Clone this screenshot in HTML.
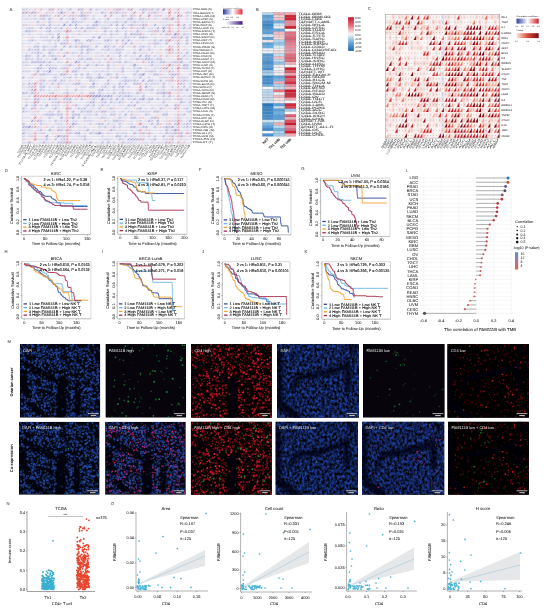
<!DOCTYPE html>
<html><head><meta charset="utf-8"><style>
html,body{margin:0;padding:0;background:#fff;}
svg{display:block;font-family:"Liberation Sans", sans-serif;text-rendering:geometricPrecision;will-change:transform;}
</style></head><body>
<svg width="550" height="609" viewBox="0 0 550 609">
<defs><pattern id="pA" patternUnits="userSpaceOnUse" x="22" y="8" width="2.92" height="3.09"><path d="M0.35 1.7h.45M1.32 1.7h.45M2.19 1.7h.45" stroke="#9494ac" stroke-width="0.55"/></pattern>
<filter id="fD1" x="0" y="0" width="1" height="1" color-interpolation-filters="sRGB"><feTurbulence type="fractalNoise" baseFrequency="0.44" numOctaves="2" seed="11"/><feColorMatrix type="matrix" values="0.2 0 0 0 -0.04  0.42 0 0 0 -0.1  1.05 0 0 0 -0.26  0 0 0 0 1"/></filter>
<filter id="fRh" x="0" y="0" width="1" height="1" color-interpolation-filters="sRGB"><feTurbulence type="fractalNoise" baseFrequency="0.32" numOctaves="2" seed="23"/><feColorMatrix type="matrix" values="1.9 0 0 0 -1.02  0.1 0 0 0 -0.06  0.3 0 0 0 -0.17  0 0 0 0 1"/></filter>
<filter id="fRl" x="0" y="0" width="1" height="1" color-interpolation-filters="sRGB"><feTurbulence type="fractalNoise" baseFrequency="0.3" numOctaves="2" seed="29"/><feColorMatrix type="matrix" values="1.6 0 0 0 -0.97  0.08 0 0 0 -0.05  0.2 0 0 0 -0.12  0 0 0 0 1"/></filter>
<filter id="fD2" x="0" y="0" width="1" height="1" color-interpolation-filters="sRGB"><feTurbulence type="fractalNoise" baseFrequency="0.4 0.33" numOctaves="2" seed="5"/><feColorMatrix type="matrix" values="0.22 0 0 0 -0.05  0.5 0 0 0 -0.13  1.25 0 0 0 -0.32  0 0 0 0 1"/></filter>
<filter id="bl1" x="-50%" y="-50%" width="200%" height="200%"><feGaussianBlur stdDeviation="0.45"/></filter>
<filter id="bl2" x="-50%" y="-50%" width="200%" height="200%"><feGaussianBlur stdDeviation="1.8"/></filter>
<clipPath id="mc1"><rect x="19.8" y="344" width="80.5" height="73.7"/></clipPath>
<clipPath id="mc2"><rect x="105.4" y="344" width="80.8" height="73.7"/></clipPath>
<clipPath id="mc3"><rect x="191.1" y="344" width="80.7" height="73.7"/></clipPath>
<clipPath id="mc4"><rect x="277" y="344" width="81.9" height="73.7"/></clipPath>
<clipPath id="mc5"><rect x="363" y="344" width="81.8" height="73.7"/></clipPath>
<clipPath id="mc6"><rect x="447.4" y="344" width="81.5" height="73.7"/></clipPath>
<clipPath id="mc7"><rect x="18.9" y="421.7" width="80.7" height="73.1"/></clipPath>
<clipPath id="mc8"><rect x="105.1" y="421.7" width="80.7" height="73.1"/></clipPath>
<clipPath id="mc9"><rect x="190.9" y="421.7" width="80.9" height="73.1"/></clipPath>
<clipPath id="mc10"><rect x="275.6" y="421.7" width="82.4" height="73.1"/></clipPath>
<clipPath id="mc11"><rect x="362" y="421.7" width="82.3" height="73.1"/></clipPath>
<clipPath id="mc12"><rect x="448.1" y="421.7" width="80.8" height="73.1"/></clipPath></defs>
<rect width="550" height="609" fill="#fff"/>
<rect x="22" y="8" width="169.5" height="136" fill="#f5f4fa"/>
<path fill="#ececf8" d="M22 8h8.8v3.1h-8.8zM39.5 8h2.9v3.1h-2.9zM57.1 8h5.8v3.1h-5.8zM65.8 8h2.9v3.1h-2.9zM95.1 8h5.8v3.1h-5.8zM103.8 8h2.9v3.1h-2.9zM112.6 8h2.9v3.1h-2.9zM121.4 8h2.9v3.1h-2.9zM138.9 8h2.9v3.1h-2.9zM147.7 8h2.9v3.1h-2.9zM153.5 8h2.9v3.1h-2.9zM174 8h2.9v3.1h-2.9zM27.8 11.1h2.9v3.1h-2.9zM45.4 11.1h8.8v3.1h-8.8zM57.1 11.1h2.9v3.1h-2.9zM62.9 11.1h5.8v3.1h-5.8zM86.3 11.1h5.8v3.1h-5.8zM95.1 11.1h2.9v3.1h-2.9zM103.8 11.1h2.9v3.1h-2.9zM112.6 11.1h2.9v3.1h-2.9zM118.4 11.1h8.8v3.1h-8.8zM130.1 11.1h2.9v3.1h-2.9zM147.7 11.1h5.8v3.1h-5.8zM159.4 11.1h2.9v3.1h-2.9zM174 11.1h2.9v3.1h-2.9zM188.6 11.1h2.9v3.1h-2.9zM22 14.2h2.9v3.1h-2.9zM27.8 14.2h8.8v3.1h-8.8zM48.3 14.2h2.9v3.1h-2.9zM62.9 14.2h17.5v3.1h-17.5zM86.3 14.2h2.9v3.1h-2.9zM92.1 14.2h2.9v3.1h-2.9zM124.3 14.2h2.9v3.1h-2.9zM133.1 14.2h2.9v3.1h-2.9zM153.5 14.2h5.8v3.1h-5.8zM165.2 14.2h2.9v3.1h-2.9zM185.7 14.2h2.9v3.1h-2.9zM22 17.3h20.5v3.1h-20.5zM51.2 17.3h2.9v3.1h-2.9zM65.8 17.3h5.8v3.1h-5.8zM74.6 17.3h2.9v3.1h-2.9zM80.4 17.3h2.9v3.1h-2.9zM86.3 17.3h2.9v3.1h-2.9zM92.1 17.3h2.9v3.1h-2.9zM98 17.3h2.9v3.1h-2.9zM103.8 17.3h2.9v3.1h-2.9zM115.5 17.3h8.8v3.1h-8.8zM133.1 17.3h2.9v3.1h-2.9zM141.8 17.3h8.8v3.1h-8.8zM153.5 17.3h5.8v3.1h-5.8zM162.3 17.3h2.9v3.1h-2.9zM174 17.3h2.9v3.1h-2.9zM185.7 17.3h2.9v3.1h-2.9zM51.2 20.4h2.9v3.1h-2.9zM60 20.4h2.9v3.1h-2.9zM65.8 20.4h2.9v3.1h-2.9zM77.5 20.4h5.8v3.1h-5.8zM92.1 20.4h2.9v3.1h-2.9zM98 20.4h2.9v3.1h-2.9zM103.8 20.4h11.7v3.1h-11.7zM118.4 20.4h5.8v3.1h-5.8zM130.1 20.4h2.9v3.1h-2.9zM136 20.4h11.7v3.1h-11.7zM159.4 20.4h8.8v3.1h-8.8zM22 23.5h2.9v3.1h-2.9zM27.8 23.5h2.9v3.1h-2.9zM36.6 23.5h5.8v3.1h-5.8zM51.2 23.5h8.8v3.1h-8.8zM65.8 23.5h2.9v3.1h-2.9zM71.7 23.5h2.9v3.1h-2.9zM77.5 23.5h2.9v3.1h-2.9zM86.3 23.5h2.9v3.1h-2.9zM98 23.5h11.7v3.1h-11.7zM127.2 23.5h2.9v3.1h-2.9zM133.1 23.5h5.8v3.1h-5.8zM162.3 23.5h5.8v3.1h-5.8zM171 23.5h2.9v3.1h-2.9zM179.8 23.5h2.9v3.1h-2.9zM188.6 23.5h2.9v3.1h-2.9zM24.9 26.5h8.8v3.1h-8.8zM54.1 26.5h5.8v3.1h-5.8zM68.8 26.5h2.9v3.1h-2.9zM83.4 26.5h2.9v3.1h-2.9zM100.9 26.5h2.9v3.1h-2.9zM106.8 26.5h2.9v3.1h-2.9zM115.5 26.5h2.9v3.1h-2.9zM124.3 26.5h2.9v3.1h-2.9zM133.1 26.5h2.9v3.1h-2.9zM138.9 26.5h2.9v3.1h-2.9zM147.7 26.5h5.8v3.1h-5.8zM165.2 26.5h2.9v3.1h-2.9zM179.8 26.5h2.9v3.1h-2.9zM185.7 26.5h2.9v3.1h-2.9zM30.8 29.6h2.9v3.1h-2.9zM45.4 29.6h2.9v3.1h-2.9zM54.1 29.6h11.7v3.1h-11.7zM77.5 29.6h2.9v3.1h-2.9zM89.2 29.6h2.9v3.1h-2.9zM109.7 29.6h2.9v3.1h-2.9zM118.4 29.6h2.9v3.1h-2.9zM124.3 29.6h2.9v3.1h-2.9zM130.1 29.6h2.9v3.1h-2.9zM138.9 29.6h2.9v3.1h-2.9zM147.7 29.6h5.8v3.1h-5.8zM171 29.6h2.9v3.1h-2.9zM182.7 29.6h2.9v3.1h-2.9zM22 32.7h2.9v3.1h-2.9zM27.8 32.7h2.9v3.1h-2.9zM36.6 32.7h5.8v3.1h-5.8zM45.4 32.7h8.8v3.1h-8.8zM65.8 32.7h2.9v3.1h-2.9zM71.7 32.7h2.9v3.1h-2.9zM77.5 32.7h5.8v3.1h-5.8zM86.3 32.7h2.9v3.1h-2.9zM95.1 32.7h2.9v3.1h-2.9zM100.9 32.7h5.8v3.1h-5.8zM112.6 32.7h5.8v3.1h-5.8zM141.8 32.7h2.9v3.1h-2.9zM150.6 32.7h2.9v3.1h-2.9zM159.4 32.7h2.9v3.1h-2.9zM171 32.7h2.9v3.1h-2.9zM179.8 32.7h2.9v3.1h-2.9zM185.7 32.7h5.8v3.1h-5.8zM30.8 35.8h2.9v3.1h-2.9zM39.5 35.8h8.8v3.1h-8.8zM62.9 35.8h2.9v3.1h-2.9zM71.7 35.8h2.9v3.1h-2.9zM103.8 35.8h2.9v3.1h-2.9zM109.7 35.8h5.8v3.1h-5.8zM118.4 35.8h5.8v3.1h-5.8zM127.2 35.8h8.8v3.1h-8.8zM144.7 35.8h2.9v3.1h-2.9zM153.5 35.8h2.9v3.1h-2.9zM162.3 35.8h5.8v3.1h-5.8zM182.7 35.8h2.9v3.1h-2.9zM27.8 38.9h2.9v3.1h-2.9zM33.7 38.9h2.9v3.1h-2.9zM42.5 38.9h5.8v3.1h-5.8zM54.1 38.9h2.9v3.1h-2.9zM62.9 38.9h2.9v3.1h-2.9zM71.7 38.9h2.9v3.1h-2.9zM92.1 38.9h5.8v3.1h-5.8zM109.7 38.9h2.9v3.1h-2.9zM124.3 38.9h2.9v3.1h-2.9zM130.1 38.9h2.9v3.1h-2.9zM136 38.9h2.9v3.1h-2.9zM141.8 38.9h2.9v3.1h-2.9zM147.7 38.9h5.8v3.1h-5.8zM156.4 38.9h2.9v3.1h-2.9zM162.3 38.9h2.9v3.1h-2.9zM171 38.9h5.8v3.1h-5.8zM22 42h2.9v3.1h-2.9zM27.8 42h2.9v3.1h-2.9zM36.6 42h2.9v3.1h-2.9zM48.3 42h2.9v3.1h-2.9zM54.1 42h2.9v3.1h-2.9zM68.8 42h2.9v3.1h-2.9zM74.6 42h8.8v3.1h-8.8zM89.2 42h2.9v3.1h-2.9zM95.1 42h5.8v3.1h-5.8zM103.8 42h8.8v3.1h-8.8zM138.9 42h2.9v3.1h-2.9zM147.7 42h2.9v3.1h-2.9zM159.4 42h2.9v3.1h-2.9zM174 42h2.9v3.1h-2.9zM179.8 42h2.9v3.1h-2.9zM45.4 45.1h8.8v3.1h-8.8zM71.7 45.1h2.9v3.1h-2.9zM89.2 45.1h2.9v3.1h-2.9zM109.7 45.1h2.9v3.1h-2.9zM118.4 45.1h2.9v3.1h-2.9zM127.2 45.1h2.9v3.1h-2.9zM138.9 45.1h2.9v3.1h-2.9zM144.7 45.1h5.8v3.1h-5.8zM153.5 45.1h2.9v3.1h-2.9zM159.4 45.1h2.9v3.1h-2.9zM171 45.1h2.9v3.1h-2.9zM182.7 45.1h2.9v3.1h-2.9zM30.8 48.2h5.8v3.1h-5.8zM45.4 48.2h5.8v3.1h-5.8zM54.1 48.2h2.9v3.1h-2.9zM77.5 48.2h2.9v3.1h-2.9zM92.1 48.2h2.9v3.1h-2.9zM100.9 48.2h5.8v3.1h-5.8zM109.7 48.2h5.8v3.1h-5.8zM121.4 48.2h2.9v3.1h-2.9zM133.1 48.2h2.9v3.1h-2.9zM141.8 48.2h2.9v3.1h-2.9zM150.6 48.2h2.9v3.1h-2.9zM185.7 48.2h2.9v3.1h-2.9zM24.9 51.3h2.9v3.1h-2.9zM30.8 51.3h5.8v3.1h-5.8zM39.5 51.3h2.9v3.1h-2.9zM51.2 51.3h2.9v3.1h-2.9zM62.9 51.3h2.9v3.1h-2.9zM68.8 51.3h8.8v3.1h-8.8zM95.1 51.3h5.8v3.1h-5.8zM103.8 51.3h2.9v3.1h-2.9zM109.7 51.3h8.8v3.1h-8.8zM127.2 51.3h2.9v3.1h-2.9zM138.9 51.3h8.8v3.1h-8.8zM156.4 51.3h2.9v3.1h-2.9zM165.2 51.3h2.9v3.1h-2.9zM171 51.3h5.8v3.1h-5.8zM179.8 51.3h2.9v3.1h-2.9zM22 54.4h2.9v3.1h-2.9zM48.3 54.4h2.9v3.1h-2.9zM54.1 54.4h5.8v3.1h-5.8zM71.7 54.4h2.9v3.1h-2.9zM80.4 54.4h8.8v3.1h-8.8zM95.1 54.4h2.9v3.1h-2.9zM100.9 54.4h2.9v3.1h-2.9zM112.6 54.4h2.9v3.1h-2.9zM124.3 54.4h2.9v3.1h-2.9zM130.1 54.4h5.8v3.1h-5.8zM153.5 54.4h2.9v3.1h-2.9zM165.2 54.4h2.9v3.1h-2.9zM185.7 54.4h5.8v3.1h-5.8zM27.8 57.5h5.8v3.1h-5.8zM39.5 57.5h2.9v3.1h-2.9zM45.4 57.5h2.9v3.1h-2.9zM51.2 57.5h2.9v3.1h-2.9zM65.8 57.5h5.8v3.1h-5.8zM77.5 57.5h2.9v3.1h-2.9zM83.4 57.5h2.9v3.1h-2.9zM95.1 57.5h5.8v3.1h-5.8zM103.8 57.5h2.9v3.1h-2.9zM112.6 57.5h2.9v3.1h-2.9zM118.4 57.5h2.9v3.1h-2.9zM130.1 57.5h5.8v3.1h-5.8zM138.9 57.5h5.8v3.1h-5.8zM150.6 57.5h5.8v3.1h-5.8zM185.7 57.5h2.9v3.1h-2.9zM22 60.5h5.8v3.1h-5.8zM45.4 60.5h2.9v3.1h-2.9zM51.2 60.5h2.9v3.1h-2.9zM57.1 60.5h5.8v3.1h-5.8zM83.4 60.5h2.9v3.1h-2.9zM92.1 60.5h2.9v3.1h-2.9zM98 60.5h2.9v3.1h-2.9zM109.7 60.5h8.8v3.1h-8.8zM127.2 60.5h5.8v3.1h-5.8zM144.7 60.5h5.8v3.1h-5.8zM153.5 60.5h5.8v3.1h-5.8zM165.2 60.5h8.8v3.1h-8.8zM182.7 60.5h2.9v3.1h-2.9zM188.6 60.5h2.9v3.1h-2.9zM22 63.6h8.8v3.1h-8.8zM45.4 63.6h11.7v3.1h-11.7zM62.9 63.6h5.8v3.1h-5.8zM71.7 63.6h2.9v3.1h-2.9zM89.2 63.6h5.8v3.1h-5.8zM98 63.6h5.8v3.1h-5.8zM112.6 63.6h2.9v3.1h-2.9zM121.4 63.6h2.9v3.1h-2.9zM130.1 63.6h2.9v3.1h-2.9zM136 63.6h2.9v3.1h-2.9zM147.7 63.6h2.9v3.1h-2.9zM153.5 63.6h8.8v3.1h-8.8zM165.2 63.6h2.9v3.1h-2.9zM171 63.6h5.8v3.1h-5.8zM33.7 66.7h2.9v3.1h-2.9zM42.5 66.7h2.9v3.1h-2.9zM60 66.7h2.9v3.1h-2.9zM74.6 66.7h2.9v3.1h-2.9zM80.4 66.7h2.9v3.1h-2.9zM112.6 66.7h2.9v3.1h-2.9zM127.2 66.7h2.9v3.1h-2.9zM133.1 66.7h5.8v3.1h-5.8zM144.7 66.7h2.9v3.1h-2.9zM153.5 66.7h8.8v3.1h-8.8zM171 66.7h2.9v3.1h-2.9zM179.8 66.7h2.9v3.1h-2.9zM188.6 66.7h2.9v3.1h-2.9zM22 69.8h8.8v3.1h-8.8zM33.7 69.8h2.9v3.1h-2.9zM42.5 69.8h5.8v3.1h-5.8zM51.2 69.8h2.9v3.1h-2.9zM57.1 69.8h2.9v3.1h-2.9zM62.9 69.8h2.9v3.1h-2.9zM77.5 69.8h2.9v3.1h-2.9zM86.3 69.8h2.9v3.1h-2.9zM92.1 69.8h17.5v3.1h-17.5zM112.6 69.8h8.8v3.1h-8.8zM130.1 69.8h5.8v3.1h-5.8zM144.7 69.8h5.8v3.1h-5.8zM153.5 69.8h2.9v3.1h-2.9zM159.4 69.8h2.9v3.1h-2.9zM165.2 69.8h2.9v3.1h-2.9zM171 69.8h2.9v3.1h-2.9zM30.8 72.9h2.9v3.1h-2.9zM36.6 72.9h2.9v3.1h-2.9zM45.4 72.9h11.7v3.1h-11.7zM68.8 72.9h2.9v3.1h-2.9zM89.2 72.9h2.9v3.1h-2.9zM103.8 72.9h2.9v3.1h-2.9zM109.7 72.9h2.9v3.1h-2.9zM121.4 72.9h2.9v3.1h-2.9zM136 72.9h2.9v3.1h-2.9zM147.7 72.9h2.9v3.1h-2.9zM162.3 72.9h2.9v3.1h-2.9zM168.1 72.9h2.9v3.1h-2.9zM188.6 72.9h2.9v3.1h-2.9zM27.8 76h5.8v3.1h-5.8zM39.5 76h2.9v3.1h-2.9zM51.2 76h2.9v3.1h-2.9zM57.1 76h2.9v3.1h-2.9zM62.9 76h5.8v3.1h-5.8zM74.6 76h2.9v3.1h-2.9zM80.4 76h2.9v3.1h-2.9zM92.1 76h5.8v3.1h-5.8zM103.8 76h2.9v3.1h-2.9zM109.7 76h2.9v3.1h-2.9zM121.4 76h2.9v3.1h-2.9zM133.1 76h5.8v3.1h-5.8zM147.7 76h2.9v3.1h-2.9zM159.4 76h8.8v3.1h-8.8zM179.8 76h8.8v3.1h-8.8zM27.8 79.1h2.9v3.1h-2.9zM36.6 79.1h2.9v3.1h-2.9zM48.3 79.1h5.8v3.1h-5.8zM62.9 79.1h2.9v3.1h-2.9zM68.8 79.1h2.9v3.1h-2.9zM74.6 79.1h2.9v3.1h-2.9zM92.1 79.1h5.8v3.1h-5.8zM118.4 79.1h5.8v3.1h-5.8zM130.1 79.1h2.9v3.1h-2.9zM136 79.1h2.9v3.1h-2.9zM153.5 79.1h5.8v3.1h-5.8zM165.2 79.1h2.9v3.1h-2.9zM179.8 79.1h2.9v3.1h-2.9zM185.7 79.1h5.8v3.1h-5.8zM22 82.2h2.9v3.1h-2.9zM30.8 82.2h2.9v3.1h-2.9zM36.6 82.2h2.9v3.1h-2.9zM42.5 82.2h5.8v3.1h-5.8zM60 82.2h14.6v3.1h-14.6zM80.4 82.2h2.9v3.1h-2.9zM95.1 82.2h2.9v3.1h-2.9zM103.8 82.2h2.9v3.1h-2.9zM109.7 82.2h5.8v3.1h-5.8zM121.4 82.2h2.9v3.1h-2.9zM147.7 82.2h11.7v3.1h-11.7zM168.1 82.2h2.9v3.1h-2.9zM182.7 82.2h2.9v3.1h-2.9zM188.6 82.2h2.9v3.1h-2.9zM22 85.3h8.8v3.1h-8.8zM48.3 85.3h2.9v3.1h-2.9zM54.1 85.3h2.9v3.1h-2.9zM65.8 85.3h2.9v3.1h-2.9zM80.4 85.3h5.8v3.1h-5.8zM100.9 85.3h2.9v3.1h-2.9zM106.8 85.3h2.9v3.1h-2.9zM124.3 85.3h5.8v3.1h-5.8zM147.7 85.3h5.8v3.1h-5.8zM159.4 85.3h2.9v3.1h-2.9zM171 85.3h2.9v3.1h-2.9zM188.6 85.3h2.9v3.1h-2.9zM27.8 88.4h2.9v3.1h-2.9zM42.5 88.4h2.9v3.1h-2.9zM48.3 88.4h2.9v3.1h-2.9zM54.1 88.4h2.9v3.1h-2.9zM65.8 88.4h2.9v3.1h-2.9zM80.4 88.4h2.9v3.1h-2.9zM106.8 88.4h2.9v3.1h-2.9zM112.6 88.4h8.8v3.1h-8.8zM136 88.4h2.9v3.1h-2.9zM144.7 88.4h5.8v3.1h-5.8zM156.4 88.4h8.8v3.1h-8.8zM168.1 88.4h8.8v3.1h-8.8zM182.7 88.4h2.9v3.1h-2.9zM188.6 88.4h2.9v3.1h-2.9zM27.8 91.5h2.9v3.1h-2.9zM36.6 91.5h2.9v3.1h-2.9zM48.3 91.5h2.9v3.1h-2.9zM62.9 91.5h2.9v3.1h-2.9zM68.8 91.5h5.8v3.1h-5.8zM80.4 91.5h2.9v3.1h-2.9zM100.9 91.5h2.9v3.1h-2.9zM106.8 91.5h2.9v3.1h-2.9zM118.4 91.5h2.9v3.1h-2.9zM124.3 91.5h8.8v3.1h-8.8zM138.9 91.5h5.8v3.1h-5.8zM150.6 91.5h2.9v3.1h-2.9zM179.8 91.5h2.9v3.1h-2.9zM22 94.5h2.9v3.1h-2.9zM27.8 94.5h2.9v3.1h-2.9zM115.5 94.5h2.9v3.1h-2.9zM121.4 94.5h2.9v3.1h-2.9zM130.1 94.5h8.8v3.1h-8.8zM171 94.5h2.9v3.1h-2.9zM182.7 94.5h5.8v3.1h-5.8zM24.9 97.6h2.9v3.1h-2.9zM42.5 97.6h2.9v3.1h-2.9zM51.2 97.6h2.9v3.1h-2.9zM57.1 97.6h2.9v3.1h-2.9zM74.6 97.6h2.9v3.1h-2.9zM89.2 97.6h2.9v3.1h-2.9zM95.1 97.6h2.9v3.1h-2.9zM103.8 97.6h5.8v3.1h-5.8zM118.4 97.6h2.9v3.1h-2.9zM127.2 97.6h5.8v3.1h-5.8zM136 97.6h2.9v3.1h-2.9zM144.7 97.6h2.9v3.1h-2.9zM159.4 97.6h11.7v3.1h-11.7zM174 97.6h2.9v3.1h-2.9zM185.7 97.6h5.8v3.1h-5.8zM24.9 100.7h2.9v3.1h-2.9zM30.8 100.7h2.9v3.1h-2.9zM42.5 100.7h2.9v3.1h-2.9zM51.2 100.7h5.8v3.1h-5.8zM62.9 100.7h2.9v3.1h-2.9zM86.3 100.7h2.9v3.1h-2.9zM98 100.7h5.8v3.1h-5.8zM112.6 100.7h5.8v3.1h-5.8zM121.4 100.7h2.9v3.1h-2.9zM130.1 100.7h2.9v3.1h-2.9zM138.9 100.7h2.9v3.1h-2.9zM144.7 100.7h5.8v3.1h-5.8zM182.7 100.7h2.9v3.1h-2.9zM30.8 103.8h2.9v3.1h-2.9zM39.5 103.8h2.9v3.1h-2.9zM51.2 103.8h8.8v3.1h-8.8zM62.9 103.8h2.9v3.1h-2.9zM77.5 103.8h2.9v3.1h-2.9zM83.4 103.8h2.9v3.1h-2.9zM89.2 103.8h2.9v3.1h-2.9zM98 103.8h2.9v3.1h-2.9zM103.8 103.8h5.8v3.1h-5.8zM112.6 103.8h2.9v3.1h-2.9zM118.4 103.8h5.8v3.1h-5.8zM130.1 103.8h2.9v3.1h-2.9zM141.8 103.8h2.9v3.1h-2.9zM150.6 103.8h2.9v3.1h-2.9zM156.4 103.8h8.8v3.1h-8.8zM179.8 103.8h11.7v3.1h-11.7zM24.9 106.9h2.9v3.1h-2.9zM39.5 106.9h5.8v3.1h-5.8zM51.2 106.9h2.9v3.1h-2.9zM57.1 106.9h2.9v3.1h-2.9zM74.6 106.9h2.9v3.1h-2.9zM80.4 106.9h2.9v3.1h-2.9zM89.2 106.9h5.8v3.1h-5.8zM106.8 106.9h2.9v3.1h-2.9zM124.3 106.9h5.8v3.1h-5.8zM136 106.9h2.9v3.1h-2.9zM144.7 106.9h2.9v3.1h-2.9zM150.6 106.9h5.8v3.1h-5.8zM168.1 106.9h2.9v3.1h-2.9zM182.7 106.9h2.9v3.1h-2.9zM24.9 110h8.8v3.1h-8.8zM36.6 110h2.9v3.1h-2.9zM48.3 110h2.9v3.1h-2.9zM83.4 110h2.9v3.1h-2.9zM95.1 110h2.9v3.1h-2.9zM106.8 110h8.8v3.1h-8.8zM118.4 110h5.8v3.1h-5.8zM127.2 110h5.8v3.1h-5.8zM136 110h14.6v3.1h-14.6zM159.4 110h2.9v3.1h-2.9zM165.2 110h2.9v3.1h-2.9zM185.7 110h2.9v3.1h-2.9zM30.8 113.1h5.8v3.1h-5.8zM42.5 113.1h2.9v3.1h-2.9zM54.1 113.1h2.9v3.1h-2.9zM83.4 113.1h11.7v3.1h-11.7zM100.9 113.1h5.8v3.1h-5.8zM118.4 113.1h2.9v3.1h-2.9zM133.1 113.1h5.8v3.1h-5.8zM147.7 113.1h2.9v3.1h-2.9zM174 113.1h2.9v3.1h-2.9zM179.8 113.1h2.9v3.1h-2.9zM22 116.2h8.8v3.1h-8.8zM62.9 116.2h2.9v3.1h-2.9zM68.8 116.2h2.9v3.1h-2.9zM86.3 116.2h5.8v3.1h-5.8zM98 116.2h2.9v3.1h-2.9zM103.8 116.2h5.8v3.1h-5.8zM121.4 116.2h5.8v3.1h-5.8zM136 116.2h2.9v3.1h-2.9zM165.2 116.2h2.9v3.1h-2.9zM174 116.2h2.9v3.1h-2.9zM179.8 116.2h2.9v3.1h-2.9zM185.7 116.2h2.9v3.1h-2.9zM42.5 119.3h2.9v3.1h-2.9zM48.3 119.3h2.9v3.1h-2.9zM57.1 119.3h8.8v3.1h-8.8zM71.7 119.3h5.8v3.1h-5.8zM83.4 119.3h11.7v3.1h-11.7zM106.8 119.3h2.9v3.1h-2.9zM118.4 119.3h5.8v3.1h-5.8zM130.1 119.3h2.9v3.1h-2.9zM136 119.3h5.8v3.1h-5.8zM144.7 119.3h2.9v3.1h-2.9zM150.6 119.3h2.9v3.1h-2.9zM165.2 119.3h2.9v3.1h-2.9zM171 119.3h5.8v3.1h-5.8zM179.8 119.3h2.9v3.1h-2.9zM185.7 119.3h2.9v3.1h-2.9zM30.8 122.4h2.9v3.1h-2.9zM42.5 122.4h5.8v3.1h-5.8zM54.1 122.4h8.8v3.1h-8.8zM68.8 122.4h2.9v3.1h-2.9zM77.5 122.4h2.9v3.1h-2.9zM89.2 122.4h2.9v3.1h-2.9zM95.1 122.4h2.9v3.1h-2.9zM106.8 122.4h8.8v3.1h-8.8zM127.2 122.4h5.8v3.1h-5.8zM141.8 122.4h2.9v3.1h-2.9zM165.2 122.4h2.9v3.1h-2.9zM179.8 122.4h5.8v3.1h-5.8zM188.6 122.4h2.9v3.1h-2.9zM36.6 125.5h5.8v3.1h-5.8zM48.3 125.5h5.8v3.1h-5.8zM57.1 125.5h8.8v3.1h-8.8zM77.5 125.5h8.8v3.1h-8.8zM98 125.5h5.8v3.1h-5.8zM109.7 125.5h2.9v3.1h-2.9zM115.5 125.5h5.8v3.1h-5.8zM136 125.5h2.9v3.1h-2.9zM162.3 125.5h2.9v3.1h-2.9zM174 125.5h2.9v3.1h-2.9zM179.8 125.5h5.8v3.1h-5.8zM188.6 125.5h2.9v3.1h-2.9zM22 128.5h8.8v3.1h-8.8zM36.6 128.5h2.9v3.1h-2.9zM51.2 128.5h2.9v3.1h-2.9zM62.9 128.5h2.9v3.1h-2.9zM68.8 128.5h2.9v3.1h-2.9zM77.5 128.5h2.9v3.1h-2.9zM83.4 128.5h2.9v3.1h-2.9zM92.1 128.5h2.9v3.1h-2.9zM98 128.5h2.9v3.1h-2.9zM112.6 128.5h2.9v3.1h-2.9zM118.4 128.5h2.9v3.1h-2.9zM130.1 128.5h2.9v3.1h-2.9zM136 128.5h2.9v3.1h-2.9zM147.7 128.5h2.9v3.1h-2.9zM159.4 128.5h2.9v3.1h-2.9zM171 128.5h2.9v3.1h-2.9zM185.7 128.5h2.9v3.1h-2.9zM24.9 131.6h8.8v3.1h-8.8zM36.6 131.6h8.8v3.1h-8.8zM51.2 131.6h2.9v3.1h-2.9zM60 131.6h2.9v3.1h-2.9zM71.7 131.6h2.9v3.1h-2.9zM83.4 131.6h2.9v3.1h-2.9zM92.1 131.6h2.9v3.1h-2.9zM100.9 131.6h2.9v3.1h-2.9zM106.8 131.6h5.8v3.1h-5.8zM115.5 131.6h11.7v3.1h-11.7zM136 131.6h2.9v3.1h-2.9zM144.7 131.6h2.9v3.1h-2.9zM150.6 131.6h2.9v3.1h-2.9zM159.4 131.6h2.9v3.1h-2.9zM168.1 131.6h5.8v3.1h-5.8zM188.6 131.6h2.9v3.1h-2.9zM22 134.7h2.9v3.1h-2.9zM27.8 134.7h5.8v3.1h-5.8zM77.5 134.7h5.8v3.1h-5.8zM100.9 134.7h2.9v3.1h-2.9zM130.1 134.7h5.8v3.1h-5.8zM138.9 134.7h5.8v3.1h-5.8zM147.7 134.7h2.9v3.1h-2.9zM153.5 134.7h2.9v3.1h-2.9zM168.1 134.7h2.9v3.1h-2.9zM182.7 134.7h2.9v3.1h-2.9zM188.6 134.7h2.9v3.1h-2.9zM22 137.8h2.9v3.1h-2.9zM36.6 137.8h8.8v3.1h-8.8zM60 137.8h2.9v3.1h-2.9zM71.7 137.8h5.8v3.1h-5.8zM80.4 137.8h2.9v3.1h-2.9zM86.3 137.8h2.9v3.1h-2.9zM98 137.8h14.6v3.1h-14.6zM121.4 137.8h2.9v3.1h-2.9zM147.7 137.8h5.8v3.1h-5.8zM162.3 137.8h5.8v3.1h-5.8zM176.9 137.8h2.9v3.1h-2.9zM182.7 137.8h5.8v3.1h-5.8zM22 140.9h2.9v3.1h-2.9zM30.8 140.9h2.9v3.1h-2.9zM39.5 140.9h2.9v3.1h-2.9zM45.4 140.9h5.8v3.1h-5.8zM86.3 140.9h2.9v3.1h-2.9zM95.1 140.9h2.9v3.1h-2.9zM112.6 140.9h2.9v3.1h-2.9zM124.3 140.9h11.7v3.1h-11.7zM141.8 140.9h5.8v3.1h-5.8zM150.6 140.9h2.9v3.1h-2.9zM156.4 140.9h8.8v3.1h-8.8zM171 140.9h2.9v3.1h-2.9zM179.8 140.9h2.9v3.1h-2.9z"/>
<path fill="#faecf0" d="M33.7 8h2.9v3.1h-2.9zM83.4 8h2.9v3.1h-2.9zM106.8 8h5.8v3.1h-5.8zM171 8h2.9v3.1h-2.9zM36.6 11.1h5.8v3.1h-5.8zM68.8 11.1h2.9v3.1h-2.9zM74.6 11.1h2.9v3.1h-2.9zM83.4 11.1h2.9v3.1h-2.9zM98 11.1h2.9v3.1h-2.9zM106.8 11.1h2.9v3.1h-2.9zM138.9 11.1h2.9v3.1h-2.9zM156.4 11.1h2.9v3.1h-2.9zM182.7 11.1h2.9v3.1h-2.9zM54.1 14.2h2.9v3.1h-2.9zM60 14.2h2.9v3.1h-2.9zM150.6 14.2h2.9v3.1h-2.9zM159.4 14.2h2.9v3.1h-2.9zM57.1 17.3h2.9v3.1h-2.9zM89.2 17.3h2.9v3.1h-2.9zM150.6 17.3h2.9v3.1h-2.9zM159.4 17.3h2.9v3.1h-2.9zM30.8 20.4h2.9v3.1h-2.9zM39.5 20.4h5.8v3.1h-5.8zM54.1 20.4h5.8v3.1h-5.8zM62.9 20.4h2.9v3.1h-2.9zM83.4 20.4h2.9v3.1h-2.9zM150.6 20.4h2.9v3.1h-2.9zM156.4 20.4h2.9v3.1h-2.9zM174 20.4h2.9v3.1h-2.9zM24.9 23.5h2.9v3.1h-2.9zM30.8 23.5h5.8v3.1h-5.8zM138.9 23.5h2.9v3.1h-2.9zM65.8 26.5h2.9v3.1h-2.9zM77.5 26.5h2.9v3.1h-2.9zM95.1 26.5h2.9v3.1h-2.9zM136 26.5h2.9v3.1h-2.9zM176.9 26.5h2.9v3.1h-2.9zM33.7 29.6h2.9v3.1h-2.9zM39.5 29.6h2.9v3.1h-2.9zM74.6 29.6h2.9v3.1h-2.9zM80.4 29.6h2.9v3.1h-2.9zM86.3 29.6h2.9v3.1h-2.9zM95.1 29.6h2.9v3.1h-2.9zM127.2 29.6h2.9v3.1h-2.9zM159.4 29.6h2.9v3.1h-2.9zM165.2 29.6h2.9v3.1h-2.9zM185.7 29.6h2.9v3.1h-2.9zM74.6 32.7h2.9v3.1h-2.9zM153.5 32.7h2.9v3.1h-2.9zM27.8 35.8h2.9v3.1h-2.9zM106.8 35.8h2.9v3.1h-2.9zM159.4 35.8h2.9v3.1h-2.9zM39.5 38.9h2.9v3.1h-2.9zM51.2 38.9h2.9v3.1h-2.9zM138.9 38.9h2.9v3.1h-2.9zM179.8 38.9h2.9v3.1h-2.9zM83.4 42h2.9v3.1h-2.9zM92.1 42h2.9v3.1h-2.9zM100.9 42h2.9v3.1h-2.9zM115.5 42h2.9v3.1h-2.9zM121.4 42h2.9v3.1h-2.9zM133.1 42h5.8v3.1h-5.8zM150.6 42h2.9v3.1h-2.9zM27.8 45.1h2.9v3.1h-2.9zM77.5 45.1h2.9v3.1h-2.9zM130.1 45.1h2.9v3.1h-2.9zM22 48.2h2.9v3.1h-2.9zM57.1 48.2h2.9v3.1h-2.9zM144.7 48.2h2.9v3.1h-2.9zM159.4 48.2h2.9v3.1h-2.9zM182.7 48.2h2.9v3.1h-2.9zM57.1 51.3h2.9v3.1h-2.9zM89.2 51.3h2.9v3.1h-2.9zM136 51.3h2.9v3.1h-2.9zM150.6 51.3h2.9v3.1h-2.9zM159.4 51.3h2.9v3.1h-2.9zM60 54.4h2.9v3.1h-2.9zM98 54.4h2.9v3.1h-2.9zM103.8 54.4h2.9v3.1h-2.9zM109.7 54.4h2.9v3.1h-2.9zM168.1 54.4h5.8v3.1h-5.8zM57.1 57.5h5.8v3.1h-5.8zM71.7 57.5h2.9v3.1h-2.9zM92.1 57.5h2.9v3.1h-2.9zM68.8 60.5h2.9v3.1h-2.9zM136 60.5h2.9v3.1h-2.9zM83.4 63.6h2.9v3.1h-2.9zM115.5 63.6h5.8v3.1h-5.8zM144.7 63.6h2.9v3.1h-2.9zM162.3 63.6h2.9v3.1h-2.9zM22 66.7h2.9v3.1h-2.9zM98 66.7h2.9v3.1h-2.9zM109.7 66.7h2.9v3.1h-2.9zM118.4 66.7h2.9v3.1h-2.9zM83.4 69.8h2.9v3.1h-2.9zM141.8 69.8h2.9v3.1h-2.9zM162.3 69.8h2.9v3.1h-2.9zM188.6 69.8h2.9v3.1h-2.9zM57.1 72.9h2.9v3.1h-2.9zM65.8 72.9h2.9v3.1h-2.9zM95.1 72.9h2.9v3.1h-2.9zM118.4 72.9h2.9v3.1h-2.9zM150.6 72.9h2.9v3.1h-2.9zM159.4 72.9h2.9v3.1h-2.9zM179.8 72.9h2.9v3.1h-2.9zM33.7 76h2.9v3.1h-2.9zM112.6 76h2.9v3.1h-2.9zM168.1 76h2.9v3.1h-2.9zM65.8 79.1h2.9v3.1h-2.9zM71.7 79.1h2.9v3.1h-2.9zM77.5 79.1h2.9v3.1h-2.9zM109.7 79.1h2.9v3.1h-2.9zM174 79.1h2.9v3.1h-2.9zM24.9 82.2h2.9v3.1h-2.9zM48.3 82.2h2.9v3.1h-2.9zM54.1 82.2h2.9v3.1h-2.9zM83.4 82.2h5.8v3.1h-5.8zM159.4 82.2h2.9v3.1h-2.9zM74.6 85.3h2.9v3.1h-2.9zM95.1 85.3h2.9v3.1h-2.9zM57.1 88.4h2.9v3.1h-2.9zM62.9 88.4h2.9v3.1h-2.9zM127.2 88.4h2.9v3.1h-2.9zM141.8 88.4h2.9v3.1h-2.9zM165.2 88.4h2.9v3.1h-2.9zM57.1 91.5h2.9v3.1h-2.9zM153.5 91.5h2.9v3.1h-2.9zM171 91.5h8.8v3.1h-8.8zM112.6 94.5h2.9v3.1h-2.9zM156.4 94.5h2.9v3.1h-2.9zM22 97.6h2.9v3.1h-2.9zM27.8 97.6h2.9v3.1h-2.9zM39.5 97.6h2.9v3.1h-2.9zM60 97.6h2.9v3.1h-2.9zM86.3 97.6h2.9v3.1h-2.9zM45.4 100.7h2.9v3.1h-2.9zM60 100.7h2.9v3.1h-2.9zM95.1 100.7h2.9v3.1h-2.9zM124.3 100.7h2.9v3.1h-2.9zM141.8 100.7h2.9v3.1h-2.9zM168.1 100.7h2.9v3.1h-2.9zM176.9 100.7h2.9v3.1h-2.9zM36.6 103.8h2.9v3.1h-2.9zM68.8 103.8h5.8v3.1h-5.8zM153.5 103.8h2.9v3.1h-2.9zM100.9 106.9h5.8v3.1h-5.8zM112.6 106.9h8.8v3.1h-8.8zM133.1 106.9h2.9v3.1h-2.9zM162.3 106.9h5.8v3.1h-5.8zM171 106.9h2.9v3.1h-2.9zM33.7 110h2.9v3.1h-2.9zM51.2 110h2.9v3.1h-2.9zM60 110h2.9v3.1h-2.9zM92.1 110h2.9v3.1h-2.9zM98 110h2.9v3.1h-2.9zM133.1 110h2.9v3.1h-2.9zM150.6 110h2.9v3.1h-2.9zM176.9 110h5.8v3.1h-5.8zM36.6 113.1h5.8v3.1h-5.8zM115.5 113.1h2.9v3.1h-2.9zM138.9 113.1h2.9v3.1h-2.9zM156.4 113.1h5.8v3.1h-5.8zM188.6 113.1h2.9v3.1h-2.9zM36.6 116.2h5.8v3.1h-5.8zM51.2 116.2h2.9v3.1h-2.9zM95.1 116.2h2.9v3.1h-2.9zM112.6 116.2h5.8v3.1h-5.8zM138.9 116.2h5.8v3.1h-5.8zM168.1 116.2h2.9v3.1h-2.9zM188.6 116.2h2.9v3.1h-2.9zM22 119.3h2.9v3.1h-2.9zM33.7 119.3h2.9v3.1h-2.9zM80.4 119.3h2.9v3.1h-2.9zM98 119.3h2.9v3.1h-2.9zM103.8 119.3h2.9v3.1h-2.9zM124.3 119.3h2.9v3.1h-2.9zM162.3 119.3h2.9v3.1h-2.9zM168.1 119.3h2.9v3.1h-2.9zM33.7 122.4h2.9v3.1h-2.9zM48.3 122.4h2.9v3.1h-2.9zM83.4 122.4h2.9v3.1h-2.9zM121.4 122.4h2.9v3.1h-2.9zM136 122.4h2.9v3.1h-2.9zM147.7 122.4h2.9v3.1h-2.9zM159.4 122.4h2.9v3.1h-2.9zM42.5 125.5h5.8v3.1h-5.8zM65.8 125.5h2.9v3.1h-2.9zM71.7 125.5h2.9v3.1h-2.9zM92.1 125.5h2.9v3.1h-2.9zM106.8 125.5h2.9v3.1h-2.9zM127.2 125.5h2.9v3.1h-2.9zM138.9 125.5h2.9v3.1h-2.9zM156.4 125.5h5.8v3.1h-5.8zM42.5 128.5h2.9v3.1h-2.9zM54.1 128.5h2.9v3.1h-2.9zM80.4 128.5h2.9v3.1h-2.9zM95.1 128.5h2.9v3.1h-2.9zM100.9 128.5h8.8v3.1h-8.8zM115.5 128.5h2.9v3.1h-2.9zM124.3 128.5h2.9v3.1h-2.9zM144.7 128.5h2.9v3.1h-2.9zM168.1 128.5h2.9v3.1h-2.9zM54.1 131.6h5.8v3.1h-5.8zM182.7 131.6h2.9v3.1h-2.9zM39.5 134.7h5.8v3.1h-5.8zM54.1 134.7h2.9v3.1h-2.9zM106.8 134.7h2.9v3.1h-2.9zM127.2 134.7h2.9v3.1h-2.9zM144.7 134.7h2.9v3.1h-2.9zM174 134.7h2.9v3.1h-2.9zM185.7 134.7h2.9v3.1h-2.9zM24.9 137.8h5.8v3.1h-5.8zM48.3 137.8h2.9v3.1h-2.9zM77.5 137.8h2.9v3.1h-2.9zM89.2 137.8h2.9v3.1h-2.9zM168.1 137.8h2.9v3.1h-2.9zM179.8 137.8h2.9v3.1h-2.9zM24.9 140.9h2.9v3.1h-2.9zM51.2 140.9h2.9v3.1h-2.9zM77.5 140.9h2.9v3.1h-2.9zM118.4 140.9h2.9v3.1h-2.9zM138.9 140.9h2.9v3.1h-2.9zM153.5 140.9h2.9v3.1h-2.9zM182.7 140.9h2.9v3.1h-2.9z"/>
<path fill="#e2e2f4" d="M48.3 8h5.8v3.1h-5.8zM68.8 8h2.9v3.1h-2.9zM77.5 8h5.8v3.1h-5.8zM89.2 8h2.9v3.1h-2.9zM115.5 8h5.8v3.1h-5.8zM127.2 8h5.8v3.1h-5.8zM141.8 8h5.8v3.1h-5.8zM150.6 8h2.9v3.1h-2.9zM156.4 8h2.9v3.1h-2.9zM22 11.1h5.8v3.1h-5.8zM30.8 11.1h5.8v3.1h-5.8zM71.7 11.1h2.9v3.1h-2.9zM80.4 11.1h2.9v3.1h-2.9zM100.9 11.1h2.9v3.1h-2.9zM109.7 11.1h2.9v3.1h-2.9zM115.5 11.1h2.9v3.1h-2.9zM133.1 11.1h2.9v3.1h-2.9zM141.8 11.1h2.9v3.1h-2.9zM153.5 11.1h2.9v3.1h-2.9zM185.7 11.1h2.9v3.1h-2.9zM39.5 14.2h8.8v3.1h-8.8zM57.1 14.2h2.9v3.1h-2.9zM83.4 14.2h2.9v3.1h-2.9zM103.8 14.2h2.9v3.1h-2.9zM109.7 14.2h2.9v3.1h-2.9zM121.4 14.2h2.9v3.1h-2.9zM130.1 14.2h2.9v3.1h-2.9zM179.8 14.2h2.9v3.1h-2.9zM42.5 17.3h2.9v3.1h-2.9zM48.3 17.3h2.9v3.1h-2.9zM60 17.3h2.9v3.1h-2.9zM71.7 17.3h2.9v3.1h-2.9zM83.4 17.3h2.9v3.1h-2.9zM106.8 17.3h2.9v3.1h-2.9zM127.2 17.3h5.8v3.1h-5.8zM138.9 17.3h2.9v3.1h-2.9zM165.2 17.3h2.9v3.1h-2.9zM36.6 20.4h2.9v3.1h-2.9zM48.3 20.4h2.9v3.1h-2.9zM71.7 20.4h5.8v3.1h-5.8zM115.5 20.4h2.9v3.1h-2.9zM124.3 20.4h2.9v3.1h-2.9zM133.1 20.4h2.9v3.1h-2.9zM42.5 23.5h2.9v3.1h-2.9zM48.3 23.5h2.9v3.1h-2.9zM68.8 23.5h2.9v3.1h-2.9zM74.6 23.5h2.9v3.1h-2.9zM92.1 23.5h5.8v3.1h-5.8zM109.7 23.5h2.9v3.1h-2.9zM115.5 23.5h2.9v3.1h-2.9zM121.4 23.5h2.9v3.1h-2.9zM130.1 23.5h2.9v3.1h-2.9zM141.8 23.5h2.9v3.1h-2.9zM153.5 23.5h2.9v3.1h-2.9zM182.7 23.5h2.9v3.1h-2.9zM39.5 26.5h2.9v3.1h-2.9zM45.4 26.5h5.8v3.1h-5.8zM60 26.5h2.9v3.1h-2.9zM74.6 26.5h2.9v3.1h-2.9zM80.4 26.5h2.9v3.1h-2.9zM86.3 26.5h8.8v3.1h-8.8zM103.8 26.5h2.9v3.1h-2.9zM121.4 26.5h2.9v3.1h-2.9zM141.8 26.5h2.9v3.1h-2.9zM156.4 26.5h2.9v3.1h-2.9zM182.7 26.5h2.9v3.1h-2.9zM188.6 26.5h2.9v3.1h-2.9zM24.9 29.6h5.8v3.1h-5.8zM48.3 29.6h2.9v3.1h-2.9zM68.8 29.6h2.9v3.1h-2.9zM83.4 29.6h2.9v3.1h-2.9zM103.8 29.6h2.9v3.1h-2.9zM115.5 29.6h2.9v3.1h-2.9zM136 29.6h2.9v3.1h-2.9zM156.4 29.6h2.9v3.1h-2.9zM162.3 29.6h2.9v3.1h-2.9zM57.1 32.7h2.9v3.1h-2.9zM109.7 32.7h2.9v3.1h-2.9zM124.3 32.7h2.9v3.1h-2.9zM130.1 32.7h8.8v3.1h-8.8zM165.2 32.7h2.9v3.1h-2.9zM182.7 32.7h2.9v3.1h-2.9zM51.2 35.8h2.9v3.1h-2.9zM92.1 35.8h2.9v3.1h-2.9zM124.3 35.8h2.9v3.1h-2.9zM138.9 35.8h5.8v3.1h-5.8zM171 35.8h5.8v3.1h-5.8zM179.8 35.8h2.9v3.1h-2.9zM185.7 35.8h2.9v3.1h-2.9zM30.8 38.9h2.9v3.1h-2.9zM48.3 38.9h2.9v3.1h-2.9zM57.1 38.9h2.9v3.1h-2.9zM65.8 38.9h2.9v3.1h-2.9zM77.5 38.9h2.9v3.1h-2.9zM86.3 38.9h5.8v3.1h-5.8zM103.8 38.9h5.8v3.1h-5.8zM115.5 38.9h2.9v3.1h-2.9zM121.4 38.9h2.9v3.1h-2.9zM127.2 38.9h2.9v3.1h-2.9zM153.5 38.9h2.9v3.1h-2.9zM159.4 38.9h2.9v3.1h-2.9zM165.2 38.9h2.9v3.1h-2.9zM185.7 38.9h2.9v3.1h-2.9zM60 42h5.8v3.1h-5.8zM124.3 42h2.9v3.1h-2.9zM130.1 42h2.9v3.1h-2.9zM153.5 42h5.8v3.1h-5.8zM165.2 42h2.9v3.1h-2.9zM176.9 42h2.9v3.1h-2.9zM185.7 42h2.9v3.1h-2.9zM33.7 45.1h5.8v3.1h-5.8zM42.5 45.1h2.9v3.1h-2.9zM54.1 45.1h2.9v3.1h-2.9zM62.9 45.1h2.9v3.1h-2.9zM68.8 45.1h2.9v3.1h-2.9zM74.6 45.1h2.9v3.1h-2.9zM80.4 45.1h8.8v3.1h-8.8zM95.1 45.1h2.9v3.1h-2.9zM103.8 45.1h5.8v3.1h-5.8zM112.6 45.1h2.9v3.1h-2.9zM121.4 45.1h2.9v3.1h-2.9zM133.1 45.1h2.9v3.1h-2.9zM141.8 45.1h2.9v3.1h-2.9zM27.8 48.2h2.9v3.1h-2.9zM36.6 48.2h2.9v3.1h-2.9zM42.5 48.2h2.9v3.1h-2.9zM51.2 48.2h2.9v3.1h-2.9zM60 48.2h2.9v3.1h-2.9zM80.4 48.2h2.9v3.1h-2.9zM86.3 48.2h5.8v3.1h-5.8zM106.8 48.2h2.9v3.1h-2.9zM115.5 48.2h5.8v3.1h-5.8zM138.9 48.2h2.9v3.1h-2.9zM147.7 48.2h2.9v3.1h-2.9zM165.2 48.2h2.9v3.1h-2.9zM171 48.2h2.9v3.1h-2.9zM36.6 51.3h2.9v3.1h-2.9zM48.3 51.3h2.9v3.1h-2.9zM80.4 51.3h2.9v3.1h-2.9zM86.3 51.3h2.9v3.1h-2.9zM118.4 51.3h2.9v3.1h-2.9zM133.1 51.3h2.9v3.1h-2.9zM185.7 51.3h2.9v3.1h-2.9zM24.9 54.4h5.8v3.1h-5.8zM36.6 54.4h2.9v3.1h-2.9zM42.5 54.4h2.9v3.1h-2.9zM51.2 54.4h2.9v3.1h-2.9zM62.9 54.4h2.9v3.1h-2.9zM106.8 54.4h2.9v3.1h-2.9zM118.4 54.4h2.9v3.1h-2.9zM138.9 54.4h2.9v3.1h-2.9zM144.7 54.4h5.8v3.1h-5.8zM182.7 54.4h2.9v3.1h-2.9zM24.9 57.5h2.9v3.1h-2.9zM36.6 57.5h2.9v3.1h-2.9zM80.4 57.5h2.9v3.1h-2.9zM86.3 57.5h5.8v3.1h-5.8zM136 57.5h2.9v3.1h-2.9zM144.7 57.5h5.8v3.1h-5.8zM156.4 57.5h5.8v3.1h-5.8zM179.8 57.5h2.9v3.1h-2.9zM30.8 60.5h14.6v3.1h-14.6zM48.3 60.5h2.9v3.1h-2.9zM77.5 60.5h2.9v3.1h-2.9zM118.4 60.5h2.9v3.1h-2.9zM124.3 60.5h2.9v3.1h-2.9zM150.6 60.5h2.9v3.1h-2.9zM159.4 60.5h5.8v3.1h-5.8zM174 60.5h2.9v3.1h-2.9zM179.8 60.5h2.9v3.1h-2.9zM39.5 63.6h2.9v3.1h-2.9zM68.8 63.6h2.9v3.1h-2.9zM86.3 63.6h2.9v3.1h-2.9zM95.1 63.6h2.9v3.1h-2.9zM106.8 63.6h2.9v3.1h-2.9zM150.6 63.6h2.9v3.1h-2.9zM182.7 63.6h5.8v3.1h-5.8zM36.6 66.7h5.8v3.1h-5.8zM48.3 66.7h8.8v3.1h-8.8zM62.9 66.7h2.9v3.1h-2.9zM77.5 66.7h2.9v3.1h-2.9zM83.4 66.7h2.9v3.1h-2.9zM106.8 66.7h2.9v3.1h-2.9zM121.4 66.7h2.9v3.1h-2.9zM138.9 66.7h2.9v3.1h-2.9zM165.2 66.7h2.9v3.1h-2.9zM182.7 66.7h5.8v3.1h-5.8zM36.6 69.8h2.9v3.1h-2.9zM71.7 69.8h5.8v3.1h-5.8zM121.4 69.8h2.9v3.1h-2.9zM136 69.8h2.9v3.1h-2.9zM150.6 69.8h2.9v3.1h-2.9zM39.5 72.9h5.8v3.1h-5.8zM60 72.9h5.8v3.1h-5.8zM74.6 72.9h2.9v3.1h-2.9zM80.4 72.9h2.9v3.1h-2.9zM86.3 72.9h2.9v3.1h-2.9zM98 72.9h2.9v3.1h-2.9zM106.8 72.9h2.9v3.1h-2.9zM115.5 72.9h2.9v3.1h-2.9zM133.1 72.9h2.9v3.1h-2.9zM138.9 72.9h2.9v3.1h-2.9zM153.5 72.9h5.8v3.1h-5.8zM171 72.9h5.8v3.1h-5.8zM22 76h2.9v3.1h-2.9zM54.1 76h2.9v3.1h-2.9zM68.8 76h2.9v3.1h-2.9zM86.3 76h5.8v3.1h-5.8zM100.9 76h2.9v3.1h-2.9zM115.5 76h2.9v3.1h-2.9zM124.3 76h2.9v3.1h-2.9zM138.9 76h2.9v3.1h-2.9zM171 76h2.9v3.1h-2.9zM42.5 79.1h2.9v3.1h-2.9zM54.1 79.1h2.9v3.1h-2.9zM60 79.1h2.9v3.1h-2.9zM89.2 79.1h2.9v3.1h-2.9zM106.8 79.1h2.9v3.1h-2.9zM124.3 79.1h5.8v3.1h-5.8zM133.1 79.1h2.9v3.1h-2.9zM141.8 79.1h2.9v3.1h-2.9zM147.7 79.1h5.8v3.1h-5.8zM159.4 79.1h2.9v3.1h-2.9zM171 79.1h2.9v3.1h-2.9zM182.7 79.1h2.9v3.1h-2.9zM27.8 82.2h2.9v3.1h-2.9zM39.5 82.2h2.9v3.1h-2.9zM51.2 82.2h2.9v3.1h-2.9zM57.1 82.2h2.9v3.1h-2.9zM74.6 82.2h5.8v3.1h-5.8zM106.8 82.2h2.9v3.1h-2.9zM118.4 82.2h2.9v3.1h-2.9zM124.3 82.2h2.9v3.1h-2.9zM133.1 82.2h5.8v3.1h-5.8zM144.7 82.2h2.9v3.1h-2.9zM162.3 82.2h2.9v3.1h-2.9zM179.8 82.2h2.9v3.1h-2.9zM30.8 85.3h2.9v3.1h-2.9zM39.5 85.3h5.8v3.1h-5.8zM89.2 85.3h5.8v3.1h-5.8zM103.8 85.3h2.9v3.1h-2.9zM112.6 85.3h2.9v3.1h-2.9zM118.4 85.3h5.8v3.1h-5.8zM144.7 85.3h2.9v3.1h-2.9zM162.3 85.3h2.9v3.1h-2.9zM182.7 85.3h2.9v3.1h-2.9zM30.8 88.4h2.9v3.1h-2.9zM39.5 88.4h2.9v3.1h-2.9zM74.6 88.4h2.9v3.1h-2.9zM98 88.4h5.8v3.1h-5.8zM121.4 88.4h2.9v3.1h-2.9zM150.6 88.4h2.9v3.1h-2.9zM179.8 88.4h2.9v3.1h-2.9zM185.7 88.4h2.9v3.1h-2.9zM22 91.5h5.8v3.1h-5.8zM30.8 91.5h2.9v3.1h-2.9zM51.2 91.5h2.9v3.1h-2.9zM65.8 91.5h2.9v3.1h-2.9zM89.2 91.5h5.8v3.1h-5.8zM98 91.5h2.9v3.1h-2.9zM112.6 91.5h2.9v3.1h-2.9zM121.4 91.5h2.9v3.1h-2.9zM136 91.5h2.9v3.1h-2.9zM156.4 91.5h5.8v3.1h-5.8zM165.2 91.5h2.9v3.1h-2.9zM100.9 94.5h5.8v3.1h-5.8zM109.7 94.5h2.9v3.1h-2.9zM118.4 94.5h2.9v3.1h-2.9zM124.3 94.5h5.8v3.1h-5.8zM141.8 94.5h2.9v3.1h-2.9zM162.3 94.5h2.9v3.1h-2.9zM168.1 94.5h2.9v3.1h-2.9zM188.6 94.5h2.9v3.1h-2.9zM33.7 97.6h5.8v3.1h-5.8zM48.3 97.6h2.9v3.1h-2.9zM54.1 97.6h2.9v3.1h-2.9zM62.9 97.6h8.8v3.1h-8.8zM80.4 97.6h2.9v3.1h-2.9zM92.1 97.6h2.9v3.1h-2.9zM109.7 97.6h2.9v3.1h-2.9zM115.5 97.6h2.9v3.1h-2.9zM121.4 97.6h2.9v3.1h-2.9zM133.1 97.6h2.9v3.1h-2.9zM138.9 97.6h2.9v3.1h-2.9zM147.7 97.6h5.8v3.1h-5.8zM156.4 97.6h2.9v3.1h-2.9zM179.8 97.6h2.9v3.1h-2.9zM36.6 100.7h2.9v3.1h-2.9zM57.1 100.7h2.9v3.1h-2.9zM68.8 100.7h2.9v3.1h-2.9zM89.2 100.7h5.8v3.1h-5.8zM103.8 100.7h2.9v3.1h-2.9zM109.7 100.7h2.9v3.1h-2.9zM118.4 100.7h2.9v3.1h-2.9zM136 100.7h2.9v3.1h-2.9zM162.3 100.7h2.9v3.1h-2.9zM179.8 100.7h2.9v3.1h-2.9zM188.6 100.7h2.9v3.1h-2.9zM24.9 103.8h2.9v3.1h-2.9zM33.7 103.8h2.9v3.1h-2.9zM74.6 103.8h2.9v3.1h-2.9zM86.3 103.8h2.9v3.1h-2.9zM92.1 103.8h2.9v3.1h-2.9zM100.9 103.8h2.9v3.1h-2.9zM127.2 103.8h2.9v3.1h-2.9zM133.1 103.8h2.9v3.1h-2.9zM165.2 103.8h2.9v3.1h-2.9zM174 103.8h2.9v3.1h-2.9zM22 106.9h2.9v3.1h-2.9zM30.8 106.9h2.9v3.1h-2.9zM54.1 106.9h2.9v3.1h-2.9zM68.8 106.9h2.9v3.1h-2.9zM77.5 106.9h2.9v3.1h-2.9zM83.4 106.9h2.9v3.1h-2.9zM98 106.9h2.9v3.1h-2.9zM109.7 106.9h2.9v3.1h-2.9zM138.9 106.9h2.9v3.1h-2.9zM159.4 106.9h2.9v3.1h-2.9zM174 106.9h2.9v3.1h-2.9zM185.7 106.9h2.9v3.1h-2.9zM22 110h2.9v3.1h-2.9zM57.1 110h2.9v3.1h-2.9zM71.7 110h2.9v3.1h-2.9zM80.4 110h2.9v3.1h-2.9zM86.3 110h5.8v3.1h-5.8zM100.9 110h5.8v3.1h-5.8zM153.5 110h5.8v3.1h-5.8zM188.6 110h2.9v3.1h-2.9zM45.4 113.1h8.8v3.1h-8.8zM57.1 113.1h5.8v3.1h-5.8zM71.7 113.1h8.8v3.1h-8.8zM95.1 113.1h2.9v3.1h-2.9zM109.7 113.1h5.8v3.1h-5.8zM124.3 113.1h2.9v3.1h-2.9zM144.7 113.1h2.9v3.1h-2.9zM162.3 113.1h5.8v3.1h-5.8zM182.7 113.1h2.9v3.1h-2.9zM48.3 116.2h2.9v3.1h-2.9zM60 116.2h2.9v3.1h-2.9zM77.5 116.2h2.9v3.1h-2.9zM83.4 116.2h2.9v3.1h-2.9zM100.9 116.2h2.9v3.1h-2.9zM118.4 116.2h2.9v3.1h-2.9zM130.1 116.2h5.8v3.1h-5.8zM150.6 116.2h5.8v3.1h-5.8zM30.8 119.3h2.9v3.1h-2.9zM36.6 119.3h5.8v3.1h-5.8zM54.1 119.3h2.9v3.1h-2.9zM112.6 119.3h5.8v3.1h-5.8zM147.7 119.3h2.9v3.1h-2.9zM156.4 119.3h2.9v3.1h-2.9zM188.6 119.3h2.9v3.1h-2.9zM22 122.4h2.9v3.1h-2.9zM39.5 122.4h2.9v3.1h-2.9zM74.6 122.4h2.9v3.1h-2.9zM98 122.4h5.8v3.1h-5.8zM118.4 122.4h2.9v3.1h-2.9zM150.6 122.4h2.9v3.1h-2.9zM156.4 122.4h2.9v3.1h-2.9zM174 122.4h2.9v3.1h-2.9zM185.7 122.4h2.9v3.1h-2.9zM22 125.5h5.8v3.1h-5.8zM30.8 125.5h2.9v3.1h-2.9zM68.8 125.5h2.9v3.1h-2.9zM103.8 125.5h2.9v3.1h-2.9zM112.6 125.5h2.9v3.1h-2.9zM130.1 125.5h5.8v3.1h-5.8zM141.8 125.5h5.8v3.1h-5.8zM153.5 125.5h2.9v3.1h-2.9zM165.2 125.5h8.8v3.1h-8.8zM185.7 125.5h2.9v3.1h-2.9zM39.5 128.5h2.9v3.1h-2.9zM48.3 128.5h2.9v3.1h-2.9zM57.1 128.5h5.8v3.1h-5.8zM86.3 128.5h2.9v3.1h-2.9zM109.7 128.5h2.9v3.1h-2.9zM165.2 128.5h2.9v3.1h-2.9zM22 131.6h2.9v3.1h-2.9zM68.8 131.6h2.9v3.1h-2.9zM74.6 131.6h5.8v3.1h-5.8zM89.2 131.6h2.9v3.1h-2.9zM95.1 131.6h2.9v3.1h-2.9zM133.1 131.6h2.9v3.1h-2.9zM141.8 131.6h2.9v3.1h-2.9zM165.2 131.6h2.9v3.1h-2.9zM174 131.6h2.9v3.1h-2.9zM179.8 131.6h2.9v3.1h-2.9zM60 134.7h5.8v3.1h-5.8zM83.4 134.7h2.9v3.1h-2.9zM115.5 134.7h5.8v3.1h-5.8zM124.3 134.7h2.9v3.1h-2.9zM162.3 134.7h2.9v3.1h-2.9zM171 134.7h2.9v3.1h-2.9zM179.8 134.7h2.9v3.1h-2.9zM45.4 137.8h2.9v3.1h-2.9zM54.1 137.8h2.9v3.1h-2.9zM62.9 137.8h2.9v3.1h-2.9zM83.4 137.8h2.9v3.1h-2.9zM118.4 137.8h2.9v3.1h-2.9zM127.2 137.8h11.7v3.1h-11.7zM141.8 137.8h2.9v3.1h-2.9zM153.5 137.8h2.9v3.1h-2.9zM171 137.8h2.9v3.1h-2.9zM27.8 140.9h2.9v3.1h-2.9zM42.5 140.9h2.9v3.1h-2.9zM57.1 140.9h8.8v3.1h-8.8zM68.8 140.9h2.9v3.1h-2.9zM89.2 140.9h2.9v3.1h-2.9zM100.9 140.9h2.9v3.1h-2.9zM106.8 140.9h2.9v3.1h-2.9zM121.4 140.9h2.9v3.1h-2.9zM165.2 140.9h2.9v3.1h-2.9z"/>
<path fill="#d8d8f0" d="M162.3 8h2.9v3.1h-2.9zM60 11.1h2.9v3.1h-2.9zM80.4 14.2h2.9v3.1h-2.9zM147.7 14.2h2.9v3.1h-2.9zM171 17.3h2.9v3.1h-2.9zM95.1 20.4h2.9v3.1h-2.9zM62.9 23.5h2.9v3.1h-2.9zM162.3 26.5h2.9v3.1h-2.9zM174 32.7h2.9v3.1h-2.9zM57.1 35.8h2.9v3.1h-2.9zM98 35.8h2.9v3.1h-2.9zM74.6 38.9h2.9v3.1h-2.9zM54.1 57.5h2.9v3.1h-2.9zM74.6 60.5h2.9v3.1h-2.9zM133.1 63.6h2.9v3.1h-2.9zM48.3 69.8h2.9v3.1h-2.9zM141.8 72.9h2.9v3.1h-2.9zM98 76h2.9v3.1h-2.9zM92.1 82.2h2.9v3.1h-2.9zM162.3 91.5h2.9v3.1h-2.9zM92.1 94.5h8.8v3.1h-8.8zM106.8 94.5h2.9v3.1h-2.9zM100.9 97.6h2.9v3.1h-2.9zM141.8 97.6h2.9v3.1h-2.9zM45.4 103.8h2.9v3.1h-2.9zM71.7 116.2h2.9v3.1h-2.9zM71.7 122.4h2.9v3.1h-2.9zM27.8 125.5h2.9v3.1h-2.9zM174 128.5h2.9v3.1h-2.9zM98 131.6h2.9v3.1h-2.9zM45.4 134.7h2.9v3.1h-2.9zM57.1 134.7h2.9v3.1h-2.9z"/>
<path fill="#f8dee4" d="M168.1 8h2.9v3.1h-2.9zM176.9 8h2.9v3.1h-2.9zM176.9 11.1h2.9v3.1h-2.9zM138.9 14.2h2.9v3.1h-2.9zM168.1 14.2h2.9v3.1h-2.9zM168.1 17.3h2.9v3.1h-2.9zM176.9 17.3h2.9v3.1h-2.9zM176.9 20.4h2.9v3.1h-2.9zM144.7 23.5h2.9v3.1h-2.9zM168.1 23.5h2.9v3.1h-2.9zM130.1 26.5h2.9v3.1h-2.9zM168.1 26.5h2.9v3.1h-2.9zM153.5 29.6h2.9v3.1h-2.9zM168.1 29.6h2.9v3.1h-2.9zM176.9 29.6h2.9v3.1h-2.9zM138.9 32.7h2.9v3.1h-2.9zM168.1 32.7h2.9v3.1h-2.9zM176.9 32.7h2.9v3.1h-2.9zM176.9 35.8h2.9v3.1h-2.9zM176.9 38.9h2.9v3.1h-2.9zM65.8 42h2.9v3.1h-2.9zM168.1 45.1h2.9v3.1h-2.9zM176.9 45.1h2.9v3.1h-2.9zM176.9 48.2h2.9v3.1h-2.9zM65.8 51.3h2.9v3.1h-2.9zM168.1 51.3h2.9v3.1h-2.9zM176.9 51.3h2.9v3.1h-2.9zM77.5 54.4h2.9v3.1h-2.9zM159.4 54.4h2.9v3.1h-2.9zM176.9 54.4h2.9v3.1h-2.9zM109.7 57.5h2.9v3.1h-2.9zM65.8 60.5h2.9v3.1h-2.9zM106.8 60.5h2.9v3.1h-2.9zM141.8 60.5h2.9v3.1h-2.9zM176.9 60.5h2.9v3.1h-2.9zM77.5 63.6h2.9v3.1h-2.9zM176.9 63.6h2.9v3.1h-2.9zM65.8 66.7h2.9v3.1h-2.9zM162.3 66.7h2.9v3.1h-2.9zM168.1 69.8h2.9v3.1h-2.9zM176.9 69.8h2.9v3.1h-2.9zM33.7 72.9h2.9v3.1h-2.9zM176.9 72.9h2.9v3.1h-2.9zM176.9 76h2.9v3.1h-2.9zM39.5 79.1h2.9v3.1h-2.9zM168.1 79.1h2.9v3.1h-2.9zM176.9 79.1h2.9v3.1h-2.9zM138.9 82.2h2.9v3.1h-2.9zM176.9 82.2h2.9v3.1h-2.9zM33.7 85.3h2.9v3.1h-2.9zM57.1 85.3h2.9v3.1h-2.9zM138.9 85.3h2.9v3.1h-2.9zM176.9 85.3h2.9v3.1h-2.9zM176.9 88.4h2.9v3.1h-2.9zM33.7 91.5h2.9v3.1h-2.9zM36.6 94.5h17.5v3.1h-17.5zM57.1 94.5h8.8v3.1h-8.8zM68.8 94.5h8.8v3.1h-8.8zM80.4 94.5h5.8v3.1h-5.8zM176.9 94.5h2.9v3.1h-2.9zM176.9 97.6h2.9v3.1h-2.9zM65.8 100.7h2.9v3.1h-2.9zM65.8 103.8h2.9v3.1h-2.9zM176.9 103.8h2.9v3.1h-2.9zM33.7 106.9h2.9v3.1h-2.9zM176.9 106.9h2.9v3.1h-2.9zM65.8 110h2.9v3.1h-2.9zM65.8 113.1h2.9v3.1h-2.9zM130.1 113.1h2.9v3.1h-2.9zM176.9 113.1h2.9v3.1h-2.9zM65.8 116.2h2.9v3.1h-2.9zM156.4 116.2h2.9v3.1h-2.9zM176.9 116.2h2.9v3.1h-2.9zM65.8 119.3h2.9v3.1h-2.9zM65.8 122.4h2.9v3.1h-2.9zM168.1 122.4h2.9v3.1h-2.9zM33.7 125.5h2.9v3.1h-2.9zM176.9 125.5h2.9v3.1h-2.9zM138.9 128.5h2.9v3.1h-2.9zM176.9 128.5h2.9v3.1h-2.9zM33.7 131.6h2.9v3.1h-2.9zM65.8 131.6h2.9v3.1h-2.9zM138.9 131.6h2.9v3.1h-2.9zM147.7 131.6h2.9v3.1h-2.9zM176.9 131.6h2.9v3.1h-2.9zM185.7 131.6h2.9v3.1h-2.9zM33.7 134.7h2.9v3.1h-2.9zM65.8 134.7h2.9v3.1h-2.9zM176.9 134.7h2.9v3.1h-2.9zM65.8 137.8h2.9v3.1h-2.9zM138.9 137.8h2.9v3.1h-2.9zM168.1 140.9h2.9v3.1h-2.9zM176.9 140.9h2.9v3.1h-2.9z"/>
<path fill="#f6ced4" d="M168.1 11.1h2.9v3.1h-2.9zM176.9 14.2h2.9v3.1h-2.9zM176.9 23.5h2.9v3.1h-2.9zM65.8 29.6h2.9v3.1h-2.9zM65.8 35.8h2.9v3.1h-2.9zM168.1 38.9h2.9v3.1h-2.9zM168.1 48.2h2.9v3.1h-2.9zM176.9 57.5h2.9v3.1h-2.9zM168.1 63.6h2.9v3.1h-2.9zM176.9 66.7h2.9v3.1h-2.9zM65.8 69.8h2.9v3.1h-2.9zM33.7 82.2h2.9v3.1h-2.9zM33.7 88.4h2.9v3.1h-2.9zM138.9 88.4h2.9v3.1h-2.9zM168.1 91.5h2.9v3.1h-2.9zM33.7 94.5h2.9v3.1h-2.9zM54.1 94.5h2.9v3.1h-2.9zM65.8 94.5h2.9v3.1h-2.9zM77.5 94.5h2.9v3.1h-2.9zM86.3 94.5h5.8v3.1h-5.8zM33.7 100.7h2.9v3.1h-2.9zM65.8 106.9h2.9v3.1h-2.9zM33.7 116.2h2.9v3.1h-2.9zM176.9 119.3h2.9v3.1h-2.9zM138.9 122.4h2.9v3.1h-2.9zM176.9 122.4h2.9v3.1h-2.9zM65.8 128.5h2.9v3.1h-2.9zM33.7 137.8h2.9v3.1h-2.9zM65.8 140.9h2.9v3.1h-2.9z"/>
<rect x="22" y="8" width="169.5" height="136" fill="url(#pA)"/>
<path stroke="#b4b4d8" stroke-width="0.75" stroke-linecap="round" fill="none" d="M23.1 10l0.8 -0.9M96.1 10l0.8 -1M140 10l0.8 -1M49.4 16.2l0.8 -0.9M40.6 19.3l0.8 -1M93.2 19.3l0.8 -0.9M142.9 19.3l0.8 -1M148.7 19.3l0.8 -1M163.3 19.3l0.8 -1M66.9 22.4l0.8 -1M23.1 25.5l0.8 -0.9M40.6 25.5l0.8 -1M43.5 25.5l0.8 -1M87.4 25.5l0.8 -0.9M172.1 25.5l0.8 -1M189.6 25.5l0.8 -1M28.9 28.6l0.8 -1M31.8 28.6l0.8 -1M104.9 28.6l0.8 -1M31.8 31.7l0.8 -1M110.7 31.7l0.8 -1M151.6 31.7l0.8 -1M49.4 34.8l0.8 -1M151.6 34.8l0.8 -1M186.7 34.7l0.8 -0.9M46.4 37.9l0.8 -1M110.7 37.9l0.8 -1M128.3 37.9l0.8 -1M134.1 37.9l0.8 -1M145.8 37.9l0.8 -1M49.3 41l0.8 -1M78.6 44l0.8 -1M81.5 44l0.8 -1M139.9 47.1l0.8 -1M172.1 47.1l0.8 -1M34.7 50.2l0.8 -1M49.4 50.2l0.8 -0.9M55.2 50.2l0.8 -0.9M93.2 50.2l0.8 -1M102 50.2l0.8 -1M119.5 50.2l0.8 -1M122.4 50.2l0.8 -1M31.8 53.3l0.8 -0.9M34.8 53.3l0.8 -0.9M72.7 53.3l0.8 -1M116.6 53.3l0.8 -1M172.1 53.3l0.8 -1M49.4 56.4l0.8 -1M125.3 56.4l0.8 -1M26 59.5l0.8 -1M104.9 59.5l0.8 -1M119.5 59.5l0.8 -1M139.9 59.5l0.8 -1M142.9 59.5l0.8 -1M151.6 59.5l0.8 -1M23.1 62.6l0.8 -1M26 62.6l0.8 -1M148.7 62.6l0.8 -1M189.6 62.6l0.8 -1M26 65.7l0.8 -1M49.3 65.7l0.8 -1M66.9 65.7l0.8 -1M102 65.7l0.8 -1M52.3 68.8l0.8 -1M75.7 68.8l0.8 -1M154.6 68.8l0.8 -1M46.4 71.9l0.8 -1M148.7 71.8l0.8 -1M110.7 74.9l0.8 -1M157.5 75l0.8 -1M169.2 74.9l0.8 -0.9M31.8 78l0.8 -0.9M75.7 78l0.8 -1M160.4 78l0.8 -0.9M180.9 78l0.8 -1M183.8 78l0.8 -1M49.4 81.1l0.8 -0.9M52.3 81.1l0.8 -0.9M131.2 81.1l0.8 -1M137 81.1l0.8 -1M166.3 81.1l0.8 -1M180.9 81.1l0.8 -1M186.7 81.1l0.8 -1M23.1 84.2l0.8 -1M31.8 84.2l0.8 -1M151.6 84.2l0.8 -1M154.6 84.2l0.8 -1M28.9 87.3l0.8 -1M40.6 87.3l0.8 -1M81.5 87.3l0.8 -1M84.4 87.3l0.8 -1M102 87.3l0.8 -1M172.1 87.3l0.8 -1M163.3 90.4l0.8 -1M37.7 93.5l0.8 -1M119.5 93.5l0.8 -1M125.3 93.5l0.8 -1M128.3 93.5l0.8 -1M140 93.5l0.8 -1M28.9 96.6l0.8 -0.9M122.4 96.6l0.8 -1M131.2 96.6l0.8 -1M104.9 99.7l0.8 -1M128.3 99.7l0.8 -1M166.2 99.7l0.8 -1M64 102.8l0.8 -1M102 102.8l0.8 -1M131.2 102.8l0.8 -1M148.7 102.7l0.8 -1M55.2 105.8l0.8 -0.9M58.1 105.9l0.8 -1M131.2 105.9l0.8 -1M189.6 105.8l0.8 -1M81.5 108.9l0.8 -1M99 109l0.8 -1M125.3 108.9l0.8 -1M137 108.9l0.8 -1M49.3 112l0.8 -1M84.4 112l0.8 -1M128.3 112l0.8 -1M119.5 115.1l0.8 -1M49.3 118.2l0.8 -1M69.8 118.2l0.8 -1M78.6 118.2l0.8 -1M104.9 118.2l0.8 -1M84.4 121.3l0.8 -1M90.3 121.3l0.8 -1M140 121.3l0.8 -1M151.6 121.3l0.8 -1M175 121.3l0.8 -0.9M180.9 121.3l0.8 -1M58.1 124.4l0.8 -1M90.3 124.4l0.8 -1M107.8 124.4l0.8 -1M166.3 124.4l0.8 -1M189.6 124.4l0.8 -1M52.3 127.5l0.8 -1M58.1 127.5l0.8 -0.9M99 127.5l0.8 -1M104.9 127.5l0.8 -1M119.5 127.5l0.8 -1M163.3 127.5l0.8 -1M183.8 127.5l0.8 -1M69.8 130.6l0.8 -1M172.1 130.6l0.8 -1M102 133.7l0.8 -1M122.4 133.7l0.8 -1M172.1 133.7l0.8 -0.9M23.1 136.7l0.8 -0.9M31.8 136.8l0.8 -1M119.5 136.8l0.8 -1M154.6 136.8l0.8 -1M61.1 139.8l0.8 -0.9M107.8 139.9l0.8 -1M122.4 139.8l0.8 -1M166.3 139.8l0.8 -1M113.7 142.9l0.8 -0.9"/>
<path stroke="#c0c0e4" stroke-width="0.75" stroke-linecap="round" fill="none" d="M26 10l0.7 -0.9M104.9 10l0.7 -0.9M104.9 13.1l0.7 -0.9M119.5 13.1l0.7 -0.9M93.2 16.2l0.7 -0.9M154.6 16.2l0.7 -0.9M26 19.3l0.7 -0.9M69.9 19.3l0.7 -0.9M81.5 19.3l0.7 -0.9M78.6 22.3l0.7 -0.9M104.9 22.3l0.7 -0.9M142.9 22.3l0.7 -0.9M37.7 25.4l0.7 -0.9M58.2 25.4l0.7 -0.9M134.1 25.4l0.7 -0.9M137.1 25.4l0.7 -0.9M107.8 28.5l0.7 -0.9M125.4 28.5l0.7 -0.9M140 28.5l0.7 -0.9M58.2 31.6l0.7 -0.9M64 31.6l0.7 -0.9M148.8 31.6l0.7 -0.9M52.3 34.7l0.7 -0.9M66.9 34.7l0.7 -0.9M102 34.7l0.7 -0.9M104.9 34.7l0.7 -0.9M142.9 34.7l0.7 -0.9M31.9 37.8l0.7 -0.9M40.6 37.8l0.7 -0.9M43.5 40.9l0.7 -0.9M46.5 40.9l0.7 -0.9M142.9 40.9l0.7 -0.9M172.1 40.9l0.7 -0.9M37.7 44l0.7 -0.9M55.2 44l0.7 -0.9M99.1 44l0.7 -0.9M148.8 44l0.7 -0.9M46.5 47.1l0.7 -0.9M52.3 47.1l0.7 -0.9M119.5 47.1l0.7 -0.9M154.6 47.1l0.7 -0.9M31.9 50.2l0.7 -0.9M104.9 50.2l0.7 -0.9M75.7 53.3l0.7 -0.9M180.9 53.3l0.7 -0.9M55.2 56.3l0.7 -0.9M81.5 56.4l0.7 -0.9M102 56.3l0.7 -0.9M40.6 59.4l0.7 -0.9M93.2 62.5l0.7 -0.9M99.1 62.5l0.7 -0.9M134.1 68.7l0.7 -0.9M137.1 68.7l0.7 -0.9M172.1 68.7l0.7 -0.9M180.9 68.7l0.7 -0.9M64 71.8l0.7 -0.9M96.1 71.8l0.7 -0.9M145.8 71.8l0.7 -0.9M31.9 74.9l0.7 -0.9M49.4 74.9l0.7 -0.9M55.2 74.9l0.7 -0.9M189.7 74.9l0.7 -0.9M64 78l0.7 -0.9M81.5 78l0.7 -0.9M166.3 78l0.7 -0.9M64 81.1l0.7 -0.9M69.9 81.1l0.7 -0.9M61.1 84.2l0.7 -0.9M72.8 84.2l0.7 -0.9M189.7 84.2l0.7 -0.9M49.4 87.3l0.7 -0.9M148.8 87.3l0.7 -0.9M189.7 87.3l0.7 -0.9M66.9 90.4l0.7 -0.9M145.8 90.3l0.7 -0.9M172.1 90.4l0.7 -0.9M49.4 93.4l0.7 -0.9M64 93.4l0.7 -0.9M116.6 96.5l0.7 -0.9M183.8 96.5l0.7 -0.9M26 99.6l0.7 -0.9M52.3 99.6l0.7 -0.9M75.7 99.6l0.7 -0.9M131.2 99.6l0.7 -0.9M163.4 99.6l0.7 -0.9M169.2 99.6l0.7 -0.9M175.1 99.6l0.7 -0.9M31.9 105.8l0.7 -0.9M52.3 105.8l0.7 -0.9M183.8 108.9l0.7 -0.9M131.2 112l0.7 -0.9M145.8 112l0.7 -0.9M87.4 115.1l0.7 -0.9M90.3 115.1l0.7 -0.9M104.9 115.1l0.7 -0.9M180.9 115.1l0.7 -0.9M61.1 121.2l0.7 -0.9M64 121.3l0.7 -0.9M72.8 121.3l0.7 -0.9M75.7 121.3l0.7 -0.9M122.5 121.3l0.7 -0.9M172.1 121.3l0.7 -0.9M61.1 124.3l0.7 -0.9M96.2 124.3l0.7 -0.9M37.7 127.4l0.7 -0.9M61.1 127.4l0.7 -0.9M64 127.4l0.7 -0.9M189.7 127.4l0.7 -0.9M113.7 130.5l0.7 -0.9M148.8 130.5l0.7 -0.9M40.6 133.6l0.7 -0.9M93.2 133.6l0.7 -0.9M116.6 133.6l0.7 -0.9M145.8 133.6l0.7 -0.9M169.2 133.6l0.7 -0.9M28.9 136.7l0.7 -0.9M78.6 136.7l0.7 -0.9M81.6 136.7l0.7 -0.9M131.2 136.7l0.7 -0.9M169.2 136.7l0.7 -0.9M183.8 136.7l0.7 -0.9M23.1 139.8l0.7 -0.9M151.7 139.8l0.7 -0.9M128.3 142.9l0.7 -0.9M131.2 142.9l0.7 -0.9"/>
<path stroke="#e49ca8" stroke-width="0.75" stroke-linecap="round" fill="none" d="M34.7 10l0.8 -1M113.6 10l0.8 -1M122.4 10l0.8 -1M148.7 10l0.8 -1M87.3 13.1l0.8 -1M148.7 13.1l0.8 -1M151.6 13.1l0.8 -1M78.6 16.2l0.8 -1M125.3 16.2l0.8 -1M157.5 16.2l0.9 -1M169.2 19.3l0.9 -1M177.9 19.3l0.8 -1M139.9 25.5l0.8 -1M66.9 28.6l0.8 -1M131.2 28.6l0.9 -1M137 28.6l0.8 -1M177.9 28.6l0.8 -1M177.9 37.9l0.9 -1M66.9 44l0.8 -1M122.4 44l0.8 -1M78.6 56.4l0.8 -1M160.4 56.4l0.9 -1M107.8 62.6l0.9 -1M66.9 68.8l0.8 -1M66.9 74.9l0.8 -1M177.9 78.1l0.9 -1M40.6 81.1l0.8 -1M78.6 81.1l0.8 -1M169.2 81.1l0.9 -1M177.9 87.3l0.8 -1M177.9 93.5l0.8 -1M66.9 105.9l0.9 -1M113.6 108.9l0.8 -1M34.7 112l0.8 -1M177.9 112l0.8 -1M131.2 115.1l0.9 -1M34.7 121.3l0.8 -1M104.9 121.3l0.8 -1M169.2 121.3l0.8 -1M160.4 124.4l0.8 -1M66.9 127.5l0.8 -1M169.2 139.9l0.8 -1"/>
<path stroke="#e4909c" stroke-width="0.75" stroke-linecap="round" fill="none" d="M40.5 10.1l0.9 -1.1M63.9 13.2l0.9 -1.1M55.1 16.3l0.9 -1.1M63.9 16.3l0.9 -1.1M72.7 16.3l0.9 -1.1M160.4 16.3l0.9 -1.1M169.1 28.6l0.9 -1.1M154.5 31.7l0.9 -1.1M142.8 62.7l0.9 -1.1M139.9 84.3l0.9 -1.1M58.1 87.4l0.9 -1.1M61 96.6l0.9 -1.1M69.7 96.7l0.9 -1.1M177.9 96.6l0.9 -1.1M66.9 102.8l0.9 -1.1M34.7 109l0.9 -1.1M66.8 118.3l0.9 -1.1M157.4 118.3l0.9 -1.1M177.9 127.6l0.9 -1.1"/>
<path stroke="#e47884" stroke-width="0.75" stroke-linecap="round" fill="none" d="M49.2 10.2l1.1 -1.3M116.4 10.2l1.1 -1.3M119.3 10.2l1.1 -1.3M142.7 10.2l1.1 -1.3M110.6 16.4l1.1 -1.3M177.8 31.8l1.1 -1.3M66.8 53.5l1.1 -1.3M177.8 56.6l1.1 -1.3M177.8 81.3l1.1 -1.3M139.8 87.5l1.1 -1.3M52.1 96.8l1.1 -1.3M177.8 130.7l1.1 -1.3M66.8 136.9l1.1 -1.3M139.8 140l1.1 -1.3"/>
<path stroke="#e48490" stroke-width="0.75" stroke-linecap="round" fill="none" d="M52.2 10.1l1 -1.2M69.7 10.1l1 -1.2M78.5 10.2l1 -1.2M128.2 10.1l1 -1.2M169.1 10.1l1 -1.2M22.9 13.3l1 -1.2M72.6 13.3l1 -1.2M177.9 13.2l1 -1.2M84.3 16.3l1 -1.2M104.8 16.3l1 -1.2M131.1 16.3l1 -1.2M139.9 16.3l1 -1.2M169.1 16.3l1 -1.2M177.9 22.5l1 -1.2M145.7 25.6l1 -1.2M169.1 34.9l1 -1.2M177.9 34.9l1 -1.2M177.9 41.1l1 -1.2M169.1 47.2l1 -1.2M177.8 47.2l1 -1.2M177.8 50.3l1 -1.2M169.1 53.4l1 -1.2M110.6 59.6l1 -1.2M169.1 72l1 -1.2M177.9 75l1 -1.2M177.8 84.3l1 -1.2M34.7 87.4l1 -1.2M37.6 96.7l1 -1.2M40.5 96.7l1 -1.2M72.6 96.7l1 -1.2M75.6 96.7l1 -1.2M81.4 96.7l1 -1.2M177.9 106l1 -1.2M139.8 130.7l1 -1.2M34.7 133.8l1 -1.2M177.9 133.8l1 -1.2M186.6 133.8l1 -1.2M34.7 136.9l1 -1.2M177.8 136.9l1 -1.2"/>
<path stroke="#e4a8a8" stroke-width="0.75" stroke-linecap="round" fill="none" d="M58.1 10l0.8 -1M113.7 13.1l0.8 -1M175 13.1l0.8 -0.9M28.9 16.2l0.8 -0.9M34.8 16.2l0.8 -0.9M75.7 16.2l0.8 -1M87.4 16.2l0.8 -1M134.1 16.2l0.8 -1M186.7 16.2l0.8 -0.9M175 22.4l0.8 -0.9M34.8 31.7l0.8 -0.9M183.8 50.2l0.8 -0.9M151.7 53.3l0.8 -0.9M169.2 78l0.8 -1M72.7 105.8l0.8 -1M52.3 112l0.8 -0.9M99 112l0.8 -1M34.8 124.4l0.8 -0.9M180.9 139.8l0.8 -1M52.3 142.9l0.8 -0.9M183.8 142.9l0.8 -0.9"/>
<path stroke="#e4a8b4" stroke-width="0.75" stroke-linecap="round" fill="none" d="M61.1 10l0.7 -0.9M37.7 13.1l0.7 -0.9M52.3 13.1l0.7 -0.9M58.2 13.1l0.8 -0.9M84.5 13.1l0.8 -0.9M157.5 13.1l0.8 -0.9M26 25.5l0.8 -0.9M154.6 34.7l0.8 -0.9M151.7 44l0.8 -0.9M160.4 50.2l0.8 -0.9M142.9 118.2l0.8 -0.9M72.8 127.4l0.7 -0.9"/>
<path stroke="#9c9ccc" stroke-width="0.75" stroke-linecap="round" fill="none" d="M81.4 10.1l1 -1.2M157.4 10.1l1 -1.2M116.5 13.2l1 -1.2M142.8 13.2l1 -1.2M72.7 19.4l1 -1.2M84.3 19.4l1 -1.2M107.7 19.4l1 -1.2M125.3 22.5l1 -1.2M93.1 25.6l1 -1.2M122.3 25.6l1 -1.2M131.1 25.6l1 -1.2M154.5 25.6l1 -1.2M183.7 25.6l1 -1.2M166.2 34.9l1 -1.2M52.2 38l1 -1.2M122.3 41.1l1 -1.2M186.6 41l1 -1.2M61 50.3l1 -1.2M37.6 53.4l1 -1.2M186.6 53.4l1 -1.2M25.9 56.5l1 -1.2M119.4 56.5l1 -1.2M180.8 59.6l1 -1.2M49.3 62.7l1 -1.2M163.2 62.7l1 -1.2M107.7 65.8l1 -1.2M186.6 65.8l1 -1.2M139.9 68.9l1 -1.2M75.6 71.9l1 -1.2M174.9 75.1l1 -1.2M55.1 81.2l1 -1.2M183.7 81.2l1 -1.2M28.8 84.3l1 -1.2M58 84.3l1 -1.2M119.4 84.3l1 -1.2M43.4 87.4l1 -1.2M75.6 90.5l1 -1.2M31.7 93.6l1 -1.2M66.8 93.6l1 -1.2M122.3 93.6l1 -1.2M119.4 96.7l1 -1.2M142.8 96.7l1 -1.2M169.1 96.7l1 -1.2M37.6 99.8l1 -1.2M139.9 99.8l1 -1.2M37.6 102.9l1 -1.2M87.3 106l1 -1.2M174.9 105.9l1 -1.2M31.7 109.1l1 -1.2M55.1 109l1 -1.2M81.4 112.1l1 -1.2M101.9 112.1l1 -1.2M72.7 115.2l1 -1.2M166.2 115.2l1 -1.2M84.3 118.3l1 -1.2M116.5 121.4l1 -1.2M189.6 121.4l1 -1.2M98.9 124.5l1 -1.2M157.4 124.5l1 -1.2M134 133.8l1 -1.2M166.2 133.8l1 -1.2M163.2 136.9l1 -1.2M84.3 140l1 -1.2M134 140l1 -1.2M142.8 140l1 -1.2M154.5 139.9l1 -1.2M43.4 143l1 -1.2M69.7 143.1l1 -1.2"/>
<path stroke="#9090cc" stroke-width="0.75" stroke-linecap="round" fill="none" d="M90.2 10.2l1 -1.2M101.8 13.3l1.1 -1.3M49.2 19.5l1.1 -1.3M60.9 19.5l1.1 -1.3M69.7 25.6l1.1 -1.3M75.5 25.6l1.1 -1.3M96 25.6l1 -1.2M116.4 25.6l1.1 -1.3M142.8 25.6l1.1 -1.3M142.7 28.7l1.1 -1.3M25.9 31.8l1 -1.3M49.2 31.8l1 -1.2M58 34.9l1.1 -1.3M131 34.9l1.1 -1.3M142.8 38l1 -1.2M180.8 38l1 -1.2M87.2 41.1l1.1 -1.3M90.1 41.1l1.1 -1.3M116.5 41.1l1 -1.2M128.1 41.1l1.1 -1.3M125.2 44.2l1.1 -1.3M177.8 44.2l1 -1.2M104.8 47.3l1.1 -1.3M87.2 50.4l1.1 -1.3M139.8 50.4l1.1 -1.3M49.2 53.5l1.1 -1.3M63.8 56.6l1.1 -1.3M90.2 59.6l1 -1.2M145.7 59.6l1.1 -1.3M148.6 59.6l1.1 -1.3M43.4 62.7l1.1 -1.3M40.5 65.8l1.1 -1.3M69.7 65.8l1 -1.2M87.2 65.8l1 -1.2M183.6 65.8l1.1 -1.3M166.1 68.9l1 -1.2M72.6 72l1.1 -1.3M63.9 75.1l1 -1.2M107.7 75.1l1 -1.2M154.4 75.1l1.1 -1.3M172 75.1l1 -1.2M172 78.2l1 -1.2M148.6 81.3l1.1 -1.3M75.5 84.4l1.1 -1.3M101.8 90.6l1.1 -1.3M186.6 90.6l1.1 -1.3M22.9 93.6l1 -1.2M104.8 96.7l1.1 -1.3M110.6 96.7l1 -1.2M128.1 96.7l1.1 -1.3M34.6 99.8l1 -1.3M69.7 99.8l1 -1.3M116.4 99.8l1.1 -1.3M134 99.8l1.1 -1.3M151.5 99.8l1.1 -1.3M180.7 102.9l1.1 -1.3M134 106l1.1 -1.3M139.8 109.1l1 -1.2M52.2 115.3l1 -1.2M78.5 115.3l1 -1.2M125.2 115.3l1.1 -1.3M163.2 115.2l1 -1.2M134 118.4l1.1 -1.3M154.5 118.3l1 -1.2M37.6 121.4l1 -1.3M148.6 121.5l1.1 -1.3M23 127.6l1 -1.2M25.9 127.6l1.1 -1.3M69.7 127.6l1.1 -1.3M131.1 127.6l1.1 -1.3M145.7 127.7l1.1 -1.3M49.2 130.7l1.1 -1.3M58 130.7l1.1 -1.3M87.2 130.7l1 -1.2M23 133.8l1 -1.2M180.7 133.8l1.1 -1.3M63.8 136.9l1.1 -1.3M116.4 136.9l1.1 -1.3M180.8 136.9l1 -1.2M131.1 140l1.1 -1.3M136.9 140l1 -1.3M28.8 143.1l1 -1.2M90.2 143.1l1 -1.2M107.7 143.1l1.1 -1.3"/>
<path stroke="#f0a8b4" stroke-width="0.75" stroke-linecap="round" fill="none" d="M107.8 10l0.7 -0.9M46.5 13.1l0.7 -0.9M116.6 44l0.7 -0.9M78.6 47.1l0.7 -0.9M58.2 53.3l0.7 -0.9M163.4 65.6l0.7 -0.9M160.4 74.9l0.7 -0.9M113.7 78l0.7 -0.9M175.1 81.1l0.7 -0.9M163.4 108.9l0.7 -0.9M40.6 118.2l0.7 -0.9M140 118.2l0.7 -0.9M46.5 127.4l0.7 -0.9M160.5 127.4l0.7 -0.9M145.8 130.5l0.7 -0.9M55.2 136.7l0.7 -0.9"/>
<path stroke="#d86c78" stroke-width="0.75" stroke-linecap="round" fill="none" d="M131 10.3l1.2 -1.5M66.7 109.2l1.2 -1.5"/>
<path stroke="#a8a8d8" stroke-width="0.75" stroke-linecap="round" fill="none" d="M145.8 10.1l0.8 -1M186.7 13.1l0.8 -1M46.4 16.2l0.8 -1M58.1 16.3l0.9 -1.1M180.8 16.3l0.9 -1.1M43.5 19.3l0.9 -1M128.2 19.3l0.9 -1M139.9 19.3l0.9 -1.1M166.2 19.4l0.9 -1.1M37.6 22.4l0.9 -1M49.3 22.4l0.9 -1M75.6 22.4l0.9 -1.1M116.5 22.4l0.9 -1.1M134.1 22.4l0.9 -1M110.7 25.5l0.9 -1M40.6 28.6l0.9 -1.1M46.4 28.6l0.9 -1M49.3 28.6l0.9 -1.1M61 28.6l0.8 -1M75.6 28.6l0.9 -1.1M87.3 28.6l0.9 -1M90.2 28.6l0.9 -1M93.2 28.6l0.9 -1M189.6 28.6l0.9 -1M69.8 31.7l0.9 -1.1M84.4 31.7l0.9 -1M104.8 31.7l0.9 -1.1M157.4 31.7l0.9 -1.1M110.7 34.8l0.9 -1M125.3 34.8l0.9 -1.1M134.1 34.8l0.9 -1.1M137 34.8l0.9 -1.1M183.8 34.8l0.8 -1M125.3 37.9l0.8 -1M139.9 37.9l0.9 -1.1M172.1 37.9l0.9 -1.1M175 37.9l0.9 -1M186.7 37.9l0.9 -1.1M31.8 41l0.9 -1M58.1 41l0.9 -1.1M66.8 41l0.9 -1.1M78.6 41l0.9 -1M104.9 41l0.9 -1M154.5 41l0.9 -1.1M160.4 41l0.9 -1M166.2 41l0.8 -1M61 44.1l0.9 -1M63.9 44.1l0.9 -1.1M131.1 44.1l0.9 -1.1M157.5 44.1l0.8 -1M166.2 44.1l0.9 -1.1M34.7 47.2l0.9 -1.1M37.6 47.2l0.9 -1.1M43.5 47.2l0.9 -1.1M55.2 47.2l0.9 -1.1M75.6 47.2l0.9 -1.1M84.4 47.2l0.9 -1.1M87.3 47.2l0.9 -1.1M96.1 47.1l0.9 -1M107.8 47.1l0.8 -1M113.6 47.2l0.9 -1.1M122.4 47.1l0.8 -1M134.1 47.2l0.9 -1M142.9 47.1l0.8 -1M37.6 50.3l0.9 -1.1M43.5 50.2l0.9 -1M52.3 50.2l0.8 -1M81.5 50.3l0.9 -1.1M90.3 50.2l0.9 -1M107.8 50.3l0.9 -1.1M116.5 50.3l0.9 -1.1M148.7 50.2l0.8 -1M166.2 50.2l0.8 -1M172.1 50.3l0.9 -1.1M87.3 53.4l0.9 -1.1M119.4 53.4l0.9 -1.1M28.9 56.4l0.9 -1M37.6 56.4l0.9 -1M43.5 56.4l0.9 -1.1M52.2 56.4l0.9 -1.1M107.8 56.5l0.9 -1.1M145.8 56.4l0.9 -1.1M148.7 56.4l0.9 -1M183.8 56.4l0.8 -1M37.6 59.5l0.9 -1M81.4 59.6l0.9 -1.1M157.5 59.5l0.8 -1M160.4 59.5l0.9 -1.1M31.8 62.6l0.9 -1.1M40.6 62.6l0.8 -1M119.5 62.6l0.9 -1.1M125.3 62.6l0.9 -1M151.6 62.6l0.9 -1.1M160.4 62.6l0.9 -1M175 62.6l0.9 -1M40.6 68.8l0.9 -1.1M55.2 68.8l0.8 -1M63.9 68.8l0.9 -1.1M84.4 68.8l0.9 -1.1M107.8 68.8l0.9 -1M122.4 68.8l0.9 -1.1M183.8 68.8l0.9 -1M186.7 68.8l0.8 -1M151.6 71.9l0.9 -1.1M40.6 75l0.9 -1M75.6 75l0.8 -1M81.5 75l0.8 -1M87.3 75l0.9 -1.1M99 75l0.9 -1.1M116.6 75l0.8 -1M134.1 75l0.9 -1.1M23 78.1l0.8 -1M55.2 78.1l0.9 -1M69.8 78.1l0.9 -1M87.3 78.1l0.9 -1.1M90.2 78.1l0.9 -1M101.9 78.1l0.9 -1M125.3 78.1l0.9 -1M139.9 78.1l0.9 -1.1M43.5 81.2l0.9 -1.1M61 81.1l0.9 -1M90.2 81.2l0.9 -1.1M128.2 81.2l0.9 -1.1M134.1 81.2l0.9 -1.1M151.6 81.1l0.8 -1M172.1 81.2l0.9 -1M52.3 84.2l0.8 -1M134.1 84.3l0.9 -1.1M137 84.3l0.9 -1.1M145.7 84.3l0.9 -1.1M180.8 84.3l0.9 -1.1M31.8 87.3l0.9 -1M90.2 87.3l0.9 -1M93.1 87.4l0.9 -1.1M104.9 87.3l0.9 -1M119.5 87.3l0.9 -1M163.3 87.4l0.9 -1.1M183.8 87.3l0.9 -1.1M31.8 90.4l0.9 -1.1M40.6 90.4l0.9 -1M99 90.4l0.9 -1M122.4 90.4l0.9 -1M151.6 90.4l0.9 -1.1M180.9 90.4l0.8 -1M25.9 93.6l0.9 -1.1M90.2 93.6l0.9 -1.1M99 93.5l0.9 -1.1M113.6 93.6l0.9 -1.1M157.4 93.5l0.9 -1.1M160.4 93.5l0.9 -1.1M166.2 93.5l0.9 -1.1M125.3 96.6l0.8 -1M163.3 96.6l0.8 -1M189.6 96.6l0.9 -1M55.2 99.7l0.9 -1.1M66.8 99.7l0.9 -1.1M81.5 99.7l0.9 -1.1M157.5 99.7l0.9 -1.1M180.9 99.7l0.8 -1M69.8 102.8l0.9 -1.1M90.3 102.8l0.8 -1M104.9 102.8l0.9 -1M110.7 102.8l0.9 -1.1M119.4 102.8l0.9 -1.1M163.3 102.8l0.9 -1.1M189.6 102.8l0.9 -1.1M93.2 105.9l0.9 -1.1M101.9 105.9l0.9 -1.1M128.2 105.9l0.9 -1M78.6 109l0.9 -1M84.4 109l0.9 -1.1M110.7 109l0.9 -1.1M160.4 109l0.9 -1M186.7 109l0.9 -1.1M23 112.1l0.9 -1.1M58.1 112.1l0.9 -1.1M72.7 112.1l0.9 -1.1M87.3 112.1l0.9 -1.1M90.2 112.1l0.9 -1M154.5 112.1l0.9 -1.1M157.5 112.1l0.9 -1M189.6 112.1l0.9 -1.1M46.4 115.2l0.9 -1.1M58.1 115.1l0.8 -1M61 115.2l0.9 -1.1M75.6 115.2l0.9 -1M96.1 115.2l0.9 -1.1M110.7 115.2l0.9 -1M113.6 115.2l0.9 -1.1M145.8 115.2l0.9 -1.1M183.7 115.2l0.9 -1.1M101.9 118.3l0.9 -1.1M119.5 118.3l0.9 -1.1M131.1 118.3l0.9 -1.1M151.6 118.2l0.8 -1M40.5 121.4l0.9 -1.1M55.2 121.3l0.9 -1M113.6 121.4l0.9 -1.1M23 124.5l0.9 -1.1M40.6 124.4l0.9 -1M75.6 124.4l0.9 -1M119.5 124.4l0.8 -1M151.6 124.4l0.9 -1.1M175 124.4l0.9 -1M186.7 124.4l0.9 -1.1M31.8 127.6l0.9 -1.1M113.6 127.5l0.9 -1.1M142.8 127.5l0.9 -1.1M154.5 127.5l0.9 -1M169.2 127.5l0.8 -1M186.7 127.5l0.9 -1.1M40.5 130.6l0.9 -1.1M61 130.6l0.8 -1M69.8 133.7l0.8 -1M90.2 133.7l0.9 -1.1M96.1 133.7l0.8 -1M142.9 133.7l0.9 -1M61 136.8l0.9 -1.1M84.4 136.8l0.8 -1M125.3 136.8l0.9 -1.1M172.1 136.8l0.9 -1M46.4 139.9l0.8 -1M55.2 139.9l0.9 -1.1M63.9 139.9l0.9 -1.1M119.4 139.9l0.9 -1.1M172.1 139.9l0.8 -1M58.1 143l0.9 -1.1M61 143l0.9 -1.1M63.9 143l0.9 -1.1M101.9 143l0.9 -1.1M122.4 143l0.9 -1.1"/>
<path stroke="#e49090" stroke-width="0.75" stroke-linecap="round" fill="none" d="M151.6 10.1l1 -1.2M177.9 10.1l1 -1.2M40.5 16.3l1 -1.2M122.3 16.3l1 -1.2M169.1 25.6l1 -1.2M177.9 65.8l1 -1.1M34.7 93.6l1 -1.2M58 96.7l1 -1.2M84.3 96.7l1 -1.2M177.9 99.8l1 -1.1M177.9 109l1 -1.2M66.8 112.1l1 -1.2M66.8 115.2l1 -1.2M148.7 133.8l0.9 -1.1M177.9 143l1 -1.2"/>
<path stroke="#d84854" stroke-width="0.75" stroke-linecap="round" fill="none" d="M163 10.4l1.4 -1.7M168.9 50.6l1.4 -1.7M177.6 69.2l1.5 -1.8M66.4 97.1l1.7 -2"/>
<path stroke="#e46c78" stroke-width="0.75" stroke-linecap="round" fill="none" d="M25.8 13.4l1.2 -1.4M133.9 13.3l1.2 -1.4M43.3 16.4l1.2 -1.4M66.7 38.1l1.2 -1.4M177.8 59.7l1.2 -1.4M66.7 72.1l1.2 -1.4M34.6 75.2l1.2 -1.4M34.6 84.4l1.2 -1.4M139.8 90.6l1.2 -1.4M169 93.7l1.2 -1.4M46.3 96.8l1.2 -1.4M49.2 96.8l1.2 -1.4M78.4 96.8l1.2 -1.4M66.7 121.5l1.2 -1.4M177.8 121.5l1.2 -1.4M66.7 130.8l1.2 -1.4"/>
<path stroke="#e49c9c" stroke-width="0.75" stroke-linecap="round" fill="none" d="M28.9 13.2l0.9 -1.1M90.2 13.2l0.9 -1M122.4 13.2l0.9 -1M125.3 13.2l0.9 -1M189.6 13.2l0.9 -1.1M69.8 16.3l0.9 -1.1M177.9 53.3l0.9 -1.1M177.9 62.6l0.9 -1M78.6 65.7l0.9 -1M177.9 71.9l0.9 -1M177.9 90.4l0.9 -1M177.9 115.2l0.9 -1M177.9 118.3l0.9 -1.1M66.9 124.4l0.9 -1M169.2 124.4l0.9 -1M66.9 133.7l0.9 -1M139.9 133.7l0.9 -1"/>
<path stroke="#8484c0" stroke-width="0.75" stroke-linecap="round" fill="none" d="M31.7 13.3l1.2 -1.4M60.9 13.4l1.2 -1.4M98.9 38.1l1.2 -1.4M107.6 41.1l1.1 -1.4M139.8 56.6l1.2 -1.4M55 59.7l1.2 -1.4M98.8 78.3l1.2 -1.4M46.2 106.1l1.2 -1.4M72.5 118.4l1.2 -1.4M171.9 127.7l1.1 -1.4M46.3 137l1.2 -1.4"/>
<path stroke="#e48484" stroke-width="0.75" stroke-linecap="round" fill="none" d="M34.6 13.3l1 -1.2M110.6 13.3l1 -1.2M163.2 68.9l1 -1.2M43.4 96.7l1 -1.2M63.9 96.7l1 -1.2M34.6 127.6l1.1 -1.3M66.8 140l1 -1.2M169.1 143.1l1 -1.3"/>
<path stroke="#f0b4b4" stroke-width="0.75" stroke-linecap="round" fill="none" d="M49.4 13.1l0.7 -0.9M61.1 102.7l0.7 -0.9"/>
<path stroke="#9c9cd8" stroke-width="0.75" stroke-linecap="round" fill="none" d="M81.4 13.2l0.9 -1.1M154.5 13.2l0.9 -1.1M72.7 22.5l0.9 -1.1M49.3 25.6l1 -1.2M81.4 28.7l1 -1.1M157.4 28.7l1 -1.2M183.7 28.6l0.9 -1.1M28.8 31.8l1 -1.1M116.5 31.7l0.9 -1.1M137 31.8l1 -1.2M93.1 37.9l0.9 -1.1M154.5 44.1l0.9 -1.1M186.6 44.1l0.9 -1.1M63.9 47.2l0.9 -1.1M69.7 47.2l1 -1.1M28.8 50.3l1 -1.2M81.4 53.4l0.9 -1.1M134 53.4l0.9 -1.1M87.3 59.6l1 -1.1M137 59.6l1 -1.2M34.7 62.7l0.9 -1.1M37.6 62.7l0.9 -1.1M78.5 62.6l0.9 -1.1M96 65.8l1 -1.2M151.6 65.7l0.9 -1.1M49.3 68.8l1 -1.1M78.5 68.8l0.9 -1.1M122.4 71.9l0.9 -1.1M137 71.9l0.9 -1.1M43.4 75l0.9 -1.1M139.9 75l0.9 -1.1M107.7 81.2l0.9 -1.1M125.3 81.2l0.9 -1.1M160.3 81.2l0.9 -1.1M40.5 84.3l1 -1.1M107.7 84.3l0.9 -1.1M125.3 84.3l1 -1.1M163.3 84.3l0.9 -1.1M113.6 87.4l0.9 -1.1M122.4 87.4l0.9 -1.1M52.2 93.6l0.9 -1.1M93.1 93.6l0.9 -1.1M137 93.6l0.9 -1.1M101.9 96.7l0.9 -1.1M49.3 99.8l1 -1.1M63.9 99.7l0.9 -1.1M93.1 99.8l1 -1.1M110.7 99.8l0.9 -1.1M122.4 99.7l0.9 -1.1M148.7 99.8l0.9 -1.1M58.1 102.8l1 -1.1M93.1 102.8l0.9 -1.1M137 102.8l0.9 -1.1M25.9 105.9l0.9 -1.1M75.6 105.9l1 -1.2M166.2 105.9l1 -1.1M23 109l1 -1.1M69.7 109l0.9 -1.1M104.8 112.1l0.9 -1.1M49.3 115.2l0.9 -1.1M101.9 124.5l0.9 -1.1M110.7 130.7l0.9 -1.1M166.2 130.6l0.9 -1.1M75.6 133.7l0.9 -1.1M174.9 133.8l1 -1.2M128.2 139.9l0.9 -1.1M166.2 143l0.9 -1.1"/>
<path stroke="#d85460" stroke-width="0.75" stroke-linecap="round" fill="none" d="M168.9 13.4l1.3 -1.6M177.7 16.5l1.4 -1.6M66.6 32l1.4 -1.7M34.5 96.9l1.4 -1.6M54.9 96.9l1.4 -1.6M90 96.9l1.3 -1.6"/>
<path stroke="#7878c0" stroke-width="0.75" stroke-linecap="round" fill="none" d="M81.3 16.4l1.2 -1.4M171.9 19.5l1.2 -1.4M95.9 22.7l1.2 -1.5M63.8 25.7l1.2 -1.5M163.1 28.8l1.2 -1.5M57.9 38.1l1.2 -1.5M75.5 41.2l1.2 -1.4M75.5 62.8l1.2 -1.5M93 84.5l1.2 -1.4M163.1 93.7l1.2 -1.4M93 96.8l1.2 -1.5M107.6 96.8l1.3 -1.5M142.6 99.9l1.3 -1.5M72.5 124.7l1.3 -1.5M174.8 130.8l1.3 -1.5M57.9 137l1.2 -1.5"/>
<path stroke="#d8606c" stroke-width="0.75" stroke-linecap="round" fill="none" d="M148.5 16.5l1.3 -1.6M169 41.2l1.2 -1.5M34.5 90.7l1.3 -1.5M87.1 96.8l1.2 -1.5M34.5 103l1.2 -1.5M34.5 118.5l1.3 -1.5M139.7 124.7l1.3 -1.5M177.7 124.7l1.3 -1.6M34.5 140.1l1.3 -1.5M66.7 143.2l1.2 -1.5"/>
<path stroke="#b4b4e4" stroke-width="0.75" stroke-linecap="round" fill="none" d="M34.8 19.3l0.8 -0.9M116.6 19.3l0.8 -0.9M154.6 19.3l0.8 -0.9M81.5 22.4l0.8 -0.9M99.1 22.4l0.8 -0.9M113.7 22.4l0.8 -0.9M128.3 25.5l0.8 -0.9M166.3 25.5l0.8 -0.9M55.2 28.5l0.8 -0.9M102 28.6l0.8 -0.9M116.6 28.6l0.8 -0.9M46.4 31.7l0.8 -0.9M78.6 31.6l0.8 -0.9M125.4 31.6l0.8 -0.9M28.9 34.7l0.8 -0.9M78.6 34.7l0.8 -0.9M116.6 34.7l0.8 -0.9M160.4 34.7l0.8 -0.9M43.5 37.8l0.8 -0.9M28.9 40.9l0.8 -0.9M55.2 40.9l0.8 -0.9M64 40.9l0.8 -0.9M110.8 40.9l0.8 -0.9M75.7 44l0.8 -0.9M148.7 47.1l0.8 -0.9M40.6 53.3l0.8 -0.9M64 53.3l0.8 -0.9M58.1 56.4l0.8 -0.9M154.6 56.4l0.8 -0.9M166.3 56.4l0.8 -0.9M28.9 59.5l0.8 -0.9M31.8 59.5l0.8 -0.9M52.3 59.5l0.8 -0.9M66.9 59.4l0.7 -0.9M78.6 59.5l0.8 -0.9M186.7 59.5l0.8 -0.9M58.1 62.6l0.8 -0.9M84.4 62.5l0.8 -0.9M113.7 62.6l0.8 -0.9M116.6 62.5l0.8 -0.9M172.1 62.6l0.8 -0.9M46.5 65.6l0.7 -0.9M166.3 65.6l0.8 -0.9M172.1 65.6l0.8 -0.9M61.1 68.7l0.8 -0.9M160.4 68.7l0.8 -0.9M23.1 71.8l0.8 -0.9M26 71.8l0.8 -0.9M28.9 71.8l0.8 -0.9M43.5 71.8l0.8 -0.9M102 71.8l0.8 -0.9M107.8 71.8l0.8 -0.9M154.6 71.8l0.8 -0.9M160.4 71.8l0.8 -0.9M172.1 71.8l0.8 -0.9M46.5 74.9l0.8 -0.9M66.9 78l0.8 -0.9M96.1 78l0.8 -0.9M110.7 78l0.8 -0.9M122.4 78l0.8 -0.9M148.7 78l0.8 -0.9M163.4 78l0.8 -0.9M186.7 78l0.8 -0.9M93.2 81.1l0.8 -0.9M122.4 81.1l0.8 -0.9M104.9 84.2l0.8 -0.9M157.5 84.2l0.8 -0.9M183.8 84.2l0.8 -0.9M128.3 87.3l0.8 -0.9M43.5 90.4l0.8 -0.9M113.7 90.4l0.8 -0.9M148.7 90.4l0.8 -0.9M157.5 90.4l0.8 -0.9M175.1 90.4l0.8 -0.9M81.5 93.5l0.8 -0.9M52.3 102.7l0.8 -0.9M55.2 102.7l0.8 -0.9M122.4 102.7l0.8 -0.9M183.8 102.7l0.8 -0.9M40.6 105.8l0.8 -0.9M107.8 105.8l0.8 -0.9M40.6 108.9l0.8 -0.9M151.7 108.9l0.8 -0.9M26 112l0.8 -0.9M37.7 112l0.8 -0.9M96.1 112l0.8 -0.9M113.7 112l0.8 -0.9M122.4 112l0.8 -0.9M140 112l0.7 -0.9M142.9 112l0.8 -0.9M148.7 112l0.8 -0.9M186.7 112l0.8 -0.9M34.8 115.1l0.8 -0.9M43.5 115.1l0.8 -0.9M55.2 115.1l0.8 -0.9M148.7 115.1l0.8 -0.9M87.4 121.3l0.8 -0.9M119.5 121.3l0.8 -0.9M131.2 124.4l0.8 -0.9M183.8 124.4l0.8 -0.9M84.4 127.5l0.8 -0.9M23.1 130.5l0.8 -0.9M43.5 133.6l0.8 -0.9M107.8 133.6l0.8 -0.9M125.4 133.6l0.8 -0.9M189.6 133.7l0.8 -0.9M102 136.7l0.7 -0.9M148.7 136.7l0.8 -0.9M189.7 136.7l0.8 -0.9M104.9 139.8l0.8 -0.9M151.7 142.9l0.8 -0.9M172.1 142.9l0.8 -0.9"/>
<path stroke="#8484cc" stroke-width="0.75" stroke-linecap="round" fill="none" d="M131 19.5l1.1 -1.4M122.3 28.8l1.1 -1.3M163.2 31.9l1.1 -1.4M81.4 47.3l1.1 -1.3M180.7 62.8l1.1 -1.3M37.5 68.9l1.1 -1.3M37.5 72l1.1 -1.3M60.9 75.1l1.1 -1.3M116.4 78.2l1.1 -1.3M142.7 81.3l1.1 -1.4M78.4 84.4l1.1 -1.4M145.6 87.5l1.1 -1.3M34.6 106l1.1 -1.4M174.9 109.1l1.1 -1.4M60.9 118.4l1.1 -1.3M31.7 121.5l1.1 -1.3M157.3 121.5l1.1 -1.4M133.9 127.7l1.1 -1.4M166.1 127.7l1.1 -1.3M78.4 133.9l1.1 -1.4"/>
<path stroke="#d86c6c" stroke-width="0.75" stroke-linecap="round" fill="none" d="M177.7 25.7l1.2 -1.5"/>
<path stroke="#e47878" stroke-width="0.75" stroke-linecap="round" fill="none" d="M169 31.9l1.1 -1.4M139.8 35l1.1 -1.4M66.7 62.8l1.1 -1.4"/>
<path stroke="#6060b4" stroke-width="0.75" stroke-linecap="round" fill="none" d="M174.7 35.1l1.4 -1.7M142.6 75.3l1.4 -1.6M98.7 97l1.5 -1.8M28.6 127.8l1.4 -1.6M98.7 134.1l1.5 -1.7"/>
<path stroke="#6c6cc0" stroke-width="0.75" stroke-linecap="round" fill="none" d="M133.9 66l1.3 -1.6M49.1 72.1l1.3 -1.6M101.7 100l1.3 -1.5"/>
<path stroke="#d86060" stroke-width="0.75" stroke-linecap="round" fill="none" d="M168.9 66l1.3 -1.6"/>
<path stroke="#6c6cb4" stroke-width="0.75" stroke-linecap="round" fill="none" d="M95.8 96.9l1.4 -1.6"/>
<rect x="22" y="8" width="169.5" height="136" fill="none" stroke="#c8c8d0" stroke-width="0.4"/>
<text x="192.5" y="10.47" font-size="2.5" fill="#3a3a3a" stroke="#3a3a3a" stroke-width="0.04" textLength="19.5" lengthAdjust="spacingAndGlyphs">TCGA-GBM (N)</text>
<text x="192.5" y="13.56" font-size="2.5" fill="#3a3a3a" stroke="#3a3a3a" stroke-width="0.04" textLength="21.1" lengthAdjust="spacingAndGlyphs">TCGA-GBMLGG (T)</text>
<text x="192.5" y="16.65" font-size="2.5" fill="#3a3a3a" stroke="#3a3a3a" stroke-width="0.04" textLength="22.7" lengthAdjust="spacingAndGlyphs">TCGA-LGG (M)</text>
<text x="192.5" y="19.75" font-size="2.5" fill="#3a3a3a" stroke="#3a3a3a" stroke-width="0.04" textLength="20.3" lengthAdjust="spacingAndGlyphs">TCGA-UCEC (N)</text>
<text x="192.5" y="22.84" font-size="2.5" fill="#3a3a3a" stroke="#3a3a3a" stroke-width="0.04" textLength="21.9" lengthAdjust="spacingAndGlyphs">TCGA-BRCA (T)</text>
<text x="192.5" y="25.93" font-size="2.5" fill="#3a3a3a" stroke="#3a3a3a" stroke-width="0.04" textLength="19.5" lengthAdjust="spacingAndGlyphs">TCGA-CESC (M)</text>
<text x="192.5" y="29.02" font-size="2.5" fill="#3a3a3a" stroke="#3a3a3a" stroke-width="0.04" textLength="21.1" lengthAdjust="spacingAndGlyphs">TCGA-LUAD (N)</text>
<text x="192.5" y="32.11" font-size="2.5" fill="#3a3a3a" stroke="#3a3a3a" stroke-width="0.04" textLength="22.7" lengthAdjust="spacingAndGlyphs">TCGA-ESCA (T)</text>
<text x="192.5" y="35.2" font-size="2.5" fill="#3a3a3a" stroke="#3a3a3a" stroke-width="0.04" textLength="20.3" lengthAdjust="spacingAndGlyphs">TCGA-STES (M)</text>
<text x="192.5" y="38.29" font-size="2.5" fill="#3a3a3a" stroke="#3a3a3a" stroke-width="0.04" textLength="21.9" lengthAdjust="spacingAndGlyphs">TCGA-SARC (N)</text>
<text x="192.5" y="41.38" font-size="2.5" fill="#3a3a3a" stroke="#3a3a3a" stroke-width="0.04" textLength="19.5" lengthAdjust="spacingAndGlyphs">TCGA-KIRP (T)</text>
<text x="192.5" y="44.47" font-size="2.5" fill="#3a3a3a" stroke="#3a3a3a" stroke-width="0.04" textLength="21.1" lengthAdjust="spacingAndGlyphs">TCGA-KIPAN (M)</text>
<text x="192.5" y="47.56" font-size="2.5" fill="#3a3a3a" stroke="#3a3a3a" stroke-width="0.04" textLength="22.7" lengthAdjust="spacingAndGlyphs">TCGA-COAD (N)</text>
<text x="192.5" y="50.65" font-size="2.5" fill="#3a3a3a" stroke="#3a3a3a" stroke-width="0.04" textLength="20.3" lengthAdjust="spacingAndGlyphs">TCGA-COADREAD (T)</text>
<text x="192.5" y="53.75" font-size="2.5" fill="#3a3a3a" stroke="#3a3a3a" stroke-width="0.04" textLength="21.9" lengthAdjust="spacingAndGlyphs">TCGA-PRAD (M)</text>
<text x="192.5" y="56.84" font-size="2.5" fill="#3a3a3a" stroke="#3a3a3a" stroke-width="0.04" textLength="19.5" lengthAdjust="spacingAndGlyphs">TCGA-STAD (N)</text>
<text x="192.5" y="59.93" font-size="2.5" fill="#3a3a3a" stroke="#3a3a3a" stroke-width="0.04" textLength="21.1" lengthAdjust="spacingAndGlyphs">TCGA-HNSC (T)</text>
<text x="192.5" y="63.02" font-size="2.5" fill="#3a3a3a" stroke="#3a3a3a" stroke-width="0.04" textLength="22.7" lengthAdjust="spacingAndGlyphs">TCGA-KIRC (M)</text>
<text x="192.5" y="66.11" font-size="2.5" fill="#3a3a3a" stroke="#3a3a3a" stroke-width="0.04" textLength="20.3" lengthAdjust="spacingAndGlyphs">TCGA-LUSC (N)</text>
<text x="192.5" y="69.2" font-size="2.5" fill="#3a3a3a" stroke="#3a3a3a" stroke-width="0.04" textLength="21.9" lengthAdjust="spacingAndGlyphs">TCGA-THYM (T)</text>
<text x="192.5" y="72.29" font-size="2.5" fill="#3a3a3a" stroke="#3a3a3a" stroke-width="0.04" textLength="19.5" lengthAdjust="spacingAndGlyphs">TCGA-LIHC (M)</text>
<text x="192.5" y="75.38" font-size="2.5" fill="#3a3a3a" stroke="#3a3a3a" stroke-width="0.04" textLength="21.1" lengthAdjust="spacingAndGlyphs">TCGA-WT (N)</text>
<text x="192.5" y="78.47" font-size="2.5" fill="#3a3a3a" stroke="#3a3a3a" stroke-width="0.04" textLength="22.7" lengthAdjust="spacingAndGlyphs">TCGA-SKCM-P (T)</text>
<text x="192.5" y="81.56" font-size="2.5" fill="#3a3a3a" stroke="#3a3a3a" stroke-width="0.04" textLength="20.3" lengthAdjust="spacingAndGlyphs">TCGA-SKCM (M)</text>
<text x="192.5" y="84.65" font-size="2.5" fill="#3a3a3a" stroke="#3a3a3a" stroke-width="0.04" textLength="21.9" lengthAdjust="spacingAndGlyphs">TCGA-BLCA (N)</text>
<text x="192.5" y="87.75" font-size="2.5" fill="#3a3a3a" stroke="#3a3a3a" stroke-width="0.04" textLength="19.5" lengthAdjust="spacingAndGlyphs">TCGA-SKCM-M (T)</text>
<text x="192.5" y="90.84" font-size="2.5" fill="#3a3a3a" stroke="#3a3a3a" stroke-width="0.04" textLength="21.1" lengthAdjust="spacingAndGlyphs">TCGA-THCA (M)</text>
<text x="192.5" y="93.93" font-size="2.5" fill="#3a3a3a" stroke="#3a3a3a" stroke-width="0.04" textLength="22.7" lengthAdjust="spacingAndGlyphs">TCGA-MESO (N)</text>
<text x="192.5" y="97.02" font-size="2.5" fill="#3a3a3a" stroke="#3a3a3a" stroke-width="0.04" textLength="20.3" lengthAdjust="spacingAndGlyphs">TCGA-READ (T)</text>
<text x="192.5" y="100.11" font-size="2.5" fill="#3a3a3a" stroke="#3a3a3a" stroke-width="0.04" textLength="21.9" lengthAdjust="spacingAndGlyphs">TCGA-PAAD (M)</text>
<text x="192.5" y="103.2" font-size="2.5" fill="#3a3a3a" stroke="#3a3a3a" stroke-width="0.04" textLength="19.5" lengthAdjust="spacingAndGlyphs">TCGA-OV (N)</text>
<text x="192.5" y="106.29" font-size="2.5" fill="#3a3a3a" stroke="#3a3a3a" stroke-width="0.04" textLength="21.1" lengthAdjust="spacingAndGlyphs">TCGA-TGCT (T)</text>
<text x="192.5" y="109.38" font-size="2.5" fill="#3a3a3a" stroke="#3a3a3a" stroke-width="0.04" textLength="22.7" lengthAdjust="spacingAndGlyphs">TCGA-UCS (M)</text>
<text x="192.5" y="112.47" font-size="2.5" fill="#3a3a3a" stroke="#3a3a3a" stroke-width="0.04" textLength="20.3" lengthAdjust="spacingAndGlyphs">TCGA-LAML (N)</text>
<text x="192.5" y="115.56" font-size="2.5" fill="#3a3a3a" stroke="#3a3a3a" stroke-width="0.04" textLength="21.9" lengthAdjust="spacingAndGlyphs">TCGA-PCPG (T)</text>
<text x="192.5" y="118.65" font-size="2.5" fill="#3a3a3a" stroke="#3a3a3a" stroke-width="0.04" textLength="19.5" lengthAdjust="spacingAndGlyphs">TCGA-ACC (M)</text>
<text x="192.5" y="121.75" font-size="2.5" fill="#3a3a3a" stroke="#3a3a3a" stroke-width="0.04" textLength="21.1" lengthAdjust="spacingAndGlyphs">TCGA-DLBC (N)</text>
<text x="192.5" y="124.84" font-size="2.5" fill="#3a3a3a" stroke="#3a3a3a" stroke-width="0.04" textLength="22.7" lengthAdjust="spacingAndGlyphs">TCGA-KICH (T)</text>
<text x="192.5" y="127.93" font-size="2.5" fill="#3a3a3a" stroke="#3a3a3a" stroke-width="0.04" textLength="20.3" lengthAdjust="spacingAndGlyphs">TCGA-CHOL (M)</text>
<text x="192.5" y="131.02" font-size="2.5" fill="#3a3a3a" stroke="#3a3a3a" stroke-width="0.04" textLength="21.9" lengthAdjust="spacingAndGlyphs">TCGA-NB (N)</text>
<text x="192.5" y="134.11" font-size="2.5" fill="#3a3a3a" stroke="#3a3a3a" stroke-width="0.04" textLength="19.5" lengthAdjust="spacingAndGlyphs">TCGA-ALL (T)</text>
<text x="192.5" y="137.2" font-size="2.5" fill="#3a3a3a" stroke="#3a3a3a" stroke-width="0.04" textLength="21.1" lengthAdjust="spacingAndGlyphs">TCGA-UVM (M)</text>
<text x="192.5" y="140.29" font-size="2.5" fill="#3a3a3a" stroke="#3a3a3a" stroke-width="0.04" textLength="22.7" lengthAdjust="spacingAndGlyphs">TCGA-OS (N)</text>
<text x="192.5" y="143.38" font-size="2.5" fill="#3a3a3a" stroke="#3a3a3a" stroke-width="0.04" textLength="20.3" lengthAdjust="spacingAndGlyphs">TCGA-RT (T)</text>
<text x="23.75" y="145.2" font-size="2.5" fill="#555" text-anchor="end" stroke="#555" stroke-width="0.04" textLength="10" lengthAdjust="spacingAndGlyphs" transform="rotate(-58 23.75 145.2)">TCGA-GBM</text>
<text x="26.68" y="145.2" font-size="2.5" fill="#555" text-anchor="end" stroke="#555" stroke-width="0.04" textLength="15" lengthAdjust="spacingAndGlyphs" transform="rotate(-58 26.68 145.2)">TCGA-ESCA</text>
<text x="29.6" y="145.2" font-size="2.5" fill="#555" text-anchor="end" stroke="#555" stroke-width="0.04" textLength="11" lengthAdjust="spacingAndGlyphs" transform="rotate(-58 29.6 145.2)">TCGA-PRAD</text>
<text x="32.52" y="145.2" font-size="2.5" fill="#555" text-anchor="end" stroke="#555" stroke-width="0.04" textLength="24" lengthAdjust="spacingAndGlyphs" transform="rotate(-58 32.52 145.2)">TCGA-WT</text>
<text x="35.44" y="145.2" font-size="2.5" fill="#555" text-anchor="end" stroke="#555" stroke-width="0.04" textLength="12" lengthAdjust="spacingAndGlyphs" transform="rotate(-58 35.44 145.2)">TCGA-READ</text>
<text x="38.37" y="145.2" font-size="2.5" fill="#555" text-anchor="end" stroke="#555" stroke-width="0.04" textLength="17" lengthAdjust="spacingAndGlyphs" transform="rotate(-58 38.37 145.2)">TCGA-ACC</text>
<text x="41.29" y="145.2" font-size="2.5" fill="#555" text-anchor="end" stroke="#555" stroke-width="0.04" textLength="13" lengthAdjust="spacingAndGlyphs" transform="rotate(-58 41.29 145.2)">TCGA-OS</text>
<text x="44.21" y="145.2" font-size="2.5" fill="#555" text-anchor="end" stroke="#555" stroke-width="0.04" textLength="18" lengthAdjust="spacingAndGlyphs" transform="rotate(-58 44.21 145.2)">TCGA-BRCA</text>
<text x="47.13" y="145.2" font-size="2.5" fill="#555" text-anchor="end" stroke="#555" stroke-width="0.04" textLength="14" lengthAdjust="spacingAndGlyphs" transform="rotate(-58 47.13 145.2)">TCGA-KIPAN</text>
<text x="50.06" y="145.2" font-size="2.5" fill="#555" text-anchor="end" stroke="#555" stroke-width="0.04" textLength="10" lengthAdjust="spacingAndGlyphs" transform="rotate(-58 50.06 145.2)">TCGA-LUSC</text>
<text x="52.98" y="145.2" font-size="2.5" fill="#555" text-anchor="end" stroke="#555" stroke-width="0.04" textLength="15" lengthAdjust="spacingAndGlyphs" transform="rotate(-58 52.98 145.2)">TCGA-SKCM-M</text>
<text x="55.9" y="145.2" font-size="2.5" fill="#555" text-anchor="end" stroke="#555" stroke-width="0.04" textLength="11" lengthAdjust="spacingAndGlyphs" transform="rotate(-58 55.9 145.2)">TCGA-UCS</text>
<text x="58.82" y="145.2" font-size="2.5" fill="#555" text-anchor="end" stroke="#555" stroke-width="0.04" textLength="16" lengthAdjust="spacingAndGlyphs" transform="rotate(-58 58.82 145.2)">TCGA-NB</text>
<text x="61.74" y="145.2" font-size="2.5" fill="#555" text-anchor="end" stroke="#555" stroke-width="0.04" textLength="12" lengthAdjust="spacingAndGlyphs" transform="rotate(-58 61.74 145.2)">TCGA-GBMLGG</text>
<text x="64.67" y="145.2" font-size="2.5" fill="#555" text-anchor="end" stroke="#555" stroke-width="0.04" textLength="25" lengthAdjust="spacingAndGlyphs" transform="rotate(-58 64.67 145.2)">TCGA-STES</text>
<text x="67.59" y="145.2" font-size="2.5" fill="#555" text-anchor="end" stroke="#555" stroke-width="0.04" textLength="13" lengthAdjust="spacingAndGlyphs" transform="rotate(-58 67.59 145.2)">TCGA-STAD</text>
<text x="70.51" y="145.2" font-size="2.5" fill="#555" text-anchor="end" stroke="#555" stroke-width="0.04" textLength="18" lengthAdjust="spacingAndGlyphs" transform="rotate(-58 70.51 145.2)">TCGA-SKCM-P</text>
<text x="73.43" y="145.2" font-size="2.5" fill="#555" text-anchor="end" stroke="#555" stroke-width="0.04" textLength="14" lengthAdjust="spacingAndGlyphs" transform="rotate(-58 73.43 145.2)">TCGA-PAAD</text>
<text x="76.36" y="145.2" font-size="2.5" fill="#555" text-anchor="end" stroke="#555" stroke-width="0.04" textLength="10" lengthAdjust="spacingAndGlyphs" transform="rotate(-58 76.36 145.2)">TCGA-DLBC</text>
<text x="79.28" y="145.2" font-size="2.5" fill="#555" text-anchor="end" stroke="#555" stroke-width="0.04" textLength="15" lengthAdjust="spacingAndGlyphs" transform="rotate(-58 79.28 145.2)">TCGA-RT</text>
<text x="82.2" y="145.2" font-size="2.5" fill="#555" text-anchor="end" stroke="#555" stroke-width="0.04" textLength="11" lengthAdjust="spacingAndGlyphs" transform="rotate(-58 82.2 145.2)">TCGA-CESC</text>
<text x="85.12" y="145.2" font-size="2.5" fill="#555" text-anchor="end" stroke="#555" stroke-width="0.04" textLength="16" lengthAdjust="spacingAndGlyphs" transform="rotate(-58 85.12 145.2)">TCGA-COAD</text>
<text x="88.05" y="145.2" font-size="2.5" fill="#555" text-anchor="end" stroke="#555" stroke-width="0.04" textLength="12" lengthAdjust="spacingAndGlyphs" transform="rotate(-58 88.05 145.2)">TCGA-THYM</text>
<text x="90.97" y="145.2" font-size="2.5" fill="#555" text-anchor="end" stroke="#555" stroke-width="0.04" textLength="17" lengthAdjust="spacingAndGlyphs" transform="rotate(-58 90.97 145.2)">TCGA-THCA</text>
<text x="93.89" y="145.2" font-size="2.5" fill="#555" text-anchor="end" stroke="#555" stroke-width="0.04" textLength="13" lengthAdjust="spacingAndGlyphs" transform="rotate(-58 93.89 145.2)">TCGA-LAML</text>
<text x="96.81" y="145.2" font-size="2.5" fill="#555" text-anchor="end" stroke="#555" stroke-width="0.04" textLength="26" lengthAdjust="spacingAndGlyphs" transform="rotate(-58 96.81 145.2)">TCGA-ALL</text>
<text x="99.74" y="145.2" font-size="2.5" fill="#555" text-anchor="end" stroke="#555" stroke-width="0.04" textLength="14" lengthAdjust="spacingAndGlyphs" transform="rotate(-58 99.74 145.2)">TCGA-LGG</text>
<text x="102.66" y="145.2" font-size="2.5" fill="#555" text-anchor="end" stroke="#555" stroke-width="0.04" textLength="10" lengthAdjust="spacingAndGlyphs" transform="rotate(-58 102.66 145.2)">TCGA-SARC</text>
<text x="105.58" y="145.2" font-size="2.5" fill="#555" text-anchor="end" stroke="#555" stroke-width="0.04" textLength="15" lengthAdjust="spacingAndGlyphs" transform="rotate(-58 105.58 145.2)">TCGA-HNSC</text>
<text x="108.5" y="145.2" font-size="2.5" fill="#555" text-anchor="end" stroke="#555" stroke-width="0.04" textLength="11" lengthAdjust="spacingAndGlyphs" transform="rotate(-58 108.5 145.2)">TCGA-SKCM</text>
<text x="111.43" y="145.2" font-size="2.5" fill="#555" text-anchor="end" stroke="#555" stroke-width="0.04" textLength="16" lengthAdjust="spacingAndGlyphs" transform="rotate(-58 111.43 145.2)">TCGA-OV</text>
<text x="114.35" y="145.2" font-size="2.5" fill="#555" text-anchor="end" stroke="#555" stroke-width="0.04" textLength="12" lengthAdjust="spacingAndGlyphs" transform="rotate(-58 114.35 145.2)">TCGA-KICH</text>
<text x="117.27" y="145.2" font-size="2.5" fill="#555" text-anchor="end" stroke="#555" stroke-width="0.04" textLength="17" lengthAdjust="spacingAndGlyphs" transform="rotate(-58 117.27 145.2)">TCGA-CNTL</text>
<text x="120.19" y="145.2" font-size="2.5" fill="#555" text-anchor="end" stroke="#555" stroke-width="0.04" textLength="13" lengthAdjust="spacingAndGlyphs" transform="rotate(-58 120.19 145.2)">TCGA-LUAD</text>
<text x="123.12" y="145.2" font-size="2.5" fill="#555" text-anchor="end" stroke="#555" stroke-width="0.04" textLength="18" lengthAdjust="spacingAndGlyphs" transform="rotate(-58 123.12 145.2)">TCGA-COADREAD</text>
<text x="126.04" y="145.2" font-size="2.5" fill="#555" text-anchor="end" stroke="#555" stroke-width="0.04" textLength="14" lengthAdjust="spacingAndGlyphs" transform="rotate(-58 126.04 145.2)">TCGA-LIHC</text>
<text x="128.96" y="145.2" font-size="2.5" fill="#555" text-anchor="end" stroke="#555" stroke-width="0.04" textLength="18" lengthAdjust="spacingAndGlyphs" transform="rotate(-58 128.96 145.2)">TCGA-MESO</text>
<text x="131.88" y="145.2" font-size="2.5" fill="#555" text-anchor="end" stroke="#555" stroke-width="0.04" textLength="15" lengthAdjust="spacingAndGlyphs" transform="rotate(-58 131.88 145.2)">TCGA-PCPG</text>
<text x="134.81" y="145.2" font-size="2.5" fill="#555" text-anchor="end" stroke="#555" stroke-width="0.04" textLength="11" lengthAdjust="spacingAndGlyphs" transform="rotate(-58 134.81 145.2)">TCGA-UVM</text>
<text x="137.73" y="145.2" font-size="2.5" fill="#555" text-anchor="end" stroke="#555" stroke-width="0.04" textLength="16" lengthAdjust="spacingAndGlyphs" transform="rotate(-58 137.73 145.2)">TCGA-UCEC</text>
<text x="140.65" y="145.2" font-size="2.5" fill="#555" text-anchor="end" stroke="#555" stroke-width="0.04" textLength="12" lengthAdjust="spacingAndGlyphs" transform="rotate(-58 140.65 145.2)">TCGA-KIRP</text>
<text x="143.57" y="145.2" font-size="2.5" fill="#555" text-anchor="end" stroke="#555" stroke-width="0.04" textLength="17" lengthAdjust="spacingAndGlyphs" transform="rotate(-58 143.57 145.2)">TCGA-KIRC</text>
<text x="146.49" y="145.2" font-size="2.5" fill="#555" text-anchor="end" stroke="#555" stroke-width="0.04" textLength="13" lengthAdjust="spacingAndGlyphs" transform="rotate(-58 146.49 145.2)">TCGA-BLCA</text>
<text x="149.42" y="145.2" font-size="2.5" fill="#555" text-anchor="end" stroke="#555" stroke-width="0.04" textLength="18" lengthAdjust="spacingAndGlyphs" transform="rotate(-58 149.42 145.2)">TCGA-TGCT</text>
<text x="152.34" y="145.2" font-size="2.5" fill="#555" text-anchor="end" stroke="#555" stroke-width="0.04" textLength="14" lengthAdjust="spacingAndGlyphs" transform="rotate(-58 152.34 145.2)">TCGA-CHOL</text>
<text x="155.26" y="145.2" font-size="2.5" fill="#555" text-anchor="end" stroke="#555" stroke-width="0.04" textLength="10" lengthAdjust="spacingAndGlyphs" transform="rotate(-58 155.26 145.2)">TCGA-GBM</text>
<text x="158.18" y="145.2" font-size="2.5" fill="#555" text-anchor="end" stroke="#555" stroke-width="0.04" textLength="15" lengthAdjust="spacingAndGlyphs" transform="rotate(-58 158.18 145.2)">TCGA-ESCA</text>
<text x="161.11" y="145.2" font-size="2.5" fill="#555" text-anchor="end" stroke="#555" stroke-width="0.04" textLength="19" lengthAdjust="spacingAndGlyphs" transform="rotate(-58 161.11 145.2)">TCGA-PRAD</text>
<text x="164.03" y="145.2" font-size="2.5" fill="#555" text-anchor="end" stroke="#555" stroke-width="0.04" textLength="16" lengthAdjust="spacingAndGlyphs" transform="rotate(-58 164.03 145.2)">TCGA-WT</text>
<text x="166.95" y="145.2" font-size="2.5" fill="#555" text-anchor="end" stroke="#555" stroke-width="0.04" textLength="12" lengthAdjust="spacingAndGlyphs" transform="rotate(-58 166.95 145.2)">TCGA-READ</text>
<text x="169.87" y="145.2" font-size="2.5" fill="#555" text-anchor="end" stroke="#555" stroke-width="0.04" textLength="17" lengthAdjust="spacingAndGlyphs" transform="rotate(-58 169.87 145.2)">TCGA-ACC</text>
<text x="172.8" y="145.2" font-size="2.5" fill="#555" text-anchor="end" stroke="#555" stroke-width="0.04" textLength="13" lengthAdjust="spacingAndGlyphs" transform="rotate(-58 172.8 145.2)">TCGA-OS</text>
<text x="175.72" y="145.2" font-size="2.5" fill="#555" text-anchor="end" stroke="#555" stroke-width="0.04" textLength="18" lengthAdjust="spacingAndGlyphs" transform="rotate(-58 175.72 145.2)">TCGA-BRCA</text>
<text x="178.64" y="145.2" font-size="2.5" fill="#555" text-anchor="end" stroke="#555" stroke-width="0.04" textLength="14" lengthAdjust="spacingAndGlyphs" transform="rotate(-58 178.64 145.2)">TCGA-KIPAN</text>
<text x="181.56" y="145.2" font-size="2.5" fill="#555" text-anchor="end" stroke="#555" stroke-width="0.04" textLength="10" lengthAdjust="spacingAndGlyphs" transform="rotate(-58 181.56 145.2)">TCGA-LUSC</text>
<text x="184.49" y="145.2" font-size="2.5" fill="#555" text-anchor="end" stroke="#555" stroke-width="0.04" textLength="15" lengthAdjust="spacingAndGlyphs" transform="rotate(-58 184.49 145.2)">TCGA-SKCM-M</text>
<text x="187.41" y="145.2" font-size="2.5" fill="#555" text-anchor="end" stroke="#555" stroke-width="0.04" textLength="11" lengthAdjust="spacingAndGlyphs" transform="rotate(-58 187.41 145.2)">TCGA-UCS</text>
<text x="190.33" y="145.2" font-size="2.5" fill="#555" text-anchor="end" stroke="#555" stroke-width="0.04" textLength="16" lengthAdjust="spacingAndGlyphs" transform="rotate(-58 190.33 145.2)">TCGA-NB</text>
<linearGradient id="gA1"><stop offset="0" stop-color="#2b3a9c"/><stop offset="0.5" stop-color="#ffffff"/><stop offset="1" stop-color="#e02a3a"/></linearGradient>
<linearGradient id="gA2"><stop offset="0" stop-color="#ffffff"/><stop offset="1" stop-color="#3a1580"/></linearGradient>
<rect x="223" y="9.2" width="19.5" height="5.3" fill="url(#gA1)"/>
<text x="223" y="8.6" font-size="1.6" fill="#777" stroke="#777" stroke-width="0.04" textLength="19" lengthAdjust="spacingAndGlyphs">Correlation coefficient</text>
<text x="225.5" y="17.6" font-size="1.9" fill="#555" stroke="#555" stroke-width="0.04" textLength="3.27" lengthAdjust="spacingAndGlyphs">-0.4</text>
<text x="230.5" y="17.6" font-size="1.9" fill="#555" stroke="#555" stroke-width="0.04" textLength="2.64" lengthAdjust="spacingAndGlyphs">0.0</text>
<text x="236.5" y="17.6" font-size="1.9" fill="#555" stroke="#555" stroke-width="0.04" textLength="2.64" lengthAdjust="spacingAndGlyphs">0.4</text>
<text x="223" y="20.2" font-size="1.9" fill="#555" stroke="#555" stroke-width="0.04" textLength="6.3" lengthAdjust="spacingAndGlyphs">P value</text>
<rect x="226" y="21.2" width="16.5" height="3.5" fill="url(#gA2)"/>
<text x="221.8" y="27.8" font-size="1.6" fill="#555" stroke="#555" stroke-width="0.04" textLength="4.09" lengthAdjust="spacingAndGlyphs">1e-04</text>
<text x="226.7" y="27.8" font-size="1.6" fill="#555" stroke="#555" stroke-width="0.04" textLength="3.11" lengthAdjust="spacingAndGlyphs">0.01</text>
<text x="231.6" y="27.8" font-size="1.6" fill="#555" stroke="#555" stroke-width="0.04" textLength="2.22" lengthAdjust="spacingAndGlyphs">0.2</text>
<text x="236.5" y="27.8" font-size="1.6" fill="#555" stroke="#555" stroke-width="0.04" textLength="2.22" lengthAdjust="spacingAndGlyphs">0.5</text>
<text x="241.4" y="27.8" font-size="1.6" fill="#555" stroke="#555" stroke-width="0.04" textLength="2.22" lengthAdjust="spacingAndGlyphs">1.0</text>
<text x="11" y="10.5" font-size="4.2" fill="#444" text-anchor="middle" stroke="#444" stroke-width="0.04" textLength="2.8" lengthAdjust="spacingAndGlyphs">A</text>
<rect x="262.3" y="12.3" width="11.23" height="2.76" fill="#bcd6ee" stroke="#50607a" stroke-opacity="0.45" stroke-width="0.3"/>
<rect x="273.53" y="12.3" width="11.23" height="2.76" fill="#eeaab4" stroke="#50607a" stroke-opacity="0.45" stroke-width="0.3"/>
<rect x="284.77" y="12.3" width="11.23" height="2.76" fill="#eeaab0" stroke="#50607a" stroke-opacity="0.45" stroke-width="0.3"/>
<rect x="262.3" y="15.06" width="11.23" height="2.76" fill="#5aa0d8" stroke="#50607a" stroke-opacity="0.45" stroke-width="0.3"/>
<rect x="273.53" y="15.06" width="11.23" height="2.76" fill="#f4d0d0" stroke="#50607a" stroke-opacity="0.45" stroke-width="0.3"/>
<rect x="284.77" y="15.06" width="11.23" height="2.76" fill="#d8202c" stroke="#50607a" stroke-opacity="0.45" stroke-width="0.3"/>
<rect x="262.3" y="17.82" width="11.23" height="2.76" fill="#6aaee0" stroke="#50607a" stroke-opacity="0.45" stroke-width="0.3"/>
<rect x="273.53" y="17.82" width="11.23" height="2.76" fill="#f4c0c0" stroke="#50607a" stroke-opacity="0.45" stroke-width="0.3"/>
<rect x="284.77" y="17.82" width="11.23" height="2.76" fill="#d82030" stroke="#50607a" stroke-opacity="0.45" stroke-width="0.3"/>
<rect x="262.3" y="20.57" width="11.23" height="2.76" fill="#4a90d0" stroke="#50607a" stroke-opacity="0.45" stroke-width="0.3"/>
<rect x="273.53" y="20.57" width="11.23" height="2.76" fill="#70aee0" stroke="#50607a" stroke-opacity="0.45" stroke-width="0.3"/>
<rect x="284.77" y="20.57" width="11.23" height="2.76" fill="#ea8a98" stroke="#50607a" stroke-opacity="0.45" stroke-width="0.3"/>
<rect x="262.3" y="23.33" width="11.23" height="2.76" fill="#3a88c8" stroke="#50607a" stroke-opacity="0.45" stroke-width="0.3"/>
<rect x="273.53" y="23.33" width="11.23" height="2.76" fill="#c8e0f0" stroke="#50607a" stroke-opacity="0.45" stroke-width="0.3"/>
<rect x="284.77" y="23.33" width="11.23" height="2.76" fill="#ea8a98" stroke="#50607a" stroke-opacity="0.45" stroke-width="0.3"/>
<rect x="262.3" y="26.09" width="11.23" height="2.76" fill="#4a90d0" stroke="#50607a" stroke-opacity="0.45" stroke-width="0.3"/>
<rect x="273.53" y="26.09" width="11.23" height="2.76" fill="#f8f0f0" stroke="#50607a" stroke-opacity="0.45" stroke-width="0.3"/>
<rect x="284.77" y="26.09" width="11.23" height="2.76" fill="#d41c2a" stroke="#50607a" stroke-opacity="0.45" stroke-width="0.3"/>
<rect x="262.3" y="28.85" width="11.23" height="2.76" fill="#5aa0d8" stroke="#50607a" stroke-opacity="0.45" stroke-width="0.3"/>
<rect x="273.53" y="28.85" width="11.23" height="2.76" fill="#60a8dc" stroke="#50607a" stroke-opacity="0.45" stroke-width="0.3"/>
<rect x="284.77" y="28.85" width="11.23" height="2.76" fill="#f8f4f4" stroke="#50607a" stroke-opacity="0.45" stroke-width="0.3"/>
<rect x="262.3" y="31.6" width="11.23" height="2.76" fill="#5aa0d8" stroke="#50607a" stroke-opacity="0.45" stroke-width="0.3"/>
<rect x="273.53" y="31.6" width="11.23" height="2.76" fill="#f0b8c0" stroke="#50607a" stroke-opacity="0.45" stroke-width="0.3"/>
<rect x="284.77" y="31.6" width="11.23" height="2.76" fill="#e07080" stroke="#50607a" stroke-opacity="0.45" stroke-width="0.3"/>
<rect x="262.3" y="34.36" width="11.23" height="2.76" fill="#d0e4f2" stroke="#50607a" stroke-opacity="0.45" stroke-width="0.3"/>
<rect x="273.53" y="34.36" width="11.23" height="2.76" fill="#f4c8cc" stroke="#50607a" stroke-opacity="0.45" stroke-width="0.3"/>
<rect x="284.77" y="34.36" width="11.23" height="2.76" fill="#e07080" stroke="#50607a" stroke-opacity="0.45" stroke-width="0.3"/>
<rect x="262.3" y="37.12" width="11.23" height="2.76" fill="#5aa0d8" stroke="#50607a" stroke-opacity="0.45" stroke-width="0.3"/>
<rect x="273.53" y="37.12" width="11.23" height="2.76" fill="#f4d8d8" stroke="#50607a" stroke-opacity="0.45" stroke-width="0.3"/>
<rect x="284.77" y="37.12" width="11.23" height="2.76" fill="#e06070" stroke="#50607a" stroke-opacity="0.45" stroke-width="0.3"/>
<rect x="262.3" y="39.88" width="11.23" height="2.76" fill="#f4e4e4" stroke="#50607a" stroke-opacity="0.45" stroke-width="0.3"/>
<rect x="273.53" y="39.88" width="11.23" height="2.76" fill="#b0d4ec" stroke="#50607a" stroke-opacity="0.45" stroke-width="0.3"/>
<rect x="284.77" y="39.88" width="11.23" height="2.76" fill="#e07080" stroke="#50607a" stroke-opacity="0.45" stroke-width="0.3"/>
<rect x="262.3" y="42.64" width="11.23" height="2.76" fill="#5aa0d8" stroke="#50607a" stroke-opacity="0.45" stroke-width="0.3"/>
<rect x="273.53" y="42.64" width="11.23" height="2.76" fill="#90c4e8" stroke="#50607a" stroke-opacity="0.45" stroke-width="0.3"/>
<rect x="284.77" y="42.64" width="11.23" height="2.76" fill="#e28090" stroke="#50607a" stroke-opacity="0.45" stroke-width="0.3"/>
<rect x="262.3" y="45.39" width="11.23" height="2.76" fill="#6aaee0" stroke="#50607a" stroke-opacity="0.45" stroke-width="0.3"/>
<rect x="273.53" y="45.39" width="11.23" height="2.76" fill="#d4e8f4" stroke="#50607a" stroke-opacity="0.45" stroke-width="0.3"/>
<rect x="284.77" y="45.39" width="11.23" height="2.76" fill="#e88a98" stroke="#50607a" stroke-opacity="0.45" stroke-width="0.3"/>
<rect x="262.3" y="48.15" width="11.23" height="2.76" fill="#e8f0f8" stroke="#50607a" stroke-opacity="0.45" stroke-width="0.3"/>
<rect x="273.53" y="48.15" width="11.23" height="2.76" fill="#f0f0f4" stroke="#50607a" stroke-opacity="0.45" stroke-width="0.3"/>
<rect x="284.77" y="48.15" width="11.23" height="2.76" fill="#e89aa8" stroke="#50607a" stroke-opacity="0.45" stroke-width="0.3"/>
<rect x="262.3" y="50.91" width="11.23" height="2.76" fill="#e8f0f8" stroke="#50607a" stroke-opacity="0.45" stroke-width="0.3"/>
<rect x="273.53" y="50.91" width="11.23" height="2.76" fill="#f4dcdc" stroke="#50607a" stroke-opacity="0.45" stroke-width="0.3"/>
<rect x="284.77" y="50.91" width="11.23" height="2.76" fill="#ee9aa4" stroke="#50607a" stroke-opacity="0.45" stroke-width="0.3"/>
<rect x="262.3" y="53.67" width="11.23" height="2.76" fill="#5a9ad0" stroke="#50607a" stroke-opacity="0.45" stroke-width="0.3"/>
<rect x="273.53" y="53.67" width="11.23" height="2.76" fill="#c0dcf0" stroke="#50607a" stroke-opacity="0.45" stroke-width="0.3"/>
<rect x="284.77" y="53.67" width="11.23" height="2.76" fill="#e07078" stroke="#50607a" stroke-opacity="0.45" stroke-width="0.3"/>
<rect x="262.3" y="56.42" width="11.23" height="2.76" fill="#5aa0d8" stroke="#50607a" stroke-opacity="0.45" stroke-width="0.3"/>
<rect x="273.53" y="56.42" width="11.23" height="2.76" fill="#f4b8c0" stroke="#50607a" stroke-opacity="0.45" stroke-width="0.3"/>
<rect x="284.77" y="56.42" width="11.23" height="2.76" fill="#e06070" stroke="#50607a" stroke-opacity="0.45" stroke-width="0.3"/>
<rect x="262.3" y="59.18" width="11.23" height="2.76" fill="#5a9ad0" stroke="#50607a" stroke-opacity="0.45" stroke-width="0.3"/>
<rect x="273.53" y="59.18" width="11.23" height="2.76" fill="#c0dcf0" stroke="#50607a" stroke-opacity="0.45" stroke-width="0.3"/>
<rect x="284.77" y="59.18" width="11.23" height="2.76" fill="#e26a78" stroke="#50607a" stroke-opacity="0.45" stroke-width="0.3"/>
<rect x="262.3" y="61.94" width="11.23" height="2.76" fill="#4a90d0" stroke="#50607a" stroke-opacity="0.45" stroke-width="0.3"/>
<rect x="273.53" y="61.94" width="11.23" height="2.76" fill="#90c0e4" stroke="#50607a" stroke-opacity="0.45" stroke-width="0.3"/>
<rect x="284.77" y="61.94" width="11.23" height="2.76" fill="#f0b0b8" stroke="#50607a" stroke-opacity="0.45" stroke-width="0.3"/>
<rect x="262.3" y="64.7" width="11.23" height="2.76" fill="#5aa0d8" stroke="#50607a" stroke-opacity="0.45" stroke-width="0.3"/>
<rect x="273.53" y="64.7" width="11.23" height="2.76" fill="#e8e8f0" stroke="#50607a" stroke-opacity="0.45" stroke-width="0.3"/>
<rect x="284.77" y="64.7" width="11.23" height="2.76" fill="#f8f0f0" stroke="#50607a" stroke-opacity="0.45" stroke-width="0.3"/>
<rect x="262.3" y="67.46" width="11.23" height="2.76" fill="#4a90d0" stroke="#50607a" stroke-opacity="0.45" stroke-width="0.3"/>
<rect x="273.53" y="67.46" width="11.23" height="2.76" fill="#f4f4f4" stroke="#50607a" stroke-opacity="0.45" stroke-width="0.3"/>
<rect x="284.77" y="67.46" width="11.23" height="2.76" fill="#d41c28" stroke="#50607a" stroke-opacity="0.45" stroke-width="0.3"/>
<rect x="262.3" y="70.21" width="11.23" height="2.76" fill="#a0c8e8" stroke="#50607a" stroke-opacity="0.45" stroke-width="0.3"/>
<rect x="273.53" y="70.21" width="11.23" height="2.76" fill="#f0e8f0" stroke="#50607a" stroke-opacity="0.45" stroke-width="0.3"/>
<rect x="284.77" y="70.21" width="11.23" height="2.76" fill="#e05a68" stroke="#50607a" stroke-opacity="0.45" stroke-width="0.3"/>
<rect x="262.3" y="72.97" width="11.23" height="2.76" fill="#b0d4ee" stroke="#50607a" stroke-opacity="0.45" stroke-width="0.3"/>
<rect x="273.53" y="72.97" width="11.23" height="2.76" fill="#f8f0f0" stroke="#50607a" stroke-opacity="0.45" stroke-width="0.3"/>
<rect x="284.77" y="72.97" width="11.23" height="2.76" fill="#f0a8b0" stroke="#50607a" stroke-opacity="0.45" stroke-width="0.3"/>
<rect x="262.3" y="75.73" width="11.23" height="2.76" fill="#3a88c8" stroke="#50607a" stroke-opacity="0.45" stroke-width="0.3"/>
<rect x="273.53" y="75.73" width="11.23" height="2.76" fill="#5aa0d8" stroke="#50607a" stroke-opacity="0.45" stroke-width="0.3"/>
<rect x="284.77" y="75.73" width="11.23" height="2.76" fill="#d83040" stroke="#50607a" stroke-opacity="0.45" stroke-width="0.3"/>
<rect x="262.3" y="78.49" width="11.23" height="2.76" fill="#4a90d0" stroke="#50607a" stroke-opacity="0.45" stroke-width="0.3"/>
<rect x="273.53" y="78.49" width="11.23" height="2.76" fill="#78b4e0" stroke="#50607a" stroke-opacity="0.45" stroke-width="0.3"/>
<rect x="284.77" y="78.49" width="11.23" height="2.76" fill="#e05a68" stroke="#50607a" stroke-opacity="0.45" stroke-width="0.3"/>
<rect x="262.3" y="81.24" width="11.23" height="2.76" fill="#4a90d0" stroke="#50607a" stroke-opacity="0.45" stroke-width="0.3"/>
<rect x="273.53" y="81.24" width="11.23" height="2.76" fill="#f0b0b8" stroke="#50607a" stroke-opacity="0.45" stroke-width="0.3"/>
<rect x="284.77" y="81.24" width="11.23" height="2.76" fill="#d83040" stroke="#50607a" stroke-opacity="0.45" stroke-width="0.3"/>
<rect x="262.3" y="84" width="11.23" height="2.76" fill="#6aaee0" stroke="#50607a" stroke-opacity="0.45" stroke-width="0.3"/>
<rect x="273.53" y="84" width="11.23" height="2.76" fill="#b0d4ee" stroke="#50607a" stroke-opacity="0.45" stroke-width="0.3"/>
<rect x="284.77" y="84" width="11.23" height="2.76" fill="#e88a98" stroke="#50607a" stroke-opacity="0.45" stroke-width="0.3"/>
<rect x="262.3" y="86.76" width="11.23" height="2.76" fill="#f8f8fc" stroke="#50607a" stroke-opacity="0.45" stroke-width="0.3"/>
<rect x="273.53" y="86.76" width="11.23" height="2.76" fill="#c0dcf0" stroke="#50607a" stroke-opacity="0.45" stroke-width="0.3"/>
<rect x="284.77" y="86.76" width="11.23" height="2.76" fill="#f0b8c0" stroke="#50607a" stroke-opacity="0.45" stroke-width="0.3"/>
<rect x="262.3" y="89.52" width="11.23" height="2.76" fill="#b8d8f0" stroke="#50607a" stroke-opacity="0.45" stroke-width="0.3"/>
<rect x="273.53" y="89.52" width="11.23" height="2.76" fill="#e87080" stroke="#50607a" stroke-opacity="0.45" stroke-width="0.3"/>
<rect x="284.77" y="89.52" width="11.23" height="2.76" fill="#d01828" stroke="#50607a" stroke-opacity="0.45" stroke-width="0.3"/>
<rect x="262.3" y="92.28" width="11.23" height="2.76" fill="#c0dcf0" stroke="#50607a" stroke-opacity="0.45" stroke-width="0.3"/>
<rect x="273.53" y="92.28" width="11.23" height="2.76" fill="#f8f0f0" stroke="#50607a" stroke-opacity="0.45" stroke-width="0.3"/>
<rect x="284.77" y="92.28" width="11.23" height="2.76" fill="#d83040" stroke="#50607a" stroke-opacity="0.45" stroke-width="0.3"/>
<rect x="262.3" y="95.03" width="11.23" height="2.76" fill="#c8d8ea" stroke="#50607a" stroke-opacity="0.45" stroke-width="0.3"/>
<rect x="273.53" y="95.03" width="11.23" height="2.76" fill="#f0b8c0" stroke="#50607a" stroke-opacity="0.45" stroke-width="0.3"/>
<rect x="284.77" y="95.03" width="11.23" height="2.76" fill="#d83040" stroke="#50607a" stroke-opacity="0.45" stroke-width="0.3"/>
<rect x="262.3" y="97.79" width="11.23" height="2.76" fill="#c8d8ec" stroke="#50607a" stroke-opacity="0.45" stroke-width="0.3"/>
<rect x="273.53" y="97.79" width="11.23" height="2.76" fill="#f4e0e0" stroke="#50607a" stroke-opacity="0.45" stroke-width="0.3"/>
<rect x="284.77" y="97.79" width="11.23" height="2.76" fill="#f0a8b0" stroke="#50607a" stroke-opacity="0.45" stroke-width="0.3"/>
<rect x="262.3" y="100.55" width="11.23" height="2.76" fill="#d0e4f4" stroke="#50607a" stroke-opacity="0.45" stroke-width="0.3"/>
<rect x="273.53" y="100.55" width="11.23" height="2.76" fill="#f4e8e8" stroke="#50607a" stroke-opacity="0.45" stroke-width="0.3"/>
<rect x="284.77" y="100.55" width="11.23" height="2.76" fill="#f8f8f8" stroke="#50607a" stroke-opacity="0.45" stroke-width="0.3"/>
<rect x="262.3" y="103.31" width="11.23" height="2.76" fill="#2a78c0" stroke="#50607a" stroke-opacity="0.45" stroke-width="0.3"/>
<rect x="273.53" y="103.31" width="11.23" height="2.76" fill="#5aa0d8" stroke="#50607a" stroke-opacity="0.45" stroke-width="0.3"/>
<rect x="284.77" y="103.31" width="11.23" height="2.76" fill="#d82838" stroke="#50607a" stroke-opacity="0.45" stroke-width="0.3"/>
<rect x="262.3" y="106.06" width="11.23" height="2.76" fill="#3a88c8" stroke="#50607a" stroke-opacity="0.45" stroke-width="0.3"/>
<rect x="273.53" y="106.06" width="11.23" height="2.76" fill="#c0dcf0" stroke="#50607a" stroke-opacity="0.45" stroke-width="0.3"/>
<rect x="284.77" y="106.06" width="11.23" height="2.76" fill="#e04050" stroke="#50607a" stroke-opacity="0.45" stroke-width="0.3"/>
<rect x="262.3" y="108.82" width="11.23" height="2.76" fill="#3a88c8" stroke="#50607a" stroke-opacity="0.45" stroke-width="0.3"/>
<rect x="273.53" y="108.82" width="11.23" height="2.76" fill="#5aa0d8" stroke="#50607a" stroke-opacity="0.45" stroke-width="0.3"/>
<rect x="284.77" y="108.82" width="11.23" height="2.76" fill="#a0c8e8" stroke="#50607a" stroke-opacity="0.45" stroke-width="0.3"/>
<rect x="262.3" y="111.58" width="11.23" height="2.76" fill="#3a88c8" stroke="#50607a" stroke-opacity="0.45" stroke-width="0.3"/>
<rect x="273.53" y="111.58" width="11.23" height="2.76" fill="#70b0e0" stroke="#50607a" stroke-opacity="0.45" stroke-width="0.3"/>
<rect x="284.77" y="111.58" width="11.23" height="2.76" fill="#f8f8f8" stroke="#50607a" stroke-opacity="0.45" stroke-width="0.3"/>
<rect x="262.3" y="114.34" width="11.23" height="2.76" fill="#4a90d0" stroke="#50607a" stroke-opacity="0.45" stroke-width="0.3"/>
<rect x="273.53" y="114.34" width="11.23" height="2.76" fill="#5aa0d8" stroke="#50607a" stroke-opacity="0.45" stroke-width="0.3"/>
<rect x="284.77" y="114.34" width="11.23" height="2.76" fill="#e06070" stroke="#50607a" stroke-opacity="0.45" stroke-width="0.3"/>
<rect x="262.3" y="117.1" width="11.23" height="2.76" fill="#4a90d0" stroke="#50607a" stroke-opacity="0.45" stroke-width="0.3"/>
<rect x="273.53" y="117.1" width="11.23" height="2.76" fill="#5aa0d8" stroke="#50607a" stroke-opacity="0.45" stroke-width="0.3"/>
<rect x="284.77" y="117.1" width="11.23" height="2.76" fill="#f0b0b8" stroke="#50607a" stroke-opacity="0.45" stroke-width="0.3"/>
<rect x="262.3" y="119.85" width="11.23" height="2.76" fill="#c8e0f0" stroke="#50607a" stroke-opacity="0.45" stroke-width="0.3"/>
<rect x="273.53" y="119.85" width="11.23" height="2.76" fill="#d0e4f4" stroke="#50607a" stroke-opacity="0.45" stroke-width="0.3"/>
<rect x="284.77" y="119.85" width="11.23" height="2.76" fill="#e05060" stroke="#50607a" stroke-opacity="0.45" stroke-width="0.3"/>
<rect x="262.3" y="122.61" width="11.23" height="2.76" fill="#78b4e0" stroke="#50607a" stroke-opacity="0.45" stroke-width="0.3"/>
<rect x="273.53" y="122.61" width="11.23" height="2.76" fill="#f0a8b0" stroke="#50607a" stroke-opacity="0.45" stroke-width="0.3"/>
<rect x="284.77" y="122.61" width="11.23" height="2.76" fill="#d01828" stroke="#50607a" stroke-opacity="0.45" stroke-width="0.3"/>
<rect x="262.3" y="125.37" width="11.23" height="2.76" fill="#5aa0d8" stroke="#50607a" stroke-opacity="0.45" stroke-width="0.3"/>
<rect x="273.53" y="125.37" width="11.23" height="2.76" fill="#b8d8f0" stroke="#50607a" stroke-opacity="0.45" stroke-width="0.3"/>
<rect x="284.77" y="125.37" width="11.23" height="2.76" fill="#e88a98" stroke="#50607a" stroke-opacity="0.45" stroke-width="0.3"/>
<rect x="262.3" y="128.13" width="11.23" height="2.76" fill="#3a88c8" stroke="#50607a" stroke-opacity="0.45" stroke-width="0.3"/>
<rect x="273.53" y="128.13" width="11.23" height="2.76" fill="#78b4e0" stroke="#50607a" stroke-opacity="0.45" stroke-width="0.3"/>
<rect x="284.77" y="128.13" width="11.23" height="2.76" fill="#e06878" stroke="#50607a" stroke-opacity="0.45" stroke-width="0.3"/>
<rect x="262.3" y="130.88" width="11.23" height="2.76" fill="#f8f8f8" stroke="#50607a" stroke-opacity="0.45" stroke-width="0.3"/>
<rect x="273.53" y="130.88" width="11.23" height="2.76" fill="#a8d0ec" stroke="#50607a" stroke-opacity="0.45" stroke-width="0.3"/>
<rect x="284.77" y="130.88" width="11.23" height="2.76" fill="#d82030" stroke="#50607a" stroke-opacity="0.45" stroke-width="0.3"/>
<rect x="262.3" y="133.64" width="11.23" height="2.76" fill="#4a90d0" stroke="#50607a" stroke-opacity="0.45" stroke-width="0.3"/>
<rect x="273.53" y="133.64" width="11.23" height="2.76" fill="#a0c8e8" stroke="#50607a" stroke-opacity="0.45" stroke-width="0.3"/>
<rect x="284.77" y="133.64" width="11.23" height="2.76" fill="#f0b0b8" stroke="#50607a" stroke-opacity="0.45" stroke-width="0.3"/>
<path d="M267.92 12.3V136.4M279.15 12.3V136.4M290.38 12.3V136.4" stroke="#40506a" stroke-opacity="0.25" stroke-width="0.3"/>
<text x="298.2" y="14.92" font-size="3.3" fill="#444" stroke="#444" stroke-width="0.07" textLength="23.6" lengthAdjust="spacingAndGlyphs">TCGA-GBM</text>
<text x="298.2" y="17.68" font-size="3.3" fill="#444" stroke="#444" stroke-width="0.07" textLength="32.45" lengthAdjust="spacingAndGlyphs">TCGA-GBMLGG</text>
<text x="298.2" y="20.44" font-size="3.3" fill="#444" stroke="#444" stroke-width="0.07" textLength="23.6" lengthAdjust="spacingAndGlyphs">TCGA-LGG</text>
<text x="298.2" y="23.19" font-size="3.3" fill="#444" stroke="#444" stroke-width="0.07" textLength="32.45" lengthAdjust="spacingAndGlyphs">TARGET-LAML</text>
<text x="298.2" y="25.95" font-size="3.3" fill="#444" stroke="#444" stroke-width="0.07" textLength="26.55" lengthAdjust="spacingAndGlyphs">TCGA-BRCA</text>
<text x="298.2" y="28.71" font-size="3.3" fill="#444" stroke="#444" stroke-width="0.07" textLength="26.55" lengthAdjust="spacingAndGlyphs">TCGA-CESC</text>
<text x="298.2" y="31.47" font-size="3.3" fill="#444" stroke="#444" stroke-width="0.07" textLength="26.55" lengthAdjust="spacingAndGlyphs">TCGA-LUAD</text>
<text x="298.2" y="34.22" font-size="3.3" fill="#444" stroke="#444" stroke-width="0.07" textLength="26.55" lengthAdjust="spacingAndGlyphs">TCGA-ESCA</text>
<text x="298.2" y="36.98" font-size="3.3" fill="#444" stroke="#444" stroke-width="0.07" textLength="26.55" lengthAdjust="spacingAndGlyphs">TCGA-STES</text>
<text x="298.2" y="39.74" font-size="3.3" fill="#444" stroke="#444" stroke-width="0.07" textLength="26.55" lengthAdjust="spacingAndGlyphs">TCGA-SARC</text>
<text x="298.2" y="42.5" font-size="3.3" fill="#444" stroke="#444" stroke-width="0.07" textLength="26.55" lengthAdjust="spacingAndGlyphs">TCGA-KIRP</text>
<text x="298.2" y="45.26" font-size="3.3" fill="#444" stroke="#444" stroke-width="0.07" textLength="29.5" lengthAdjust="spacingAndGlyphs">TCGA-KIPAN</text>
<text x="298.2" y="48.01" font-size="3.3" fill="#444" stroke="#444" stroke-width="0.07" textLength="26.55" lengthAdjust="spacingAndGlyphs">TCGA-COAD</text>
<text x="298.2" y="50.77" font-size="3.3" fill="#444" stroke="#444" stroke-width="0.07" textLength="38.35" lengthAdjust="spacingAndGlyphs">TCGA-COADREAD</text>
<text x="298.2" y="53.53" font-size="3.3" fill="#444" stroke="#444" stroke-width="0.07" textLength="26.55" lengthAdjust="spacingAndGlyphs">TCGA-PRAD</text>
<text x="298.2" y="56.29" font-size="3.3" fill="#444" stroke="#444" stroke-width="0.07" textLength="26.55" lengthAdjust="spacingAndGlyphs">TCGA-STAD</text>
<text x="298.2" y="59.04" font-size="3.3" fill="#444" stroke="#444" stroke-width="0.07" textLength="26.55" lengthAdjust="spacingAndGlyphs">TCGA-HNSC</text>
<text x="298.2" y="61.8" font-size="3.3" fill="#444" stroke="#444" stroke-width="0.07" textLength="26.55" lengthAdjust="spacingAndGlyphs">TCGA-KIRC</text>
<text x="298.2" y="64.56" font-size="3.3" fill="#444" stroke="#444" stroke-width="0.07" textLength="26.55" lengthAdjust="spacingAndGlyphs">TCGA-LUSC</text>
<text x="298.2" y="67.32" font-size="3.3" fill="#444" stroke="#444" stroke-width="0.07" textLength="26.55" lengthAdjust="spacingAndGlyphs">TCGA-THYM</text>
<text x="298.2" y="70.08" font-size="3.3" fill="#444" stroke="#444" stroke-width="0.07" textLength="26.55" lengthAdjust="spacingAndGlyphs">TCGA-LIHC</text>
<text x="298.2" y="72.83" font-size="3.3" fill="#444" stroke="#444" stroke-width="0.07" textLength="26.55" lengthAdjust="spacingAndGlyphs">TARGET-WT</text>
<text x="298.2" y="75.59" font-size="3.3" fill="#444" stroke="#444" stroke-width="0.07" textLength="32.45" lengthAdjust="spacingAndGlyphs">TCGA-SKCM-P</text>
<text x="298.2" y="78.35" font-size="3.3" fill="#444" stroke="#444" stroke-width="0.07" textLength="26.55" lengthAdjust="spacingAndGlyphs">TCGA-SKCM</text>
<text x="298.2" y="81.11" font-size="3.3" fill="#444" stroke="#444" stroke-width="0.07" textLength="26.55" lengthAdjust="spacingAndGlyphs">TCGA-BLCA</text>
<text x="298.2" y="83.86" font-size="3.3" fill="#444" stroke="#444" stroke-width="0.07" textLength="32.45" lengthAdjust="spacingAndGlyphs">TCGA-SKCM-M</text>
<text x="298.2" y="86.62" font-size="3.3" fill="#444" stroke="#444" stroke-width="0.07" textLength="26.55" lengthAdjust="spacingAndGlyphs">TCGA-THCA</text>
<text x="298.2" y="89.38" font-size="3.3" fill="#444" stroke="#444" stroke-width="0.07" textLength="26.55" lengthAdjust="spacingAndGlyphs">TCGA-MESO</text>
<text x="298.2" y="92.14" font-size="3.3" fill="#444" stroke="#444" stroke-width="0.07" textLength="26.55" lengthAdjust="spacingAndGlyphs">TCGA-READ</text>
<text x="298.2" y="94.9" font-size="3.3" fill="#444" stroke="#444" stroke-width="0.07" textLength="26.55" lengthAdjust="spacingAndGlyphs">TCGA-PAAD</text>
<text x="298.2" y="97.65" font-size="3.3" fill="#444" stroke="#444" stroke-width="0.07" textLength="20.65" lengthAdjust="spacingAndGlyphs">TCGA-OV</text>
<text x="298.2" y="100.41" font-size="3.3" fill="#444" stroke="#444" stroke-width="0.07" textLength="26.55" lengthAdjust="spacingAndGlyphs">TCGA-TGCT</text>
<text x="298.2" y="103.17" font-size="3.3" fill="#444" stroke="#444" stroke-width="0.07" textLength="23.6" lengthAdjust="spacingAndGlyphs">TCGA-UCS</text>
<text x="298.2" y="105.93" font-size="3.3" fill="#444" stroke="#444" stroke-width="0.07" textLength="26.55" lengthAdjust="spacingAndGlyphs">TCGA-LAML</text>
<text x="298.2" y="108.68" font-size="3.3" fill="#444" stroke="#444" stroke-width="0.07" textLength="26.55" lengthAdjust="spacingAndGlyphs">TCGA-PCPG</text>
<text x="298.2" y="111.44" font-size="3.3" fill="#444" stroke="#444" stroke-width="0.07" textLength="23.6" lengthAdjust="spacingAndGlyphs">TCGA-ACC</text>
<text x="298.2" y="114.2" font-size="3.3" fill="#444" stroke="#444" stroke-width="0.07" textLength="26.55" lengthAdjust="spacingAndGlyphs">TCGA-DLBC</text>
<text x="298.2" y="116.96" font-size="3.3" fill="#444" stroke="#444" stroke-width="0.07" textLength="26.55" lengthAdjust="spacingAndGlyphs">TCGA-KICH</text>
<text x="298.2" y="119.72" font-size="3.3" fill="#444" stroke="#444" stroke-width="0.07" textLength="26.55" lengthAdjust="spacingAndGlyphs">TCGA-CHOL</text>
<text x="298.2" y="122.47" font-size="3.3" fill="#444" stroke="#444" stroke-width="0.07" textLength="26.55" lengthAdjust="spacingAndGlyphs">TARGET-NB</text>
<text x="298.2" y="125.23" font-size="3.3" fill="#444" stroke="#444" stroke-width="0.07" textLength="23.6" lengthAdjust="spacingAndGlyphs">TCGA-UVM</text>
<text x="298.2" y="127.99" font-size="3.3" fill="#444" stroke="#444" stroke-width="0.07" textLength="35.4" lengthAdjust="spacingAndGlyphs">TARGET-ALL-R</text>
<text x="298.2" y="130.75" font-size="3.3" fill="#444" stroke="#444" stroke-width="0.07" textLength="20.65" lengthAdjust="spacingAndGlyphs">TCGA-OS</text>
<text x="298.2" y="133.5" font-size="3.3" fill="#444" stroke="#444" stroke-width="0.07" textLength="23.6" lengthAdjust="spacingAndGlyphs">TCGA-UCS</text>
<text x="298.2" y="136.26" font-size="3.3" fill="#444" stroke="#444" stroke-width="0.07" textLength="26.55" lengthAdjust="spacingAndGlyphs">TCGA-CHOL</text>
<text x="269.04" y="139.4" font-size="3.5" fill="#333" text-anchor="end" stroke="#333" stroke-width="0.12" textLength="7" lengthAdjust="spacingAndGlyphs" transform="rotate(-45 269.04 139.4)">NKT</text>
<text x="280.27" y="139.4" font-size="3.5" fill="#333" text-anchor="end" stroke="#333" stroke-width="0.12" textLength="14" lengthAdjust="spacingAndGlyphs" transform="rotate(-45 280.27 139.4)">Th1 cells</text>
<text x="291.51" y="139.4" font-size="3.5" fill="#333" text-anchor="end" stroke="#333" stroke-width="0.12" textLength="14" lengthAdjust="spacingAndGlyphs" transform="rotate(-45 291.51 139.4)">Th2 cells</text>
<linearGradient id="gB" x1="0" y1="0" x2="0" y2="1"><stop offset="0" stop-color="#c8102e"/><stop offset="0.25" stop-color="#e8707a"/><stop offset="0.5" stop-color="#f7f7f7"/><stop offset="0.75" stop-color="#6aaad8"/><stop offset="1" stop-color="#1f68b0"/></linearGradient>
<rect x="348.1" y="17.2" width="5.8" height="33.7" fill="url(#gB)"/>
<text x="355" y="18.7" font-size="2.8" fill="#444" stroke="#444" stroke-width="0.04" textLength="5.45" lengthAdjust="spacingAndGlyphs">0.80</text>
<text x="355" y="22.9" font-size="2.8" fill="#444" stroke="#444" stroke-width="0.04" textLength="5.45" lengthAdjust="spacingAndGlyphs">0.60</text>
<text x="355" y="27.1" font-size="2.8" fill="#444" stroke="#444" stroke-width="0.04" textLength="5.45" lengthAdjust="spacingAndGlyphs">0.40</text>
<text x="355" y="31.3" font-size="2.8" fill="#444" stroke="#444" stroke-width="0.04" textLength="5.45" lengthAdjust="spacingAndGlyphs">0.20</text>
<text x="355" y="35.5" font-size="2.8" fill="#444" stroke="#444" stroke-width="0.04" textLength="5.45" lengthAdjust="spacingAndGlyphs">0.00</text>
<text x="355" y="39.7" font-size="2.8" fill="#444" stroke="#444" stroke-width="0.04" textLength="6.38" lengthAdjust="spacingAndGlyphs">-0.20</text>
<text x="355" y="43.9" font-size="2.8" fill="#444" stroke="#444" stroke-width="0.04" textLength="6.38" lengthAdjust="spacingAndGlyphs">-0.40</text>
<text x="355" y="48.1" font-size="2.8" fill="#444" stroke="#444" stroke-width="0.04" textLength="6.38" lengthAdjust="spacingAndGlyphs">-0.60</text>
<text x="355" y="52.3" font-size="2.8" fill="#444" stroke="#444" stroke-width="0.04" textLength="6.38" lengthAdjust="spacingAndGlyphs">-0.80</text>
<text x="257.5" y="10.5" font-size="4.2" fill="#444" text-anchor="middle" stroke="#444" stroke-width="0.04" textLength="2.8" lengthAdjust="spacingAndGlyphs">B</text>
<rect x="385.5" y="14.5" width="114.3" height="123.6" fill="#fdf4f4"/>
<path fill="#fcf6f6" d="M385.6 14.7h2.8v4.8h-2.8zM388.7 14.7h2.8v4.8h-2.8zM416.5 14.7h2.8v4.8h-2.8zM438.2 14.7h2.8v4.8h-2.8zM450.5 19.8h2.8v4.8h-2.8zM462.9 19.8h2.8v4.8h-2.8zM466 19.8h2.8v4.8h-2.8zM475.2 19.8h2.8v4.8h-2.8zM481.4 19.8h2.8v4.8h-2.8zM487.6 19.8h2.8v4.8h-2.8zM490.7 19.8h2.8v4.8h-2.8zM385.6 24.9h2.8v4.8h-2.8zM444.3 24.9h2.8v4.8h-2.8zM447.4 24.9h2.8v4.8h-2.8zM490.7 24.9h2.8v4.8h-2.8zM493.8 24.9h2.8v4.8h-2.8zM416.5 30.1h2.8v4.8h-2.8zM475.2 30.1h2.8v4.8h-2.8zM391.8 35.2h2.8v4.8h-2.8zM398 35.2h2.8v4.8h-2.8zM422.7 35.2h2.8v4.8h-2.8zM438.2 35.2h2.8v4.8h-2.8zM444.3 35.2h2.8v4.8h-2.8zM459.8 35.2h2.8v4.8h-2.8zM493.8 35.2h2.8v4.8h-2.8zM419.6 40.4h2.8v4.8h-2.8zM422.7 40.4h2.8v4.8h-2.8zM438.2 40.4h2.8v4.8h-2.8zM456.7 40.4h2.8v4.8h-2.8zM459.8 40.4h2.8v4.8h-2.8zM496.9 40.4h2.8v4.8h-2.8zM385.6 45.5h2.8v4.8h-2.8zM404.2 45.5h2.8v4.8h-2.8zM422.7 45.5h2.8v4.8h-2.8zM432 45.5h2.8v4.8h-2.8zM459.8 45.5h2.8v4.8h-2.8zM481.4 45.5h2.8v4.8h-2.8zM490.7 45.5h2.8v4.8h-2.8zM496.9 45.5h2.8v4.8h-2.8zM416.5 50.7h2.8v4.8h-2.8zM419.6 50.7h2.8v4.8h-2.8zM432 50.7h2.8v4.8h-2.8zM478.3 50.7h2.8v4.8h-2.8zM428.9 55.8h2.8v4.8h-2.8zM472.1 55.8h2.8v4.8h-2.8zM490.7 55.8h2.8v4.8h-2.8zM493.8 55.8h2.8v4.8h-2.8zM410.4 61h2.8v4.8h-2.8zM447.4 61h2.8v4.8h-2.8zM490.7 61h2.8v4.8h-2.8zM391.8 66.2h2.8v4.8h-2.8zM428.9 66.2h2.8v4.8h-2.8zM447.4 66.2h2.8v4.8h-2.8zM450.5 66.2h2.8v4.8h-2.8zM481.4 66.2h2.8v4.8h-2.8zM487.6 66.2h2.8v4.8h-2.8zM428.9 71.3h2.8v4.8h-2.8zM444.3 71.3h2.8v4.8h-2.8zM462.9 71.3h2.8v4.8h-2.8zM478.3 71.3h2.8v4.8h-2.8zM413.5 76.5h2.8v4.8h-2.8zM425.8 76.5h2.8v4.8h-2.8zM447.4 76.5h2.8v4.8h-2.8zM478.3 76.5h2.8v4.8h-2.8zM487.6 76.5h2.8v4.8h-2.8zM490.7 76.5h2.8v4.8h-2.8zM401.1 81.6h2.8v4.8h-2.8zM413.5 86.8h2.8v4.8h-2.8zM453.6 86.8h2.8v4.8h-2.8zM456.7 86.8h2.8v4.8h-2.8zM478.3 86.8h2.8v4.8h-2.8zM481.4 86.8h2.8v4.8h-2.8zM493.8 86.8h2.8v4.8h-2.8zM404.2 91.9h2.8v4.8h-2.8zM407.3 91.9h2.8v4.8h-2.8zM413.5 91.9h2.8v4.8h-2.8zM438.2 91.9h2.8v4.8h-2.8zM462.9 91.9h2.8v4.8h-2.8zM469.1 91.9h2.8v4.8h-2.8zM481.4 91.9h2.8v4.8h-2.8zM391.8 97h2.8v4.8h-2.8zM435.1 97h2.8v4.8h-2.8zM453.6 97h2.8v4.8h-2.8zM459.8 97h2.8v4.8h-2.8zM469.1 97h2.8v4.8h-2.8zM472.1 97h2.8v4.8h-2.8zM481.4 97h2.8v4.8h-2.8zM496.9 97h2.8v4.8h-2.8zM388.7 102.2h2.8v4.8h-2.8zM416.5 102.2h2.8v4.8h-2.8zM438.2 102.2h2.8v4.8h-2.8zM444.3 102.2h2.8v4.8h-2.8zM447.4 102.2h2.8v4.8h-2.8zM459.8 102.2h2.8v4.8h-2.8zM466 102.2h2.8v4.8h-2.8zM475.2 102.2h2.8v4.8h-2.8zM481.4 102.2h2.8v4.8h-2.8zM484.5 102.2h2.8v4.8h-2.8zM490.7 102.2h2.8v4.8h-2.8zM432 107.3h2.8v4.8h-2.8zM450.5 107.3h2.8v4.8h-2.8zM462.9 107.3h2.8v4.8h-2.8zM466 107.3h2.8v4.8h-2.8zM484.5 107.3h2.8v4.8h-2.8zM496.9 107.3h2.8v4.8h-2.8zM391.8 112.5h2.8v4.8h-2.8zM472.1 112.5h2.8v4.8h-2.8zM487.6 112.5h2.8v4.8h-2.8zM496.9 112.5h2.8v4.8h-2.8zM407.3 117.6h2.8v4.8h-2.8zM435.1 117.6h2.8v4.8h-2.8zM447.4 117.6h2.8v4.8h-2.8zM469.1 117.6h2.8v4.8h-2.8zM398 122.8h2.8v4.8h-2.8zM410.4 122.8h2.8v4.8h-2.8zM462.9 122.8h2.8v4.8h-2.8zM469.1 122.8h2.8v4.8h-2.8zM475.2 122.8h2.8v4.8h-2.8zM391.8 127.9h2.8v4.8h-2.8zM435.1 127.9h2.8v4.8h-2.8zM459.8 127.9h2.8v4.8h-2.8zM475.2 127.9h2.8v4.8h-2.8zM493.8 127.9h2.8v4.8h-2.8zM385.6 133.1h2.8v4.8h-2.8zM391.8 133.1h2.8v4.8h-2.8zM407.3 133.1h2.8v4.8h-2.8zM416.5 133.1h2.8v4.8h-2.8zM435.1 133.1h2.8v4.8h-2.8zM444.3 133.1h2.8v4.8h-2.8zM462.9 133.1h2.8v4.8h-2.8zM472.1 133.1h2.8v4.8h-2.8z"/>
<path fill="#f6d8d8" d="M391.8 14.7h2.8v4.8h-2.8zM447.4 14.7h2.8v4.8h-2.8zM438.2 24.9h2.8v4.8h-2.8zM391.8 40.4h2.8v4.8h-2.8zM469.1 40.4h2.8v4.8h-2.8zM475.2 40.4h2.8v4.8h-2.8zM466 50.7h2.8v4.8h-2.8zM484.5 55.8h2.8v4.8h-2.8zM496.9 55.8h2.8v4.8h-2.8zM435.1 61h2.8v4.8h-2.8zM469.1 61h2.8v4.8h-2.8zM419.6 66.2h2.8v4.8h-2.8zM456.7 76.5h2.8v4.8h-2.8zM475.2 76.5h2.8v4.8h-2.8zM450.5 81.6h2.8v4.8h-2.8zM391.8 86.8h2.8v4.8h-2.8zM462.9 97h2.8v4.8h-2.8zM419.6 102.2h2.8v4.8h-2.8zM391.8 107.3h2.8v4.8h-2.8zM398 107.3h2.8v4.8h-2.8zM413.5 117.6h2.8v4.8h-2.8zM407.3 122.8h2.8v4.8h-2.8zM453.6 133.1h2.8v4.8h-2.8z"/>
<path fill="#fcf0f0" d="M394.9 14.7h2.8v4.8h-2.8zM419.6 14.7h2.8v4.8h-2.8zM432 14.7h2.8v4.8h-2.8zM450.5 14.7h2.8v4.8h-2.8zM456.7 14.7h2.8v4.8h-2.8zM466 14.7h2.8v4.8h-2.8zM472.1 14.7h2.8v4.8h-2.8zM487.6 14.7h2.8v4.8h-2.8zM401.1 19.8h2.8v4.8h-2.8zM410.4 19.8h2.8v4.8h-2.8zM425.8 19.8h2.8v4.8h-2.8zM496.9 19.8h2.8v4.8h-2.8zM391.8 24.9h2.8v4.8h-2.8zM428.9 24.9h2.8v4.8h-2.8zM453.6 24.9h2.8v4.8h-2.8zM459.8 24.9h2.8v4.8h-2.8zM462.9 24.9h2.8v4.8h-2.8zM472.1 24.9h2.8v4.8h-2.8zM487.6 24.9h2.8v4.8h-2.8zM410.4 30.1h2.8v4.8h-2.8zM441.3 30.1h2.8v4.8h-2.8zM447.4 30.1h2.8v4.8h-2.8zM462.9 30.1h2.8v4.8h-2.8zM472.1 30.1h2.8v4.8h-2.8zM478.3 30.1h2.8v4.8h-2.8zM481.4 30.1h2.8v4.8h-2.8zM487.6 30.1h2.8v4.8h-2.8zM490.7 30.1h2.8v4.8h-2.8zM496.9 30.1h2.8v4.8h-2.8zM410.4 35.2h2.8v4.8h-2.8zM432 35.2h2.8v4.8h-2.8zM456.7 35.2h2.8v4.8h-2.8zM472.1 35.2h2.8v4.8h-2.8zM385.6 40.4h2.8v4.8h-2.8zM388.7 40.4h2.8v4.8h-2.8zM404.2 40.4h2.8v4.8h-2.8zM407.3 40.4h2.8v4.8h-2.8zM413.5 40.4h2.8v4.8h-2.8zM425.8 40.4h2.8v4.8h-2.8zM428.9 40.4h2.8v4.8h-2.8zM432 40.4h2.8v4.8h-2.8zM450.5 40.4h2.8v4.8h-2.8zM466 40.4h2.8v4.8h-2.8zM481.4 40.4h2.8v4.8h-2.8zM490.7 40.4h2.8v4.8h-2.8zM493.8 40.4h2.8v4.8h-2.8zM407.3 45.5h2.8v4.8h-2.8zM428.9 45.5h2.8v4.8h-2.8zM435.1 45.5h2.8v4.8h-2.8zM453.6 45.5h2.8v4.8h-2.8zM466 45.5h2.8v4.8h-2.8zM493.8 45.5h2.8v4.8h-2.8zM404.2 50.7h2.8v4.8h-2.8zM407.3 50.7h2.8v4.8h-2.8zM410.4 50.7h2.8v4.8h-2.8zM428.9 50.7h2.8v4.8h-2.8zM438.2 50.7h2.8v4.8h-2.8zM447.4 50.7h2.8v4.8h-2.8zM456.7 50.7h2.8v4.8h-2.8zM462.9 50.7h2.8v4.8h-2.8zM472.1 50.7h2.8v4.8h-2.8zM487.6 50.7h2.8v4.8h-2.8zM490.7 50.7h2.8v4.8h-2.8zM394.9 55.8h2.8v4.8h-2.8zM401.1 55.8h2.8v4.8h-2.8zM410.4 55.8h2.8v4.8h-2.8zM416.5 55.8h2.8v4.8h-2.8zM435.1 55.8h2.8v4.8h-2.8zM438.2 55.8h2.8v4.8h-2.8zM447.4 55.8h2.8v4.8h-2.8zM462.9 55.8h2.8v4.8h-2.8zM466 55.8h2.8v4.8h-2.8zM478.3 55.8h2.8v4.8h-2.8zM481.4 55.8h2.8v4.8h-2.8zM388.7 61h2.8v4.8h-2.8zM407.3 61h2.8v4.8h-2.8zM462.9 61h2.8v4.8h-2.8zM388.7 66.2h2.8v4.8h-2.8zM404.2 66.2h2.8v4.8h-2.8zM413.5 66.2h2.8v4.8h-2.8zM422.7 66.2h2.8v4.8h-2.8zM435.1 66.2h2.8v4.8h-2.8zM469.1 66.2h2.8v4.8h-2.8zM475.2 66.2h2.8v4.8h-2.8zM484.5 66.2h2.8v4.8h-2.8zM407.3 71.3h2.8v4.8h-2.8zM425.8 71.3h2.8v4.8h-2.8zM438.2 71.3h2.8v4.8h-2.8zM450.5 71.3h2.8v4.8h-2.8zM496.9 71.3h2.8v4.8h-2.8zM388.7 76.5h2.8v4.8h-2.8zM394.9 76.5h2.8v4.8h-2.8zM407.3 76.5h2.8v4.8h-2.8zM419.6 76.5h2.8v4.8h-2.8zM435.1 76.5h2.8v4.8h-2.8zM438.2 76.5h2.8v4.8h-2.8zM444.3 76.5h2.8v4.8h-2.8zM450.5 76.5h2.8v4.8h-2.8zM459.8 76.5h2.8v4.8h-2.8zM472.1 76.5h2.8v4.8h-2.8zM496.9 76.5h2.8v4.8h-2.8zM462.9 81.6h2.8v4.8h-2.8zM469.1 81.6h2.8v4.8h-2.8zM385.6 86.8h2.8v4.8h-2.8zM398 86.8h2.8v4.8h-2.8zM404.2 86.8h2.8v4.8h-2.8zM407.3 86.8h2.8v4.8h-2.8zM410.4 86.8h2.8v4.8h-2.8zM428.9 86.8h2.8v4.8h-2.8zM432 86.8h2.8v4.8h-2.8zM435.1 86.8h2.8v4.8h-2.8zM441.3 86.8h2.8v4.8h-2.8zM469.1 86.8h2.8v4.8h-2.8zM484.5 86.8h2.8v4.8h-2.8zM496.9 86.8h2.8v4.8h-2.8zM388.7 91.9h2.8v4.8h-2.8zM394.9 91.9h2.8v4.8h-2.8zM422.7 91.9h2.8v4.8h-2.8zM456.7 91.9h2.8v4.8h-2.8zM459.8 91.9h2.8v4.8h-2.8zM475.2 91.9h2.8v4.8h-2.8zM444.3 97h2.8v4.8h-2.8zM456.7 97h2.8v4.8h-2.8zM478.3 97h2.8v4.8h-2.8zM484.5 97h2.8v4.8h-2.8zM398 102.2h2.8v4.8h-2.8zM487.6 102.2h2.8v4.8h-2.8zM493.8 102.2h2.8v4.8h-2.8zM385.6 107.3h2.8v4.8h-2.8zM394.9 107.3h2.8v4.8h-2.8zM407.3 107.3h2.8v4.8h-2.8zM441.3 107.3h2.8v4.8h-2.8zM453.6 107.3h2.8v4.8h-2.8zM490.7 107.3h2.8v4.8h-2.8zM493.8 107.3h2.8v4.8h-2.8zM398 112.5h2.8v4.8h-2.8zM404.2 112.5h2.8v4.8h-2.8zM416.5 112.5h2.8v4.8h-2.8zM422.7 112.5h2.8v4.8h-2.8zM432 112.5h2.8v4.8h-2.8zM444.3 112.5h2.8v4.8h-2.8zM447.4 112.5h2.8v4.8h-2.8zM398 117.6h2.8v4.8h-2.8zM404.2 117.6h2.8v4.8h-2.8zM422.7 117.6h2.8v4.8h-2.8zM425.8 117.6h2.8v4.8h-2.8zM456.7 117.6h2.8v4.8h-2.8zM459.8 117.6h2.8v4.8h-2.8zM391.8 122.8h2.8v4.8h-2.8zM394.9 122.8h2.8v4.8h-2.8zM413.5 122.8h2.8v4.8h-2.8zM422.7 122.8h2.8v4.8h-2.8zM425.8 122.8h2.8v4.8h-2.8zM438.2 122.8h2.8v4.8h-2.8zM459.8 122.8h2.8v4.8h-2.8zM478.3 122.8h2.8v4.8h-2.8zM398 127.9h2.8v4.8h-2.8zM401.1 127.9h2.8v4.8h-2.8zM413.5 127.9h2.8v4.8h-2.8zM432 127.9h2.8v4.8h-2.8zM438.2 127.9h2.8v4.8h-2.8zM462.9 127.9h2.8v4.8h-2.8zM472.1 127.9h2.8v4.8h-2.8zM478.3 127.9h2.8v4.8h-2.8zM487.6 127.9h2.8v4.8h-2.8zM496.9 127.9h2.8v4.8h-2.8zM398 133.1h2.8v4.8h-2.8zM401.1 133.1h2.8v4.8h-2.8zM419.6 133.1h2.8v4.8h-2.8zM428.9 133.1h2.8v4.8h-2.8zM447.4 133.1h2.8v4.8h-2.8zM450.5 133.1h2.8v4.8h-2.8zM466 133.1h2.8v4.8h-2.8zM475.2 133.1h2.8v4.8h-2.8zM478.3 133.1h2.8v4.8h-2.8zM493.8 133.1h2.8v4.8h-2.8z"/>
<path fill="#f6dede" d="M398 14.7h2.8v4.8h-2.8zM453.6 14.7h2.8v4.8h-2.8zM481.4 14.7h2.8v4.8h-2.8zM388.7 19.8h2.8v4.8h-2.8zM404.2 19.8h2.8v4.8h-2.8zM438.2 19.8h2.8v4.8h-2.8zM447.4 19.8h2.8v4.8h-2.8zM404.2 35.2h2.8v4.8h-2.8zM450.5 35.2h2.8v4.8h-2.8zM416.5 40.4h2.8v4.8h-2.8zM441.3 40.4h2.8v4.8h-2.8zM398 50.7h2.8v4.8h-2.8zM444.3 50.7h2.8v4.8h-2.8zM496.9 50.7h2.8v4.8h-2.8zM388.7 55.8h2.8v4.8h-2.8zM391.8 55.8h2.8v4.8h-2.8zM487.6 55.8h2.8v4.8h-2.8zM428.9 61h2.8v4.8h-2.8zM401.1 66.2h2.8v4.8h-2.8zM407.3 66.2h2.8v4.8h-2.8zM478.3 66.2h2.8v4.8h-2.8zM428.9 76.5h2.8v4.8h-2.8zM388.7 81.6h2.8v4.8h-2.8zM435.1 81.6h2.8v4.8h-2.8zM447.4 91.9h2.8v4.8h-2.8zM484.5 91.9h2.8v4.8h-2.8zM425.8 97h2.8v4.8h-2.8zM428.9 97h2.8v4.8h-2.8zM410.4 102.2h2.8v4.8h-2.8zM425.8 107.3h2.8v4.8h-2.8zM444.3 107.3h2.8v4.8h-2.8zM413.5 112.5h2.8v4.8h-2.8zM419.6 117.6h2.8v4.8h-2.8zM385.6 127.9h2.8v4.8h-2.8zM481.4 127.9h2.8v4.8h-2.8zM459.8 133.1h2.8v4.8h-2.8z"/>
<path fill="#f6e4de" d="M401.1 14.7h2.8v4.8h-2.8zM410.4 14.7h2.8v4.8h-2.8zM484.5 14.7h2.8v4.8h-2.8zM493.8 14.7h2.8v4.8h-2.8zM391.8 19.8h2.8v4.8h-2.8zM422.7 19.8h2.8v4.8h-2.8zM444.3 19.8h2.8v4.8h-2.8zM459.8 19.8h2.8v4.8h-2.8zM472.1 19.8h2.8v4.8h-2.8zM398 24.9h2.8v4.8h-2.8zM435.1 24.9h2.8v4.8h-2.8zM425.8 30.1h2.8v4.8h-2.8zM428.9 30.1h2.8v4.8h-2.8zM453.6 30.1h2.8v4.8h-2.8zM456.7 30.1h2.8v4.8h-2.8zM413.5 35.2h2.8v4.8h-2.8zM428.9 35.2h2.8v4.8h-2.8zM487.6 40.4h2.8v4.8h-2.8zM391.8 45.5h2.8v4.8h-2.8zM416.5 45.5h2.8v4.8h-2.8zM462.9 45.5h2.8v4.8h-2.8zM453.6 50.7h2.8v4.8h-2.8zM385.6 55.8h2.8v4.8h-2.8zM404.2 55.8h2.8v4.8h-2.8zM385.6 61h2.8v4.8h-2.8zM404.2 61h2.8v4.8h-2.8zM487.6 61h2.8v4.8h-2.8zM493.8 61h2.8v4.8h-2.8zM398 66.2h2.8v4.8h-2.8zM459.8 66.2h2.8v4.8h-2.8zM447.4 71.3h2.8v4.8h-2.8zM459.8 71.3h2.8v4.8h-2.8zM398 76.5h2.8v4.8h-2.8zM401.1 76.5h2.8v4.8h-2.8zM432 76.5h2.8v4.8h-2.8zM438.2 81.6h2.8v4.8h-2.8zM478.3 81.6h2.8v4.8h-2.8zM484.5 81.6h2.8v4.8h-2.8zM490.7 81.6h2.8v4.8h-2.8zM493.8 81.6h2.8v4.8h-2.8zM422.7 86.8h2.8v4.8h-2.8zM475.2 86.8h2.8v4.8h-2.8zM472.1 91.9h2.8v4.8h-2.8zM478.3 91.9h2.8v4.8h-2.8zM490.7 91.9h2.8v4.8h-2.8zM413.5 97h2.8v4.8h-2.8zM450.5 112.5h2.8v4.8h-2.8zM466 112.5h2.8v4.8h-2.8zM432 117.6h2.8v4.8h-2.8zM475.2 117.6h2.8v4.8h-2.8zM484.5 117.6h2.8v4.8h-2.8zM385.6 122.8h2.8v4.8h-2.8zM416.5 122.8h2.8v4.8h-2.8zM450.5 122.8h2.8v4.8h-2.8zM456.7 122.8h2.8v4.8h-2.8zM428.9 127.9h2.8v4.8h-2.8zM388.7 133.1h2.8v4.8h-2.8zM487.6 133.1h2.8v4.8h-2.8z"/>
<path fill="#fceaea" d="M404.2 14.7h2.8v4.8h-2.8zM422.7 14.7h2.8v4.8h-2.8zM428.9 14.7h2.8v4.8h-2.8zM435.1 14.7h2.8v4.8h-2.8zM459.8 14.7h2.8v4.8h-2.8zM469.1 14.7h2.8v4.8h-2.8zM398 19.8h2.8v4.8h-2.8zM413.5 19.8h2.8v4.8h-2.8zM419.6 19.8h2.8v4.8h-2.8zM435.1 19.8h2.8v4.8h-2.8zM404.2 24.9h2.8v4.8h-2.8zM419.6 24.9h2.8v4.8h-2.8zM450.5 24.9h2.8v4.8h-2.8zM456.7 24.9h2.8v4.8h-2.8zM475.2 24.9h2.8v4.8h-2.8zM481.4 24.9h2.8v4.8h-2.8zM419.6 30.1h2.8v4.8h-2.8zM422.7 30.1h2.8v4.8h-2.8zM493.8 30.1h2.8v4.8h-2.8zM441.3 35.2h2.8v4.8h-2.8zM401.1 40.4h2.8v4.8h-2.8zM462.9 40.4h2.8v4.8h-2.8zM478.3 40.4h2.8v4.8h-2.8zM398 45.5h2.8v4.8h-2.8zM413.5 45.5h2.8v4.8h-2.8zM469.1 45.5h2.8v4.8h-2.8zM385.6 50.7h2.8v4.8h-2.8zM388.7 50.7h2.8v4.8h-2.8zM413.5 50.7h2.8v4.8h-2.8zM475.2 50.7h2.8v4.8h-2.8zM481.4 50.7h2.8v4.8h-2.8zM419.6 55.8h2.8v4.8h-2.8zM450.5 55.8h2.8v4.8h-2.8zM401.1 61h2.8v4.8h-2.8zM432 61h2.8v4.8h-2.8zM438.2 61h2.8v4.8h-2.8zM444.3 61h2.8v4.8h-2.8zM475.2 61h2.8v4.8h-2.8zM394.9 66.2h2.8v4.8h-2.8zM466 66.2h2.8v4.8h-2.8zM493.8 66.2h2.8v4.8h-2.8zM391.8 71.3h2.8v4.8h-2.8zM416.5 71.3h2.8v4.8h-2.8zM432 71.3h2.8v4.8h-2.8zM404.2 76.5h2.8v4.8h-2.8zM466 76.5h2.8v4.8h-2.8zM484.5 76.5h2.8v4.8h-2.8zM407.3 81.6h2.8v4.8h-2.8zM416.5 81.6h2.8v4.8h-2.8zM428.9 81.6h2.8v4.8h-2.8zM472.1 81.6h2.8v4.8h-2.8zM425.8 86.8h2.8v4.8h-2.8zM466 86.8h2.8v4.8h-2.8zM450.5 91.9h2.8v4.8h-2.8zM493.8 91.9h2.8v4.8h-2.8zM416.5 97h2.8v4.8h-2.8zM447.4 97h2.8v4.8h-2.8zM450.5 97h2.8v4.8h-2.8zM493.8 97h2.8v4.8h-2.8zM385.6 102.2h2.8v4.8h-2.8zM401.1 102.2h2.8v4.8h-2.8zM469.1 102.2h2.8v4.8h-2.8zM496.9 102.2h2.8v4.8h-2.8zM388.7 107.3h2.8v4.8h-2.8zM404.2 107.3h2.8v4.8h-2.8zM413.5 107.3h2.8v4.8h-2.8zM422.7 107.3h2.8v4.8h-2.8zM447.4 107.3h2.8v4.8h-2.8zM459.8 107.3h2.8v4.8h-2.8zM475.2 107.3h2.8v4.8h-2.8zM388.7 112.5h2.8v4.8h-2.8zM407.3 112.5h2.8v4.8h-2.8zM410.4 112.5h2.8v4.8h-2.8zM419.6 112.5h2.8v4.8h-2.8zM462.9 112.5h2.8v4.8h-2.8zM469.1 112.5h2.8v4.8h-2.8zM478.3 112.5h2.8v4.8h-2.8zM388.7 117.6h2.8v4.8h-2.8zM394.9 117.6h2.8v4.8h-2.8zM487.6 117.6h2.8v4.8h-2.8zM404.2 122.8h2.8v4.8h-2.8zM428.9 122.8h2.8v4.8h-2.8zM432 122.8h2.8v4.8h-2.8zM466 122.8h2.8v4.8h-2.8zM493.8 122.8h2.8v4.8h-2.8zM496.9 122.8h2.8v4.8h-2.8zM407.3 127.9h2.8v4.8h-2.8zM422.7 127.9h2.8v4.8h-2.8zM469.1 127.9h2.8v4.8h-2.8zM394.9 133.1h2.8v4.8h-2.8zM425.8 133.1h2.8v4.8h-2.8zM432 133.1h2.8v4.8h-2.8zM456.7 133.1h2.8v4.8h-2.8zM469.1 133.1h2.8v4.8h-2.8zM490.7 133.1h2.8v4.8h-2.8z"/>
<path fill="#f6eae4" d="M407.3 14.7h2.8v4.8h-2.8zM385.6 19.8h2.8v4.8h-2.8zM456.7 19.8h2.8v4.8h-2.8zM469.1 19.8h2.8v4.8h-2.8zM432 24.9h2.8v4.8h-2.8zM441.3 24.9h2.8v4.8h-2.8zM391.8 30.1h2.8v4.8h-2.8zM435.1 30.1h2.8v4.8h-2.8zM469.1 30.1h2.8v4.8h-2.8zM484.5 30.1h2.8v4.8h-2.8zM481.4 35.2h2.8v4.8h-2.8zM490.7 35.2h2.8v4.8h-2.8zM444.3 40.4h2.8v4.8h-2.8zM472.1 40.4h2.8v4.8h-2.8zM394.9 45.5h2.8v4.8h-2.8zM493.8 50.7h2.8v4.8h-2.8zM453.6 55.8h2.8v4.8h-2.8zM466 61h2.8v4.8h-2.8zM432 66.2h2.8v4.8h-2.8zM462.9 66.2h2.8v4.8h-2.8zM413.5 71.3h2.8v4.8h-2.8zM453.6 71.3h2.8v4.8h-2.8zM469.1 71.3h2.8v4.8h-2.8zM419.6 81.6h2.8v4.8h-2.8zM447.4 81.6h2.8v4.8h-2.8zM447.4 86.8h2.8v4.8h-2.8zM490.7 86.8h2.8v4.8h-2.8zM428.9 91.9h2.8v4.8h-2.8zM407.3 97h2.8v4.8h-2.8zM407.3 102.2h2.8v4.8h-2.8zM425.8 102.2h2.8v4.8h-2.8zM450.5 102.2h2.8v4.8h-2.8zM435.1 107.3h2.8v4.8h-2.8zM438.2 107.3h2.8v4.8h-2.8zM450.5 117.6h2.8v4.8h-2.8zM478.3 117.6h2.8v4.8h-2.8zM416.5 127.9h2.8v4.8h-2.8zM450.5 127.9h2.8v4.8h-2.8zM404.2 133.1h2.8v4.8h-2.8z"/>
<path fill="#f6e4e4" d="M413.5 14.7h2.8v4.8h-2.8zM444.3 14.7h2.8v4.8h-2.8zM462.9 14.7h2.8v4.8h-2.8zM394.9 19.8h2.8v4.8h-2.8zM453.6 19.8h2.8v4.8h-2.8zM410.4 24.9h2.8v4.8h-2.8zM469.1 24.9h2.8v4.8h-2.8zM401.1 30.1h2.8v4.8h-2.8zM413.5 30.1h2.8v4.8h-2.8zM438.2 30.1h2.8v4.8h-2.8zM466 30.1h2.8v4.8h-2.8zM407.3 35.2h2.8v4.8h-2.8zM425.8 35.2h2.8v4.8h-2.8zM487.6 35.2h2.8v4.8h-2.8zM496.9 35.2h2.8v4.8h-2.8zM447.4 40.4h2.8v4.8h-2.8zM401.1 45.5h2.8v4.8h-2.8zM456.7 45.5h2.8v4.8h-2.8zM435.1 50.7h2.8v4.8h-2.8zM413.5 55.8h2.8v4.8h-2.8zM469.1 55.8h2.8v4.8h-2.8zM419.6 61h2.8v4.8h-2.8zM425.8 61h2.8v4.8h-2.8zM490.7 66.2h2.8v4.8h-2.8zM398 71.3h2.8v4.8h-2.8zM419.6 71.3h2.8v4.8h-2.8zM422.7 71.3h2.8v4.8h-2.8zM487.6 71.3h2.8v4.8h-2.8zM493.8 71.3h2.8v4.8h-2.8zM416.5 76.5h2.8v4.8h-2.8zM422.7 76.5h2.8v4.8h-2.8zM493.8 76.5h2.8v4.8h-2.8zM422.7 81.6h2.8v4.8h-2.8zM444.3 81.6h2.8v4.8h-2.8zM496.9 81.6h2.8v4.8h-2.8zM385.6 91.9h2.8v4.8h-2.8zM416.5 91.9h2.8v4.8h-2.8zM435.1 91.9h2.8v4.8h-2.8zM444.3 91.9h2.8v4.8h-2.8zM453.6 91.9h2.8v4.8h-2.8zM466 91.9h2.8v4.8h-2.8zM475.2 97h2.8v4.8h-2.8zM490.7 97h2.8v4.8h-2.8zM404.2 102.2h2.8v4.8h-2.8zM478.3 102.2h2.8v4.8h-2.8zM456.7 107.3h2.8v4.8h-2.8zM394.9 112.5h2.8v4.8h-2.8zM428.9 112.5h2.8v4.8h-2.8zM484.5 112.5h2.8v4.8h-2.8zM490.7 112.5h2.8v4.8h-2.8zM493.8 112.5h2.8v4.8h-2.8zM391.8 117.6h2.8v4.8h-2.8zM401.1 117.6h2.8v4.8h-2.8zM410.4 117.6h2.8v4.8h-2.8zM493.8 117.6h2.8v4.8h-2.8zM496.9 117.6h2.8v4.8h-2.8zM447.4 127.9h2.8v4.8h-2.8zM438.2 133.1h2.8v4.8h-2.8zM481.4 133.1h2.8v4.8h-2.8z"/>
<path fill="#f6d8d2" d="M425.8 14.7h2.8v4.8h-2.8zM416.5 19.8h2.8v4.8h-2.8zM478.3 19.8h2.8v4.8h-2.8zM401.1 24.9h2.8v4.8h-2.8zM413.5 24.9h2.8v4.8h-2.8zM416.5 24.9h2.8v4.8h-2.8zM425.8 24.9h2.8v4.8h-2.8zM466 24.9h2.8v4.8h-2.8zM496.9 24.9h2.8v4.8h-2.8zM398 30.1h2.8v4.8h-2.8zM459.8 30.1h2.8v4.8h-2.8zM447.4 35.2h2.8v4.8h-2.8zM466 35.2h2.8v4.8h-2.8zM478.3 35.2h2.8v4.8h-2.8zM484.5 35.2h2.8v4.8h-2.8zM398 40.4h2.8v4.8h-2.8zM453.6 40.4h2.8v4.8h-2.8zM484.5 40.4h2.8v4.8h-2.8zM388.7 45.5h2.8v4.8h-2.8zM410.4 45.5h2.8v4.8h-2.8zM419.6 45.5h2.8v4.8h-2.8zM444.3 45.5h2.8v4.8h-2.8zM478.3 45.5h2.8v4.8h-2.8zM484.5 45.5h2.8v4.8h-2.8zM422.7 50.7h2.8v4.8h-2.8zM425.8 50.7h2.8v4.8h-2.8zM469.1 50.7h2.8v4.8h-2.8zM484.5 50.7h2.8v4.8h-2.8zM425.8 55.8h2.8v4.8h-2.8zM444.3 55.8h2.8v4.8h-2.8zM475.2 55.8h2.8v4.8h-2.8zM456.7 61h2.8v4.8h-2.8zM472.1 61h2.8v4.8h-2.8zM478.3 61h2.8v4.8h-2.8zM481.4 61h2.8v4.8h-2.8zM401.1 71.3h2.8v4.8h-2.8zM466 71.3h2.8v4.8h-2.8zM472.1 71.3h2.8v4.8h-2.8zM453.6 76.5h2.8v4.8h-2.8zM481.4 76.5h2.8v4.8h-2.8zM404.2 81.6h2.8v4.8h-2.8zM410.4 81.6h2.8v4.8h-2.8zM413.5 81.6h2.8v4.8h-2.8zM453.6 81.6h2.8v4.8h-2.8zM459.8 81.6h2.8v4.8h-2.8zM466 81.6h2.8v4.8h-2.8zM394.9 86.8h2.8v4.8h-2.8zM401.1 86.8h2.8v4.8h-2.8zM416.5 86.8h2.8v4.8h-2.8zM419.6 86.8h2.8v4.8h-2.8zM459.8 86.8h2.8v4.8h-2.8zM462.9 86.8h2.8v4.8h-2.8zM398 91.9h2.8v4.8h-2.8zM419.6 91.9h2.8v4.8h-2.8zM419.6 97h2.8v4.8h-2.8zM391.8 102.2h2.8v4.8h-2.8zM428.9 102.2h2.8v4.8h-2.8zM432 102.2h2.8v4.8h-2.8zM456.7 102.2h2.8v4.8h-2.8zM462.9 102.2h2.8v4.8h-2.8zM416.5 107.3h2.8v4.8h-2.8zM419.6 107.3h2.8v4.8h-2.8zM481.4 107.3h2.8v4.8h-2.8zM487.6 107.3h2.8v4.8h-2.8zM401.1 112.5h2.8v4.8h-2.8zM435.1 112.5h2.8v4.8h-2.8zM456.7 112.5h2.8v4.8h-2.8zM481.4 112.5h2.8v4.8h-2.8zM472.1 117.6h2.8v4.8h-2.8zM490.7 117.6h2.8v4.8h-2.8zM444.3 122.8h2.8v4.8h-2.8zM447.4 122.8h2.8v4.8h-2.8zM481.4 122.8h2.8v4.8h-2.8zM484.5 122.8h2.8v4.8h-2.8zM394.9 127.9h2.8v4.8h-2.8zM410.4 127.9h2.8v4.8h-2.8zM419.6 127.9h2.8v4.8h-2.8zM425.8 127.9h2.8v4.8h-2.8zM444.3 127.9h2.8v4.8h-2.8zM456.7 127.9h2.8v4.8h-2.8zM490.7 127.9h2.8v4.8h-2.8zM484.5 133.1h2.8v4.8h-2.8z"/>
<path fill="#dedef0" d="M441.3 14.7h2.8v4.8h-2.8zM441.3 19.8h2.8v4.8h-2.8zM441.3 45.5h2.8v4.8h-2.8zM441.3 50.7h2.8v4.8h-2.8zM441.3 71.3h2.8v4.8h-2.8zM441.3 76.5h2.8v4.8h-2.8zM441.3 81.6h2.8v4.8h-2.8zM441.3 91.9h2.8v4.8h-2.8zM441.3 97h2.8v4.8h-2.8zM441.3 102.2h2.8v4.8h-2.8zM441.3 112.5h2.8v4.8h-2.8zM441.3 117.6h2.8v4.8h-2.8zM441.3 122.8h2.8v4.8h-2.8zM441.3 133.1h2.8v4.8h-2.8z"/>
<path fill="#f6ded8" d="M475.2 14.7h2.8v4.8h-2.8zM484.5 19.8h2.8v4.8h-2.8zM493.8 19.8h2.8v4.8h-2.8zM478.3 24.9h2.8v4.8h-2.8zM484.5 24.9h2.8v4.8h-2.8zM385.6 30.1h2.8v4.8h-2.8zM388.7 30.1h2.8v4.8h-2.8zM394.9 30.1h2.8v4.8h-2.8zM404.2 30.1h2.8v4.8h-2.8zM407.3 30.1h2.8v4.8h-2.8zM432 30.1h2.8v4.8h-2.8zM444.3 30.1h2.8v4.8h-2.8zM388.7 35.2h2.8v4.8h-2.8zM394.9 35.2h2.8v4.8h-2.8zM462.9 35.2h2.8v4.8h-2.8zM475.2 35.2h2.8v4.8h-2.8zM410.4 40.4h2.8v4.8h-2.8zM435.1 40.4h2.8v4.8h-2.8zM425.8 45.5h2.8v4.8h-2.8zM447.4 45.5h2.8v4.8h-2.8zM450.5 45.5h2.8v4.8h-2.8zM472.1 45.5h2.8v4.8h-2.8zM487.6 45.5h2.8v4.8h-2.8zM394.9 50.7h2.8v4.8h-2.8zM459.8 50.7h2.8v4.8h-2.8zM407.3 55.8h2.8v4.8h-2.8zM459.8 55.8h2.8v4.8h-2.8zM391.8 61h2.8v4.8h-2.8zM398 61h2.8v4.8h-2.8zM416.5 61h2.8v4.8h-2.8zM441.3 61h2.8v4.8h-2.8zM484.5 61h2.8v4.8h-2.8zM385.6 66.2h2.8v4.8h-2.8zM410.4 66.2h2.8v4.8h-2.8zM438.2 66.2h2.8v4.8h-2.8zM453.6 66.2h2.8v4.8h-2.8zM456.7 66.2h2.8v4.8h-2.8zM481.4 71.3h2.8v4.8h-2.8zM484.5 71.3h2.8v4.8h-2.8zM385.6 76.5h2.8v4.8h-2.8zM391.8 76.5h2.8v4.8h-2.8zM410.4 76.5h2.8v4.8h-2.8zM385.6 81.6h2.8v4.8h-2.8zM432 81.6h2.8v4.8h-2.8zM444.3 86.8h2.8v4.8h-2.8zM472.1 86.8h2.8v4.8h-2.8zM487.6 86.8h2.8v4.8h-2.8zM391.8 91.9h2.8v4.8h-2.8zM410.4 91.9h2.8v4.8h-2.8zM425.8 91.9h2.8v4.8h-2.8zM432 91.9h2.8v4.8h-2.8zM385.6 97h2.8v4.8h-2.8zM401.1 97h2.8v4.8h-2.8zM404.2 97h2.8v4.8h-2.8zM410.4 97h2.8v4.8h-2.8zM422.7 97h2.8v4.8h-2.8zM438.2 97h2.8v4.8h-2.8zM487.6 97h2.8v4.8h-2.8zM394.9 102.2h2.8v4.8h-2.8zM413.5 102.2h2.8v4.8h-2.8zM472.1 102.2h2.8v4.8h-2.8zM401.1 107.3h2.8v4.8h-2.8zM428.9 107.3h2.8v4.8h-2.8zM469.1 107.3h2.8v4.8h-2.8zM385.6 112.5h2.8v4.8h-2.8zM438.2 112.5h2.8v4.8h-2.8zM453.6 112.5h2.8v4.8h-2.8zM459.8 112.5h2.8v4.8h-2.8zM416.5 117.6h2.8v4.8h-2.8zM428.9 117.6h2.8v4.8h-2.8zM438.2 117.6h2.8v4.8h-2.8zM444.3 117.6h2.8v4.8h-2.8zM453.6 117.6h2.8v4.8h-2.8zM462.9 117.6h2.8v4.8h-2.8zM481.4 117.6h2.8v4.8h-2.8zM401.1 122.8h2.8v4.8h-2.8zM487.6 122.8h2.8v4.8h-2.8zM404.2 127.9h2.8v4.8h-2.8zM413.5 133.1h2.8v4.8h-2.8z"/>
<path fill="#fcf0ea" d="M478.3 14.7h2.8v4.8h-2.8zM428.9 19.8h2.8v4.8h-2.8zM435.1 35.2h2.8v4.8h-2.8zM453.6 35.2h2.8v4.8h-2.8zM469.1 35.2h2.8v4.8h-2.8zM438.2 45.5h2.8v4.8h-2.8zM391.8 50.7h2.8v4.8h-2.8zM394.9 61h2.8v4.8h-2.8zM459.8 61h2.8v4.8h-2.8zM496.9 61h2.8v4.8h-2.8zM496.9 66.2h2.8v4.8h-2.8zM385.6 71.3h2.8v4.8h-2.8zM404.2 71.3h2.8v4.8h-2.8zM410.4 71.3h2.8v4.8h-2.8zM475.2 71.3h2.8v4.8h-2.8zM469.1 76.5h2.8v4.8h-2.8zM391.8 81.6h2.8v4.8h-2.8zM438.2 86.8h2.8v4.8h-2.8zM450.5 86.8h2.8v4.8h-2.8zM432 97h2.8v4.8h-2.8zM410.4 107.3h2.8v4.8h-2.8zM475.2 112.5h2.8v4.8h-2.8zM453.6 122.8h2.8v4.8h-2.8zM472.1 122.8h2.8v4.8h-2.8zM466 127.9h2.8v4.8h-2.8z"/>
<path fill="#f6d2cc" d="M490.7 14.7h2.8v4.8h-2.8zM407.3 19.8h2.8v4.8h-2.8zM432 19.8h2.8v4.8h-2.8zM388.7 24.9h2.8v4.8h-2.8zM407.3 24.9h2.8v4.8h-2.8zM422.7 24.9h2.8v4.8h-2.8zM450.5 30.1h2.8v4.8h-2.8zM401.1 35.2h2.8v4.8h-2.8zM416.5 35.2h2.8v4.8h-2.8zM394.9 40.4h2.8v4.8h-2.8zM475.2 45.5h2.8v4.8h-2.8zM441.3 55.8h2.8v4.8h-2.8zM413.5 61h2.8v4.8h-2.8zM422.7 61h2.8v4.8h-2.8zM453.6 61h2.8v4.8h-2.8zM425.8 66.2h2.8v4.8h-2.8zM472.1 66.2h2.8v4.8h-2.8zM388.7 71.3h2.8v4.8h-2.8zM394.9 71.3h2.8v4.8h-2.8zM462.9 76.5h2.8v4.8h-2.8zM394.9 81.6h2.8v4.8h-2.8zM425.8 81.6h2.8v4.8h-2.8zM475.2 81.6h2.8v4.8h-2.8zM487.6 81.6h2.8v4.8h-2.8zM496.9 91.9h2.8v4.8h-2.8zM394.9 97h2.8v4.8h-2.8zM422.7 102.2h2.8v4.8h-2.8zM435.1 102.2h2.8v4.8h-2.8zM472.1 107.3h2.8v4.8h-2.8zM478.3 107.3h2.8v4.8h-2.8zM466 117.6h2.8v4.8h-2.8zM388.7 122.8h2.8v4.8h-2.8zM441.3 127.9h2.8v4.8h-2.8zM453.6 127.9h2.8v4.8h-2.8z"/>
<path fill="#f6d2d2" d="M496.9 14.7h2.8v4.8h-2.8zM394.9 24.9h2.8v4.8h-2.8zM450.5 50.7h2.8v4.8h-2.8zM432 55.8h2.8v4.8h-2.8zM456.7 71.3h2.8v4.8h-2.8zM490.7 71.3h2.8v4.8h-2.8zM398 81.6h2.8v4.8h-2.8zM456.7 81.6h2.8v4.8h-2.8zM388.7 86.8h2.8v4.8h-2.8zM388.7 97h2.8v4.8h-2.8zM466 97h2.8v4.8h-2.8zM385.6 117.6h2.8v4.8h-2.8zM435.1 122.8h2.8v4.8h-2.8zM484.5 127.9h2.8v4.8h-2.8zM422.7 133.1h2.8v4.8h-2.8z"/>
<path fill="#fcf6f0" d="M385.6 35.2h2.8v4.8h-2.8zM419.6 35.2h2.8v4.8h-2.8zM401.1 50.7h2.8v4.8h-2.8zM456.7 55.8h2.8v4.8h-2.8zM450.5 61h2.8v4.8h-2.8zM416.5 66.2h2.8v4.8h-2.8zM441.3 66.2h2.8v4.8h-2.8zM401.1 91.9h2.8v4.8h-2.8zM487.6 91.9h2.8v4.8h-2.8zM453.6 102.2h2.8v4.8h-2.8zM425.8 112.5h2.8v4.8h-2.8zM490.7 122.8h2.8v4.8h-2.8zM388.7 127.9h2.8v4.8h-2.8zM410.4 133.1h2.8v4.8h-2.8zM496.9 133.1h2.8v4.8h-2.8z"/>
<path fill="#fceae4" d="M398 55.8h2.8v4.8h-2.8zM422.7 55.8h2.8v4.8h-2.8zM444.3 66.2h2.8v4.8h-2.8zM435.1 71.3h2.8v4.8h-2.8zM481.4 81.6h2.8v4.8h-2.8zM398 97h2.8v4.8h-2.8zM419.6 122.8h2.8v4.8h-2.8z"/>
<path fill="#e87058" d="M406.9 14.8L406.9 19.4L404.3 19.4zM406.9 19.9L406.9 24.5L404.3 24.5zM422.4 30.2L422.4 34.8L419.7 34.8zM459.4 35.4L459.4 40L456.8 40zM462.5 50.8L462.5 55.4L459.9 55.4zM459.4 61.1L459.4 65.7L456.8 65.7zM474.9 61.1L474.9 65.7L472.2 65.7zM453.2 66.3L453.2 70.9L450.6 70.9zM465.6 66.3L465.6 70.9L462.9 70.9zM391.5 76.6L391.5 81.2L388.8 81.2zM484.1 76.6L484.1 81.2L481.5 81.2zM400.7 81.7L400.7 86.3L398.1 86.3zM422.4 92L422.4 96.6L419.7 96.6zM499.6 107.5L499.6 112.1L496.9 112.1zM394.6 112.6L394.6 117.2L391.9 117.2zM453.2 112.6L453.2 117.2L450.6 117.2zM453.2 122.9L453.2 127.5L450.6 127.5zM447.1 128.1L447.1 132.7L444.4 132.7zM450.2 133.2L450.2 137.8L447.5 137.8z"/>
<path fill="#882028" d="M413.1 14.8L413.1 19.4L410.4 19.4zM456.3 30.2L456.3 34.8L453.7 34.8zM496.5 50.8L496.5 55.4L493.8 55.4zM499.6 56L499.6 60.6L496.9 60.6zM437.8 81.7L437.8 86.3L435.1 86.3zM437.8 97.2L437.8 101.8L435.1 101.8zM456.3 112.6L456.3 117.2L453.7 117.2zM499.6 128.1L499.6 132.7L496.9 132.7z"/>
<path fill="#c83038" d="M419.3 14.8L419.3 19.4L416.6 19.4zM403.8 25.1L403.8 29.7L401.2 29.7zM447.1 25.1L447.1 29.7L444.4 29.7zM496.5 25.1L496.5 29.7L493.8 29.7zM490.3 30.2L490.3 34.8L487.7 34.8zM400.7 40.5L400.7 45.1L398.1 45.1zM459.4 40.5L459.4 45.1L456.8 45.1zM490.3 40.5L490.3 45.1L487.7 45.1zM440.9 45.7L440.9 50.3L438.2 50.3zM462.5 45.7L462.5 50.3L459.9 50.3zM474.9 45.7L474.9 50.3L472.2 50.3zM450.2 50.8L450.2 55.4L447.5 55.4zM487.2 61.1L487.2 65.7L484.6 65.7zM434.7 71.4L434.7 76L432.1 76zM484.1 71.4L484.1 76L481.5 76zM487.2 71.4L487.2 76L484.6 76zM490.3 71.4L490.3 76L487.7 76zM450.2 76.6L450.2 81.2L447.5 81.2zM474.9 76.6L474.9 81.2L472.2 81.2zM478 81.7L478 86.3L475.3 86.3zM484.1 81.7L484.1 86.3L481.5 86.3zM450.2 86.9L450.2 91.5L447.5 91.5zM490.3 86.9L490.3 91.5L487.7 91.5zM496.5 86.9L496.5 91.5L493.8 91.5zM474.9 92L474.9 96.6L472.2 96.6zM453.2 97.2L453.2 101.8L450.6 101.8zM468.7 102.3L468.7 106.9L466 106.9zM450.2 107.5L450.2 112.1L447.5 112.1zM490.3 112.6L490.3 117.2L487.7 117.2zM499.6 112.6L499.6 117.2L496.9 117.2zM484.1 128.1L484.1 132.7L481.5 132.7zM468.7 133.2L468.7 137.8L466 137.8zM487.2 133.2L487.2 137.8L484.6 137.8z"/>
<path fill="#e86850" d="M425.4 14.8L425.4 19.4L422.8 19.4zM487.2 14.8L487.2 19.4L484.6 19.4zM428.5 25.1L428.5 29.7L425.9 29.7zM406.9 35.4L406.9 40L404.3 40zM456.3 35.4L456.3 40L453.7 40zM471.8 35.4L471.8 40L469.1 40zM465.6 40.5L465.6 45.1L462.9 45.1zM453.2 56L453.2 60.6L450.6 60.6zM496.5 61.1L496.5 65.7L493.8 65.7zM487.2 81.7L487.2 86.3L484.6 86.3zM397.6 92L397.6 96.6L395 96.6zM419.3 102.3L419.3 106.9L416.6 106.9zM437.8 107.5L437.8 112.1L435.1 112.1zM447.1 112.6L447.1 117.2L444.4 117.2zM484.1 122.9L484.1 127.5L481.5 127.5zM496.5 128.1L496.5 132.7L493.8 132.7z"/>
<path fill="#c82028" d="M428.5 14.8L428.5 19.4L425.9 19.4zM490.3 25.1L490.3 29.7L487.7 29.7zM493.4 25.1L493.4 29.7L490.7 29.7zM474.9 30.2L474.9 34.8L472.2 34.8zM493.4 35.4L493.4 40L490.7 40zM474.9 50.8L474.9 55.4L472.2 55.4zM406.9 61.1L406.9 65.7L404.3 65.7zM437.8 61.1L437.8 65.7L435.1 65.7zM394.6 66.3L394.6 70.9L391.9 70.9zM484.1 66.3L484.1 70.9L481.5 70.9zM468.7 71.4L468.7 76L466 76zM493.4 71.4L493.4 76L490.7 76zM499.6 71.4L499.6 76L496.9 76zM499.6 86.9L499.6 91.5L496.9 91.5zM465.6 92L465.6 96.6L462.9 96.6zM422.4 97.2L422.4 101.8L419.7 101.8zM450.2 97.2L450.2 101.8L447.5 101.8zM459.4 102.3L459.4 106.9L456.8 106.9zM471.8 117.8L471.8 122.4L469.1 122.4zM450.2 122.9L450.2 127.5L447.5 127.5zM397.6 128.1L397.6 132.7L395 132.7zM428.5 128.1L428.5 132.7L425.9 132.7zM431.6 128.1L431.6 132.7L429 132.7zM459.4 133.2L459.4 137.8L456.8 137.8zM462.5 133.2L462.5 137.8L459.9 137.8z"/>
<path fill="#c82830" d="M459.4 14.8L459.4 19.4L456.8 19.4zM403.8 40.5L403.8 45.1L401.2 45.1zM456.3 40.5L456.3 45.1L453.7 45.1zM394.6 45.7L394.6 50.3L391.9 50.3zM447.1 45.7L447.1 50.3L444.4 50.3zM453.2 45.7L453.2 50.3L450.6 50.3zM481 45.7L481 50.3L478.4 50.3zM400.7 56L400.7 60.6L398.1 60.6zM437.8 56L437.8 60.6L435.1 60.6zM450.2 56L450.2 60.6L447.5 60.6zM453.2 61.1L453.2 65.7L450.6 65.7zM456.3 66.3L456.3 70.9L453.7 70.9zM447.1 81.7L447.1 86.3L444.4 86.3zM474.9 86.9L474.9 91.5L472.2 91.5zM487.2 86.9L487.2 91.5L484.6 91.5zM447.1 97.2L447.1 101.8L444.4 101.8zM484.1 102.3L484.1 106.9L481.5 106.9zM456.3 117.8L456.3 122.4L453.7 122.4zM468.7 122.9L468.7 127.5L466 127.5zM419.3 133.2L419.3 137.8L416.6 137.8zM471.8 133.2L471.8 137.8L469.1 137.8z"/>
<path fill="#f0b098" d="M394.6 19.9L394.6 24.5L391.9 24.5zM487.2 35.4L487.2 40L484.6 40zM450.2 45.7L450.2 50.3L447.5 50.3zM471.8 61.1L471.8 65.7L469.1 65.7zM468.7 66.3L468.7 70.9L466 70.9zM440.9 71.4L440.9 76L438.2 76zM413.1 81.7L413.1 86.3L410.4 86.3zM474.9 81.7L474.9 86.3L472.2 86.3zM490.3 81.7L490.3 86.3L487.7 86.3zM496.5 81.7L496.5 86.3L493.8 86.3zM453.2 86.9L453.2 91.5L450.6 91.5zM406.9 92L406.9 96.6L404.3 96.6zM478 97.2L478 101.8L475.3 101.8zM471.8 107.5L471.8 112.1L469.1 112.1zM493.4 107.5L493.4 112.1L490.7 112.1zM474.9 122.9L474.9 127.5L472.2 127.5zM410 128.1L410 132.7L407.3 132.7zM453.2 128.1L453.2 132.7L450.6 132.7z"/>
<path fill="#c83030" d="M397.6 19.9L397.6 24.5L395 24.5zM434.7 45.7L434.7 50.3L432.1 50.3zM425.4 50.8L425.4 55.4L422.8 55.4zM465.6 56L465.6 60.6L462.9 60.6zM419.3 66.3L419.3 70.9L416.6 70.9zM431.6 66.3L431.6 70.9L429 70.9zM481 76.6L481 81.2L478.4 81.2zM456.3 107.5L456.3 112.1L453.7 112.1zM496.5 107.5L496.5 112.1L493.8 112.1z"/>
<path fill="#902830" d="M400.7 19.9L400.7 24.5L398.1 24.5zM431.6 40.5L431.6 45.1L429 45.1zM450.2 40.5L450.2 45.1L447.5 45.1zM434.7 61.1L434.7 65.7L432.1 65.7zM493.4 61.1L493.4 65.7L490.7 65.7zM453.2 71.4L453.2 76L450.6 76zM456.3 71.4L456.3 76L453.7 76zM468.7 81.7L468.7 86.3L466 86.3zM499.6 92L499.6 96.6L496.9 96.6zM490.3 97.2L490.3 101.8L487.7 101.8zM496.5 97.2L496.5 101.8L493.8 101.8zM444 107.5L444 112.1L441.3 112.1zM403.8 112.6L403.8 117.2L401.2 117.2zM462.5 128.1L462.5 132.7L459.9 132.7zM416.2 133.2L416.2 137.8L413.5 137.8z"/>
<path fill="#c82828" d="M410 19.9L410 24.5L407.3 24.5zM465.6 30.2L465.6 34.8L462.9 34.8zM462.5 40.5L462.5 45.1L459.9 45.1zM447.1 56L447.1 60.6L444.4 60.6zM487.2 56L487.2 60.6L484.6 60.6zM416.2 76.6L416.2 81.2L413.5 81.2zM465.6 86.9L465.6 91.5L462.9 91.5zM496.5 102.3L496.5 106.9L493.8 106.9zM440.9 112.6L440.9 117.2L438.2 117.2zM496.5 112.6L496.5 117.2L493.8 117.2zM447.1 117.8L447.1 122.4L444.4 122.4zM413.1 122.9L413.1 127.5L410.4 127.5zM428.5 122.9L428.5 127.5L425.9 127.5zM425.4 128.1L425.4 132.7L422.8 132.7z"/>
<path fill="#902028" d="M419.3 19.9L419.3 24.5L416.6 24.5zM391.5 25.1L391.5 29.7L388.8 29.7zM416.2 25.1L416.2 29.7L413.5 29.7zM456.3 25.1L456.3 29.7L453.7 29.7zM478 25.1L478 29.7L475.3 29.7zM400.7 30.2L400.7 34.8L398.1 34.8zM416.2 35.4L416.2 40L413.5 40zM474.9 35.4L474.9 40L472.2 40zM499.6 45.7L499.6 50.3L496.9 50.3zM459.4 50.8L459.4 55.4L456.8 55.4zM478 61.1L478 65.7L475.3 65.7zM481 86.9L481 91.5L478.4 91.5zM413.1 92L413.1 96.6L410.4 96.6zM416.2 92L416.2 96.6L413.5 96.6zM462.5 92L462.5 96.6L459.9 96.6zM462.5 117.8L462.5 122.4L459.9 122.4zM444 133.2L444 137.8L441.3 137.8z"/>
<path fill="#e87860" d="M422.4 19.9L422.4 24.5L419.7 24.5zM474.9 19.9L474.9 24.5L472.2 24.5zM437.8 25.1L437.8 29.7L435.1 29.7zM431.6 30.2L431.6 34.8L429 34.8zM450.2 30.2L450.2 34.8L447.5 34.8zM499.6 35.4L499.6 40L496.9 40zM481 40.5L481 45.1L478.4 45.1zM471.8 56L471.8 60.6L469.1 60.6zM481 66.3L481 70.9L478.4 70.9zM493.4 66.3L493.4 70.9L490.7 70.9zM388.4 76.6L388.4 81.2L385.7 81.2zM456.3 76.6L456.3 81.2L453.7 81.2zM462.5 81.7L462.5 86.3L459.9 86.3zM447.1 86.9L447.1 91.5L444.4 91.5zM487.2 92L487.2 96.6L484.6 96.6zM388.4 102.3L388.4 106.9L385.7 106.9zM490.3 102.3L490.3 106.9L487.7 106.9zM425.4 107.5L425.4 112.1L422.8 112.1zM397.6 112.6L397.6 117.2L395 117.2zM468.7 112.6L468.7 117.2L466 117.2z"/>
<path fill="#d03840" d="M447.1 19.9L447.1 24.5L444.4 24.5zM406.9 40.5L406.9 45.1L404.3 45.1zM453.2 50.8L453.2 55.4L450.6 55.4zM474.9 56L474.9 60.6L472.2 60.6zM481 56L481 60.6L478.4 60.6zM400.7 61.1L400.7 65.7L398.1 65.7zM450.2 66.3L450.2 70.9L447.5 70.9zM487.2 66.3L487.2 70.9L484.6 70.9zM437.8 71.4L437.8 76L435.1 76zM478 71.4L478 76L475.3 76zM394.6 86.9L394.6 91.5L391.9 91.5zM493.4 92L493.4 96.6L490.7 96.6zM391.5 97.2L391.5 101.8L388.8 101.8zM425.4 102.3L425.4 106.9L422.8 106.9zM499.6 102.3L499.6 106.9L496.9 106.9zM459.4 107.5L459.4 112.1L456.8 112.1zM450.2 128.1L450.2 132.7L447.5 132.7zM459.4 128.1L459.4 132.7L456.8 132.7z"/>
<path fill="#c83838" d="M388.4 25.1L388.4 29.7L385.7 29.7zM478 35.4L478 40L475.3 40zM484.1 35.4L484.1 40L481.5 40zM434.7 66.3L434.7 70.9L432.1 70.9zM419.3 81.7L419.3 86.3L416.6 86.3zM481 81.7L481 86.3L478.4 86.3zM484.1 86.9L484.1 91.5L481.5 91.5zM468.7 92L468.7 96.6L466 96.6zM471.8 102.3L471.8 106.9L469.1 106.9zM478 102.3L478 106.9L475.3 106.9zM478 107.5L478 112.1L475.3 112.1z"/>
<path fill="#f0b0a0" d="M422.4 25.1L422.4 29.7L419.7 29.7zM403.8 30.2L403.8 34.8L401.2 34.8zM462.5 30.2L462.5 34.8L459.9 34.8zM450.2 35.4L450.2 40L447.5 40zM453.2 35.4L453.2 40L450.6 40zM493.4 56L493.4 60.6L490.7 60.6zM481 71.4L481 76L478.4 76zM425.4 76.6L425.4 81.2L422.8 81.2zM440.9 86.9L440.9 91.5L438.2 91.5zM450.2 92L450.2 96.6L447.5 96.6zM487.2 97.2L487.2 101.8L484.6 101.8zM400.7 112.6L400.7 117.2L398.1 117.2zM434.7 112.6L434.7 117.2L432.1 117.2zM487.2 112.6L487.2 117.2L484.6 117.2zM422.4 128.1L422.4 132.7L419.7 132.7zM388.4 133.2L388.4 137.8L385.7 137.8zM447.1 133.2L447.1 137.8L444.4 137.8z"/>
<path fill="#800818" d="M450.2 25.1L450.2 29.7L447.5 29.7zM490.3 45.7L490.3 50.3L487.7 50.3zM499.6 61.1L499.6 65.7L496.9 65.7zM459.4 71.4L459.4 76L456.8 76zM437.8 86.9L437.8 91.5L435.1 91.5zM478 92L478 96.6L475.3 96.6zM425.4 97.2L425.4 101.8L422.8 101.8z"/>
<path fill="#881828" d="M468.7 25.1L468.7 29.7L466 29.7zM481 25.1L481 29.7L478.4 29.7zM400.7 71.4L400.7 76L398.1 76zM450.2 71.4L450.2 76L447.5 76z"/>
<path fill="#902030" d="M471.8 25.1L471.8 29.7L469.1 29.7zM400.7 76.6L400.7 81.2L398.1 81.2zM471.8 86.9L471.8 91.5L469.1 91.5z"/>
<path fill="#800810" d="M474.9 25.1L474.9 29.7L472.2 29.7zM428.5 30.2L428.5 34.8L425.9 34.8zM434.7 35.4L434.7 40L432.1 40zM465.6 45.7L465.6 50.3L462.9 50.3zM447.1 50.8L447.1 55.4L444.4 55.4zM484.1 50.8L484.1 55.4L481.5 55.4zM444 56L444 60.6L441.3 60.6zM388.4 66.3L388.4 70.9L385.7 70.9zM388.4 81.7L388.4 86.3L385.7 86.3zM456.3 81.7L456.3 86.3L453.7 86.3zM410 92L410 96.6L407.3 96.6zM496.5 92L496.5 96.6L493.8 96.6zM428.5 97.2L428.5 101.8L425.9 101.8zM474.9 102.3L474.9 106.9L472.2 106.9zM481 107.5L481 112.1L478.4 112.1zM481 112.6L481 117.2L478.4 117.2zM493.4 112.6L493.4 117.2L490.7 117.2zM468.7 117.8L468.7 122.4L466 122.4zM496.5 122.9L496.5 127.5L493.8 127.5zM471.8 128.1L471.8 132.7L469.1 132.7zM406.9 133.2L406.9 137.8L404.3 137.8z"/>
<path fill="#f0a898" d="M499.6 25.1L499.6 29.7L496.9 29.7zM437.8 40.5L437.8 45.1L435.1 45.1zM487.2 40.5L487.2 45.1L484.6 45.1zM496.5 40.5L496.5 45.1L493.8 45.1zM400.7 45.7L400.7 50.3L398.1 50.3zM471.8 71.4L471.8 76L469.1 76zM471.8 76.6L471.8 81.2L469.1 81.2zM459.4 81.7L459.4 86.3L456.8 86.3zM493.4 81.7L493.4 86.3L490.7 86.3zM447.1 102.3L447.1 106.9L444.4 106.9zM391.5 112.6L391.5 117.2L388.8 117.2zM471.8 112.6L471.8 117.2L469.1 117.2zM450.2 117.8L450.2 122.4L447.5 122.4zM484.1 117.8L484.1 122.4L481.5 122.4zM490.3 117.8L490.3 122.4L487.7 122.4zM459.4 122.9L459.4 127.5L456.8 127.5z"/>
<path fill="#881820" d="M447.1 30.2L447.1 34.8L444.4 34.8zM471.8 30.2L471.8 34.8L469.1 34.8zM487.2 30.2L487.2 34.8L484.6 34.8zM465.6 35.4L465.6 40L462.9 40zM493.4 40.5L493.4 45.1L490.7 45.1zM459.4 45.7L459.4 50.3L456.8 50.3zM471.8 66.3L471.8 70.9L469.1 70.9zM462.5 71.4L462.5 76L459.9 76zM474.9 71.4L474.9 76L472.2 76zM419.3 76.6L419.3 81.2L416.6 81.2zM428.5 76.6L428.5 81.2L425.9 81.2zM465.6 76.6L465.6 81.2L462.9 81.2zM490.3 76.6L490.3 81.2L487.7 81.2zM428.5 81.7L428.5 86.3L425.9 86.3zM450.2 81.7L450.2 86.3L447.5 86.3zM471.8 92L471.8 96.6L469.1 96.6zM484.1 92L484.1 96.6L481.5 96.6zM456.3 97.2L456.3 101.8L453.7 101.8zM484.1 97.2L484.1 101.8L481.5 101.8zM484.1 112.6L484.1 117.2L481.5 117.2zM406.9 117.8L406.9 122.4L404.3 122.4zM425.4 117.8L425.4 122.4L422.8 122.4zM453.2 117.8L453.2 122.4L450.6 122.4zM400.7 122.9L400.7 127.5L398.1 127.5zM447.1 122.9L447.1 127.5L444.4 127.5zM465.6 122.9L465.6 127.5L462.9 127.5z"/>
<path fill="#e86858" d="M453.2 30.2L453.2 34.8L450.6 34.8zM459.4 30.2L459.4 34.8L456.8 34.8zM478 50.8L478 55.4L475.3 55.4zM490.3 50.8L490.3 55.4L487.7 55.4zM456.3 56L456.3 60.6L453.7 60.6zM406.9 107.5L406.9 112.1L404.3 112.1zM474.9 128.1L474.9 132.7L472.2 132.7z"/>
<path fill="#801018" d="M468.7 30.2L468.7 34.8L466 34.8zM481 30.2L481 34.8L478.4 34.8zM481 35.4L481 40L478.4 40zM440.9 40.5L440.9 45.1L438.2 45.1zM481 50.8L481 55.4L478.4 55.4zM391.5 61.1L391.5 65.7L388.8 65.7zM413.1 71.4L413.1 76L410.4 76zM499.6 81.7L499.6 86.3L496.9 86.3zM419.3 92L419.3 96.6L416.6 96.6zM453.2 92L453.2 96.6L450.6 96.6zM481 102.3L481 106.9L478.4 106.9zM490.3 107.5L490.3 112.1L487.7 112.1zM419.3 112.6L419.3 117.2L416.6 117.2zM459.4 112.6L459.4 117.2L456.8 117.2zM474.9 117.8L474.9 122.4L472.2 122.4zM478 117.8L478 122.4L475.3 122.4zM478 128.1L478 132.7L475.3 132.7zM465.6 133.2L465.6 137.8L462.9 137.8zM484.1 133.2L484.1 137.8L481.5 137.8z"/>
<path fill="#e87868" d="M493.4 30.2L493.4 34.8L490.7 34.8zM422.4 35.4L422.4 40L419.7 40zM444 35.4L444 40L441.3 40zM493.4 45.7L493.4 50.3L490.7 50.3zM493.4 50.8L493.4 55.4L490.7 55.4zM431.6 61.1L431.6 65.7L429 65.7zM462.5 61.1L462.5 65.7L459.9 65.7zM447.1 66.3L447.1 70.9L444.4 70.9zM447.1 71.4L447.1 76L444.4 76zM410 86.9L410 91.5L407.3 91.5zM468.7 86.9L468.7 91.5L466 91.5zM493.4 86.9L493.4 91.5L490.7 91.5zM400.7 92L400.7 96.6L398.1 96.6zM459.4 92L459.4 96.6L456.8 96.6zM403.8 97.2L403.8 101.8L401.2 101.8zM474.9 97.2L474.9 101.8L472.2 101.8zM493.4 102.3L493.4 106.9L490.7 106.9zM462.5 107.5L462.5 112.1L459.9 112.1zM499.6 117.8L499.6 122.4L496.9 122.4zM471.8 122.9L471.8 127.5L469.1 127.5zM481 133.2L481 137.8L478.4 137.8z"/>
<path fill="#c82020" d="M496.5 30.2L496.5 34.8L493.8 34.8zM468.7 76.6L468.7 81.2L466 81.2zM493.4 76.6L493.4 81.2L490.7 81.2zM434.7 97.2L434.7 101.8L432.1 101.8zM453.2 107.5L453.2 112.1L450.6 112.1zM481 122.9L481 127.5L478.4 127.5zM481 128.1L481 132.7L478.4 132.7z"/>
<path fill="#881018" d="M499.6 30.2L499.6 34.8L496.9 34.8zM474.9 66.3L474.9 70.9L472.2 70.9zM499.6 97.2L499.6 101.8L496.9 101.8zM406.9 122.9L406.9 127.5L404.3 127.5zM490.3 122.9L490.3 127.5L487.7 127.5zM456.3 128.1L456.3 132.7L453.7 132.7zM440.9 133.2L440.9 137.8L438.2 137.8z"/>
<path fill="#c81820" d="M468.7 35.4L468.7 40L466 40zM434.7 40.5L434.7 45.1L432.1 45.1zM478 40.5L478 45.1L475.3 45.1zM487.2 45.7L487.2 50.3L484.6 50.3zM428.5 50.8L428.5 55.4L425.9 55.4zM468.7 50.8L468.7 55.4L466 55.4zM499.6 50.8L499.6 55.4L496.9 55.4zM462.5 56L462.5 60.6L459.9 60.6zM490.3 56L490.3 60.6L487.7 60.6zM440.9 61.1L440.9 65.7L438.2 65.7zM450.2 61.1L450.2 65.7L447.5 65.7zM481 61.1L481 65.7L478.4 65.7zM453.2 76.6L453.2 81.2L450.6 81.2zM496.5 76.6L496.5 81.2L493.8 81.2zM431.6 81.7L431.6 86.3L429 86.3zM453.2 81.7L453.2 86.3L450.6 86.3zM388.4 86.9L388.4 91.5L385.7 91.5zM416.2 86.9L416.2 91.5L413.5 91.5zM431.6 86.9L431.6 91.5L429 91.5zM456.3 86.9L456.3 91.5L453.7 91.5zM413.1 107.5L413.1 112.1L410.4 112.1zM428.5 107.5L428.5 112.1L425.9 112.1zM468.7 107.5L468.7 112.1L466 112.1zM406.9 112.6L406.9 117.2L404.3 117.2zM474.9 133.2L474.9 137.8L472.2 137.8zM478 133.2L478 137.8L475.3 137.8z"/>
<path fill="#e87060" d="M490.3 35.4L490.3 40L487.7 40zM468.7 56L468.7 60.6L466 60.6zM456.3 61.1L456.3 65.7L453.7 65.7zM434.7 81.7L434.7 86.3L432.1 86.3zM459.4 86.9L459.4 91.5L456.8 91.5zM462.5 97.2L462.5 101.8L459.9 101.8zM481 97.2L481 101.8L478.4 101.8zM499.6 122.9L499.6 127.5L496.9 127.5zM468.7 128.1L468.7 132.7L466 132.7z"/>
<path fill="#f0a890" d="M471.8 40.5L471.8 45.1L469.1 45.1zM447.1 61.1L447.1 65.7L444.4 65.7zM456.3 92L456.3 96.6L453.7 96.6zM453.2 102.3L453.2 106.9L450.6 106.9zM397.6 122.9L397.6 127.5L395 127.5z"/>
<path fill="#881020" d="M474.9 40.5L474.9 45.1L472.2 45.1zM459.4 56L459.4 60.6L456.8 60.6zM484.1 56L484.1 60.6L481.5 60.6zM459.4 66.3L459.4 70.9L456.8 70.9zM450.2 102.3L450.2 106.9L447.5 106.9zM403.8 122.9L403.8 127.5L401.2 127.5zM462.5 122.9L462.5 127.5L459.9 127.5zM490.3 128.1L490.3 132.7L487.7 132.7zM499.6 133.2L499.6 137.8L496.9 137.8z"/>
<path fill="#c83840" d="M478 76.6L478 81.2L475.3 81.2zM465.6 128.1L465.6 132.7L462.9 132.7zM422.4 133.2L422.4 137.8L419.7 137.8zM456.3 133.2L456.3 137.8L453.7 137.8z"/>
<path stroke="#808080" stroke-width="0.65" fill="none" d="M386.7 17.1h.6M389.8 17.1h.6M392.9 17.1h.6M396 17.1h.6M399.1 17.1h.6M402.2 17.1h.6M408.4 17.1h.6M414.5 17.1h.6M420.7 17.1h.6M430 17.1h.6M433.1 17.1h.6M436.2 17.1h.6M439.3 17.1h.6M442.3 17.1h.6M445.4 17.1h.6M448.5 17.1h.6M451.6 17.1h.6M454.7 17.1h.6M460.9 17.1h.6M464 17.1h.6M467.1 17.1h.6M470.2 17.1h.6M473.2 17.1h.6M476.3 17.1h.6M479.4 17.1h.6M482.5 17.1h.6M488.7 17.1h.6M491.8 17.1h.6M494.9 17.1h.6M498 17.1h.6M386.7 22.2h.6M389.8 22.2h.6M402.2 22.2h.6M411.5 22.2h.6M414.5 22.2h.6M423.8 22.2h.6M426.9 22.2h.6M430 22.2h.6M433.1 22.2h.6M436.2 22.2h.6M439.3 22.2h.6M442.3 22.2h.6M448.5 22.2h.6M451.6 22.2h.6M454.7 22.2h.6M457.8 22.2h.6M460.9 22.2h.6M464 22.2h.6M467.1 22.2h.6M470.2 22.2h.6M476.3 22.2h.6M479.4 22.2h.6M482.5 22.2h.6M485.6 22.2h.6M488.7 22.2h.6M491.8 22.2h.6M494.9 22.2h.6M498 22.2h.6M392.9 27.4h.6M396 27.4h.6M399.1 27.4h.6M405.3 27.4h.6M408.4 27.4h.6M411.5 27.4h.6M417.6 27.4h.6M423.8 27.4h.6M430 27.4h.6M433.1 27.4h.6M439.3 27.4h.6M442.3 27.4h.6M451.6 27.4h.6M457.8 27.4h.6M460.9 27.4h.6M464 27.4h.6M482.5 27.4h.6M485.6 27.4h.6M386.7 32.5h.6M389.8 32.5h.6M392.9 32.5h.6M396 32.5h.6M405.3 32.5h.6M408.4 32.5h.6M411.5 32.5h.6M414.5 32.5h.6M417.6 32.5h.6M423.8 32.5h.6M433.1 32.5h.6M436.2 32.5h.6M439.3 32.5h.6M442.3 32.5h.6M476.3 32.5h.6M482.5 32.5h.6M386.7 37.7h.6M389.8 37.7h.6M392.9 37.7h.6M396 37.7h.6M399.1 37.7h.6M402.2 37.7h.6M408.4 37.7h.6M411.5 37.7h.6M417.6 37.7h.6M423.8 37.7h.6M426.9 37.7h.6M430 37.7h.6M436.2 37.7h.6M439.3 37.7h.6M445.4 37.7h.6M460.9 37.7h.6M494.9 37.7h.6M386.7 42.8h.6M389.8 42.8h.6M392.9 42.8h.6M396 42.8h.6M408.4 42.8h.6M411.5 42.8h.6M414.5 42.8h.6M417.6 42.8h.6M420.7 42.8h.6M423.8 42.8h.6M426.9 42.8h.6M442.3 42.8h.6M445.4 42.8h.6M451.6 42.8h.6M467.1 42.8h.6M482.5 42.8h.6M498 42.8h.6M386.7 48h.6M389.8 48h.6M396 48h.6M402.2 48h.6M405.3 48h.6M408.4 48h.6M411.5 48h.6M414.5 48h.6M417.6 48h.6M420.7 48h.6M423.8 48h.6M426.9 48h.6M430 48h.6M436.2 48h.6M442.3 48h.6M454.7 48h.6M467.1 48h.6M470.2 48h.6M476.3 48h.6M482.5 48h.6M494.9 48h.6M386.7 53.1h.6M389.8 53.1h.6M392.9 53.1h.6M396 53.1h.6M399.1 53.1h.6M402.2 53.1h.6M405.3 53.1h.6M408.4 53.1h.6M411.5 53.1h.6M414.5 53.1h.6M417.6 53.1h.6M420.7 53.1h.6M430 53.1h.6M433.1 53.1h.6M436.2 53.1h.6M439.3 53.1h.6M442.3 53.1h.6M454.7 53.1h.6M464 53.1h.6M470.2 53.1h.6M485.6 53.1h.6M386.7 58.3h.6M389.8 58.3h.6M392.9 58.3h.6M396 58.3h.6M402.2 58.3h.6M405.3 58.3h.6M408.4 58.3h.6M411.5 58.3h.6M414.5 58.3h.6M417.6 58.3h.6M420.7 58.3h.6M423.8 58.3h.6M426.9 58.3h.6M430 58.3h.6M433.1 58.3h.6M439.3 58.3h.6M476.3 58.3h.6M494.9 58.3h.6M386.7 63.4h.6M392.9 63.4h.6M396 63.4h.6M402.2 63.4h.6M408.4 63.4h.6M411.5 63.4h.6M414.5 63.4h.6M417.6 63.4h.6M420.7 63.4h.6M423.8 63.4h.6M426.9 63.4h.6M442.3 63.4h.6M464 63.4h.6M467.1 63.4h.6M482.5 63.4h.6M488.7 63.4h.6M389.8 68.6h.6M396 68.6h.6M399.1 68.6h.6M402.2 68.6h.6M405.3 68.6h.6M408.4 68.6h.6M411.5 68.6h.6M414.5 68.6h.6M420.7 68.6h.6M423.8 68.6h.6M426.9 68.6h.6M436.2 68.6h.6M439.3 68.6h.6M442.3 68.6h.6M460.9 68.6h.6M476.3 68.6h.6M488.7 68.6h.6M494.9 68.6h.6M498 68.6h.6M386.7 73.7h.6M389.8 73.7h.6M392.9 73.7h.6M396 73.7h.6M402.2 73.7h.6M405.3 73.7h.6M408.4 73.7h.6M414.5 73.7h.6M417.6 73.7h.6M420.7 73.7h.6M423.8 73.7h.6M426.9 73.7h.6M430 73.7h.6M442.3 73.7h.6M464 73.7h.6M494.9 73.7h.6M392.9 78.9h.6M396 78.9h.6M402.2 78.9h.6M405.3 78.9h.6M408.4 78.9h.6M411.5 78.9h.6M420.7 78.9h.6M430 78.9h.6M433.1 78.9h.6M436.2 78.9h.6M439.3 78.9h.6M442.3 78.9h.6M445.4 78.9h.6M457.8 78.9h.6M460.9 78.9h.6M485.6 78.9h.6M498 78.9h.6M389.8 84h.6M392.9 84h.6M396 84h.6M402.2 84h.6M405.3 84h.6M408.4 84h.6M414.5 84h.6M420.7 84h.6M423.8 84h.6M439.3 84h.6M442.3 84h.6M464 84h.6M470.2 84h.6M389.8 89.2h.6M396 89.2h.6M399.1 89.2h.6M402.2 89.2h.6M405.3 89.2h.6M411.5 89.2h.6M417.6 89.2h.6M420.7 89.2h.6M423.8 89.2h.6M426.9 89.2h.6M433.1 89.2h.6M442.3 89.2h.6M460.9 89.2h.6M476.3 89.2h.6M386.7 94.3h.6M389.8 94.3h.6M392.9 94.3h.6M402.2 94.3h.6M423.8 94.3h.6M426.9 94.3h.6M430 94.3h.6M433.1 94.3h.6M436.2 94.3h.6M439.3 94.3h.6M442.3 94.3h.6M445.4 94.3h.6M479.4 94.3h.6M488.7 94.3h.6M386.7 99.5h.6M392.9 99.5h.6M396 99.5h.6M399.1 99.5h.6M405.3 99.5h.6M408.4 99.5h.6M411.5 99.5h.6M414.5 99.5h.6M417.6 99.5h.6M430 99.5h.6M439.3 99.5h.6M442.3 99.5h.6M457.8 99.5h.6M464 99.5h.6M467.1 99.5h.6M470.2 99.5h.6M491.8 99.5h.6M389.8 104.6h.6M392.9 104.6h.6M396 104.6h.6M399.1 104.6h.6M402.2 104.6h.6M405.3 104.6h.6M408.4 104.6h.6M411.5 104.6h.6M414.5 104.6h.6M420.7 104.6h.6M426.9 104.6h.6M430 104.6h.6M433.1 104.6h.6M436.2 104.6h.6M439.3 104.6h.6M442.3 104.6h.6M454.7 104.6h.6M460.9 104.6h.6M464 104.6h.6M485.6 104.6h.6M386.7 109.8h.6M389.8 109.8h.6M392.9 109.8h.6M396 109.8h.6M399.1 109.8h.6M402.2 109.8h.6M408.4 109.8h.6M414.5 109.8h.6M417.6 109.8h.6M420.7 109.8h.6M430 109.8h.6M433.1 109.8h.6M439.3 109.8h.6M445.4 109.8h.6M464 109.8h.6M473.2 109.8h.6M482.5 109.8h.6M485.6 109.8h.6M386.7 114.9h.6M408.4 114.9h.6M411.5 114.9h.6M414.5 114.9h.6M420.7 114.9h.6M423.8 114.9h.6M426.9 114.9h.6M430 114.9h.6M436.2 114.9h.6M442.3 114.9h.6M448.5 114.9h.6M460.9 114.9h.6M464 114.9h.6M473.2 114.9h.6M476.3 114.9h.6M386.7 120.1h.6M389.8 120.1h.6M392.9 120.1h.6M396 120.1h.6M399.1 120.1h.6M402.2 120.1h.6M408.4 120.1h.6M411.5 120.1h.6M414.5 120.1h.6M417.6 120.1h.6M420.7 120.1h.6M426.9 120.1h.6M430 120.1h.6M433.1 120.1h.6M436.2 120.1h.6M439.3 120.1h.6M442.3 120.1h.6M457.8 120.1h.6M464 120.1h.6M479.4 120.1h.6M485.6 120.1h.6M491.8 120.1h.6M494.9 120.1h.6M386.7 125.2h.6M389.8 125.2h.6M392.9 125.2h.6M408.4 125.2h.6M414.5 125.2h.6M417.6 125.2h.6M420.7 125.2h.6M423.8 125.2h.6M430 125.2h.6M433.1 125.2h.6M436.2 125.2h.6M439.3 125.2h.6M442.3 125.2h.6M454.7 125.2h.6M476.3 125.2h.6M485.6 125.2h.6M491.8 125.2h.6M386.7 130.4h.6M389.8 130.4h.6M392.9 130.4h.6M399.1 130.4h.6M402.2 130.4h.6M405.3 130.4h.6M411.5 130.4h.6M414.5 130.4h.6M417.6 130.4h.6M433.1 130.4h.6M436.2 130.4h.6M439.3 130.4h.6M442.3 130.4h.6M485.6 130.4h.6M491.8 130.4h.6M389.8 135.5h.6M392.9 135.5h.6M396 135.5h.6M399.1 135.5h.6M402.2 135.5h.6M408.4 135.5h.6M411.5 135.5h.6M423.8 135.5h.6M426.9 135.5h.6M430 135.5h.6M433.1 135.5h.6M436.2 135.5h.6M451.6 135.5h.6M488.7 135.5h.6M491.8 135.5h.6M494.9 135.5h.6"/>
<rect x="385.5" y="14.5" width="114.3" height="123.6" fill="none" stroke="#a89090" stroke-width="0.5"/>
<text x="501.4" y="18.11" font-size="2.6" fill="#333" stroke="#333" stroke-width="0.04" textLength="5.92" lengthAdjust="spacingAndGlyphs">PD-1</text>
<text x="501.4" y="23.25" font-size="2.6" fill="#333" stroke="#333" stroke-width="0.04" textLength="6.64" lengthAdjust="spacingAndGlyphs">TIGIT</text>
<text x="501.4" y="28.41" font-size="2.6" fill="#333" stroke="#333" stroke-width="0.04" textLength="3.61" lengthAdjust="spacingAndGlyphs">IL4</text>
<text x="501.4" y="33.55" font-size="2.6" fill="#333" stroke="#333" stroke-width="0.04" textLength="10.12" lengthAdjust="spacingAndGlyphs">IL13RA1</text>
<text x="501.4" y="38.7" font-size="2.6" fill="#333" stroke="#333" stroke-width="0.04" textLength="6.65" lengthAdjust="spacingAndGlyphs">PRF1</text>
<text x="501.4" y="43.85" font-size="2.6" fill="#333" stroke="#333" stroke-width="0.04" textLength="8.09" lengthAdjust="spacingAndGlyphs">CD274</text>
<text x="501.4" y="49" font-size="2.6" fill="#333" stroke="#333" stroke-width="0.04" textLength="6.89" lengthAdjust="spacingAndGlyphs">GNLY</text>
<text x="501.4" y="54.15" font-size="2.6" fill="#333" stroke="#333" stroke-width="0.04" textLength="6.5" lengthAdjust="spacingAndGlyphs">BCL2</text>
<text x="501.4" y="59.3" font-size="2.6" fill="#333" stroke="#333" stroke-width="0.04" textLength="3.61" lengthAdjust="spacingAndGlyphs">IL5</text>
<text x="501.4" y="64.45" font-size="2.6" fill="#333" stroke="#333" stroke-width="0.04" textLength="9.39" lengthAdjust="spacingAndGlyphs">KIR2DS</text>
<text x="501.4" y="69.6" font-size="2.6" fill="#333" stroke="#333" stroke-width="0.04" textLength="10.11" lengthAdjust="spacingAndGlyphs">SLAMF7</text>
<text x="501.4" y="74.75" font-size="2.6" fill="#333" stroke="#333" stroke-width="0.04" textLength="8.09" lengthAdjust="spacingAndGlyphs">CTLA4</text>
<text x="501.4" y="79.9" font-size="2.6" fill="#333" stroke="#333" stroke-width="0.04" textLength="5.05" lengthAdjust="spacingAndGlyphs">TNF</text>
<text x="501.4" y="85.05" font-size="2.6" fill="#333" stroke="#333" stroke-width="0.04" textLength="6.64" lengthAdjust="spacingAndGlyphs">TIGIT</text>
<text x="501.4" y="90.2" font-size="2.6" fill="#333" stroke="#333" stroke-width="0.04" textLength="8.09" lengthAdjust="spacingAndGlyphs">CD274</text>
<text x="501.4" y="95.35" font-size="2.6" fill="#333" stroke="#333" stroke-width="0.04" textLength="6.65" lengthAdjust="spacingAndGlyphs">LAG3</text>
<text x="501.4" y="100.5" font-size="2.6" fill="#333" stroke="#333" stroke-width="0.04" textLength="3.61" lengthAdjust="spacingAndGlyphs">IL2</text>
<text x="501.4" y="105.65" font-size="2.6" fill="#333" stroke="#333" stroke-width="0.04" textLength="10.55" lengthAdjust="spacingAndGlyphs">KIR2DL1</text>
<text x="501.4" y="110.8" font-size="2.6" fill="#333" stroke="#333" stroke-width="0.04" textLength="10.55" lengthAdjust="spacingAndGlyphs">KIR2DL3</text>
<text x="501.4" y="115.95" font-size="2.6" fill="#333" stroke="#333" stroke-width="0.04" textLength="8.38" lengthAdjust="spacingAndGlyphs">TNFSF</text>
<text x="501.4" y="121.1" font-size="2.6" fill="#333" stroke="#333" stroke-width="0.04" textLength="8.09" lengthAdjust="spacingAndGlyphs">CTLA4</text>
<text x="501.4" y="126.25" font-size="2.6" fill="#333" stroke="#333" stroke-width="0.04" textLength="5.06" lengthAdjust="spacingAndGlyphs">IL13</text>
<text x="501.4" y="131.4" font-size="2.6" fill="#333" stroke="#333" stroke-width="0.04" textLength="6.21" lengthAdjust="spacingAndGlyphs">JAK1</text>
<text x="501.4" y="136.55" font-size="2.6" fill="#333" stroke="#333" stroke-width="0.04" textLength="8.09" lengthAdjust="spacingAndGlyphs">CD160</text>
<text x="387.66" y="139.5" font-size="2.7" fill="#444" text-anchor="end" stroke="#444" stroke-width="0.04" textLength="10.5" lengthAdjust="spacingAndGlyphs" transform="rotate(-62 387.66 139.5)">GBM</text>
<text x="390.75" y="139.5" font-size="2.7" fill="#444" text-anchor="end" stroke="#444" stroke-width="0.04" textLength="10.5" lengthAdjust="spacingAndGlyphs" transform="rotate(-62 390.75 139.5)">CESC</text>
<text x="393.84" y="139.5" font-size="2.7" fill="#444" text-anchor="end" stroke="#444" stroke-width="0.04" textLength="10.5" lengthAdjust="spacingAndGlyphs" transform="rotate(-62 393.84 139.5)">KIRP</text>
<text x="396.93" y="139.5" font-size="2.7" fill="#444" text-anchor="end" stroke="#444" stroke-width="0.04" textLength="10.5" lengthAdjust="spacingAndGlyphs" transform="rotate(-62 396.93 139.5)">STAD</text>
<text x="400.02" y="139.5" font-size="2.7" fill="#444" text-anchor="end" stroke="#444" stroke-width="0.04" textLength="10.5" lengthAdjust="spacingAndGlyphs" transform="rotate(-62 400.02 139.5)">LIHC</text>
<text x="403.11" y="139.5" font-size="2.7" fill="#444" text-anchor="end" stroke="#444" stroke-width="0.04" textLength="10.5" lengthAdjust="spacingAndGlyphs" transform="rotate(-62 403.11 139.5)">SKCM-M</text>
<text x="406.2" y="139.5" font-size="2.7" fill="#444" text-anchor="end" stroke="#444" stroke-width="0.04" textLength="10.5" lengthAdjust="spacingAndGlyphs" transform="rotate(-62 406.2 139.5)">OV</text>
<text x="409.29" y="139.5" font-size="2.7" fill="#444" text-anchor="end" stroke="#444" stroke-width="0.04" textLength="10.5" lengthAdjust="spacingAndGlyphs" transform="rotate(-62 409.29 139.5)">ACC</text>
<text x="412.38" y="139.5" font-size="2.7" fill="#444" text-anchor="end" stroke="#444" stroke-width="0.04" textLength="10.5" lengthAdjust="spacingAndGlyphs" transform="rotate(-62 412.38 139.5)">ALL</text>
<text x="415.47" y="139.5" font-size="2.7" fill="#444" text-anchor="end" stroke="#444" stroke-width="0.04" textLength="10.5" lengthAdjust="spacingAndGlyphs" transform="rotate(-62 415.47 139.5)">GBM</text>
<text x="418.55" y="139.5" font-size="2.7" fill="#444" text-anchor="end" stroke="#444" stroke-width="0.04" textLength="10.5" lengthAdjust="spacingAndGlyphs" transform="rotate(-62 418.55 139.5)">CESC</text>
<text x="421.64" y="139.5" font-size="2.7" fill="#444" text-anchor="end" stroke="#444" stroke-width="0.04" textLength="10.5" lengthAdjust="spacingAndGlyphs" transform="rotate(-62 421.64 139.5)">KIRP</text>
<text x="424.73" y="139.5" font-size="2.7" fill="#444" text-anchor="end" stroke="#444" stroke-width="0.04" textLength="10.5" lengthAdjust="spacingAndGlyphs" transform="rotate(-62 424.73 139.5)">STAD</text>
<text x="427.82" y="139.5" font-size="2.7" fill="#444" text-anchor="end" stroke="#444" stroke-width="0.04" textLength="10.5" lengthAdjust="spacingAndGlyphs" transform="rotate(-62 427.82 139.5)">LIHC</text>
<text x="430.91" y="139.5" font-size="2.7" fill="#444" text-anchor="end" stroke="#444" stroke-width="0.04" textLength="10.5" lengthAdjust="spacingAndGlyphs" transform="rotate(-62 430.91 139.5)">SKCM-M</text>
<text x="434" y="139.5" font-size="2.7" fill="#444" text-anchor="end" stroke="#444" stroke-width="0.04" textLength="10.5" lengthAdjust="spacingAndGlyphs" transform="rotate(-62 434 139.5)">OV</text>
<text x="437.09" y="139.5" font-size="2.7" fill="#444" text-anchor="end" stroke="#444" stroke-width="0.04" textLength="10.5" lengthAdjust="spacingAndGlyphs" transform="rotate(-62 437.09 139.5)">ACC</text>
<text x="440.18" y="139.5" font-size="2.7" fill="#444" text-anchor="end" stroke="#444" stroke-width="0.04" textLength="10.5" lengthAdjust="spacingAndGlyphs" transform="rotate(-62 440.18 139.5)">ALL</text>
<text x="443.27" y="139.5" font-size="2.7" fill="#444" text-anchor="end" stroke="#444" stroke-width="0.04" textLength="10.5" lengthAdjust="spacingAndGlyphs" transform="rotate(-62 443.27 139.5)">GBM</text>
<text x="446.36" y="139.5" font-size="2.7" fill="#444" text-anchor="end" stroke="#444" stroke-width="0.04" textLength="10.5" lengthAdjust="spacingAndGlyphs" transform="rotate(-62 446.36 139.5)">CESC</text>
<text x="449.45" y="139.5" font-size="2.7" fill="#444" text-anchor="end" stroke="#444" stroke-width="0.04" textLength="10.5" lengthAdjust="spacingAndGlyphs" transform="rotate(-62 449.45 139.5)">KIRP</text>
<text x="452.54" y="139.5" font-size="2.7" fill="#444" text-anchor="end" stroke="#444" stroke-width="0.04" textLength="10.5" lengthAdjust="spacingAndGlyphs" transform="rotate(-62 452.54 139.5)">STAD</text>
<text x="455.62" y="139.5" font-size="2.7" fill="#444" text-anchor="end" stroke="#444" stroke-width="0.04" textLength="10.5" lengthAdjust="spacingAndGlyphs" transform="rotate(-62 455.62 139.5)">LIHC</text>
<text x="458.71" y="139.5" font-size="2.7" fill="#444" text-anchor="end" stroke="#444" stroke-width="0.04" textLength="10.5" lengthAdjust="spacingAndGlyphs" transform="rotate(-62 458.71 139.5)">SKCM-M</text>
<text x="461.8" y="139.5" font-size="2.7" fill="#444" text-anchor="end" stroke="#444" stroke-width="0.04" textLength="10.5" lengthAdjust="spacingAndGlyphs" transform="rotate(-62 461.8 139.5)">OV</text>
<text x="464.89" y="139.5" font-size="2.7" fill="#444" text-anchor="end" stroke="#444" stroke-width="0.04" textLength="10.5" lengthAdjust="spacingAndGlyphs" transform="rotate(-62 464.89 139.5)">ACC</text>
<text x="467.98" y="139.5" font-size="2.7" fill="#444" text-anchor="end" stroke="#444" stroke-width="0.04" textLength="10.5" lengthAdjust="spacingAndGlyphs" transform="rotate(-62 467.98 139.5)">ALL</text>
<text x="471.07" y="139.5" font-size="2.7" fill="#444" text-anchor="end" stroke="#444" stroke-width="0.04" textLength="10.5" lengthAdjust="spacingAndGlyphs" transform="rotate(-62 471.07 139.5)">GBM</text>
<text x="474.16" y="139.5" font-size="2.7" fill="#444" text-anchor="end" stroke="#444" stroke-width="0.04" textLength="10.5" lengthAdjust="spacingAndGlyphs" transform="rotate(-62 474.16 139.5)">CESC</text>
<text x="477.25" y="139.5" font-size="2.7" fill="#444" text-anchor="end" stroke="#444" stroke-width="0.04" textLength="10.5" lengthAdjust="spacingAndGlyphs" transform="rotate(-62 477.25 139.5)">KIRP</text>
<text x="480.34" y="139.5" font-size="2.7" fill="#444" text-anchor="end" stroke="#444" stroke-width="0.04" textLength="10.5" lengthAdjust="spacingAndGlyphs" transform="rotate(-62 480.34 139.5)">STAD</text>
<text x="483.43" y="139.5" font-size="2.7" fill="#444" text-anchor="end" stroke="#444" stroke-width="0.04" textLength="10.5" lengthAdjust="spacingAndGlyphs" transform="rotate(-62 483.43 139.5)">LIHC</text>
<text x="486.52" y="139.5" font-size="2.7" fill="#444" text-anchor="end" stroke="#444" stroke-width="0.04" textLength="10.5" lengthAdjust="spacingAndGlyphs" transform="rotate(-62 486.52 139.5)">SKCM-M</text>
<text x="489.61" y="139.5" font-size="2.7" fill="#444" text-anchor="end" stroke="#444" stroke-width="0.04" textLength="10.5" lengthAdjust="spacingAndGlyphs" transform="rotate(-62 489.61 139.5)">OV</text>
<text x="492.69" y="139.5" font-size="2.7" fill="#444" text-anchor="end" stroke="#444" stroke-width="0.04" textLength="10.5" lengthAdjust="spacingAndGlyphs" transform="rotate(-62 492.69 139.5)">ACC</text>
<text x="495.78" y="139.5" font-size="2.7" fill="#444" text-anchor="end" stroke="#444" stroke-width="0.04" textLength="10.5" lengthAdjust="spacingAndGlyphs" transform="rotate(-62 495.78 139.5)">ALL</text>
<text x="498.87" y="139.5" font-size="2.7" fill="#444" text-anchor="end" stroke="#444" stroke-width="0.04" textLength="10.5" lengthAdjust="spacingAndGlyphs" transform="rotate(-62 498.87 139.5)">GBM</text>
<text x="394.77" y="142.1" font-size="2.4" fill="#777" text-anchor="end" stroke="#777" stroke-width="0.04" textLength="15" lengthAdjust="spacingAndGlyphs" transform="rotate(-60 394.77 142.1)">TCGA-xxxx-xxx</text>
<linearGradient id="gC1"><stop offset="0" stop-color="#2b3f9e"/><stop offset="0.5" stop-color="#ffffff"/><stop offset="1" stop-color="#c8202c"/></linearGradient>
<linearGradient id="gC2"><stop offset="0" stop-color="#fbe6dc"/><stop offset="0.5" stop-color="#d8503a"/><stop offset="1" stop-color="#7a0a18"/></linearGradient>
<rect x="516.5" y="18.6" width="22.2" height="5" fill="url(#gC1)"/>
<text x="516.5" y="17.2" font-size="2" fill="#555" stroke="#555" stroke-width="0.04" textLength="22" lengthAdjust="spacingAndGlyphs">Correlation coefficient</text>
<text x="516.5" y="27.3" font-size="1.8" fill="#555" text-anchor="middle" stroke="#555" stroke-width="0.04" textLength="3.1" lengthAdjust="spacingAndGlyphs">-1.0</text>
<text x="522" y="27.3" font-size="1.8" fill="#555" text-anchor="middle" stroke="#555" stroke-width="0.04" textLength="3.1" lengthAdjust="spacingAndGlyphs">-0.5</text>
<text x="527.5" y="27.3" font-size="1.8" fill="#555" text-anchor="middle" stroke="#555" stroke-width="0.04" textLength="2.5" lengthAdjust="spacingAndGlyphs">0.0</text>
<text x="533" y="27.3" font-size="1.8" fill="#555" text-anchor="middle" stroke="#555" stroke-width="0.04" textLength="2.5" lengthAdjust="spacingAndGlyphs">0.5</text>
<text x="538.5" y="27.3" font-size="1.8" fill="#555" text-anchor="middle" stroke="#555" stroke-width="0.04" textLength="2.5" lengthAdjust="spacingAndGlyphs">1.0</text>
<text x="516.5" y="31.2" font-size="2" fill="#555" stroke="#555" stroke-width="0.04" textLength="6.63" lengthAdjust="spacingAndGlyphs">P value</text>
<rect x="516.5" y="33.2" width="22.2" height="4.9" fill="url(#gC2)"/>
<text x="516.5" y="42.2" font-size="1.8" fill="#555" text-anchor="middle" stroke="#555" stroke-width="0.04" textLength="2.5" lengthAdjust="spacingAndGlyphs">0.0</text>
<text x="527.6" y="42.2" font-size="1.8" fill="#555" text-anchor="middle" stroke="#555" stroke-width="0.04" textLength="2.5" lengthAdjust="spacingAndGlyphs">0.1</text>
<text x="538.7" y="42.2" font-size="1.8" fill="#555" text-anchor="middle" stroke="#555" stroke-width="0.04" textLength="2.5" lengthAdjust="spacingAndGlyphs">1.0</text>
<text x="369.2" y="10" font-size="4.2" fill="#444" text-anchor="middle" stroke="#444" stroke-width="0.04" textLength="3.03" lengthAdjust="spacingAndGlyphs">C</text>
<path d="M21.4 176.3H90.5V234.6" fill="none" stroke="#aaa" stroke-width="0.45"/>
<path d="M21.4 176.3V234.6H90.5" fill="none" stroke="#666" stroke-width="0.45"/>
<path d="M21.4 232.44h-1.2" stroke="#555" stroke-width="0.35"/>
<text x="18.8" y="232.44" font-size="3.7" fill="#222" text-anchor="middle" stroke="#222" stroke-width="0.04" textLength="5.14" lengthAdjust="spacingAndGlyphs" transform="rotate(-90 18.8 232.44)">0.0</text>
<path d="M21.4 221.64h-1.2" stroke="#555" stroke-width="0.35"/>
<text x="18.8" y="221.64" font-size="3.7" fill="#222" text-anchor="middle" stroke="#222" stroke-width="0.04" textLength="5.14" lengthAdjust="spacingAndGlyphs" transform="rotate(-90 18.8 221.64)">0.2</text>
<path d="M21.4 210.85h-1.2" stroke="#555" stroke-width="0.35"/>
<text x="18.8" y="210.85" font-size="3.7" fill="#222" text-anchor="middle" stroke="#222" stroke-width="0.04" textLength="5.14" lengthAdjust="spacingAndGlyphs" transform="rotate(-90 18.8 210.85)">0.4</text>
<path d="M21.4 200.05h-1.2" stroke="#555" stroke-width="0.35"/>
<text x="18.8" y="200.05" font-size="3.7" fill="#222" text-anchor="middle" stroke="#222" stroke-width="0.04" textLength="5.14" lengthAdjust="spacingAndGlyphs" transform="rotate(-90 18.8 200.05)">0.6</text>
<path d="M21.4 189.26h-1.2" stroke="#555" stroke-width="0.35"/>
<text x="18.8" y="189.26" font-size="3.7" fill="#222" text-anchor="middle" stroke="#222" stroke-width="0.04" textLength="5.14" lengthAdjust="spacingAndGlyphs" transform="rotate(-90 18.8 189.26)">0.8</text>
<path d="M21.4 178.46h-1.2" stroke="#555" stroke-width="0.35"/>
<text x="18.8" y="178.46" font-size="3.7" fill="#222" text-anchor="middle" stroke="#222" stroke-width="0.04" textLength="5.14" lengthAdjust="spacingAndGlyphs" transform="rotate(-90 18.8 178.46)">1.0</text>
<path d="M23.96 234.6v1.2" stroke="#555" stroke-width="0.35"/>
<text x="23.96" y="239.6" font-size="3.9" fill="#222" text-anchor="middle" stroke="#222" stroke-width="0.04" textLength="2.17" lengthAdjust="spacingAndGlyphs">0</text>
<path d="M45.15 234.6v1.2" stroke="#555" stroke-width="0.35"/>
<text x="45.15" y="239.6" font-size="3.9" fill="#222" text-anchor="middle" stroke="#222" stroke-width="0.04" textLength="4.34" lengthAdjust="spacingAndGlyphs">50</text>
<path d="M66.33 234.6v1.2" stroke="#555" stroke-width="0.35"/>
<text x="66.33" y="239.6" font-size="3.9" fill="#222" text-anchor="middle" stroke="#222" stroke-width="0.04" textLength="6.51" lengthAdjust="spacingAndGlyphs">100</text>
<path d="M87.52 234.6v1.2" stroke="#555" stroke-width="0.35"/>
<text x="87.52" y="239.6" font-size="3.9" fill="#222" text-anchor="middle" stroke="#222" stroke-width="0.04" textLength="6.51" lengthAdjust="spacingAndGlyphs">150</text>
<text x="55.95" y="245.2" font-size="3.95" fill="#1a1a1a" text-anchor="middle" stroke="#1a1a1a" stroke-width="0.04" textLength="48.58" lengthAdjust="spacingAndGlyphs">Time to Follow-Up (months)</text>
<text x="13.3" y="205.95" font-size="4.1" fill="#1a1a1a" text-anchor="middle" stroke="#1a1a1a" stroke-width="0.04" textLength="36.23" lengthAdjust="spacingAndGlyphs" transform="rotate(-90 13.3 205.95)">Cumulative Survival</text>
<text x="55.95" y="175" font-size="4.1" fill="#111" text-anchor="middle" stroke="#111" stroke-width="0.04" textLength="9.8" lengthAdjust="spacingAndGlyphs">KIRC</text>
<text x="6.5" y="171.8" font-size="4.2" fill="#444" text-anchor="middle" stroke="#444" stroke-width="0.04" textLength="3.03" lengthAdjust="spacingAndGlyphs">D</text>
<path d="M23.96 178.46H24.21V179.02H24.94V179.83H26.09V180.04H27.98V181.04H28.01V181.33H29.34V181.54H29.57V183.32H30.35V183.74H30.37V184.13H30.83V184.27H31.75V184.35H31.93V185.12H32.11V185.19H32.11V185.21H33.66V185.38H33.69V185.75H33.72V186.79H34.1V187.24H35.39V188.48H36.11V188.79H37.11V188.8H37.11V189.48H37.47V189.59H37.57V190H37.68V190.34H37.79V190.97H38.98V191.46H39.09V191.46H40.42V191.81H40.96V192.49H41.74V192.66H41.76V193.42H41.89V194.09H43.08V195.53H44.56V195.59H44.71V196.1H44.93V196.24H45.43V196.27H49.11V196.27H50.29V196.58H50.31V196.71H50.76V196.82H51.42V198.2H51.86V198.43H52.15V198.6H52.36V198.61H53.32V199.41H54.36V199.86H55.66V200.59H56.07V200.6H56.25V201.26H56.32V202.4H56.67V202.65H56.68V202.75H59.37V203.02H60.01V203.27H60.21V204.39H60.51V204.62H60.74V205.81H61.64V205.88H62.25V205.99H63.66V205.99H73.15V206.19H73.29V206.53H84.51V206.53H87.52V206.53" fill="none" stroke="#2b4a9a" stroke-width="0.9"/>
<path d="M23.96 178.46H24.41V178.52H24.59V178.68H25.21V179.92H25.8V180.47H25.88V181.16H25.88V181.27H26.03V181.68H27.54V181.82H27.57V182.29H28.09V183.07H28.19V183.86H28.57V184.85H29.35V184.9H29.63V185.13H29.73V185.19H31.14V185.31H31.48V186.08H31.51V186.61H31.53V186.96H31.87V188.18H32.48V188.87H33.5V188.94H33.68V189.17H34.75V189.51H34.89V189.52H35.19V190.21H35.28V190.64H36.44V191.95H38.15V192.19H38.87V192.57H39.59V193.01H40.18V193.12H40.24V193.73H40.36V193.93H40.72V195.11H40.81V195.73H41.64V196.94H42.69V197.09H43.37V197.24H43.55V197.33H43.61V198.15H43.73V199.11H44V199.36H44.19V199.93H44.21V200.05H45.27V201.16H45.31V201.38H45.82V201.46H46.54V201.67H48.23V202.09H48.77V202.34H49.69V202.75H56.54V202.8H64V203.29H72.69V203.65H72.78V204.13H72.92V204.64H73.03V205.37H73.03V205.45H74.86V205.45H87.52V205.45" fill="none" stroke="#6ab4e4" stroke-width="0.9"/>
<path d="M23.96 178.46H25.58V178.6H25.97V179.62H26.57V179.77H26.74V179.87H27.85V180.5H27.88V181.24H28.55V181.7H28.75V182.11H29.58V183.1H31.47V183.85H33.13V184.06H33.47V184.38H33.52V184.62H35.68V184.95H36.25V185.48H38.46V185.51H41.22V186.13H41.47V186.68H41.53V187.1H44.54V187.11H45.4V187.65H46.13V188.18H50.97V188.64H51.41V188.77H51.42V189.44H51.82V190.14H51.91V190.84H52.29V190.88H53.68V191.83H53.92V191.93H53.97V191.94H55.3V192.29H55.7V192.78H55.84V193.57H56.02V194.02H56.26V194.18H56.26V194.77H56.31V195.78H56.34V196.03H56.48V196.51H56.56V196.66H56.57V197.61H56.84V198.78H56.84V198.89H56.86V198.97H57.79V199.12H57.91V199.96H57.98V199.97H58.08V200.59H77.08V200.59H80.31V200.59" fill="none" stroke="#f4a02c" stroke-width="0.9"/>
<path d="M23.96 178.46H24.53V178.47H25.19V178.64H25.29V178.87H25.66V179.82H26.43V180.02H26.52V180.26H26.82V180.86H27.7V180.94H28.09V181.04H28.26V181.36H28.71V181.52H29.02V185.11H29.96V185.2H30.71V185.93H30.98V186.51H31.13V186.67H31.19V186.88H31.83V187.1H32.89V187.43H33.07V187.75H33.3V188.49H33.57V189.25H33.65V189.39H34.5V189.85H35.06V190.16H35.29V190.8H36.56V191.77H36.64V192.18H38.55V192.49H39.37V193.84H39.87V193.92H40.45V194.04H41.02V194.36H41.7V195.1H41.94V195.89H41.95V196.52H42.3V196.63H42.35V196.92H42.69V197.17H43.79V197.89H44.48V198.22H44.49V198.44H44.58V199.29H44.87V199.72H45.79V200.51H45.98V200.59H47.04V200.65H47.42V201.31H49.44V202.27H49.6V202.5H50.47V202.75H51.38V203.21H51.88V203.79H52.39V204.41H52.5V204.51H53.91V205.08H54.93V205.45H60.04V205.76H61.05V205.99H71.15V205.99H72.73V206.35H72.81V206.77H73.19V207.67H73.34V208.57H73.42V209.1H73.44V209.23H73.63V209.23H80.33V209.23H87.52V209.23" fill="none" stroke="#a8284a" stroke-width="0.9"/>
<text x="43.53" y="181" font-size="3.8" fill="#111" stroke="#111" stroke-width="0.09" textLength="43.66" lengthAdjust="spacingAndGlyphs">2 vs 1: HR=1.22, P = 0.38</text>
<text x="43.53" y="186.1" font-size="3.8" fill="#111" stroke="#111" stroke-width="0.09" textLength="45.77" lengthAdjust="spacingAndGlyphs">4 vs 3: HR=1.74, P = 0.018</text>
<path d="M23.2 219.7h3.4" stroke="#2b4a9a" stroke-width="1.3"/>
<text x="28.5" y="220.95" font-size="3.5" fill="#111" stroke="#111" stroke-width="0.09" textLength="48.46" lengthAdjust="spacingAndGlyphs">1 Low FAM111B + Low Th2</text>
<path d="M23.2 223.45h3.4" stroke="#6ab4e4" stroke-width="1.3"/>
<text x="28.5" y="224.7" font-size="3.5" fill="#111" stroke="#111" stroke-width="0.09" textLength="49.35" lengthAdjust="spacingAndGlyphs">2 Low FAM111B + High Th2</text>
<path d="M23.2 227.2h3.4" stroke="#f4a02c" stroke-width="1.3"/>
<text x="28.5" y="228.45" font-size="3.5" fill="#111" stroke="#111" stroke-width="0.09" textLength="49.35" lengthAdjust="spacingAndGlyphs">3 High FAM111B + Low Th2</text>
<path d="M23.2 230.95h3.4" stroke="#a8284a" stroke-width="1.3"/>
<text x="28.5" y="232.2" font-size="3.5" fill="#111" stroke="#111" stroke-width="0.09" textLength="50.23" lengthAdjust="spacingAndGlyphs">4 High FAM111B + High Th2</text>
<path d="M117.8 176.4H187V234.3" fill="none" stroke="#aaa" stroke-width="0.45"/>
<path d="M117.8 176.4V234.3H187" fill="none" stroke="#666" stroke-width="0.45"/>
<path d="M117.8 232.16h-1.2" stroke="#555" stroke-width="0.35"/>
<text x="115.2" y="232.16" font-size="3.7" fill="#222" text-anchor="middle" stroke="#222" stroke-width="0.04" textLength="5.14" lengthAdjust="spacingAndGlyphs" transform="rotate(-90 115.2 232.16)">0.0</text>
<path d="M117.8 221.43h-1.2" stroke="#555" stroke-width="0.35"/>
<text x="115.2" y="221.43" font-size="3.7" fill="#222" text-anchor="middle" stroke="#222" stroke-width="0.04" textLength="5.14" lengthAdjust="spacingAndGlyphs" transform="rotate(-90 115.2 221.43)">0.2</text>
<path d="M117.8 210.71h-1.2" stroke="#555" stroke-width="0.35"/>
<text x="115.2" y="210.71" font-size="3.7" fill="#222" text-anchor="middle" stroke="#222" stroke-width="0.04" textLength="5.14" lengthAdjust="spacingAndGlyphs" transform="rotate(-90 115.2 210.71)">0.4</text>
<path d="M117.8 199.99h-1.2" stroke="#555" stroke-width="0.35"/>
<text x="115.2" y="199.99" font-size="3.7" fill="#222" text-anchor="middle" stroke="#222" stroke-width="0.04" textLength="5.14" lengthAdjust="spacingAndGlyphs" transform="rotate(-90 115.2 199.99)">0.6</text>
<path d="M117.8 189.27h-1.2" stroke="#555" stroke-width="0.35"/>
<text x="115.2" y="189.27" font-size="3.7" fill="#222" text-anchor="middle" stroke="#222" stroke-width="0.04" textLength="5.14" lengthAdjust="spacingAndGlyphs" transform="rotate(-90 115.2 189.27)">0.8</text>
<path d="M117.8 178.54h-1.2" stroke="#555" stroke-width="0.35"/>
<text x="115.2" y="178.54" font-size="3.7" fill="#222" text-anchor="middle" stroke="#222" stroke-width="0.04" textLength="5.14" lengthAdjust="spacingAndGlyphs" transform="rotate(-90 115.2 178.54)">1.0</text>
<path d="M120.36 234.3v1.2" stroke="#555" stroke-width="0.35"/>
<text x="120.36" y="239.3" font-size="3.9" fill="#222" text-anchor="middle" stroke="#222" stroke-width="0.04" textLength="2.17" lengthAdjust="spacingAndGlyphs">0</text>
<path d="M136.38 234.3v1.2" stroke="#555" stroke-width="0.35"/>
<text x="136.38" y="239.3" font-size="3.9" fill="#222" text-anchor="middle" stroke="#222" stroke-width="0.04" textLength="4.34" lengthAdjust="spacingAndGlyphs">50</text>
<path d="M152.4 234.3v1.2" stroke="#555" stroke-width="0.35"/>
<text x="152.4" y="239.3" font-size="3.9" fill="#222" text-anchor="middle" stroke="#222" stroke-width="0.04" textLength="6.51" lengthAdjust="spacingAndGlyphs">100</text>
<path d="M168.42 234.3v1.2" stroke="#555" stroke-width="0.35"/>
<text x="168.42" y="239.3" font-size="3.9" fill="#222" text-anchor="middle" stroke="#222" stroke-width="0.04" textLength="6.51" lengthAdjust="spacingAndGlyphs">150</text>
<path d="M184.44 234.3v1.2" stroke="#555" stroke-width="0.35"/>
<text x="184.44" y="239.3" font-size="3.9" fill="#222" text-anchor="middle" stroke="#222" stroke-width="0.04" textLength="6.51" lengthAdjust="spacingAndGlyphs">200</text>
<text x="152.4" y="244.9" font-size="3.95" fill="#1a1a1a" text-anchor="middle" stroke="#1a1a1a" stroke-width="0.04" textLength="48.58" lengthAdjust="spacingAndGlyphs">Time to Follow-Up (months)</text>
<text x="109.7" y="205.85" font-size="4.1" fill="#1a1a1a" text-anchor="middle" stroke="#1a1a1a" stroke-width="0.04" textLength="36.23" lengthAdjust="spacingAndGlyphs" transform="rotate(-90 109.7 205.85)">Cumulative Survival</text>
<text x="152.4" y="175.1" font-size="4.1" fill="#111" text-anchor="middle" stroke="#111" stroke-width="0.04" textLength="9.57" lengthAdjust="spacingAndGlyphs">KIRP</text>
<text x="101.9" y="170.5" font-size="4.2" fill="#444" text-anchor="middle" stroke="#444" stroke-width="0.04" textLength="2.8" lengthAdjust="spacingAndGlyphs">E</text>
<path d="M120.36 178.54H120.97V178.93H121.3V180.52H121.33V180.56H122.96V180.87H123.18V180.94H124.11V181.27H125.75V181.76H126.63V181.97H127.51V182.93H128.01V182.99H128.36V183H128.91V183.74H129.68V184.42H132.67V185.07H132.76V185.51H133.6V186.75H133.69V187H134.91V187.08H135.05V187.12H136.14V187.31H136.18V188.03H136.25V188.18H136.31V188.26H136.4V189.57H136.77V189.81H137.11V190.34H137.2V190.69H137.64V191.29H140.61V191.87H144.99V191.95H145.43V192.11H145.54V193.4H145.56V193.44H145.86V193.56H164.65V193.56H184.12V193.56" fill="none" stroke="#2b4a9a" stroke-width="0.9"/>
<path d="M120.36 178.54H121.17V179.51H121.22V179.74H124.26V180.06H135.35V180.15H136.41V181.41H136.41V181.47H136.5V181.75H136.58V181.99H136.64V182.61H137V182.83H138.27V182.83H148.57V183.95H148.61V185.41H148.63V185.49H148.69V186.04H148.7V186.54H148.75V187.37H148.76V187.39H148.76V187.59H148.8V188.96H148.84V189.05H148.87V189.55H148.9V190.19H148.9V190.49H148.92V190.92H148.94V190.93H148.96V191.41H149.02V192.16H149.05V192.5H149.08V192.65H149.09V192.68H149.1V192.9H149.14V193.04H149.15V193.56H150.33V193.56H151.8V193.91H151.8V194.53H151.84V195.2H151.87V196.26H151.93V196.64H151.93V197.54H151.94V198H152V198.04H152.18V198.22H152.19V198.91H152.21V199.62H152.23V200.17H152.28V200.33H152.28V200.44H152.37V200.53H154.09V200.53H155.28V200.53" fill="none" stroke="#6ab4e4" stroke-width="0.9"/>
<path d="M120.36 178.54H121.19V178.71H121.84V179.09H124.95V180.03H126.5V180.38H126.65V180.91H127.52V181.23H131.93V181.29H131.98V181.36H132.11V182.09H134.18V182.23H135.17V183.37H135.78V183.47H135.81V184.26H135.87V184.31H136V184.84H136.02V185.62H136.1V185.95H136.24V186.9H136.28V187.16H136.36V187.19H136.48V187.8H136.78V187.84H136.87V188.42H136.99V189.27H137.12V189.48H137.28V189.7H137.46V189.87H138.28V190.98H139.15V191.41H141.66V191.63H143.96V191.82H145.12V192.48H146.08V192.75H149.25V193.02H154.64V193.02" fill="none" stroke="#f4a02c" stroke-width="0.9"/>
<path d="M120.36 178.54H120.45V178.63H120.98V178.91H121.41V179.43H121.43V179.52H121.65V180.03H121.67V180.14H121.71V180.51H121.96V180.78H122.34V181.62H122.73V183.37H124.14V183.6H124.19V183.92H125.23V184.24H125.35V184.69H125.61V184.77H126.49V184.89H126.79V185.04H127.32V185.14H127.5V187.26H127.74V188.34H128.64V188.73H129.03V189.21H129.98V189.27H130.15V189.34H130.32V190.26H131.14V190.4H131.16V190.8H131.83V191.12H131.98V192.02H132.34V192.09H132.57V192.95H133.89V193.51H134.32V194.09H134.71V194.27H135.14V194.6H135.37V194.74H135.54V195.55H135.69V196.21H136.74V196.62H136.97V197.17H137.01V197.22H137.55V197.83H137.81V197.95H138.08V199.45H138.62V200.18H138.96V200.28H139.23V200.4H139.24V200.54H140.73V201.62H140.89V202.13H142.8V202.13H147.97V202.41H147.98V202.48H148.01V202.74H148.02V203.61H148.04V203.71H148.06V204.08H148.12V204.25H148.22V204.44H148.23V205.15H148.31V206.49H148.33V207.16H148.36V208.52H148.45V209.33H148.45V209.34H148.46V209.35H148.51V209.66H148.53V210.18H172.75V210.18H184.12V210.18" fill="none" stroke="#a8284a" stroke-width="0.9"/>
<text x="137.92" y="181.1" font-size="3.8" fill="#111" stroke="#111" stroke-width="0.09" textLength="45.49" lengthAdjust="spacingAndGlyphs">2 vs 1: HR=0.37, P = 0.117</text>
<text x="137.92" y="186.2" font-size="3.8" fill="#111" stroke="#111" stroke-width="0.09" textLength="47.88" lengthAdjust="spacingAndGlyphs">4 vs 3: HR=2.81, P = 0.0223</text>
<path d="M119.6 219.4h3.4" stroke="#2b4a9a" stroke-width="1.3"/>
<text x="124.9" y="220.65" font-size="3.5" fill="#111" stroke="#111" stroke-width="0.09" textLength="48.46" lengthAdjust="spacingAndGlyphs">1 Low FAM111B + Low Th2</text>
<path d="M119.6 223.15h3.4" stroke="#6ab4e4" stroke-width="1.3"/>
<text x="124.9" y="224.4" font-size="3.5" fill="#111" stroke="#111" stroke-width="0.09" textLength="49.35" lengthAdjust="spacingAndGlyphs">2 Low FAM111B + High Th2</text>
<path d="M119.6 226.9h3.4" stroke="#f4a02c" stroke-width="1.3"/>
<text x="124.9" y="228.15" font-size="3.5" fill="#111" stroke="#111" stroke-width="0.09" textLength="49.35" lengthAdjust="spacingAndGlyphs">3 High FAM111B + Low Th2</text>
<path d="M119.6 230.65h3.4" stroke="#a8284a" stroke-width="1.3"/>
<text x="124.9" y="231.9" font-size="3.5" fill="#111" stroke="#111" stroke-width="0.09" textLength="50.23" lengthAdjust="spacingAndGlyphs">4 High FAM111B + High Th2</text>
<path d="M221.9 176.4H291V234.8" fill="none" stroke="#aaa" stroke-width="0.45"/>
<path d="M221.9 176.4V234.8H291" fill="none" stroke="#666" stroke-width="0.45"/>
<path d="M221.9 232.64h-1.2" stroke="#555" stroke-width="0.35"/>
<text x="219.3" y="232.64" font-size="3.7" fill="#222" text-anchor="middle" stroke="#222" stroke-width="0.04" textLength="5.14" lengthAdjust="spacingAndGlyphs" transform="rotate(-90 219.3 232.64)">0.0</text>
<path d="M221.9 221.82h-1.2" stroke="#555" stroke-width="0.35"/>
<text x="219.3" y="221.82" font-size="3.7" fill="#222" text-anchor="middle" stroke="#222" stroke-width="0.04" textLength="5.14" lengthAdjust="spacingAndGlyphs" transform="rotate(-90 219.3 221.82)">0.2</text>
<path d="M221.9 211.01h-1.2" stroke="#555" stroke-width="0.35"/>
<text x="219.3" y="211.01" font-size="3.7" fill="#222" text-anchor="middle" stroke="#222" stroke-width="0.04" textLength="5.14" lengthAdjust="spacingAndGlyphs" transform="rotate(-90 219.3 211.01)">0.4</text>
<path d="M221.9 200.19h-1.2" stroke="#555" stroke-width="0.35"/>
<text x="219.3" y="200.19" font-size="3.7" fill="#222" text-anchor="middle" stroke="#222" stroke-width="0.04" textLength="5.14" lengthAdjust="spacingAndGlyphs" transform="rotate(-90 219.3 200.19)">0.6</text>
<path d="M221.9 189.38h-1.2" stroke="#555" stroke-width="0.35"/>
<text x="219.3" y="189.38" font-size="3.7" fill="#222" text-anchor="middle" stroke="#222" stroke-width="0.04" textLength="5.14" lengthAdjust="spacingAndGlyphs" transform="rotate(-90 219.3 189.38)">0.8</text>
<path d="M221.9 178.56h-1.2" stroke="#555" stroke-width="0.35"/>
<text x="219.3" y="178.56" font-size="3.7" fill="#222" text-anchor="middle" stroke="#222" stroke-width="0.04" textLength="5.14" lengthAdjust="spacingAndGlyphs" transform="rotate(-90 219.3 178.56)">1.0</text>
<path d="M224.46 234.8v1.2" stroke="#555" stroke-width="0.35"/>
<text x="224.46" y="239.8" font-size="3.9" fill="#222" text-anchor="middle" stroke="#222" stroke-width="0.04" textLength="2.17" lengthAdjust="spacingAndGlyphs">0</text>
<path d="M238.07 234.8v1.2" stroke="#555" stroke-width="0.35"/>
<text x="238.07" y="239.8" font-size="3.9" fill="#222" text-anchor="middle" stroke="#222" stroke-width="0.04" textLength="4.34" lengthAdjust="spacingAndGlyphs">20</text>
<path d="M251.69 234.8v1.2" stroke="#555" stroke-width="0.35"/>
<text x="251.69" y="239.8" font-size="3.9" fill="#222" text-anchor="middle" stroke="#222" stroke-width="0.04" textLength="4.34" lengthAdjust="spacingAndGlyphs">40</text>
<path d="M265.3 234.8v1.2" stroke="#555" stroke-width="0.35"/>
<text x="265.3" y="239.8" font-size="3.9" fill="#222" text-anchor="middle" stroke="#222" stroke-width="0.04" textLength="4.34" lengthAdjust="spacingAndGlyphs">60</text>
<path d="M278.91 234.8v1.2" stroke="#555" stroke-width="0.35"/>
<text x="278.91" y="239.8" font-size="3.9" fill="#222" text-anchor="middle" stroke="#222" stroke-width="0.04" textLength="4.34" lengthAdjust="spacingAndGlyphs">80</text>
<text x="256.45" y="245.4" font-size="3.95" fill="#1a1a1a" text-anchor="middle" stroke="#1a1a1a" stroke-width="0.04" textLength="48.58" lengthAdjust="spacingAndGlyphs">Time to Follow-Up (months)</text>
<text x="213.8" y="206.1" font-size="4.1" fill="#1a1a1a" text-anchor="middle" stroke="#1a1a1a" stroke-width="0.04" textLength="36.23" lengthAdjust="spacingAndGlyphs" transform="rotate(-90 213.8 206.1)">Cumulative Survival</text>
<text x="256.45" y="175.1" font-size="4.1" fill="#111" text-anchor="middle" stroke="#111" stroke-width="0.04" textLength="12.07" lengthAdjust="spacingAndGlyphs">MESO</text>
<text x="200" y="170.5" font-size="4.2" fill="#444" text-anchor="middle" stroke="#444" stroke-width="0.04" textLength="2.57" lengthAdjust="spacingAndGlyphs">F</text>
<path d="M224.46 178.56H224.95V178.89H228.81V179.1H230.78V180.14H231.79V180.24H231.79V180.31H232.27V181.36H232.46V181.9H232.67V182.15H233.01V182.92H234.04V183.12H234.11V183.43H235.03V184H235.05V184.69H235.27V185.25H235.58V185.62H235.79V185.94H236.11V186.31H236.36V187.02H236.7V187.21H237.11V188.03H237.15V188.23H237.16V189.56H237.62V189.98H237.91V190H238.15V190.46H238.32V191.47H239.33V191.52H239.46V191.54H239.64V192.09H239.64V192.17H239.73V192.36H240.08V192.67H240.24V192.98H240.52V193.04H240.54V193.84H240.68V193.9H240.75V194.18H240.85V195.21H240.87V195.35H241.33V197.8H242.04V197.88H242.09V198.03H242.39V198.33H242.44V198.5H242.57V198.63H242.67V198.81H242.7V198.9H242.88V199.33H242.96V201.07H242.96V202.14H243.05V202.71H243.43V203.81H243.6V204.11H243.64V204.32H243.86V204.57H244.01V205.04H244.05V205.46H244.06V205.6H244.12V205.87H244.43V206.39H244.91V206.68H246.64V207.65H247.51V208.37H248.08V208.39H248.81V209.09H249.1V209.14H249.88V209.39H250.93V210.25H251.02V210.5H251.87V211.26H252.14V211.35H252.23V211.58H252.28V212.66H252.87V213.14H253.8V213.17H259.54V213.17H263.15V213.41H263.17V213.46H263.19V214.26H263.51V214.48H263.57V214.95H263.62V215.25H263.77V215.55H264.15V216.96H279.35V216.96H280.24V217.25H280.32V218.06H280.35V218.48H280.4V218.89H280.52V219.27H280.53V220.27H280.59V220.29H280.64V221.96H280.72V222.41H280.72V222.83H280.78V223.42H280.82V223.53H280.85V223.53H280.87V223.54H281.09V223.69H281.21V224.59H281.33V225.09H281.34V225.34H281.41V225.88H287.29V225.88H287.97V226.22H287.98V226.61H287.98V227.76H287.99V228.01H288.02V228.25H288.03V228.5H288.05V228.5H288.2V229.53H288.23V231.14H288.24V231.89H288.31V232.01H288.32V232.19H288.36V232.2H288.38V232.64H288.44V232.64" fill="none" stroke="#2b4a9a" stroke-width="0.9"/>
<path d="M224.46 178.56H224.46V178.82H224.6V179.04H224.7V181.16H224.97V181.71H225.05V182.15H225.48V182.38H225.73V182.43H225.95V182.67H225.96V183H226.12V183.43H226.54V183.78H226.61V184.32H226.62V184.76H226.66V185.18H226.78V185.3H226.98V186.17H227.01V186.34H227.07V186.44H227.07V188.14H227.13V188.64H227.15V188.81H227.17V189.16H227.24V189.39H227.27V189.44H227.32V190.6H227.6V190.67H227.61V191.54H227.79V191.85H227.86V192.25H228.06V193.07H228.22V194.73H228.25V195.17H228.48V195.32H228.54V195.97H228.55V196.43H228.66V196.6H228.82V196.61H228.98V196.95H229.05V197.05H229.15V197.17H229.15V197.61H229.16V197.61H229.17V199.92H229.31V200.59H229.39V200.66H229.56V200.7H229.62V200.88H229.67V201.51H229.68V201.59H229.75V201.96H230.01V202.42H230.04V202.85H230.18V203.36H230.23V204.38H230.24V205.06H230.39V205.08H230.5V206.22H230.5V207.26H230.66V207.5H230.7V207.53H230.92V208.14H230.95V208.46H230.95V209.55H230.99V211.13H231.03V211.53H231.09V211.81H231.14V211.85H231.33V212.09H231.35V212.32H231.42V212.34H231.56V212.44H231.59V213.17H231.74V213.3H231.83V213.84H232.11V214.48H232.13V215.04H232.31V216.31H232.44V216.34H232.5V216.77H232.61V217.05H232.66V217.86H232.8V217.88H232.86V218.58H232.97V218.8H232.97V219.85H233.13V219.99H233.29V220.06H233.31V220.39H233.4V220.55H233.47V221.6H233.48V221.65H233.59V222.6H233.64V223.09H233.66V223.9H233.69V224.86H233.71V225.17H233.71V225.25H233.78V225.48H233.82V226.2H233.84V226.86H233.93V227.23H234V228.09H234.2V228.49H234.24V228.93H234.28V230.16H234.29V230.27H234.33V231.23H234.38V231.84H234.39V232.06H234.44V232.3H234.49V232.33H234.49V232.56H234.5V232.64H234.67V232.64" fill="none" stroke="#6ab4e4" stroke-width="0.9"/>
<path d="M224.46 178.56H228.12V178.56H229.09V178.94H230.28V179.05H230.4V179.48H230.67V179.8H231.06V179.82H231.13V181.74H231.24V181.81H231.68V182.06H231.85V182.38H231.9V183.27H231.93V183.49H232.19V184.78H232.24V185H232.45V185.04H232.55V185.11H232.63V186.04H232.78V186.32H234.23V187.21H234.3V187.72H234.88V188.11H235.19V188.45H235.2V188.69H235.3V188.69H235.31V189.62H235.43V189.74H235.45V190.72H235.51V191.54H235.87V193.03H235.95V193.95H236.05V194.24H236.09V194.76H236.31V194.78H236.5V194.97H236.62V195.3H236.71V195.33H238.59V195.33H240.87V195.77H240.87V196.39H240.94V196.64H240.97V197.45H241V197.48H241.06V197.83H241.28V198.15H241.57V198.29H241.94V198.43H242.06V199.81H242.1V200.73H242.25V201.51H242.28V201.93H242.44V202.19H242.45V202.48H242.54V203.33H242.73V203.94H242.85V204.41H242.92V204.47H243.02V205.47H243.21V205.69H243.22V206.14H243.5V206.53H243.54V206.62H243.57V207.11H243.64V208.38H243.76V209.93H243.81V210.74H243.82V210.76H244.02V210.86H244.03V211.04H244.06V211.12H244.11V211.7H244.27V212.48H244.28V212.5H244.32V212.55H244.63V213.17H244.78V213.96H244.9V215.4H244.92V215.67H244.94V215.74H244.98V215.83H245.05V216.77H245.05V216.81H245.08V216.89H245.09V217.03H245.13V217.29H245.21V217.67H245.3V218.52H245.32V218.8H245.34V219.66H245.44V219.7H245.44V220.4H245.46V220.44H245.46V220.54H245.48V221.52H245.48V222.02H245.5V222.47H245.51V222.94H245.56V223.2H245.58V224.08H245.58V224.6H245.6V224.67H245.64V226.16H245.65V226.7H245.67V226.74H245.72V226.96H245.72V227.29H245.72V227.42H245.74V227.57H245.75V228.92H245.77V229.03H245.78V229.32H245.82V229.47H245.83V230.39H245.83V230.95H245.85V232.18H245.85V232.64H245.9V232.64" fill="none" stroke="#f4a02c" stroke-width="0.9"/>
<path d="M224.46 178.56H224.61V178.6H224.61V178.7H224.99V179.25H225.18V179.98H225.19V180.44H225.35V180.81H225.46V183.27H225.57V184.52H226.09V184.88H226.1V185.01H226.18V185.07H226.36V185.56H226.46V185.75H227V186.16H227.03V186.26H227.4V186.65H227.51V186.93H227.69V187.21H227.75V187.52H227.86V188.36H228.07V189.01H228.28V190.08H228.33V190.82H228.48V191.03H228.7V191.48H228.83V191.66H228.86V191.98H229.15V192.42H229.17V192.51H229.17V193.4H229.4V193.68H229.41V193.99H229.53V194.24H229.71V194.76H229.72V195.08H230V195.98H230.11V195.99H230.15V196.16H230.15V196.25H230.28V196.65H230.3V196.89H230.33V196.94H230.85V197.57H230.95V198.91H231.01V199.39H231.26V199.96H231.39V200.73H231.78V201.31H231.8V201.46H231.92V203.62H232.04V203.97H232.06V204.3H232.08V204.8H232.12V205.23H232.28V205.6H232.28V206.45H232.29V206.66H232.35V207.26H232.38V207.54H232.4V207.76H232.46V208.02H232.52V208.59H232.63V208.68H232.76V208.84H232.99V209.57H233.07V211.24H233.16V211.67H233.26V211.69H233.3V211.72H233.33V211.92H233.42V212.06H233.54V212.13H233.58V212.54H233.59V212.58H233.59V212.6H233.66V212.6H233.76V213.66H233.78V215H233.83V215.36H233.87V216.33H233.9V216.37H233.96V217.98H234.12V218.15H234.2V218.58H234.38V218.93H234.46V219.06H234.7V219.22H234.86V219.43H234.9V219.61H234.92V220.18H234.93V221.32H234.97V221.48H235V221.98H235.03V222.53H235.1V222.65H235.15V222.89H235.21V223.79H235.23V224.15H235.24V224.53H235.3V224.6H235.32V224.6H235.34V225.4H235.35V226.51H235.39V226.68H235.43V228.21H235.54V229.71H235.56V229.89H235.57V229.97H235.61V230.47H235.88V230.7H235.92V231.41H235.95V231.61H236.35V231.93H236.51V232.64H236.71V232.64" fill="none" stroke="#a8284a" stroke-width="0.9"/>
<text x="237.69" y="181.1" font-size="3.8" fill="#111" stroke="#111" stroke-width="0.09" textLength="52.11" lengthAdjust="spacingAndGlyphs">2 vs 1: HR=3.61, P = 0.000741</text>
<text x="237.69" y="186.2" font-size="3.8" fill="#111" stroke="#111" stroke-width="0.09" textLength="52.11" lengthAdjust="spacingAndGlyphs">4 vs 3: HR=3.60, P = 0.000641</text>
<path d="M223.7 219.9h3.4" stroke="#2b4a9a" stroke-width="1.3"/>
<text x="229" y="221.15" font-size="3.5" fill="#111" stroke="#111" stroke-width="0.09" textLength="48.46" lengthAdjust="spacingAndGlyphs">1 Low FAM111B + Low Th2</text>
<path d="M223.7 223.65h3.4" stroke="#6ab4e4" stroke-width="1.3"/>
<text x="229" y="224.9" font-size="3.5" fill="#111" stroke="#111" stroke-width="0.09" textLength="49.35" lengthAdjust="spacingAndGlyphs">2 Low FAM111B + High Th2</text>
<path d="M223.7 227.4h3.4" stroke="#f4a02c" stroke-width="1.3"/>
<text x="229" y="228.65" font-size="3.5" fill="#111" stroke="#111" stroke-width="0.09" textLength="49.35" lengthAdjust="spacingAndGlyphs">3 High FAM111B + Low Th2</text>
<path d="M223.7 231.15h3.4" stroke="#a8284a" stroke-width="1.3"/>
<text x="229" y="232.4" font-size="3.5" fill="#111" stroke="#111" stroke-width="0.09" textLength="50.23" lengthAdjust="spacingAndGlyphs">4 High FAM111B + High Th2</text>
<path d="M320.6 178.2H390V236.4" fill="none" stroke="#aaa" stroke-width="0.45"/>
<path d="M320.6 178.2V236.4H390" fill="none" stroke="#666" stroke-width="0.45"/>
<path d="M320.6 234.24h-1.2" stroke="#555" stroke-width="0.35"/>
<text x="318" y="234.24" font-size="3.7" fill="#222" text-anchor="middle" stroke="#222" stroke-width="0.04" textLength="5.14" lengthAdjust="spacingAndGlyphs" transform="rotate(-90 318 234.24)">0.0</text>
<path d="M320.6 223.47h-1.2" stroke="#555" stroke-width="0.35"/>
<text x="318" y="223.47" font-size="3.7" fill="#222" text-anchor="middle" stroke="#222" stroke-width="0.04" textLength="5.14" lengthAdjust="spacingAndGlyphs" transform="rotate(-90 318 223.47)">0.2</text>
<path d="M320.6 212.69h-1.2" stroke="#555" stroke-width="0.35"/>
<text x="318" y="212.69" font-size="3.7" fill="#222" text-anchor="middle" stroke="#222" stroke-width="0.04" textLength="5.14" lengthAdjust="spacingAndGlyphs" transform="rotate(-90 318 212.69)">0.4</text>
<path d="M320.6 201.91h-1.2" stroke="#555" stroke-width="0.35"/>
<text x="318" y="201.91" font-size="3.7" fill="#222" text-anchor="middle" stroke="#222" stroke-width="0.04" textLength="5.14" lengthAdjust="spacingAndGlyphs" transform="rotate(-90 318 201.91)">0.6</text>
<path d="M320.6 191.13h-1.2" stroke="#555" stroke-width="0.35"/>
<text x="318" y="191.13" font-size="3.7" fill="#222" text-anchor="middle" stroke="#222" stroke-width="0.04" textLength="5.14" lengthAdjust="spacingAndGlyphs" transform="rotate(-90 318 191.13)">0.8</text>
<path d="M320.6 180.36h-1.2" stroke="#555" stroke-width="0.35"/>
<text x="318" y="180.36" font-size="3.7" fill="#222" text-anchor="middle" stroke="#222" stroke-width="0.04" textLength="5.14" lengthAdjust="spacingAndGlyphs" transform="rotate(-90 318 180.36)">1.0</text>
<path d="M323.17 236.4v1.2" stroke="#555" stroke-width="0.35"/>
<text x="323.17" y="241.4" font-size="3.9" fill="#222" text-anchor="middle" stroke="#222" stroke-width="0.04" textLength="2.17" lengthAdjust="spacingAndGlyphs">0</text>
<path d="M337.77 236.4v1.2" stroke="#555" stroke-width="0.35"/>
<text x="337.77" y="241.4" font-size="3.9" fill="#222" text-anchor="middle" stroke="#222" stroke-width="0.04" textLength="4.34" lengthAdjust="spacingAndGlyphs">20</text>
<path d="M352.38 236.4v1.2" stroke="#555" stroke-width="0.35"/>
<text x="352.38" y="241.4" font-size="3.9" fill="#222" text-anchor="middle" stroke="#222" stroke-width="0.04" textLength="4.34" lengthAdjust="spacingAndGlyphs">40</text>
<path d="M366.98 236.4v1.2" stroke="#555" stroke-width="0.35"/>
<text x="366.98" y="241.4" font-size="3.9" fill="#222" text-anchor="middle" stroke="#222" stroke-width="0.04" textLength="4.34" lengthAdjust="spacingAndGlyphs">60</text>
<path d="M381.59 236.4v1.2" stroke="#555" stroke-width="0.35"/>
<text x="381.59" y="241.4" font-size="3.9" fill="#222" text-anchor="middle" stroke="#222" stroke-width="0.04" textLength="4.34" lengthAdjust="spacingAndGlyphs">80</text>
<text x="355.3" y="247" font-size="3.95" fill="#1a1a1a" text-anchor="middle" stroke="#1a1a1a" stroke-width="0.04" textLength="48.58" lengthAdjust="spacingAndGlyphs">Time to Follow-Up (months)</text>
<text x="312.5" y="207.8" font-size="4.1" fill="#1a1a1a" text-anchor="middle" stroke="#1a1a1a" stroke-width="0.04" textLength="36.23" lengthAdjust="spacingAndGlyphs" transform="rotate(-90 312.5 207.8)">Cumulative Survival</text>
<text x="355.3" y="176.9" font-size="4.1" fill="#111" text-anchor="middle" stroke="#111" stroke-width="0.04" textLength="9.11" lengthAdjust="spacingAndGlyphs">UVM</text>
<text x="303" y="169.5" font-size="4.2" fill="#444" text-anchor="middle" stroke="#444" stroke-width="0.04" textLength="3.27" lengthAdjust="spacingAndGlyphs">G</text>
<path d="M323.17 180.36H327.14V180.36H338.51V180.48H338.66V180.85H338.7V181.75H338.92V181.97H338.98V182.51H340.98V182.79H342.3V183.05H343.9V183.39H343.92V183.68H343.95V184.28H344.12V184.56H344.45V184.89H344.79V185.74H356.2V185.74H356.84V185.78H356.84V187.57H356.86V188.5H356.89V189.78H356.93V189.79H357V189.81H357.03V190.44H357.04V191.65H357.04V191.68H357.04V192.03H357.11V192.15H357.11V192.9H357.13V193.12H357.14V193.59H357.15V193.96H357.18V194.25H357.2V195.11H357.3V195.19H357.32V195.24H357.37V195.54H357.42V196.31H357.43V196.64H357.43V196.85H357.46V197.77H357.48V198.01H357.48V198.14H359.47V198.14H386.33V198.14" fill="none" stroke="#2b4a9a" stroke-width="0.9"/>
<path d="M323.17 180.36H323.32V180.97H323.44V181.62H324.11V181.89H325.03V182.52H325.46V183.24H326.03V183.34H326.03V183.94H326.18V184.13H326.55V184.29H326.86V184.3H327.55V184.95H327.76V185.74H332.1V185.74H333.05V186.29H333.13V187.64H333.35V187.79H333.38V188.61H333.59V189.46H333.91V189.61H334.06V189.63H334.09V190.01H334.12V190.09H334.17V190.34H334.18V190.66H334.2V191.44H334.24V191.67H335.62V191.67H337.58V191.96H337.62V191.97H337.68V192.97H337.87V194.68H337.95V195.06H337.96V195.15H338.03V195.53H338.04V195.95H338.05V196.3H338.05V196.45H338.13V196.93H338.17V197.38H338.18V197.6H338.46V198.57H339.11V198.66H339.37V199.33H340.63V199.48H342.86V199.49H343.1V200.29H347.4V200.29H351.28V200.29" fill="none" stroke="#6ab4e4" stroke-width="0.9"/>
<path d="M323.17 180.36H332.08V180.36H341.71V182.04H342.07V182.12H342.12V183.5H342.29V183.82H342.33V183.97H342.42V184.37H342.47V184.9H342.58V185.6H342.58V185.62H342.78V185.63H342.81V185.74H351.16V185.74H361.9V186.01H361.91V186.51H361.92V188.93H361.94V189.36H361.95V189.82H361.97V189.88H361.97V189.89H361.98V190.08H361.98V190.09H361.99V190.38H361.99V190.38H362.03V190.98H362.04V191.47H362.05V192.81H362.08V192.84H362.08V192.84H362.08V192.98H362.09V193.05H362.09V193.07H362.1V193.55H362.1V193.91H362.11V194.86H362.11V195.48H362.11V196.31H362.12V196.58H362.13V196.96H362.13V198.28H362.14V199.05H362.18V199.27H362.18V200.72H362.2V200.73H362.2V200.77H362.23V200.88H362.23V201.01H362.23V202.95H362.23V202.99H369.63V202.99H386.7V202.99" fill="none" stroke="#f4a02c" stroke-width="0.9"/>
<path d="M323.17 180.36H323.29V181.01H323.91V181.44H324.03V181.83H324.41V182.21H324.48V182.26H324.78V182.39H324.93V183.38H325.11V183.76H325.12V184.16H325.19V184.2H325.26V184.35H325.36V185.28H326.09V186.28H326.49V186.46H327.14V187.19H328.5V187.25H329.57V187.54H329.77V188.09H329.85V188.98H330.51V189.07H330.65V189.49H330.71V189.61H330.83V190.3H331.22V190.7H331.35V192.38H331.64V192.5H332.12V192.93H332.56V193.06H332.82V193.33H332.93V194.37H333.53V195.36H334.51V195.47H334.56V196.52H334.88V196.66H335.33V196.93H335.47V197.06H335.59V197.63H335.87V197.94H336.6V198.19H337.06V198.34H337.53V198.9H337.79V199.76H339.91V200.15H339.98V200.3H341.75V200.88H341.8V201.23H342.04V202.11H342.77V203.1H342.82V203.5H342.94V203.53H344.3V203.58H344.54V203.61H344.91V204.55H345.3V205.51H345.32V205.84H346.27V206.56H346.49V206.63H347.16V207.3H347.97V207.38H348.2V207.66H348.27V208.01H348.47V210.05H349.07V210.13H349.52V210.25H349.71V210.48H350.06V211.15H350.88V211.61H351.72V212.82H351.72V213.41H351.77V213.73H351.94V214.29H352.16V214.42H352.42V214.85H353.11V214.95H353.85V215.38H354.01V215.65H354.25V215.82H354.26V217.11H354.6V217.38H354.93V217.4H355.04V218.18H355.13V218.3H355.16V219.16H355.23V219.16H355.27V219.41H355.58V219.48H355.71V219.73H355.71V220.29H355.78V220.83H355.79V220.84H355.84V221.3H355.99V221.57H356.16V221.87H356.22V222.06H356.39V224.54H356.95V225.2H357.18V226.21H357.33V227.04H357.41V227.35H357.78V227.94H357.79V228.04H357.85V228.15H357.86V228.32H358.13V228.32H358.95V228.32" fill="none" stroke="#a8284a" stroke-width="0.9"/>
<text x="340.92" y="182.9" font-size="3.8" fill="#111" stroke="#111" stroke-width="0.09" textLength="47.88" lengthAdjust="spacingAndGlyphs">2 vs 1: HR=7.55, P = 0.0354</text>
<text x="340.92" y="188" font-size="3.8" fill="#111" stroke="#111" stroke-width="0.09" textLength="47.6" lengthAdjust="spacingAndGlyphs">4 vs 3: HR=11.3, P = 0.0186</text>
<path d="M322.4 221.5h3.4" stroke="#2b4a9a" stroke-width="1.3"/>
<text x="327.7" y="222.75" font-size="3.5" fill="#111" stroke="#111" stroke-width="0.09" textLength="48.46" lengthAdjust="spacingAndGlyphs">1 Low FAM111B + Low Th2</text>
<path d="M322.4 225.25h3.4" stroke="#6ab4e4" stroke-width="1.3"/>
<text x="327.7" y="226.5" font-size="3.5" fill="#111" stroke="#111" stroke-width="0.09" textLength="49.35" lengthAdjust="spacingAndGlyphs">2 Low FAM111B + High Th2</text>
<path d="M322.4 229h3.4" stroke="#f4a02c" stroke-width="1.3"/>
<text x="327.7" y="230.25" font-size="3.5" fill="#111" stroke="#111" stroke-width="0.09" textLength="49.35" lengthAdjust="spacingAndGlyphs">3 High FAM111B + Low Th2</text>
<path d="M322.4 232.75h3.4" stroke="#a8284a" stroke-width="1.3"/>
<text x="327.7" y="234" font-size="3.5" fill="#111" stroke="#111" stroke-width="0.09" textLength="50.23" lengthAdjust="spacingAndGlyphs">4 High FAM111B + High Th2</text>
<path d="M21.8 261.4H90.9V318.8" fill="none" stroke="#aaa" stroke-width="0.45"/>
<path d="M21.8 261.4V318.8H90.9" fill="none" stroke="#666" stroke-width="0.45"/>
<path d="M21.8 316.67h-1.2" stroke="#555" stroke-width="0.35"/>
<text x="19.2" y="316.67" font-size="3.7" fill="#222" text-anchor="middle" stroke="#222" stroke-width="0.04" textLength="5.14" lengthAdjust="spacingAndGlyphs" transform="rotate(-90 19.2 316.67)">0.0</text>
<path d="M21.8 306.04h-1.2" stroke="#555" stroke-width="0.35"/>
<text x="19.2" y="306.04" font-size="3.7" fill="#222" text-anchor="middle" stroke="#222" stroke-width="0.04" textLength="5.14" lengthAdjust="spacingAndGlyphs" transform="rotate(-90 19.2 306.04)">0.2</text>
<path d="M21.8 295.41h-1.2" stroke="#555" stroke-width="0.35"/>
<text x="19.2" y="295.41" font-size="3.7" fill="#222" text-anchor="middle" stroke="#222" stroke-width="0.04" textLength="5.14" lengthAdjust="spacingAndGlyphs" transform="rotate(-90 19.2 295.41)">0.4</text>
<path d="M21.8 284.79h-1.2" stroke="#555" stroke-width="0.35"/>
<text x="19.2" y="284.79" font-size="3.7" fill="#222" text-anchor="middle" stroke="#222" stroke-width="0.04" textLength="5.14" lengthAdjust="spacingAndGlyphs" transform="rotate(-90 19.2 284.79)">0.6</text>
<path d="M21.8 274.16h-1.2" stroke="#555" stroke-width="0.35"/>
<text x="19.2" y="274.16" font-size="3.7" fill="#222" text-anchor="middle" stroke="#222" stroke-width="0.04" textLength="5.14" lengthAdjust="spacingAndGlyphs" transform="rotate(-90 19.2 274.16)">0.8</text>
<path d="M21.8 263.53h-1.2" stroke="#555" stroke-width="0.35"/>
<text x="19.2" y="263.53" font-size="3.7" fill="#222" text-anchor="middle" stroke="#222" stroke-width="0.04" textLength="5.14" lengthAdjust="spacingAndGlyphs" transform="rotate(-90 19.2 263.53)">1.0</text>
<path d="M24.36 318.8v1.2" stroke="#555" stroke-width="0.35"/>
<text x="24.36" y="323.8" font-size="3.9" fill="#222" text-anchor="middle" stroke="#222" stroke-width="0.04" textLength="2.17" lengthAdjust="spacingAndGlyphs">0</text>
<path d="M41.75 318.8v1.2" stroke="#555" stroke-width="0.35"/>
<text x="41.75" y="323.8" font-size="3.9" fill="#222" text-anchor="middle" stroke="#222" stroke-width="0.04" textLength="4.34" lengthAdjust="spacingAndGlyphs">50</text>
<path d="M59.13 318.8v1.2" stroke="#555" stroke-width="0.35"/>
<text x="59.13" y="323.8" font-size="3.9" fill="#222" text-anchor="middle" stroke="#222" stroke-width="0.04" textLength="6.51" lengthAdjust="spacingAndGlyphs">100</text>
<path d="M76.52 318.8v1.2" stroke="#555" stroke-width="0.35"/>
<text x="76.52" y="323.8" font-size="3.9" fill="#222" text-anchor="middle" stroke="#222" stroke-width="0.04" textLength="6.51" lengthAdjust="spacingAndGlyphs">150</text>
<text x="56.35" y="329.4" font-size="3.95" fill="#1a1a1a" text-anchor="middle" stroke="#1a1a1a" stroke-width="0.04" textLength="48.58" lengthAdjust="spacingAndGlyphs">Time to Follow-Up (months)</text>
<text x="13.7" y="290.6" font-size="4.1" fill="#1a1a1a" text-anchor="middle" stroke="#1a1a1a" stroke-width="0.04" textLength="36.23" lengthAdjust="spacingAndGlyphs" transform="rotate(-90 13.7 290.6)">Cumulative Survival</text>
<text x="56.35" y="260.1" font-size="4.1" fill="#111" text-anchor="middle" stroke="#111" stroke-width="0.04" textLength="11.39" lengthAdjust="spacingAndGlyphs">BRCA</text>
<text x="6" y="253" font-size="4.2" fill="#444" text-anchor="middle" stroke="#444" stroke-width="0.04" textLength="3.03" lengthAdjust="spacingAndGlyphs">H</text>
<path d="M24.36 263.53H25.47V263.98H25.49V264.53H25.61V264.55H25.81V264.83H26.04V265.67H29.75V265.83H30.83V266.25H31.6V267.25H33.6V267.61H34.44V269.12H34.59V269.6H35.64V269.83H35.93V270.02H36.87V270.23H37.22V270.38H38.27V270.7H38.33V270.84H39.08V272.03H40.08V272.81H40.7V273.74H42.16V274.23H42.21V274.43H43.27V274.69H43.3V275.24H43.54V275.67H43.93V275.87H45.3V275.97H45.5V276.81H47.72V277.14H48.11V278.17H48.28V278.23H48.62V278.68H48.97V279.96H49.04V280.01H49.43V280.03H49.45V280.45H50.74V281.06H51.53V281.07H51.94V281.14H52.07V282.02H52.32V282.31H52.84V282.78H53.15V283.63H53.31V284.43H54.28V284.49H55.14V285.32H55.54V285.37H55.65V285.67H55.71V286.36H56.46V286.68H57V286.75H57.04V287.08H57.15V287.71H57.64V288H57.72V289.8H57.89V290.1H58.11V291.03H58.19V291.11H58.29V291.27H58.3V292.26H59.03V292.38H59.7V292.52H59.77V292.67H60.35V293.36H60.4V294.35H61.38V294.78H61.75V295.14H61.76V295.92H62.64V296.42H63.07V296.74H63.35V297.08H64.14V297.63H64.77V297.82H65.45V298.02H65.59V299.14H66.4V299.45H66.77V299.81H67.84V300.44H68.09V300.73H69.27V300.73H72.35V300.73" fill="none" stroke="#2b4a9a" stroke-width="0.9"/>
<path d="M24.36 263.53H27.63V263.63H29.28V264.49H29.81V264.54H29.83V265.01H31.11V265.8H33.31V265.87H34.23V266.71H35.52V266.74H35.94V267.34H37.08V267.38H37.37V267.51H37.73V269.39H37.8V269.82H37.91V270.41H39.98V270.73H40.49V270.75H41.49V271.33H41.88V272.03H44.11V272.65H44.24V273.18H44.58V273.21H44.92V273.22H45.05V273.45H45.56V273.5H46.64V274.79H46.98V275.18H48.26V275.19H48.5V276.81H48.79V277.14H48.89V278.04H49.24V278.31H49.49V278.53H49.6V278.55H50.17V278.66H50.31V280.18H50.47V280.22H50.62V280.91H51V281.23H51.06V282.32H52.07V282.72H52.49V283.05H53.24V283.44H53.7V283.72H55.5V283.72H61.95V283.76H61.97V284.07H62.01V284.32H62.05V284.87H62.12V284.98H62.18V285.46H62.2V285.54H62.31V285.7H62.38V286.83H62.39V287H62.8V287.14H62.81V287.45H62.91V287.72H63.01V287.78H63.09V289.9H63.15V290.7H63.16V291.69H64.87V291.69H71V292.15H71.23V293.19H71.41V293.37H71.59V293.66H71.63V293.67H71.64V294.32H71.64V294.79H71.69V294.9H71.81V295.31H71.83V295.64H71.83V297.07H71.85V297.52H71.95V298.32H71.96V298.64H72.04V298.88H72.19V299.13H72.21V299.26H72.24V300.51H72.34V300.73H77.53V300.73H81.39V300.73" fill="none" stroke="#6ab4e4" stroke-width="0.9"/>
<path d="M24.36 263.53H24.38V263.65H24.99V263.72H25V264.08H26.68V264.3H27.89V265.08H29.25V265.96H30.3V266.11H30.35V267.13H32.68V267.78H33.5V267.95H33.98V270.67H35.23V271.15H35.38V271.38H35.78V271.95H37.48V272.04H37.69V272.31H38.15V272.64H38.56V273.04H38.78V273.36H38.96V273.7H39.09V273.8H40.21V274.01H40.63V274.16H41.27V274.57H41.61V274.92H43.16V275.37H43.2V276.02H43.61V276.79H45.61V276.81H46.93V276.94H47.33V277.82H47.78V278.47H48.22V278.86H48.42V279.42H48.82V279.43H50.23V279.57H50.51V279.58H51.82V280.4H52.29V281.08H52.36V282.13H52.87V283.69H53.71V283.73H53.81V283.81H54.11V284.36H54.58V284.77H54.62V285.01H54.73V285.19H55.23V285.29H55.36V285.59H56.19V285.98H57.71V287.44H58.67V288.3H59.79V288.84H59.82V289.01H60.38V289.04H61.97V289.38H61.98V289.81H62.05V291.58H62.84V291.88H62.9V291.98H62.9V292.05H62.95V292.24H63.12V292.76H66.27V292.76H68.41V293.73H68.43V293.93H68.43V294H68.77V294.01H68.94V294.68H68.95V294.75H68.99V294.8H69.01V295.04H69.04V295.44H69.07V296.25H69.13V296.67H69.21V296.68H69.26V297.72H69.32V298.57H69.35V298.73H69.4V300.2H79.31V300.2H88.34V300.2" fill="none" stroke="#f4a02c" stroke-width="0.9"/>
<path d="M24.36 263.53H24.66V264.93H26.43V265.02H28.39V265.27H29.45V265.97H31.31V266.1H32.36V266.18H35.08V266.29H35.57V266.91H37.02V267.56H39.12V268.01H39.49V268.14H41.14V268.78H42.67V269.37H45.23V270.09H45.54V270.11H46.13V270.97H46.88V271.25H46.88V271.53H46.92V272.03H48.51V272.2H48.57V272.56H54.77V272.78H56.3V273.09H57.34V273.8H58.34V274.65H59.12V275.35H59.66V275.45H61.18V275.68H61.71V275.75H63.89V275.75H64.42V276.1H64.42V276.26H65.02V276.31H65.04V278.03H65.04V278.2H65.16V279.44H65.25V279.54H65.54V280.35H65.75V280.49H66.56V280.57H66.95V281.06H67.08V281.79H67.22V282.51H67.38V282.73H67.51V283.35H67.53V283.7H67.53V284.2H67.54V284.85H67.55V285.24H67.57V285.55H67.64V285.6H67.78V286.61H67.97V286.95H67.98V287.1H68.14V287.44H70.74V287.44H71.03V287.55H71.05V288.63H71.07V290.15H71.07V290.3H71.14V291.15H71.43V291.56H71.46V291.65H71.52V291.87H71.88V292.05H72.2V292.38H72.22V292.59H72.3V292.76H73.36V292.76H73.72V293.61H73.82V294.47H73.84V295.15H73.95V295.83H74.01V296.41H74.03V296.49H74.2V296.57H74.28V298.02H74.29V298.34H74.34V298.41H74.35V298.82H74.58V298.91H74.61V299.15H74.66V299.21H74.79V299.77H74.81V300.17H74.83V300.73H76.95V300.73H81.39V300.73" fill="none" stroke="#a8284a" stroke-width="0.9"/>
<text x="39.71" y="266.1" font-size="3.8" fill="#111" stroke="#111" stroke-width="0.09" textLength="49.99" lengthAdjust="spacingAndGlyphs">2 vs 1: HR=0.610, P = 0.0163</text>
<text x="39.71" y="271.2" font-size="3.8" fill="#111" stroke="#111" stroke-width="0.09" textLength="49.99" lengthAdjust="spacingAndGlyphs">4 vs 3: HR=0.564, P = 0.0132</text>
<path d="M23.6 303.9h3.4" stroke="#2b4a9a" stroke-width="1.3"/>
<text x="28.9" y="305.15" font-size="3.5" fill="#111" stroke="#111" stroke-width="0.09" textLength="50.67" lengthAdjust="spacingAndGlyphs">1 Low FAM111B + Low NK T</text>
<path d="M23.6 307.65h3.4" stroke="#6ab4e4" stroke-width="1.3"/>
<text x="28.9" y="308.9" font-size="3.5" fill="#111" stroke="#111" stroke-width="0.09" textLength="51.56" lengthAdjust="spacingAndGlyphs">2 Low FAM111B + High NK T</text>
<path d="M23.6 311.4h3.4" stroke="#f4a02c" stroke-width="1.3"/>
<text x="28.9" y="312.65" font-size="3.5" fill="#111" stroke="#111" stroke-width="0.09" textLength="51.56" lengthAdjust="spacingAndGlyphs">3 High FAM111B + Low NK T</text>
<path d="M23.6 315.15h3.4" stroke="#a8284a" stroke-width="1.3"/>
<text x="28.9" y="316.4" font-size="3.5" fill="#111" stroke="#111" stroke-width="0.09" textLength="52.45" lengthAdjust="spacingAndGlyphs">4 High FAM111B + High NK T</text>
<path d="M117.2 261.7H184.5V318.8" fill="none" stroke="#aaa" stroke-width="0.45"/>
<path d="M117.2 261.7V318.8H184.5" fill="none" stroke="#666" stroke-width="0.45"/>
<path d="M117.2 316.69h-1.2" stroke="#555" stroke-width="0.35"/>
<text x="114.6" y="316.69" font-size="3.7" fill="#222" text-anchor="middle" stroke="#222" stroke-width="0.04" textLength="5.14" lengthAdjust="spacingAndGlyphs" transform="rotate(-90 114.6 316.69)">0.0</text>
<path d="M117.2 306.11h-1.2" stroke="#555" stroke-width="0.35"/>
<text x="114.6" y="306.11" font-size="3.7" fill="#222" text-anchor="middle" stroke="#222" stroke-width="0.04" textLength="5.14" lengthAdjust="spacingAndGlyphs" transform="rotate(-90 114.6 306.11)">0.2</text>
<path d="M117.2 295.54h-1.2" stroke="#555" stroke-width="0.35"/>
<text x="114.6" y="295.54" font-size="3.7" fill="#222" text-anchor="middle" stroke="#222" stroke-width="0.04" textLength="5.14" lengthAdjust="spacingAndGlyphs" transform="rotate(-90 114.6 295.54)">0.4</text>
<path d="M117.2 284.96h-1.2" stroke="#555" stroke-width="0.35"/>
<text x="114.6" y="284.96" font-size="3.7" fill="#222" text-anchor="middle" stroke="#222" stroke-width="0.04" textLength="5.14" lengthAdjust="spacingAndGlyphs" transform="rotate(-90 114.6 284.96)">0.6</text>
<path d="M117.2 274.39h-1.2" stroke="#555" stroke-width="0.35"/>
<text x="114.6" y="274.39" font-size="3.7" fill="#222" text-anchor="middle" stroke="#222" stroke-width="0.04" textLength="5.14" lengthAdjust="spacingAndGlyphs" transform="rotate(-90 114.6 274.39)">0.8</text>
<path d="M117.2 263.81h-1.2" stroke="#555" stroke-width="0.35"/>
<text x="114.6" y="263.81" font-size="3.7" fill="#222" text-anchor="middle" stroke="#222" stroke-width="0.04" textLength="5.14" lengthAdjust="spacingAndGlyphs" transform="rotate(-90 114.6 263.81)">1.0</text>
<path d="M119.69 318.8v1.2" stroke="#555" stroke-width="0.35"/>
<text x="119.69" y="323.8" font-size="3.9" fill="#222" text-anchor="middle" stroke="#222" stroke-width="0.04" textLength="2.17" lengthAdjust="spacingAndGlyphs">0</text>
<path d="M139.41 318.8v1.2" stroke="#555" stroke-width="0.35"/>
<text x="139.41" y="323.8" font-size="3.9" fill="#222" text-anchor="middle" stroke="#222" stroke-width="0.04" textLength="4.34" lengthAdjust="spacingAndGlyphs">50</text>
<path d="M159.13 318.8v1.2" stroke="#555" stroke-width="0.35"/>
<text x="159.13" y="323.8" font-size="3.9" fill="#222" text-anchor="middle" stroke="#222" stroke-width="0.04" textLength="6.51" lengthAdjust="spacingAndGlyphs">100</text>
<path d="M178.85 318.8v1.2" stroke="#555" stroke-width="0.35"/>
<text x="178.85" y="323.8" font-size="3.9" fill="#222" text-anchor="middle" stroke="#222" stroke-width="0.04" textLength="6.51" lengthAdjust="spacingAndGlyphs">150</text>
<text x="150.85" y="329.4" font-size="3.95" fill="#1a1a1a" text-anchor="middle" stroke="#1a1a1a" stroke-width="0.04" textLength="48.58" lengthAdjust="spacingAndGlyphs">Time to Follow-Up (months)</text>
<text x="109.1" y="290.75" font-size="4.1" fill="#1a1a1a" text-anchor="middle" stroke="#1a1a1a" stroke-width="0.04" textLength="36.23" lengthAdjust="spacingAndGlyphs" transform="rotate(-90 109.1 290.75)">Cumulative Survival</text>
<text x="150.85" y="260.4" font-size="4.1" fill="#111" text-anchor="middle" stroke="#111" stroke-width="0.04" textLength="23.47" lengthAdjust="spacingAndGlyphs">BRCA-LumB</text>
<text x="102.3" y="252.8" font-size="4.2" fill="#444" text-anchor="middle" stroke="#444" stroke-width="0.04" textLength="1.17" lengthAdjust="spacingAndGlyphs">I</text>
<path d="M119.69 263.81H121.71V263.94H123.42V264.61H129.27V264.68H130.36V264.89H131.02V265.49H131.19V266.19H131.73V266.58H131.98V266.8H132.31V267.79H132.35V268.31H132.6V268.37H132.65V269.1H133.54V270.06H133.81V270.47H134.6V270.76H134.6V271.39H134.61V271.63H135.19V271.64H135.27V272.27H136.08V272.73H136.23V272.8H136.89V273.24H137.04V274.07H137.82V274.33H137.86V274.34H138.73V275.04H138.75V275.8H138.93V276.78H139.19V277.03H139.63V277.69H140.02V277.86H140.12V278.2H140.71V279.43H141.08V279.64H141.33V280.14H141.52V280.68H141.67V280.82H141.71V281.12H141.91V281.54H141.93V282.32H142.28V282.49H142.29V283.37H142.57V285.08H142.76V285.23H142.79V285.57H143.56V285.97H145.88V285.99H145.97V286.02H146.3V286.32H146.83V286.35H147.1V287.81H147.36V287.88H147.46V287.88H147.84V288.25H147.92V289.45H148.65V290.07H148.92V290.25H151.63V290.98H151.64V291.99H151.81V292.26H152.34V292.35H152.86V292.42H153.01V292.89H157.41V292.89H158.01V293.38H158.07V293.66H158.09V293.84H158.34V293.94H158.37V294.28H158.46V294.34H158.58V294.66H158.76V296.12H158.94V296.82H158.95V297.03H158.98V298.21H159.04V298.34H159.19V298.71H161.76V298.71H172.42V298.75H172.42V299.49H172.53V299.5H172.54V300.33H172.54V300.92H172.55V301.3H172.58V301.33H172.64V301.37H172.64V301.75H172.64V302.67H172.65V303.26H172.68V303.57H172.71V304.21H172.73V304.96H172.78V305.11H172.79V305.77H172.81V306.07H172.82V306.55H172.83V306.96H172.86V307.4H172.87V307.87H172.89V309.64H172.91V309.82H172.91V310.4H172.92V311.14H172.92V311.26H172.93V311.4H172.94V311.4" fill="none" stroke="#2b4a9a" stroke-width="0.9"/>
<path d="M119.69 263.81H124.12V264.15H124.64V264.61H126.81V265.04H126.88V265.93H127.66V266.39H129.12V266.44H129.2V267.15H129.6V267.38H130.37V267.89H130.41V268.04H131.95V268.16H132.11V268.18H132.29V268.57H132.3V269.38H132.39V271.09H133.67V271.18H135.36V271.22H138.74V271.22H151.31V271.46H151.44V271.51H151.47V271.76H151.54V272.01H151.65V272.04H151.68V272.09H151.71V272.68H151.82V272.95H151.89V273.06H152.04V273.52H152.12V274.02H152.24V275.7H152.37V276.38H152.38V276.67H152.44V277.08H152.49V277.22H152.51V277.29H152.57V278H152.62V279.47H152.68V281.34H152.7V281.89H152.98V281.89H152.98V281.93H153.17V282.32H164.22V282.32H172.15V283.19H172.17V283.55H172.18V285.05H172.19V285.67H172.19V286.25H172.2V286.37H172.21V286.8H172.23V287.21H172.23V287.75H172.24V288.02H172.25V288.06H172.25V288.3H172.27V288.59H172.3V288.62H172.32V288.66H172.33V290.23H172.34V291.15H172.35V291.37H172.35V291.5H172.37V292.79H172.38V293.3H172.39V293.73H172.4V293.79H172.43V293.83H172.44V293.86H172.45V294.22H172.5V294.33H172.5V294.53H172.51V294.71H172.51V295.5H172.51V295.77H172.52V296.34H172.52V296.43H172.53V296.68H172.54V297.82H172.54V298.28H172.56V298.5H172.56V298.59H172.57V299.33H172.57V300.17H172.58V300.26H172.59V300.37H172.59V301.4H172.61V302.76H172.64V303.64H172.64V303.84H172.64V304.26H172.66V304.57H172.66V305.7H172.67V305.88H172.68V305.9H172.68V306.93H172.69V307.87H172.7V307.94H172.71V308.47H172.71V308.89H172.72V309.19H172.72V309.32H172.73V310.56H172.73V311.23H172.73V311.4H172.74V311.4" fill="none" stroke="#6ab4e4" stroke-width="0.9"/>
<path d="M119.69 263.81H120.53V264.11H122.1V264.55H122.47V265.13H125.53V265.4H129.14V265.61H129.15V266.3H129.33V267.21H129.45V267.54H129.53V267.77H129.83V268.17H130.65V268.32H131.58V269.1H131.9V269.11H132.02V269.85H132.82V269.92H133.04V270.23H133.14V270.8H133.17V271.3H133.37V271.95H133.49V273.49H133.7V273.94H133.93V274.08H134.16V274.32H134.16V274.71H134.18V275.15H134.24V275.25H134.25V275.97H134.42V276.04H134.76V276.99H134.82V277.5H135.09V277.94H135.56V278.09H135.98V278.62H139.53V278.62H139.54V278.97H140.36V279.84H140.63V280.66H141.14V281.76H141.49V282.1H141.67V282.25H141.68V282.36H141.88V282.77H142.01V283.38H142.82V283.95H142.99V284.38H144.05V284.6H144.09V284.78H144.18V285.94H144.55V286H145.48V286.1H145.63V286.85H145.86V287.61H147.11V287.94H148.14V288.27H148.68V288.68H148.72V288.74H149.8V289.81H149.97V290.25H150.1V290.46H150.14V290.58H151.07V291.59H151.18V291.97H151.58V292.57H151.92V293.16H152.28V293.36H152.31V293.95H152.78V293.96H152.79V294.29H152.87V294.3H152.95V294.99H153.55V295.09H153.71V296.62H153.98V297.12H159.56V297.12H170.98V297.89H170.98V298.39H171.05V299.64H171.06V301.05H171.21V301.29H171.24V301.67H171.25V301.98H171.27V302.58H171.29V303.15H171.29V303.95H171.34V304.79H171.35V304.86H171.38V304.98H171.44V305.37H171.46V305.61H171.47V306.3H171.47V306.35H171.49V306.43H171.55V306.64H171.73V306.64H179.2V306.64H182.01V306.64" fill="none" stroke="#f4a02c" stroke-width="0.9"/>
<path d="M119.69 263.81H120.02V263.81H130.69V263.91H130.78V263.92H130.87V264.33H130.95V264.79H131.45V265.93H145.37V265.93H151.26V265.94H151.35V267.23H151.38V267.71H151.43V268.18H151.44V269.63H151.5V269.77H151.52V270.39H151.55V270.74H151.56V270.75H151.56V271.83H151.59V272.39H151.6V272.46H151.62V272.6H151.7V272.9H151.77V274.76H151.83V274.77H151.86V274.93H151.96V275.34H151.97V275.81H152.03V276H152.06V276.73H152.29V276.91H152.31V276.93H152.35V277.1H152.35V277.35H152.42V277.67H152.43V278.63H152.44V279.15H155.4V279.15H176.09V279.15" fill="none" stroke="#a8284a" stroke-width="0.9"/>
<text x="135.42" y="266.4" font-size="3.8" fill="#111" stroke="#111" stroke-width="0.09" textLength="47.88" lengthAdjust="spacingAndGlyphs">2 vs 1: HR=0.579, P = 0.202</text>
<text x="135.42" y="271.5" font-size="3.8" fill="#111" stroke="#111" stroke-width="0.09" textLength="47.88" lengthAdjust="spacingAndGlyphs">4 vs 3: HR=0.271, P = 0.018</text>
<path d="M119 303.9h3.4" stroke="#2b4a9a" stroke-width="1.3"/>
<text x="124.3" y="305.15" font-size="3.5" fill="#111" stroke="#111" stroke-width="0.09" textLength="50.67" lengthAdjust="spacingAndGlyphs">1 Low FAM111B + Low NK T</text>
<path d="M119 307.65h3.4" stroke="#6ab4e4" stroke-width="1.3"/>
<text x="124.3" y="308.9" font-size="3.5" fill="#111" stroke="#111" stroke-width="0.09" textLength="51.56" lengthAdjust="spacingAndGlyphs">2 Low FAM111B + High NK T</text>
<path d="M119 311.4h3.4" stroke="#f4a02c" stroke-width="1.3"/>
<text x="124.3" y="312.65" font-size="3.5" fill="#111" stroke="#111" stroke-width="0.09" textLength="51.56" lengthAdjust="spacingAndGlyphs">3 High FAM111B + Low NK T</text>
<path d="M119 315.15h3.4" stroke="#a8284a" stroke-width="1.3"/>
<text x="124.3" y="316.4" font-size="3.5" fill="#111" stroke="#111" stroke-width="0.09" textLength="52.45" lengthAdjust="spacingAndGlyphs">4 High FAM111B + High NK T</text>
<path d="M222.3 261.7H290V318.8" fill="none" stroke="#aaa" stroke-width="0.45"/>
<path d="M222.3 261.7V318.8H290" fill="none" stroke="#666" stroke-width="0.45"/>
<path d="M222.3 316.69h-1.2" stroke="#555" stroke-width="0.35"/>
<text x="219.7" y="316.69" font-size="3.7" fill="#222" text-anchor="middle" stroke="#222" stroke-width="0.04" textLength="5.14" lengthAdjust="spacingAndGlyphs" transform="rotate(-90 219.7 316.69)">0.0</text>
<path d="M222.3 306.11h-1.2" stroke="#555" stroke-width="0.35"/>
<text x="219.7" y="306.11" font-size="3.7" fill="#222" text-anchor="middle" stroke="#222" stroke-width="0.04" textLength="5.14" lengthAdjust="spacingAndGlyphs" transform="rotate(-90 219.7 306.11)">0.2</text>
<path d="M222.3 295.54h-1.2" stroke="#555" stroke-width="0.35"/>
<text x="219.7" y="295.54" font-size="3.7" fill="#222" text-anchor="middle" stroke="#222" stroke-width="0.04" textLength="5.14" lengthAdjust="spacingAndGlyphs" transform="rotate(-90 219.7 295.54)">0.4</text>
<path d="M222.3 284.96h-1.2" stroke="#555" stroke-width="0.35"/>
<text x="219.7" y="284.96" font-size="3.7" fill="#222" text-anchor="middle" stroke="#222" stroke-width="0.04" textLength="5.14" lengthAdjust="spacingAndGlyphs" transform="rotate(-90 219.7 284.96)">0.6</text>
<path d="M222.3 274.39h-1.2" stroke="#555" stroke-width="0.35"/>
<text x="219.7" y="274.39" font-size="3.7" fill="#222" text-anchor="middle" stroke="#222" stroke-width="0.04" textLength="5.14" lengthAdjust="spacingAndGlyphs" transform="rotate(-90 219.7 274.39)">0.8</text>
<path d="M222.3 263.81h-1.2" stroke="#555" stroke-width="0.35"/>
<text x="219.7" y="263.81" font-size="3.7" fill="#222" text-anchor="middle" stroke="#222" stroke-width="0.04" textLength="5.14" lengthAdjust="spacingAndGlyphs" transform="rotate(-90 219.7 263.81)">1.0</text>
<path d="M224.81 318.8v1.2" stroke="#555" stroke-width="0.35"/>
<text x="224.81" y="323.8" font-size="3.9" fill="#222" text-anchor="middle" stroke="#222" stroke-width="0.04" textLength="2.17" lengthAdjust="spacingAndGlyphs">0</text>
<path d="M243.92 318.8v1.2" stroke="#555" stroke-width="0.35"/>
<text x="243.92" y="323.8" font-size="3.9" fill="#222" text-anchor="middle" stroke="#222" stroke-width="0.04" textLength="4.34" lengthAdjust="spacingAndGlyphs">50</text>
<path d="M263.03 318.8v1.2" stroke="#555" stroke-width="0.35"/>
<text x="263.03" y="323.8" font-size="3.9" fill="#222" text-anchor="middle" stroke="#222" stroke-width="0.04" textLength="6.51" lengthAdjust="spacingAndGlyphs">100</text>
<path d="M282.14 318.8v1.2" stroke="#555" stroke-width="0.35"/>
<text x="282.14" y="323.8" font-size="3.9" fill="#222" text-anchor="middle" stroke="#222" stroke-width="0.04" textLength="6.51" lengthAdjust="spacingAndGlyphs">150</text>
<text x="256.15" y="329.4" font-size="3.95" fill="#1a1a1a" text-anchor="middle" stroke="#1a1a1a" stroke-width="0.04" textLength="48.58" lengthAdjust="spacingAndGlyphs">Time to Follow-Up (months)</text>
<text x="214.2" y="290.75" font-size="4.1" fill="#1a1a1a" text-anchor="middle" stroke="#1a1a1a" stroke-width="0.04" textLength="36.23" lengthAdjust="spacingAndGlyphs" transform="rotate(-90 214.2 290.75)">Cumulative Survival</text>
<text x="256.15" y="260.4" font-size="4.1" fill="#111" text-anchor="middle" stroke="#111" stroke-width="0.04" textLength="10.94" lengthAdjust="spacingAndGlyphs">LUSC</text>
<text x="203" y="252.5" font-size="4.2" fill="#444" text-anchor="middle" stroke="#444" stroke-width="0.04" textLength="2.1" lengthAdjust="spacingAndGlyphs">J</text>
<path d="M224.81 263.81H224.9V264.17H225.1V264.18H225.45V265.55H225.56V266.24H225.86V267.02H226.72V267.04H227.53V267.57H227.93V267.58H227.94V268.07H228.29V269.04H228.51V269.1H229.33V269.11H229.43V269.38H229.5V270.53H230.04V271.14H230.06V271.34H230.72V271.47H230.91V271.51H231.01V272.89H231.72V273.33H232.22V274.1H234.2V274.23H234.29V274.47H234.86V274.72H235.06V275.6H235.17V276.26H235.41V277.48H235.53V277.86H235.65V278.56H236.43V278.6H236.56V278.62H236.76V278.91H236.81V278.95H237.04V279.68H237.54V280.65H237.63V280.86H237.69V281.09H237.96V281.59H238.43V282.45H239.32V282.6H239.71V283.12H239.92V283.41H240.43V283.59H240.92V284.64H241.43V285.14H241.54V285.75H241.7V285.79H242.17V286.02H242.49V286.08H243.13V286.92H243.61V287.29H243.87V287.53H244.51V287.57H244.72V287.59H244.96V289.9H245.07V290.14H245.27V290.25H246.17V290.99H246.28V291.03H246.45V291.36H246.66V291.42H246.71V291.69H246.85V292.21H246.9V293.25H247.42V293.95H248.12V293.95H254.77V294.71H255.46V295.11H256.25V295.41H256.61V295.54H258.28V295.58H258.45V296.28H258.91V296.54H259.01V296.83H259.07V298.1H259.19V298.18H264.64V298.18H265.83V298.35H266V298.75H266.17V299.28H266.28V299.59H266.32V299.95H266.52V300.36H266.87V300.82H266.96V301.88H267.11V301.88H270.67V301.88" fill="none" stroke="#2b4a9a" stroke-width="0.9"/>
<path d="M224.81 263.81H224.95V264.38H225.46V264.5H226.02V265.41H226.51V265.49H226.94V266.04H227.66V267.58H228.34V267.89H230.25V267.95H230.29V268.04H231.62V268.07H231.74V268.22H232.76V268.79H233.32V268.91H233.35V269.31H233.58V271.68H233.64V272.1H234.48V272.22H235.22V272.66H235.3V272.9H235.4V273.02H235.7V273.33H236.14V274.13H236.28V274.44H236.29V275.15H236.44V275.44H237.91V275.47H238.23V275.62H239.03V275.62H239.56V277.27H239.87V277.43H239.94V277.48H240.08V278.74H240.13V279.56H240.39V279.71H240.86V280.12H240.87V280.4H240.87V280.73H241.01V281.15H241.32V282.41H241.33V282.96H241.34V284.87H241.54V285.1H241.83V285.25H241.93V285.48H242.24V285.85H242.28V285.89H243.12V285.96H243.68V286.27H244.18V286.76H244.75V286.99H244.81V287.26H244.96V287.66H245.36V287.71H245.46V288.24H245.68V288.64H245.68V289.74H245.86V290.25H246.14V290.66H246.31V290.99H246.53V291.73H246.81V292.08H247.11V292.24H247.31V292.28H247.47V292.4H247.79V292.47H247.82V292.73H247.96V293.34H248.05V293.41H248.6V293.71H248.72V294.99H248.74V296.59H251.28V297.24H252.37V297.61H255.36V297.84H258.32V298.18H260.05V298.43H261.7V299.09H263.76V299.24H268.48V299.53H268.48V300.03H268.53V300.48H268.6V301.56H268.97V302.1H269.01V302.54H269.03V302.95H269.07V303.08H269.63V303.34H269.69V304H285.15V304H287.49V304" fill="none" stroke="#6ab4e4" stroke-width="0.9"/>
<path d="M224.81 263.81H225.14V264.56H225.24V265.72H225.7V265.78H225.93V265.95H226.17V265.95H226.19V266.1H226.25V266.73H226.73V268.01H227.32V268.45H227.56V268.57H228.14V268.85H228.52V269.54H228.6V269.96H228.76V270.49H228.8V270.69H229.25V270.75H229.79V271.5H229.89V272.32H230.46V272.42H230.5V272.47H230.5V272.61H230.54V272.76H230.59V273.23H230.76V273.43H230.91V273.45H230.94V274.33H231.13V275.83H231.64V276.51H232.1V276.62H232.63V277.64H232.65V277.78H232.66V278.3H232.92V279.63H232.95V279.68H233.32V279.9H233.33V280.4H233.62V280.59H234.64V280.6H234.9V281.46H234.95V281.48H235.06V281.71H235.08V282.06H235.1V282.32H235.18V283.84H235.36V284H235.45V284.65H235.47V285.13H235.47V286.02H236.16V286.25H236.18V286.62H236.34V287.12H236.98V287.13H237.23V288.45H237.33V288.68H237.78V289.33H237.99V289.54H238.32V289.6H239.19V290.45H240.16V291.31H241.22V291.34H241.23V291.47H241.59V291.8H241.68V292.4H242.89V292.65H243.27V293.74H243.95V294.35H244.6V294.38H244.68V296.23H244.71V296.25H244.83V296.59H244.95V297.9H245.42V298.09H245.61V298.63H246.04V298.66H246.58V299.22H246.75V299.24H248.98V299.92H249.36V300.02H249.71V300.27H250V301.25H250.67V301.55H251.35V301.88H253.31V301.89H254.45V301.9H254.94V302.32H256.32V302.45H257.63V302.8H258.77V304.53H259.88V304.58H260.38V305.05H260.55V305.05" fill="none" stroke="#f4a02c" stroke-width="0.9"/>
<path d="M224.81 263.81H225.44V264.24H226.43V264.34H228.65V264.64H228.66V264.91H228.91V265.5H229.44V265.98H230.14V266.87H230.24V267.68H230.36V268.04H231.02V268.57H231.05V268.69H231.23V269.34H231.88V269.41H232.4V269.54H232.61V269.73H233.15V269.93H233.45V270.47H233.59V270.64H233.79V271.38H233.95V273.2H234.22V273.52H234.55V274.18H235.05V274.39H236.36V274.8H236.39V275.09H236.63V275.1H236.83V276.89H236.83V277.58H237.2V277.72H237.48V278.9H238.09V279.07H238.14V279.33H238.18V279.84H238.3V279.86H238.37V280.67H238.46V281.38H238.61V281.72H238.65V281.76H238.8V282.11H238.84V282.32H239.84V282.99H240.5V283H240.92V283.22H241.42V283.84H241.6V284.2H242.28V285.65H242.71V285.97H244.29V286.02H245.05V286.56H245.53V286.65H245.55V287.83H245.9V288.06H245.96V288.52H246.12V288.59H246.47V289.31H246.72V289.59H246.95V289.87H247.11V291.29H247.12V291.31H249.54V291.4H250.19V291.74H251.61V292.41H253.8V292.89H254.14V292.91H254.53V293.18H254.81V293.49H256.56V294.82H257.96V295.84H258.1V295.89H258.38V296.57H259.16V296.59H273.15V296.59H286.35V296.79H286.35V296.95H286.36V297.25H286.36V297.92H286.36V298.23H286.37V298.55H286.41V298.71H286.43V298.94H286.44V299.76H286.46V300.44H286.46V300.49H286.46V301.3H286.48V301.68H286.49V301.96H286.49V302.12H286.5V302.26H286.5V302.58H286.5V302.61H286.51V303.37H286.52V304.46H286.53V305.12H286.54V305.56H286.54V306.78H286.54V306.86H286.54V307.29H286.55V307.74H286.55V308.28H286.56V309.53H286.59V311.08H286.6V311.88H286.62V312.02H286.62V312.03H286.64V312.51H286.65V313.93H286.67V314.18H286.68V314.34H286.7V314.51H286.71V314.7H286.72V315.1H286.73V315.1" fill="none" stroke="#a8284a" stroke-width="0.9"/>
<text x="236.69" y="266.4" font-size="3.8" fill="#111" stroke="#111" stroke-width="0.09" textLength="45.49" lengthAdjust="spacingAndGlyphs">2 vs 1: HR=0.811, P = 0.31</text>
<text x="236.69" y="271.5" font-size="3.8" fill="#111" stroke="#111" stroke-width="0.09" textLength="52.11" lengthAdjust="spacingAndGlyphs">4 vs 3: HR=0.610, P = 0.00101</text>
<path d="M224.1 303.9h3.4" stroke="#2b4a9a" stroke-width="1.3"/>
<text x="229.4" y="305.15" font-size="3.5" fill="#111" stroke="#111" stroke-width="0.09" textLength="50.67" lengthAdjust="spacingAndGlyphs">1 Low FAM111B + Low NK T</text>
<path d="M224.1 307.65h3.4" stroke="#6ab4e4" stroke-width="1.3"/>
<text x="229.4" y="308.9" font-size="3.5" fill="#111" stroke="#111" stroke-width="0.09" textLength="51.56" lengthAdjust="spacingAndGlyphs">2 Low FAM111B + High NK T</text>
<path d="M224.1 311.4h3.4" stroke="#f4a02c" stroke-width="1.3"/>
<text x="229.4" y="312.65" font-size="3.5" fill="#111" stroke="#111" stroke-width="0.09" textLength="51.56" lengthAdjust="spacingAndGlyphs">3 High FAM111B + Low NK T</text>
<path d="M224.1 315.15h3.4" stroke="#a8284a" stroke-width="1.3"/>
<text x="229.4" y="316.4" font-size="3.5" fill="#111" stroke="#111" stroke-width="0.09" textLength="52.45" lengthAdjust="spacingAndGlyphs">4 High FAM111B + High NK T</text>
<path d="M321.9 261.7H390.5V319.2" fill="none" stroke="#aaa" stroke-width="0.45"/>
<path d="M321.9 261.7V319.2H390.5" fill="none" stroke="#666" stroke-width="0.45"/>
<path d="M321.9 317.07h-1.2" stroke="#555" stroke-width="0.35"/>
<text x="319.3" y="317.07" font-size="3.7" fill="#222" text-anchor="middle" stroke="#222" stroke-width="0.04" textLength="5.14" lengthAdjust="spacingAndGlyphs" transform="rotate(-90 319.3 317.07)">0.0</text>
<path d="M321.9 306.42h-1.2" stroke="#555" stroke-width="0.35"/>
<text x="319.3" y="306.42" font-size="3.7" fill="#222" text-anchor="middle" stroke="#222" stroke-width="0.04" textLength="5.14" lengthAdjust="spacingAndGlyphs" transform="rotate(-90 319.3 306.42)">0.2</text>
<path d="M321.9 295.77h-1.2" stroke="#555" stroke-width="0.35"/>
<text x="319.3" y="295.77" font-size="3.7" fill="#222" text-anchor="middle" stroke="#222" stroke-width="0.04" textLength="5.14" lengthAdjust="spacingAndGlyphs" transform="rotate(-90 319.3 295.77)">0.4</text>
<path d="M321.9 285.13h-1.2" stroke="#555" stroke-width="0.35"/>
<text x="319.3" y="285.13" font-size="3.7" fill="#222" text-anchor="middle" stroke="#222" stroke-width="0.04" textLength="5.14" lengthAdjust="spacingAndGlyphs" transform="rotate(-90 319.3 285.13)">0.6</text>
<path d="M321.9 274.48h-1.2" stroke="#555" stroke-width="0.35"/>
<text x="319.3" y="274.48" font-size="3.7" fill="#222" text-anchor="middle" stroke="#222" stroke-width="0.04" textLength="5.14" lengthAdjust="spacingAndGlyphs" transform="rotate(-90 319.3 274.48)">0.8</text>
<path d="M321.9 263.83h-1.2" stroke="#555" stroke-width="0.35"/>
<text x="319.3" y="263.83" font-size="3.7" fill="#222" text-anchor="middle" stroke="#222" stroke-width="0.04" textLength="5.14" lengthAdjust="spacingAndGlyphs" transform="rotate(-90 319.3 263.83)">1.0</text>
<path d="M324.44 319.2v1.2" stroke="#555" stroke-width="0.35"/>
<text x="324.44" y="324.2" font-size="3.9" fill="#222" text-anchor="middle" stroke="#222" stroke-width="0.04" textLength="2.17" lengthAdjust="spacingAndGlyphs">0</text>
<path d="M341.33 319.2v1.2" stroke="#555" stroke-width="0.35"/>
<text x="341.33" y="324.2" font-size="3.9" fill="#222" text-anchor="middle" stroke="#222" stroke-width="0.04" textLength="4.34" lengthAdjust="spacingAndGlyphs">50</text>
<path d="M358.23 319.2v1.2" stroke="#555" stroke-width="0.35"/>
<text x="358.23" y="324.2" font-size="3.9" fill="#222" text-anchor="middle" stroke="#222" stroke-width="0.04" textLength="6.51" lengthAdjust="spacingAndGlyphs">100</text>
<path d="M375.12 319.2v1.2" stroke="#555" stroke-width="0.35"/>
<text x="375.12" y="324.2" font-size="3.9" fill="#222" text-anchor="middle" stroke="#222" stroke-width="0.04" textLength="6.51" lengthAdjust="spacingAndGlyphs">150</text>
<text x="356.2" y="329.8" font-size="3.95" fill="#1a1a1a" text-anchor="middle" stroke="#1a1a1a" stroke-width="0.04" textLength="48.58" lengthAdjust="spacingAndGlyphs">Time to Follow-Up (months)</text>
<text x="313.8" y="290.95" font-size="4.1" fill="#1a1a1a" text-anchor="middle" stroke="#1a1a1a" stroke-width="0.04" textLength="36.23" lengthAdjust="spacingAndGlyphs" transform="rotate(-90 313.8 290.95)">Cumulative Survival</text>
<text x="356.2" y="260.4" font-size="4.1" fill="#111" text-anchor="middle" stroke="#111" stroke-width="0.04" textLength="11.85" lengthAdjust="spacingAndGlyphs">SKCM</text>
<text x="306" y="252.8" font-size="4.2" fill="#444" text-anchor="middle" stroke="#444" stroke-width="0.04" textLength="2.8" lengthAdjust="spacingAndGlyphs">K</text>
<path d="M324.44 263.83H324.48V264.03H324.77V264.06H324.86V264.06H325.05V264.35H325.06V264.37H325.12V264.54H325.16V265.17H325.43V266.77H325.5V266.95H325.51V267.15H325.54V267.45H325.62V269.71H325.75V269.83H326.07V271.15H326.14V271.4H326.23V271.63H326.6V271.82H326.79V272.48H327.21V272.65H327.62V273.28H327.63V273.35H328.66V274.63H328.84V274.83H330.75V275.2H332.28V275.54H333.24V275.68H333.39V276.11H333.51V276.48H333.68V276.52H333.9V276.93H334.1V277.14H334.49V278.76H334.73V279.27H335.46V279.68H335.81V280.26H336.39V280.87H337.14V282.22H337.27V282.93H337.28V283H337.43V283.51H337.51V284.52H338.71V285.57H339.28V285.75H339.45V285.88H339.45V285.91H340.04V286.27H340.12V286.37H340.38V286.37H340.38V286.62H340.63V287.26H341.11V287.4H341.27V288.75H343.41V288.75H343.55V289.38H344.32V289.47H344.7V289.92H346.87V290.78H347.81V290.78H347.87V291.06H348.76V291.51H349.53V292.28H349.55V293.2H349.68V293.22H350.2V293.35H352.53V293.62H352.78V294.6H352.8V294.71H353.16V295.41H353.2V295.43H353.53V295.68H353.67V295.82H353.95V296.8H354.06V297.37H354.17V297.37" fill="none" stroke="#2b4a9a" stroke-width="0.9"/>
<path d="M324.44 263.83H324.95V263.84H326.01V264.27H326.05V264.95H326.05V266.41H326.08V266.48H326.32V266.5H326.42V267H326.56V267.56H326.66V268.13H326.68V268.26H327.95V268.31H328.04V269.37H328.21V270.05H328.25V270.97H328.82V271.19H330.16V271.58H330.32V272.79H330.92V272.92H331.12V273.06H331.2V273.76H332.32V274.03H332.45V274.34H332.67V274.48H333.9V274.63H333.92V275H334.53V275.26H334.73V276.67H335.01V276.89H335.08V277.37H336.3V277.82H336.6V277.93H337.08V277.93H337.11V278.71H337.29V278.74H337.98V279.8H340.16V279.95H340.33V280.53H340.85V282.06H340.88V282.47H341.4V282.6H341.41V282.84H342.06V283.38H343.66V283.53H344.18V284.14H344.74V284.63H344.9V284.77H344.95V285.5H345.83V285.73H346.18V286.19H347.96V286.27H348.28V286.4H351.1V287.05H351.53V287.46H351.56V288.32H353.12V288.32H387.96V288.32" fill="none" stroke="#6ab4e4" stroke-width="0.9"/>
<path d="M324.44 263.83H324.44V263.95H324.49V264.14H324.67V265.88H324.86V266.34H324.95V266.38H325V266.71H325.2V267.5H325.45V267.55H325.55V268.84H325.73V269.32H325.76V269.35H325.79V269.49H325.8V270.31H326.05V270.64H326.05V270.64H326.11V271.38H326.15V271.85H326.26V272.71H326.42V272.88H326.61V274.7H326.75V274.82H327.03V275.06H327.09V275.08H327.14V275.09H327.2V275.21H327.26V275.27H327.29V275.4H327.44V275.73H327.53V275.95H327.69V276.66H327.9V277.3H328.02V279.1H328.15V279.48H328.91V279.83H328.93V280.17H329.18V280.87H329.34V281.14H329.46V282.46H329.59V283.4H329.66V284.22H329.66V284.64H329.68V284.78H329.76V284.89H329.83V285.03H329.83V285.5H329.84V285.57H329.99V285.92H330.06V285.93H330.09V286.33H330.14V286.97H330.29V287.58H330.39V287.68H330.5V288.85H331.44V289.82H332.38V290.3H332.47V290.77H332.49V290.86H333.58V291H334V291.51H336.18V291.51H338.81V292.49H339.6V292.57H339.66V292.57H339.67V292.66H340.85V294.06H342.14V294.18H343.03V294.23H343.12V294.32H343.28V294.35H343.35V295.23H343.69V295.66H343.77V296.39H343.84V296.49H344.11V297.86H344.31V298.41H344.36V299.29H344.45V299.5H347.96V299.5H351.57V299.5" fill="none" stroke="#f4a02c" stroke-width="0.9"/>
<path d="M324.44 263.83H328.59V263.83H329.24V264.34H329.31V264.58H329.88V264.63H329.95V265.89H330.1V266H330.5V266.44H330.51V266.85H331.14V267.85H331.55V268.03H331.72V268.66H331.96V268.84H331.96V269.03H332.22V269.29H332.61V269.78H332.64V270.75H333.38V271.09H334.29V271.16H334.29V271.27H334.56V272.89H334.58V272.94H334.7V273.31H334.91V273.32H335.06V274.81H335.52V275.03H335.8V275.27H335.83V275.68H336.09V275.96H336.12V276.46H336.18V277.84H336.47V277.96H336.81V278.2H337.21V278.84H338.25V278.99H339.99V279.59H340.62V279.8H341.94V279.81H342.33V280.15H343.15V280.27H344.48V280.79H344.57V280.96H345.15V282.73H345.33V282.97H346.13V283.53H346.58V283.93H346.72V284.15H346.73V284.25H347.72V285.23H348.33V285.44H348.87V286.19H349.35V286.53H349.96V287.18H350.46V287.42H350.85V288.5H351.27V288.57H351.69V288.85H353.12V290.35H353.17V290.7H353.22V291.54H353.28V291.83H353.31V291.99H353.33V292.45H353.36V292.85H353.51V293.1H353.7V293.27H353.73V293.49H353.88V293.77H354V294.18H354.19V295.07H354.56V295.11H354.58V295.49H354.62V295.77H366.13V296.31H375.72V296.58H378.5V296.84H382.89V296.84" fill="none" stroke="#a8284a" stroke-width="0.9"/>
<text x="337.19" y="266.4" font-size="3.8" fill="#111" stroke="#111" stroke-width="0.09" textLength="47.88" lengthAdjust="spacingAndGlyphs">2 vs 1: HR=0.729, P = 0.303</text>
<text x="337.19" y="271.5" font-size="3.8" fill="#111" stroke="#111" stroke-width="0.09" textLength="52.11" lengthAdjust="spacingAndGlyphs">4 vs 3: HR=0.396, P = 0.00135</text>
<path d="M323.7 304.3h3.4" stroke="#2b4a9a" stroke-width="1.3"/>
<text x="329" y="305.55" font-size="3.5" fill="#111" stroke="#111" stroke-width="0.09" textLength="50.67" lengthAdjust="spacingAndGlyphs">1 Low FAM111B + Low NK T</text>
<path d="M323.7 308.05h3.4" stroke="#6ab4e4" stroke-width="1.3"/>
<text x="329" y="309.3" font-size="3.5" fill="#111" stroke="#111" stroke-width="0.09" textLength="51.56" lengthAdjust="spacingAndGlyphs">2 Low FAM111B + High NK T</text>
<path d="M323.7 311.8h3.4" stroke="#f4a02c" stroke-width="1.3"/>
<text x="329" y="313.05" font-size="3.5" fill="#111" stroke="#111" stroke-width="0.09" textLength="51.56" lengthAdjust="spacingAndGlyphs">3 High FAM111B + Low NK T</text>
<path d="M323.7 315.55h3.4" stroke="#a8284a" stroke-width="1.3"/>
<text x="329" y="316.8" font-size="3.5" fill="#111" stroke="#111" stroke-width="0.09" textLength="52.45" lengthAdjust="spacingAndGlyphs">4 High FAM111B + High NK T</text>
<path d="M423.7 174v140M441.2 174v140M458.7 174v140M476.2 174v140M493.7 174v140M511.2 174v140" stroke="#eeeeee" stroke-width="0.5"/>
<path d="M420 178H512" stroke="#efefef" stroke-width="0.5"/>
<path d="M420 182.23H512" stroke="#efefef" stroke-width="0.5"/>
<path d="M420 186.46H512" stroke="#efefef" stroke-width="0.5"/>
<path d="M420 190.69H512" stroke="#efefef" stroke-width="0.5"/>
<path d="M420 194.92H512" stroke="#efefef" stroke-width="0.5"/>
<path d="M420 199.15H512" stroke="#efefef" stroke-width="0.5"/>
<path d="M420 203.38H512" stroke="#efefef" stroke-width="0.5"/>
<path d="M420 207.61H512" stroke="#efefef" stroke-width="0.5"/>
<path d="M420 211.84H512" stroke="#efefef" stroke-width="0.5"/>
<path d="M420 216.07H512" stroke="#efefef" stroke-width="0.5"/>
<path d="M420 220.3H512" stroke="#efefef" stroke-width="0.5"/>
<path d="M420 224.53H512" stroke="#efefef" stroke-width="0.5"/>
<path d="M420 228.76H512" stroke="#efefef" stroke-width="0.5"/>
<path d="M420 232.99H512" stroke="#efefef" stroke-width="0.5"/>
<path d="M420 237.22H512" stroke="#efefef" stroke-width="0.5"/>
<path d="M420 241.45H512" stroke="#efefef" stroke-width="0.5"/>
<path d="M420 245.68H512" stroke="#efefef" stroke-width="0.5"/>
<path d="M420 249.91H512" stroke="#efefef" stroke-width="0.5"/>
<path d="M420 254.14H512" stroke="#efefef" stroke-width="0.5"/>
<path d="M420 258.37H512" stroke="#efefef" stroke-width="0.5"/>
<path d="M420 262.6H512" stroke="#efefef" stroke-width="0.5"/>
<path d="M420 266.83H512" stroke="#efefef" stroke-width="0.5"/>
<path d="M420 271.06H512" stroke="#efefef" stroke-width="0.5"/>
<path d="M420 275.29H512" stroke="#efefef" stroke-width="0.5"/>
<path d="M420 279.52H512" stroke="#efefef" stroke-width="0.5"/>
<path d="M420 283.75H512" stroke="#efefef" stroke-width="0.5"/>
<path d="M420 287.98H512" stroke="#efefef" stroke-width="0.5"/>
<path d="M420 292.21H512" stroke="#efefef" stroke-width="0.5"/>
<path d="M420 296.44H512" stroke="#efefef" stroke-width="0.5"/>
<path d="M420 300.67H512" stroke="#efefef" stroke-width="0.5"/>
<path d="M420 304.9H512" stroke="#efefef" stroke-width="0.5"/>
<path d="M420 309.13H512" stroke="#efefef" stroke-width="0.5"/>
<path d="M420 313.36H512" stroke="#efefef" stroke-width="0.5"/>
<path d="M476.2 178H508.05" stroke="#a4a4a4" stroke-width="0.85"/>
<circle cx="508.05" cy="178" r="1.5" fill="#2a6fb0"/>
<text x="418.2" y="179.45" font-size="4.1" fill="#222" text-anchor="end" stroke="#222" stroke-width="0.04" textLength="8.66" lengthAdjust="spacingAndGlyphs">LGG</text>
<path d="M476.2 182.23H507.88" stroke="#a4a4a4" stroke-width="0.85"/>
<circle cx="507.88" cy="182.23" r="1.5" fill="#c05040"/>
<text x="418.2" y="183.68" font-size="4.1" fill="#222" text-anchor="end" stroke="#222" stroke-width="0.04" textLength="8.66" lengthAdjust="spacingAndGlyphs">ACC</text>
<path d="M476.2 186.46H505.6" stroke="#a4a4a4" stroke-width="0.85"/>
<circle cx="505.6" cy="186.46" r="1.45" fill="#5a5aa0"/>
<text x="418.2" y="187.91" font-size="4.1" fill="#222" text-anchor="end" stroke="#222" stroke-width="0.04" textLength="11.39" lengthAdjust="spacingAndGlyphs">PRAD</text>
<path d="M476.2 190.69H504.9" stroke="#a4a4a4" stroke-width="0.85"/>
<circle cx="504.9" cy="190.69" r="1.45" fill="#505060"/>
<text x="418.2" y="192.14" font-size="4.1" fill="#222" text-anchor="end" stroke="#222" stroke-width="0.04" textLength="11.39" lengthAdjust="spacingAndGlyphs">BRCA</text>
<path d="M476.2 194.92H502.27" stroke="#a4a4a4" stroke-width="0.85"/>
<circle cx="502.27" cy="194.92" r="1.4" fill="#905070"/>
<text x="418.2" y="196.37" font-size="4.1" fill="#222" text-anchor="end" stroke="#222" stroke-width="0.04" textLength="10.63" lengthAdjust="spacingAndGlyphs">STAD</text>
<path d="M476.2 199.15H501.84" stroke="#a4a4a4" stroke-width="0.85"/>
<circle cx="501.84" cy="199.15" r="1.4" fill="#c04040"/>
<text x="418.2" y="200.6" font-size="4.1" fill="#222" text-anchor="end" stroke="#222" stroke-width="0.04" textLength="8.66" lengthAdjust="spacingAndGlyphs">UCS</text>
<path d="M476.2 203.38H497.72" stroke="#a4a4a4" stroke-width="0.85"/>
<circle cx="497.72" cy="203.38" r="1.3" fill="#d03030"/>
<text x="418.2" y="204.83" font-size="4.1" fill="#222" text-anchor="end" stroke="#222" stroke-width="0.04" textLength="9.8" lengthAdjust="spacingAndGlyphs">KICH</text>
<path d="M476.2 207.61H497.2" stroke="#a4a4a4" stroke-width="0.85"/>
<circle cx="497.2" cy="207.61" r="1.3" fill="#c03040"/>
<text x="418.2" y="209.06" font-size="4.1" fill="#222" text-anchor="end" stroke="#222" stroke-width="0.04" textLength="10.86" lengthAdjust="spacingAndGlyphs">PAAD</text>
<path d="M476.2 211.84H497.02" stroke="#a4a4a4" stroke-width="0.85"/>
<circle cx="497.02" cy="211.84" r="1.3" fill="#a04050"/>
<text x="418.2" y="213.29" font-size="4.1" fill="#222" text-anchor="end" stroke="#222" stroke-width="0.04" textLength="10.94" lengthAdjust="spacingAndGlyphs">LUAD</text>
<path d="M476.2 216.07H496.15" stroke="#a4a4a4" stroke-width="0.85"/>
<circle cx="496.15" cy="216.07" r="1.3" fill="#a04050"/>
<text x="418.2" y="217.52" font-size="4.1" fill="#222" text-anchor="end" stroke="#222" stroke-width="0.04" textLength="11.85" lengthAdjust="spacingAndGlyphs">SKCM</text>
<path d="M476.2 220.3H493.7" stroke="#a4a4a4" stroke-width="0.85"/>
<circle cx="493.7" cy="220.3" r="1.2" fill="#c84040"/>
<text x="418.2" y="221.75" font-size="4.1" fill="#222" text-anchor="end" stroke="#222" stroke-width="0.04" textLength="10.71" lengthAdjust="spacingAndGlyphs">BLCA</text>
<path d="M476.2 224.53H489.76" stroke="#a4a4a4" stroke-width="0.85"/>
<circle cx="489.76" cy="224.53" r="1.15" fill="#c84848"/>
<text x="418.2" y="225.98" font-size="4.1" fill="#222" text-anchor="end" stroke="#222" stroke-width="0.04" textLength="11.62" lengthAdjust="spacingAndGlyphs">UCEC</text>
<path d="M476.2 228.76H487.57" stroke="#a4a4a4" stroke-width="0.85"/>
<circle cx="487.57" cy="228.76" r="1.1" fill="#c85050"/>
<text x="418.2" y="230.21" font-size="4.1" fill="#222" text-anchor="end" stroke="#222" stroke-width="0.04" textLength="11.62" lengthAdjust="spacingAndGlyphs">PCPG</text>
<path d="M476.2 232.99H487.4" stroke="#a4a4a4" stroke-width="0.85"/>
<circle cx="487.4" cy="232.99" r="1.1" fill="#c85050"/>
<text x="418.2" y="234.44" font-size="4.1" fill="#222" text-anchor="end" stroke="#222" stroke-width="0.04" textLength="11.39" lengthAdjust="spacingAndGlyphs">SARC</text>
<path d="M476.2 237.22H487.05" stroke="#a4a4a4" stroke-width="0.85"/>
<circle cx="487.05" cy="237.22" r="1.1" fill="#c85050"/>
<text x="418.2" y="238.67" font-size="4.1" fill="#222" text-anchor="end" stroke="#222" stroke-width="0.04" textLength="12.07" lengthAdjust="spacingAndGlyphs">MESO</text>
<path d="M476.2 241.45H486.7" stroke="#a4a4a4" stroke-width="0.85"/>
<circle cx="486.7" cy="241.45" r="1.1" fill="#c85050"/>
<text x="418.2" y="242.9" font-size="4.1" fill="#222" text-anchor="end" stroke="#222" stroke-width="0.04" textLength="9.8" lengthAdjust="spacingAndGlyphs">KIRC</text>
<path d="M476.2 245.68H486.26" stroke="#a4a4a4" stroke-width="0.85"/>
<circle cx="486.26" cy="245.68" r="1.1" fill="#c85050"/>
<text x="418.2" y="247.13" font-size="4.1" fill="#222" text-anchor="end" stroke="#222" stroke-width="0.04" textLength="9.34" lengthAdjust="spacingAndGlyphs">GBM</text>
<path d="M476.2 249.91H485.39" stroke="#a4a4a4" stroke-width="0.85"/>
<circle cx="485.39" cy="249.91" r="1.05" fill="#c85050"/>
<text x="418.2" y="251.36" font-size="4.1" fill="#222" text-anchor="end" stroke="#222" stroke-width="0.04" textLength="10.94" lengthAdjust="spacingAndGlyphs">LUSC</text>
<path d="M476.2 254.14H483.38" stroke="#a4a4a4" stroke-width="0.85"/>
<circle cx="483.38" cy="254.14" r="1" fill="#d05858"/>
<text x="418.2" y="255.59" font-size="4.1" fill="#222" text-anchor="end" stroke="#222" stroke-width="0.04" textLength="5.92" lengthAdjust="spacingAndGlyphs">OV</text>
<path d="M476.2 258.37H481.97" stroke="#a4a4a4" stroke-width="0.85"/>
<circle cx="481.97" cy="258.37" r="1" fill="#d05858"/>
<text x="418.2" y="259.82" font-size="4.1" fill="#222" text-anchor="end" stroke="#222" stroke-width="0.04" textLength="11.39" lengthAdjust="spacingAndGlyphs">CHOL</text>
<path d="M476.2 262.6H481.45" stroke="#a4a4a4" stroke-width="0.85"/>
<circle cx="481.45" cy="262.6" r="0.95" fill="#d05858"/>
<text x="418.2" y="264.05" font-size="4.1" fill="#222" text-anchor="end" stroke="#222" stroke-width="0.04" textLength="11.16" lengthAdjust="spacingAndGlyphs">TGCT</text>
<path d="M476.2 266.83H481.01" stroke="#a4a4a4" stroke-width="0.85"/>
<circle cx="481.01" cy="266.83" r="0.95" fill="#d05858"/>
<text x="418.2" y="268.28" font-size="4.1" fill="#222" text-anchor="end" stroke="#222" stroke-width="0.04" textLength="9.34" lengthAdjust="spacingAndGlyphs">LIHC</text>
<path d="M476.2 271.06H480.57" stroke="#a4a4a4" stroke-width="0.85"/>
<circle cx="480.57" cy="271.06" r="0.95" fill="#d05858"/>
<text x="418.2" y="272.51" font-size="4.1" fill="#222" text-anchor="end" stroke="#222" stroke-width="0.04" textLength="11.16" lengthAdjust="spacingAndGlyphs">THCA</text>
<path d="M476.2 275.29H480.14" stroke="#a4a4a4" stroke-width="0.85"/>
<circle cx="480.14" cy="275.29" r="0.95" fill="#d05858"/>
<text x="418.2" y="276.74" font-size="4.1" fill="#222" text-anchor="end" stroke="#222" stroke-width="0.04" textLength="10.71" lengthAdjust="spacingAndGlyphs">LAML</text>
<path d="M476.2 279.52H475.76" stroke="#a4a4a4" stroke-width="0.85"/>
<circle cx="475.76" cy="279.52" r="0.8" fill="#d06060"/>
<text x="418.2" y="280.97" font-size="4.1" fill="#222" text-anchor="end" stroke="#222" stroke-width="0.04" textLength="9.57" lengthAdjust="spacingAndGlyphs">KIRP</text>
<path d="M476.2 283.75H474.89" stroke="#a4a4a4" stroke-width="0.85"/>
<circle cx="474.89" cy="283.75" r="0.8" fill="#d06060"/>
<text x="418.2" y="285.2" font-size="4.1" fill="#222" text-anchor="end" stroke="#222" stroke-width="0.04" textLength="11.17" lengthAdjust="spacingAndGlyphs">ESCA</text>
<path d="M476.2 287.98H474.45" stroke="#a4a4a4" stroke-width="0.85"/>
<circle cx="474.45" cy="287.98" r="0.8" fill="#d06060"/>
<text x="418.2" y="289.43" font-size="4.1" fill="#222" text-anchor="end" stroke="#222" stroke-width="0.04" textLength="11.85" lengthAdjust="spacingAndGlyphs">COAD</text>
<path d="M476.2 292.21H474.45" stroke="#a4a4a4" stroke-width="0.85"/>
<circle cx="474.45" cy="292.21" r="0.8" fill="#d06060"/>
<text x="418.2" y="293.66" font-size="4.1" fill="#222" text-anchor="end" stroke="#222" stroke-width="0.04" textLength="11.39" lengthAdjust="spacingAndGlyphs">READ</text>
<path d="M476.2 296.44H474.01" stroke="#a4a4a4" stroke-width="0.85"/>
<circle cx="474.01" cy="296.44" r="0.85" fill="#d06060"/>
<text x="418.2" y="297.89" font-size="4.1" fill="#222" text-anchor="end" stroke="#222" stroke-width="0.04" textLength="11.62" lengthAdjust="spacingAndGlyphs">HNSC</text>
<path d="M476.2 300.67H470.07" stroke="#a4a4a4" stroke-width="0.85"/>
<circle cx="470.07" cy="300.67" r="0.95" fill="#d06060"/>
<text x="418.2" y="302.12" font-size="4.1" fill="#222" text-anchor="end" stroke="#222" stroke-width="0.04" textLength="10.94" lengthAdjust="spacingAndGlyphs">DLBC</text>
<path d="M476.2 304.9H467.89" stroke="#a4a4a4" stroke-width="0.85"/>
<circle cx="467.89" cy="304.9" r="1" fill="#d06060"/>
<text x="418.2" y="306.35" font-size="4.1" fill="#222" text-anchor="end" stroke="#222" stroke-width="0.04" textLength="9.11" lengthAdjust="spacingAndGlyphs">UVM</text>
<path d="M476.2 309.13H464.82" stroke="#a4a4a4" stroke-width="0.85"/>
<circle cx="464.82" cy="309.13" r="1.05" fill="#d06060"/>
<text x="418.2" y="310.58" font-size="4.1" fill="#222" text-anchor="end" stroke="#222" stroke-width="0.04" textLength="11.39" lengthAdjust="spacingAndGlyphs">CESC</text>
<path d="M476.2 313.36H424.57" stroke="#a4a4a4" stroke-width="0.85"/>
<circle cx="424.57" cy="313.36" r="1.7" fill="#555555"/>
<text x="418.2" y="314.81" font-size="4.1" fill="#222" text-anchor="end" stroke="#222" stroke-width="0.04" textLength="11.62" lengthAdjust="spacingAndGlyphs">THYM</text>
<text x="423.7" y="321.7" font-size="3.9" fill="#222" text-anchor="middle" stroke="#222" stroke-width="0.04" textLength="6.72" lengthAdjust="spacingAndGlyphs">-0.6</text>
<text x="441.2" y="321.7" font-size="3.9" fill="#222" text-anchor="middle" stroke="#222" stroke-width="0.04" textLength="6.72" lengthAdjust="spacingAndGlyphs">-0.4</text>
<text x="458.7" y="321.7" font-size="3.9" fill="#222" text-anchor="middle" stroke="#222" stroke-width="0.04" textLength="6.72" lengthAdjust="spacingAndGlyphs">-0.2</text>
<text x="476.2" y="321.7" font-size="3.9" fill="#222" text-anchor="middle" stroke="#222" stroke-width="0.04" textLength="5.42" lengthAdjust="spacingAndGlyphs">0.0</text>
<text x="493.7" y="321.7" font-size="3.9" fill="#222" text-anchor="middle" stroke="#222" stroke-width="0.04" textLength="5.42" lengthAdjust="spacingAndGlyphs">0.2</text>
<text x="511.2" y="321.7" font-size="3.9" fill="#222" text-anchor="middle" stroke="#222" stroke-width="0.04" textLength="5.42" lengthAdjust="spacingAndGlyphs">0.4</text>
<text x="480.2" y="330.8" font-size="4.3" fill="#111" text-anchor="middle" stroke="#111" stroke-width="0.04" textLength="71.93" lengthAdjust="spacingAndGlyphs">The correlation of FAM111B with TMB</text>
<text x="407.3" y="171.5" font-size="4.2" fill="#444" text-anchor="middle" stroke="#444" stroke-width="0.04" textLength="2.34" lengthAdjust="spacingAndGlyphs">L</text>
<text x="515.3" y="223.4" font-size="3.7" fill="#222" stroke="#222" stroke-width="0.04" textLength="18.1" lengthAdjust="spacingAndGlyphs">Correlation</text>
<circle cx="517.2" cy="226.7" r="0.6" fill="#111"/>
<text x="520.5" y="227.9" font-size="3.5" fill="#333" stroke="#333" stroke-width="0.04" textLength="4.86" lengthAdjust="spacingAndGlyphs">0.1</text>
<circle cx="517.2" cy="230.55" r="0.8" fill="#111"/>
<text x="520.5" y="231.75" font-size="3.5" fill="#333" stroke="#333" stroke-width="0.04" textLength="4.86" lengthAdjust="spacingAndGlyphs">0.2</text>
<circle cx="517.2" cy="234.4" r="1" fill="#111"/>
<text x="520.5" y="235.6" font-size="3.5" fill="#333" stroke="#333" stroke-width="0.04" textLength="4.86" lengthAdjust="spacingAndGlyphs">0.3</text>
<circle cx="517.2" cy="238.25" r="1.15" fill="#111"/>
<text x="520.5" y="239.45" font-size="3.5" fill="#333" stroke="#333" stroke-width="0.04" textLength="4.86" lengthAdjust="spacingAndGlyphs">0.4</text>
<circle cx="517.2" cy="242.1" r="1.3" fill="#111"/>
<text x="520.5" y="243.3" font-size="3.5" fill="#333" stroke="#333" stroke-width="0.04" textLength="4.86" lengthAdjust="spacingAndGlyphs">0.5</text>
<text x="513.4" y="248.6" font-size="3.7" fill="#222" stroke="#222" stroke-width="0.04" textLength="26.05" lengthAdjust="spacingAndGlyphs">-log10 (P value)</text>
<linearGradient id="gL" x1="0" y1="0" x2="0" y2="1"><stop offset="0" stop-color="#5a8ad0"/><stop offset="0.5" stop-color="#a87898"/><stop offset="1" stop-color="#d86050"/></linearGradient>
<rect x="515" y="252.3" width="3.2" height="17.2" fill="url(#gL)"/>
<text x="520.5" y="254.8" font-size="3.5" fill="#333" stroke="#333" stroke-width="0.04" textLength="3.89" lengthAdjust="spacingAndGlyphs">16</text>
<text x="520.5" y="258.8" font-size="3.5" fill="#333" stroke="#333" stroke-width="0.04" textLength="3.89" lengthAdjust="spacingAndGlyphs">12</text>
<text x="520.5" y="262.8" font-size="3.5" fill="#333" stroke="#333" stroke-width="0.04" textLength="1.95" lengthAdjust="spacingAndGlyphs">8</text>
<text x="520.5" y="266.8" font-size="3.5" fill="#333" stroke="#333" stroke-width="0.04" textLength="1.95" lengthAdjust="spacingAndGlyphs">4</text>
<g clip-path="url(#mc1)">
<rect x="19.8" y="344" width="80.5" height="73.7" fill="#05060f"/>
<g stroke="#2448a4" stroke-linecap="round" filter="url(#bl1)" fill="none">
<path stroke-width="1.4" opacity="0.25" d="M22.8 360.3h0M35.2 382.5h0M63.5 370.2h0M82.8 412.7h0M48.7 402h0M37.8 354.7h0M33.6 351.4h0M40.2 402.3h0M60.4 410.2h0M45.7 366.8h0M71.8 349.8h0M28.2 371.3h0M38.2 417h0M29.9 356.3h0M99.3 411.1h0M56.8 366.9h0M77.2 359.3h0M31.2 353.1h0M87 370.5h0M36.4 355.2h0M84.8 379.7h0M30.1 414.7h0M45.1 410.1h0"/>
<path stroke-width="1.4" opacity="0.5" d="M61 366.2h0M87.8 365.9h0M56.3 345.6h0M24.8 407.8h0M46.3 410h0M68.1 386.3h0M26.1 351.4h0M85.4 372h0M38.8 391.6h0M59.6 358.1h0M93.2 356.6h0M64.7 360.4h0M24.2 416.8h0M68.9 383.1h0M31.1 389.8h0M31.5 348.3h0M42.2 407.9h0M58.2 364.4h0M20.3 374.8h0M50.8 355.6h0M97 387.9h0M65.4 369.2h0M44.1 354.3h0M64.8 361.9h0M65.8 368.8h0M55.6 376.2h0M53.6 416.5h0M35.9 392.1h0M24.6 409.2h0M91.5 406.8h0M90.5 363.6h0M88 387.3h0M41.1 378.3h0M93.9 379.5h0M50.1 398.3h0M87.8 409.9h0M91.9 360.4h0M90.2 385.1h0M46.7 410.4h0M72.4 384.5h0M29.6 376.7h0M52.1 348.1h0M68.2 361.8h0M34.9 377.8h0M88.2 356.9h0M50.1 415.7h0M66 349.8h0M94.1 393.4h0M51.7 397.9h0M88.7 414.5h0M36 388.8h0M89.4 408.7h0M68.6 371.2h0M82.9 415.7h0M73.8 394.9h0M56.4 414.3h0M78.1 390.9h0M88.4 364.5h0M89.6 373.6h0M55.9 376.4h0M28.9 388.2h0M33.6 406.5h0M81.6 393.3h0M90.7 363h0M29.2 361.1h0M24 354.7h0M98.5 397.5h0M65 395.3h0M80.8 348h0M94.1 374.9h0M37.9 384.1h0M24.4 361.5h0M94.2 410.1h0M26.7 413.7h0M39 408h0M71.3 401.6h0M51.1 397.8h0M37 399.8h0M33.5 349.7h0M78.3 366.5h0M84.9 347.5h0M38.2 399.7h0M69.4 347.5h0M90 401.2h0M73.4 386.7h0M85.6 367h0M80.5 394.1h0M45.6 385h0M94.3 415h0M60 349h0M57.2 368.4h0M39.2 394.4h0M37.9 361h0M82.7 385.2h0"/>
<path stroke-width="1.4" opacity="0.75" d="M24.7 358.6h0M72.6 382.9h0M32.3 388.3h0M99.1 376.2h0M46.2 359.2h0M32.7 393h0M95.1 361h0M72.2 412.9h0M72.4 391.6h0M74.1 401.2h0M99.1 411.7h0M99.4 393.4h0M82.7 353.7h0M93.1 406.4h0M98 361.5h0M31.5 414.8h0M59.5 366.8h0M79.5 358.2h0M95.1 366.5h0M35.8 402.1h0M78.1 367.4h0M80.8 414.7h0M82.6 361.3h0M77.3 368.9h0M47 352.5h0M95.7 364.6h0M59.7 367.5h0M91.6 416.9h0M98.4 368.6h0M81 355.8h0M40 416.7h0M74.2 354.8h0M36.8 396.3h0M35 365.2h0M41.6 367.7h0M21.9 415.9h0M36.3 355.8h0M94.7 411.3h0M76.1 357.7h0M29.6 368.9h0M54.5 396.2h0M92 398.9h0M84.9 352.7h0M65 391.6h0M59.3 349.9h0M55.7 411.2h0M51.4 401.4h0M88.5 389.7h0M29.1 363.2h0M79.5 386.5h0M32 399.6h0M84.1 348.6h0M32.8 346.1h0M26.8 415.9h0M71.2 363.9h0M67.2 399.1h0M94.4 363.1h0M83.4 394.6h0M27.9 370.5h0M93.9 364.4h0M89.2 358.6h0M44.5 354.6h0M87.8 399.8h0M88.5 361.4h0M35.1 386.2h0M70.7 364.9h0M28.6 370h0M82.8 403.8h0M69.9 384.4h0M32.9 397.3h0M33.6 414h0M31.6 362.6h0M44.4 357.5h0M54.4 352.7h0M69.7 391.9h0M30.1 401.1h0M69.3 370.6h0M92 392h0M30 394.3h0M29.3 387.4h0M37.6 351.4h0"/>
<path stroke-width="1.4" d="M46 389.6h0M71.8 358.3h0M86.1 349h0M53.8 399.2h0M72.1 415h0M68.9 372.7h0M46.5 396.7h0M45.5 388.7h0M65.5 416.5h0M41.4 375h0M55.3 352.3h0M55.3 350h0M54.6 360.8h0M67.7 347.9h0M99.5 397.2h0M76.8 364.8h0M61.6 397.3h0M89.1 349.7h0M48 356.9h0M92.4 379.2h0M81.7 395h0M41.5 394.9h0M57.3 406.8h0"/>
<path stroke-width="1.6" opacity="0.25" d="M24 410.7h0M56.7 370.8h0M28.3 351.4h0M55.1 352.9h0M48.6 368.8h0M90.6 399.2h0M60.2 394.6h0M63.3 372.1h0M38 355h0M79.1 363h0M82.8 369.1h0M96.1 407.8h0M88 397.2h0M69.8 410.1h0M88 378.4h0M73 412.6h0M77.8 362.1h0M73.9 385.6h0M51 398.9h0M32.7 378.9h0M91.4 411.7h0M71.3 390.5h0M23.2 398.1h0M69.8 376.7h0M81.6 383.9h0M84.1 370h0M56.3 346h0M92.5 375.4h0M40.2 405.5h0"/>
<path stroke-width="1.6" opacity="0.5" d="M85.7 417.1h0M51.5 349.5h0M74.2 384.9h0M88 346.1h0M38.6 365.1h0M82.1 387.3h0M86.4 355.8h0M44.5 402.7h0M83.5 377.1h0M75.5 355.4h0M27.7 347h0M53.2 369.6h0M39.4 363.4h0M37.7 386.4h0M96.8 417.2h0M80.5 407.9h0M25.6 347.6h0M86.8 381.3h0M70.2 364.1h0M82.8 364.4h0M47.6 399.6h0M88.6 373.4h0M70.9 345.7h0M89.5 369.5h0M33.1 386.2h0M32.1 378.8h0M51.5 416.8h0M75.1 359.7h0M72.7 404h0M72.7 352.3h0M68.8 416.4h0M90.9 352.7h0M90.1 406.1h0M43.5 345.4h0M52.9 354h0M86.6 354.5h0M98.5 371.7h0M83.1 369.6h0M50.4 384.9h0M90.6 389.4h0M88 377h0M92.5 405.1h0M44.8 350h0M39.8 377h0M40.2 353h0M33.5 399.6h0M68.4 405h0M37 391.8h0M71.5 387.5h0M83.9 385.1h0M59.8 347.3h0M42.4 394.3h0M32.6 353.2h0M42.2 347.1h0M41.4 368.2h0M87.1 352.6h0M49.6 366.8h0M86.5 399.4h0M83.5 372.4h0M61.8 361.8h0M42.8 349.4h0M41 407.1h0M93.8 377.5h0M31 376.8h0M99.7 386.3h0M41.9 366.2h0M84 405.8h0M25.7 407.4h0M67.8 378.4h0M93.5 407.3h0M49 402h0M42.9 352.1h0M90.3 380.8h0M44.4 362.4h0M80.6 380.6h0M39.5 377.3h0M82.9 363.5h0M85.9 380.5h0M35.8 389.7h0M38.8 344.9h0M43.7 347.8h0M96.9 390.5h0M64.4 367h0M48.1 396.9h0M66.7 352.6h0M87.9 359.7h0M63.1 362.7h0M94.5 383.1h0M36.8 348h0M56.7 362.1h0M70.8 377.3h0M99.1 365.1h0"/>
<path stroke-width="1.6" opacity="0.75" d="M40.2 355.2h0M60.5 366.8h0M87.1 348.8h0M86.9 410h0M85.4 401.2h0M21 397.3h0M96.9 387.9h0M32 352.8h0M54.7 367.2h0M87.9 373.1h0M74.9 378.6h0M35 402.3h0M66.4 399.1h0M29.2 398.8h0M87.8 406.4h0M90.9 382h0M73.3 404.5h0M58.2 364.9h0M24.2 410h0M34.2 413.1h0M97.9 416.6h0M93.6 382.8h0M83.2 359.4h0M41.4 393.2h0M35.5 387h0M21.6 358.1h0M56.7 360.1h0M27.2 344.9h0M72.1 414.7h0M81.9 363.5h0M32.2 386.2h0M88.8 398.8h0M50.6 397.3h0M97.2 375.9h0M85.5 365.8h0M44.7 370.3h0M56.7 392.9h0M62.9 353.8h0M96.8 416.5h0M81.4 406h0M74 406h0M81.7 387h0M79.9 381.7h0M72.5 413.1h0M92.8 383.1h0M83.5 356.3h0M91.1 387h0M48.2 384.5h0M76.3 345.5h0M86.9 373.9h0M22.3 363.5h0M70.3 355.3h0M33.7 346.6h0M41.5 347.2h0M93.1 374.1h0M27.7 409.2h0M94.5 357.6h0M72.2 405.2h0M55.6 397.8h0M52.5 352.4h0M98.8 397h0M24.8 416h0M55 362h0M24.1 414.4h0M86.8 412.4h0M73.4 372.4h0M85.5 401.5h0M41.5 404.9h0M87.8 415.9h0M54.6 358.2h0M31 379h0M50.2 383.3h0M51.9 414.3h0M38.9 366.2h0M55.1 371h0M57.9 373.9h0M69.1 379.9h0M64.6 367.1h0M41.6 363.4h0M55.5 391.7h0M35.5 400.7h0M32 363h0M61.1 369.6h0M28.5 375.6h0M59.4 370h0M59 369.8h0M56.2 353.7h0M85.1 388.2h0M47 371.2h0M42 372.1h0M36.7 416.7h0M25.3 405.1h0M52.1 350.5h0M28.4 360.9h0M75.5 381.2h0M44.7 382.8h0"/>
<path stroke-width="1.6" d="M46.2 393.6h0M71.6 385.4h0M33.5 346.8h0M85.8 363h0M52.8 396.9h0M72.9 359.6h0M44 350.9h0M93.5 408.6h0M98 398.5h0M43.6 354.7h0M37.7 397.9h0M35.1 400.9h0M86 366.6h0M75.8 355.4h0M31.8 398.9h0M51.3 408h0M48.8 414.4h0M70 377.6h0M81.5 371.2h0M89.8 397.2h0M55.2 376.1h0M58.8 352.6h0M94 404.1h0M68.1 359.2h0"/>
<path stroke-width="1.8" opacity="0.25" d="M43.4 345.5h0M73.8 414.7h0M49 391.1h0M90 411.5h0M35 375.4h0M99.7 355.6h0M88.3 359.4h0M39.5 367h0M73.1 354.5h0M96.2 371.9h0M46.9 390h0M21.4 401.6h0M40.1 347.9h0M68.6 409.8h0M91.7 381h0M45.5 353.1h0M56.1 401.9h0M74.1 345.1h0M32 351.4h0M49.6 390h0M99 384.8h0M88.9 411.9h0M87.4 386.9h0M41.7 360.1h0M85.3 382.2h0M52 357.4h0M65 355.8h0M98.2 375.7h0M95.6 393.3h0M36.2 355.7h0M30.2 373h0"/>
<path stroke-width="1.8" opacity="0.5" d="M37.5 386.3h0M98.4 380.8h0M44.7 398.3h0M20.4 407.3h0M81.6 379.7h0M95.3 375.6h0M71.6 381.9h0M55.5 401.7h0M91.7 383.4h0M52.5 382.1h0M32.7 400h0M71.6 381.6h0M34 396.9h0M71.5 392.3h0M93.9 402.3h0M71.4 410h0M76.9 371.3h0M77 350.7h0M63.4 409.5h0M28.4 409.6h0M89.4 404.3h0M73.8 407.2h0M70.6 415.5h0M82.1 399.9h0M85 407.8h0M70.6 367.9h0M60.6 348.1h0M35.1 413.9h0M33.5 416.5h0M41.2 362.2h0M67.4 344.7h0M33.4 384.8h0M43.3 348.8h0M59.8 376.5h0M30.6 367.3h0M78.7 368.4h0M86.2 396.6h0M78 347.9h0M58.8 368.8h0M31.8 345.4h0M34.6 352.6h0M82.7 371h0M60.7 365h0M73.9 386.2h0M46.3 388.5h0M67.1 402.9h0M52.9 360.9h0M88.3 358.5h0M57 391.8h0M94.8 360.1h0M81.2 382.6h0M87.4 394.5h0M80.2 353.9h0M61.4 369.2h0M59.5 375.7h0M33.6 412.2h0M29.1 345.9h0M34.1 353.1h0M53.6 407.3h0M25.3 400.3h0M47.3 381.1h0M90.9 389.5h0M86 388.3h0M51.2 350.3h0M34.7 365.2h0M87.1 369.6h0M32 347.6h0M40.8 359.9h0M69.8 385.4h0M59 376h0M27.6 353.7h0M93.2 367.7h0M67.6 368.5h0M55.3 403.8h0M34.1 384h0M93.8 373.2h0M35.1 352.5h0M55.1 410.6h0M59.3 375.5h0M63.6 368.1h0M97.7 377.7h0M23.3 367.7h0M22.9 366.4h0M28.6 385.9h0M52.2 401.3h0M66.3 373h0M87.6 369.2h0M93 401.8h0M73.8 400.5h0M70.2 409.8h0M83.7 356.3h0"/>
<path stroke-width="1.8" opacity="0.75" d="M62.8 367.7h0M56.4 391.4h0M43.2 352h0M43.6 388.2h0M84 414.1h0M44.2 384.4h0M73.7 371.2h0M85.5 375.3h0M29.5 388.1h0M90.7 407.2h0M89 393.8h0M36.4 387.9h0M45.4 348h0M76 350.1h0M22.7 367.9h0M47.4 383.1h0M94.1 377.8h0M53.8 353.4h0M44.5 385h0M76.6 347.3h0M99.6 393.3h0M34 389.6h0M30.5 376.2h0M48.4 406h0M25.9 359.8h0M55.4 393.9h0M70.8 353.8h0M49.7 399.5h0M62.9 351.3h0M83.8 380.1h0M34.9 391h0M47.1 383.6h0M72.8 346.1h0M36.8 397.2h0M96 384.2h0M23.2 346.9h0M70.4 356h0M97.4 348.5h0M39 347.3h0M36.2 360.6h0M72.6 393.8h0M27.9 344.5h0M71.6 406.9h0M45.9 347.7h0M67.3 410.9h0M26.4 408.4h0M82.9 371.1h0M97.6 369.4h0M56.5 378.3h0M90.2 374.4h0M64.9 366.4h0M35.5 366.3h0M44.2 409.7h0M28.9 361.8h0M73.3 412.8h0M39.6 366.5h0M79 416h0M80.6 387.9h0M67.4 387.5h0M23.6 366.7h0M41.5 383.1h0M93.1 345.4h0M75.5 360.8h0M51.9 362.2h0M34.5 387.2h0M35.3 351.8h0M42.4 405.2h0M88.4 410.6h0M28.5 381.3h0M39.9 347.6h0M66.1 348.3h0M45.8 356.5h0M73 358.2h0"/>
<path stroke-width="1.8" d="M51.9 367.8h0M56.7 349.4h0M50.7 409.8h0M77.5 379h0M89.3 389.6h0M73.7 379.3h0M98.7 382.5h0M53.3 355.1h0M38.6 356.2h0M24.3 407.2h0M29.3 361.8h0M78.1 388.8h0M36.7 358.9h0M67.6 351.2h0M26.6 349h0M22.1 404.4h0M98.2 379.3h0M90.4 389.4h0M21.8 408.4h0M96.6 379.3h0M29 361.6h0M80.4 380.2h0"/>
<path stroke-width="2" opacity="0.25" d="M87.1 385.5h0M28.6 381.9h0M78.7 379.6h0M60.4 354.8h0M45.3 406.3h0M29.6 353.3h0M23.3 353.6h0M47.7 374.5h0M79.3 349.7h0M55.1 395.1h0M47.4 380h0M71.2 346.4h0M45.2 413.9h0M24.7 345.4h0M55.2 377.5h0M85.5 349.8h0M39.7 402.9h0M84 412.4h0M92.2 377.1h0M34.4 360.7h0M46.4 345.5h0M81.3 404h0M78.8 364.8h0M67 409.2h0M99.1 371.9h0M23.1 391.9h0M70.9 369.5h0M49.3 344.7h0M66.9 406.4h0"/>
<path stroke-width="2" opacity="0.5" d="M49.4 403.8h0M68.1 359.9h0M68.1 390.5h0M67.9 416.4h0M31.4 401.1h0M86.9 355h0M52.8 369.8h0M21.7 395h0M55.1 383.4h0M22.3 374.4h0M31.6 355.2h0M91.6 354.9h0M74.8 368.9h0M71.9 362.7h0M80.1 372.1h0M29 380h0M70.5 395.8h0M98.6 370.9h0M56.1 350h0M81.4 351.9h0M47.9 383h0M37.3 403.9h0M89.9 354.6h0M66.5 367.8h0M88.2 364.8h0M80.3 367.2h0M81.1 354.3h0M24.2 349.1h0M31.3 407.6h0M62.6 350.1h0M44 405.7h0M24.2 348.8h0M46.5 401.3h0M33.3 378.4h0M66.8 394.5h0M79 417.1h0M87.5 377.2h0M75.8 350.2h0M72.4 371.4h0M28.6 407.5h0M71.5 378.6h0M98.1 406.8h0M85 405.8h0M47.2 384h0M55.8 360.1h0M31.7 353.4h0M39.8 353.8h0M24 396.2h0M96.3 412.2h0M46.4 401.1h0M98 380h0M35.6 379h0M81.9 349.6h0M71.3 349.4h0M92.3 411.9h0M36.1 360.8h0M23.8 352.2h0M41.6 349.7h0M42.2 358.8h0M66.8 348.5h0M48.5 355h0M87.6 355.8h0M48.5 411.2h0M98 414.1h0M49.4 351.7h0M53.6 388h0M48.5 363h0M69.3 411.1h0M94.1 348.5h0M48.5 395.5h0M43.5 401.6h0M74.6 363.2h0M87.4 389.9h0M57.3 349.6h0M88.7 400.4h0M77 402.4h0M93.1 374.8h0M59.8 360.2h0M84.5 404.4h0M95.8 375.5h0M27.9 401h0M56 406.8h0M36.6 378.1h0M86.6 378.5h0M42.9 388.5h0M53.3 383.2h0M66.9 414.2h0M56 363h0M37.1 374.9h0M82.2 386.7h0M59.7 352.9h0M54.3 414h0M31.2 389h0M33.7 393.4h0M29.8 412h0M50 406.1h0M38.4 388h0M44.7 407.3h0M31.1 372.8h0M48.6 399.3h0M41.9 367.1h0M69 353.6h0"/>
<path stroke-width="2" opacity="0.75" d="M27.8 399.1h0M35.3 378.8h0M40.5 356.3h0M76 353.9h0M72.2 398.1h0M38.8 377h0M33.2 413.3h0M27.5 381.6h0M71.4 345.9h0M67.9 416.4h0M92.3 407.7h0M32.6 362.7h0M83.1 406.3h0M88.5 403.5h0M72.4 396.4h0M57.2 378h0M38.1 348h0M49 353.4h0M71.8 363.9h0M41.7 362.2h0M89.4 397.4h0M73.8 367.6h0M84.3 356.3h0M97.1 364.2h0M43.1 368.9h0M83.7 385.8h0M48.1 359.8h0M82.4 359.4h0M20.3 368.8h0M30.8 409.7h0M83.7 411.3h0M44.5 377.3h0M24.8 369h0M57.1 375.7h0M27.4 374.7h0M86.4 414.7h0M37.7 416.2h0M44.3 351.4h0M81.9 394.8h0M97.7 372.7h0M21.4 350.9h0M39.1 366.8h0M22.4 351.5h0M82.1 348.9h0M97.3 383.7h0M51.3 349.4h0M71.1 415.5h0M88.5 346.9h0M50.8 365.5h0M90 387.7h0M87.5 412h0M71.8 370.4h0M93.3 344.9h0M87.8 356.4h0M51.1 357.2h0M69.9 392.3h0M87 362.4h0M85.2 374.6h0M40.8 415.3h0M25.6 348.1h0M25.4 407h0M28.3 415h0M50 390h0M67.7 403.6h0M36.9 353.2h0M41.5 362.1h0M52.3 373.3h0M93.9 415.4h0M61.4 374.7h0M97.4 366.2h0M20.3 349h0M31.6 413.4h0M40.5 387.7h0M24.7 357.8h0M97.3 370.3h0M73.7 353.6h0M50.2 382.5h0M38.6 399.7h0M86.7 402.5h0M99.4 416.1h0M41.5 396.7h0M33.9 388.9h0M86.3 376.6h0M59.5 362.7h0M89.3 351.2h0M46.9 351.5h0M60.4 365.7h0M72 393.6h0M81 415.8h0M79.2 349.6h0M36.2 363.1h0M55.7 407.7h0M99.4 350.5h0M56.8 385.4h0M97.8 390.3h0M21.6 345h0M58.9 382.1h0M74.5 415.5h0M41.3 380.5h0M33.2 401.2h0M71.9 348.2h0M87.7 355.9h0M28.6 377.7h0M53.8 385.5h0M32.3 345.9h0M96.2 413.3h0M55 364.1h0M35.5 361.1h0M73.5 365.1h0"/>
<path stroke-width="2" d="M40 388h0M94.4 399.6h0M69.9 352.9h0M54.9 391.1h0M73.1 344.8h0M80.6 372.2h0M54.8 414.6h0M88.9 389h0M59.4 368.9h0M38.2 350.3h0M28.4 414h0M93.4 399.2h0M85 399.5h0M55.9 374.4h0M57.6 358.3h0M56.7 354.3h0M82.5 378.8h0M44.9 365.5h0M92 389.4h0M51.2 354.4h0M69.2 376.4h0M44.8 406.3h0M85.3 388.9h0M29.9 387.6h0"/>
<path stroke-width="2.2" opacity="0.25" d="M73.8 362.9h0M34 414.3h0M80.2 352.8h0M48.4 386.4h0M93.7 367.8h0M25 397.2h0M85.1 404h0M87.5 399.9h0M32.5 360.1h0M96.8 410h0M70.3 358.8h0M22.1 410.7h0M69.2 365.8h0M81.3 401.6h0M68.5 355.7h0M37.4 397.3h0M53.4 390.4h0M76 415.8h0"/>
<path stroke-width="2.2" opacity="0.5" d="M56.2 355.1h0M38 349.6h0M89.3 403.5h0M91.8 373.4h0M83.2 405h0M75 400.2h0M47.2 346.2h0M59.9 362.3h0M45.1 412.7h0M62.5 360.7h0M46.8 361.7h0M20.5 388h0M33.1 391.6h0M39.6 397.3h0M36 369.8h0M88.9 344.7h0M48.2 350h0M91.8 401.1h0M34.2 392.3h0M32.7 361.7h0M70.3 345.7h0M28.9 374.5h0M83.1 392.2h0M21.8 403.4h0M81.2 415.6h0M77.4 367.3h0M99.7 399.9h0M74 392.5h0M73.4 417.1h0M73.4 377.2h0M30.2 376.3h0M74.6 359.6h0M87.7 413.4h0M97.8 380.2h0M70.5 355.3h0M27 401.3h0M33.6 345.6h0M43.8 357.8h0M66.8 415.2h0M57.8 374.7h0M72.7 383.4h0M59.5 355.8h0M73.5 413.6h0M90.1 384.5h0M32.8 376.8h0M66.6 377.7h0M60.5 351.9h0M78.9 364.6h0M37.8 400h0M76.8 372.2h0M29 382.1h0M45.3 348.5h0M95.8 413.8h0M78.9 364.9h0M92.4 381.3h0M80.9 411.4h0M92.1 393.7h0M70.9 392.3h0M48.3 389.3h0M99.8 365.1h0M20.6 358.5h0M34 353.8h0M59.3 361.9h0M82.5 370h0M81.2 397.6h0M74 385.8h0M85.5 389.4h0M57.1 351.7h0M96.5 406.6h0M32.5 393.9h0M36.2 395h0M80.4 358h0M20.5 348.9h0M84.3 401h0M43.8 399.9h0M54.1 385.5h0M88.5 407h0M73.5 373.3h0M74.1 351.2h0M91.6 367.2h0M52.3 402h0M40.3 399.8h0M82.8 393.8h0M71 398.3h0M41.4 378.7h0M84.2 404.6h0M26.1 405.4h0M79.3 355.7h0M84.8 415.1h0M68.9 407h0M31.8 401.8h0M70.8 413.3h0M45.3 397.9h0M91.8 411.8h0M66.4 365h0M27.4 413h0M95.5 384.9h0M70.2 402.3h0M75.7 382.3h0M67.5 410.8h0M24.2 360.1h0M71.7 402.2h0M32.5 383.4h0M82.4 384.6h0M45.3 380.4h0M69.5 413.6h0M59 353.3h0M97.8 395.4h0M75.8 363.7h0M45.5 404.8h0M91.8 389.2h0M25.4 413.7h0M33 395.8h0M57.6 374.5h0M85.3 349.7h0M74.3 407.7h0M97.3 414.3h0"/>
<path stroke-width="2.2" opacity="0.75" d="M55 413.3h0M91.3 382.5h0M23.5 357.4h0M71.7 408h0M41.8 408.4h0M97.4 412.3h0M31.7 344.9h0M33.4 392.3h0M55 383.9h0M73.9 390.8h0M70.9 352.5h0M21.9 358.3h0M67.8 355h0M22 397.4h0M54.7 390.3h0M74.6 413.8h0M54.3 361.5h0M29 416h0M72.6 355.9h0M23.1 354.5h0M92.9 412.8h0M39.3 360.8h0M94.7 393.2h0M38 405.8h0M27.2 409h0M24.2 369h0M91.1 394.8h0M72.3 391.1h0M94.5 362h0M48.9 368.7h0M98.1 375h0M81.1 367.9h0M93.9 359h0M49.2 361.3h0M35.1 365.1h0M22 394.4h0M86.8 388.7h0M22.5 366.5h0M99.8 371.3h0M46.5 410.9h0M88.1 349.4h0M66.6 372.8h0M34.1 353h0M20.4 353.1h0M37.4 359h0M57.3 366.1h0M24.9 398.1h0M54 388.5h0M89.5 378h0M54.6 400.6h0M32.7 375.1h0M95.4 398.6h0M42.4 385.5h0M88.9 396.1h0M23 408.3h0M43.1 384.4h0M64.2 363.2h0M45.5 381.4h0M67.3 400.3h0M79.8 349.8h0M51.1 350.3h0M74.1 394.2h0M97 377.1h0M39.5 353.6h0M52.9 391.8h0M71.9 397h0M90 389.6h0M56.5 389.6h0M25 402.6h0M62.3 409.1h0M90.2 363.3h0M34.2 376.9h0M56.8 356.7h0M73.3 379h0M67.1 388.3h0M94.7 374.9h0M28.1 351.7h0M94.1 398.8h0M86.2 371.7h0M85.1 395h0M43.4 346.8h0M72.3 379h0M78.6 352.1h0M49.3 363.3h0M79.5 376.3h0M27.7 353.6h0M91.9 398.3h0M90 393.5h0M84.1 353h0M56.9 353h0M42 354.5h0M32.7 381.9h0M90.5 360.2h0M43.5 360.6h0M77.7 364.9h0M87.8 391.1h0M44.3 410.2h0M98.8 397.9h0M63.2 374.4h0M93.2 355h0"/>
<path stroke-width="2.2" d="M40.6 364.5h0M30.8 415.9h0M47.6 360.8h0M28.3 369.5h0M84.1 390.3h0M43.7 380.5h0M86.9 366h0M44.8 403.4h0M71.9 395.2h0M34.8 386.7h0M93.2 372.3h0M94.5 352.1h0M39.1 350h0M47.7 403.1h0M95 352.8h0M21 352.9h0M33.7 399.7h0M36.2 395.7h0M58.1 359.2h0M38.2 345.1h0M89.9 359.4h0M85.2 404.9h0"/>
</g>
<g filter="url(#bl2)" stroke="#02020a" stroke-linecap="round" opacity="0.45">
<path d="M61.66 380.85L61.66 415.49" stroke-width="9"/>
<path d="M76.95 382.32L76.95 412.54" stroke-width="4"/>
<path d="M26.24 363.16L56.03 380.85" stroke-width="3.5"/>
<path d="M23.02 372.01L24.63 389.69" stroke-width="6"/>
<path d="M31.88 407.38L45.56 414.75" stroke-width="4"/>
<path d="M90.64 347.69L98.69 358.74" stroke-width="3"/>
</g>
<text x="23.2" y="351.5" font-size="3.9" fill="#e4e4e4" textLength="9.1" lengthAdjust="spacingAndGlyphs">DAPI</text>
<rect x="88" y="413.3" width="10.8" height="0.8" fill="#d8d8d8"/>
<rect x="90.7" y="415" width="5.5" height="1.1" fill="#bbbbbb"/>
</g>
<g clip-path="url(#mc2)">
<rect x="105.4" y="344" width="80.8" height="73.7" fill="#07050b"/>
<g stroke="#22a844" stroke-linecap="round" filter="url(#bl1)" fill="none">
<path stroke-width="1" opacity="0.25" d="M184.4 406.5h0M138.7 393.9h0M177.6 414.8h0"/>
<path stroke-width="1" opacity="0.5" d="M150.4 372.3h0M180.3 356.5h0M163 373.3h0M142.2 413.1h0"/>
<path stroke-width="1" opacity="0.75" d="M164 379.2h0M123.1 374.5h0M179.9 387.4h0M148 345.2h0"/>
<path stroke-width="1.2" opacity="0.25" d="M170.1 358.5h0M164.3 346.7h0M144 345.1h0M184.5 377.5h0M131.1 362.5h0"/>
<path stroke-width="1.2" opacity="0.5" d="M129.4 379.5h0M139.6 401.6h0M111.9 416h0M130.1 354.2h0M138 381.6h0M174 353h0"/>
<path stroke-width="1.2" opacity="0.75" d="M125.3 381h0M140.6 374.7h0M154.3 344.9h0M132.1 348.1h0M117.2 404.5h0M142.7 348.7h0M149.8 407.9h0M134.1 388.3h0"/>
<path stroke-width="1.4" opacity="0.25" d="M119.9 416.2h0M142 398.8h0M124.3 374.1h0M107.9 351.9h0"/>
<path stroke-width="1.4" opacity="0.5" d="M184 348.4h0M138.1 406.8h0M119.7 359.7h0M166.9 368.3h0M119.6 398.6h0"/>
<path stroke-width="1.4" opacity="0.75" d="M171 351.2h0M114.6 380.2h0M184.3 345.4h0M124.1 348.1h0"/>
<path stroke-width="1.6" opacity="0.25" d="M114.8 410.2h0M177 405.5h0M172.9 416.5h0"/>
<path stroke-width="1.6" opacity="0.5" d="M183.1 397.7h0M139.5 350.8h0M151.2 391.3h0M156.7 355.7h0M140.5 373.4h0M123.4 360.4h0M161.2 371.5h0M135.5 398.7h0"/>
<path stroke-width="1.6" opacity="0.75" d="M153.4 415.9h0M182.4 345.3h0M129.9 350.5h0M129.8 389h0M118.1 403.9h0M182 358.4h0"/>
<path stroke-width="1.8" opacity="0.25" d="M179.7 404.9h0M140.6 397.6h0M119.5 399h0M127.7 345.3h0M174 411.2h0M136.9 408h0"/>
<path stroke-width="1.8" opacity="0.5" d="M166.7 358.6h0M171.7 404.6h0M150 374.2h0M167.2 356.1h0M122.3 412.9h0M114.1 386.5h0M124.2 400.4h0M158.9 361.1h0M128.4 396.7h0"/>
<path stroke-width="1.8" opacity="0.75" d="M155 371.2h0M182.5 365.1h0M168.1 350.5h0M159.2 399.2h0M115.6 357.3h0M178.6 403.7h0M125.3 346.1h0"/>
<path stroke-width="2" opacity="0.25" d="M166.2 344.7h0M112.7 349.4h0"/>
<path stroke-width="2" opacity="0.5" d="M124.4 384.7h0M152.7 370.7h0M168.6 417h0M134.3 402.3h0M155.8 399.6h0M126.1 415.9h0"/>
<path stroke-width="2" opacity="0.75" d="M172.7 378.7h0M166.8 391.9h0M128.2 401.4h0M154.1 381.8h0M180.9 360.2h0"/>
</g>
<text x="108.8" y="351.5" font-size="3.9" fill="#e4e4e4" textLength="25" lengthAdjust="spacingAndGlyphs">FAM111B high</text>
<rect x="173.9" y="413.3" width="10.8" height="0.8" fill="#d8d8d8"/>
<rect x="176.6" y="415" width="5.5" height="1.1" fill="#bbbbbb"/>
</g>
<g clip-path="url(#mc3)">
<rect x="191.1" y="344" width="80.7" height="73.7" fill="#07050b"/>
<rect x="191.1" y="344" width="80.7" height="73.7" filter="url(#fRh)"/>
<g filter="url(#bl2)" stroke="#02020a" stroke-linecap="round" opacity="0.8">
<path d="M233.06 380.85L233.06 415.49" stroke-width="9"/>
<path d="M248.4 382.32L248.4 412.54" stroke-width="4"/>
<path d="M197.56 363.16L227.42 380.85" stroke-width="3.5"/>
<path d="M194.33 372.01L195.94 389.69" stroke-width="6"/>
<path d="M203.2 407.38L216.92 414.75" stroke-width="4"/>
<path d="M262.12 347.69L270.19 358.74" stroke-width="3"/>
</g>
<g stroke="#d81e2e" stroke-linecap="round" filter="url(#bl1)" fill="none">
<path stroke-width="1" opacity="0.25" d="M193.6 346.2h0M235.6 396.7h0M209.3 379.2h0"/>
<path stroke-width="1" opacity="0.5" d="M242.7 360.4h0M270 402.4h0M195.4 367.2h0M219.6 372.5h0M210 392.3h0M238 410.6h0M243 351.9h0M205.7 371.7h0M232.2 367.9h0M213.4 416.6h0M234.4 351.3h0M263 390h0M215 362h0M227.8 377.7h0M216.7 350.2h0M194.4 357.6h0"/>
<path stroke-width="1" opacity="0.75" d="M269.3 363.3h0M230.2 353.1h0M247.8 379.6h0M202.2 409.8h0M214.4 353.9h0M228.2 380h0M212.7 404.6h0M269.8 368.1h0M238.4 349.3h0M210.4 389.6h0M269.7 361.3h0"/>
<path stroke-width="1" d="M271 351.3h0M239.5 364.4h0M255.4 415.1h0M263.6 385.4h0M255.3 363h0"/>
<path stroke-width="1.2" opacity="0.25" d="M221.5 365h0M266.2 364.7h0M223.8 381.9h0M257.6 398.5h0M258.3 353.2h0M254.6 350.5h0M249.3 374.6h0M199.3 382.8h0M212.1 384.8h0"/>
<path stroke-width="1.2" opacity="0.5" d="M243.4 416.6h0M242.3 347.3h0M248.7 378.4h0M222.2 358.9h0M218.9 358h0M256.7 407.7h0M253.2 412.3h0M271 348.1h0M264.1 403.8h0M260.8 396.2h0M242.8 370.9h0M213.3 349.3h0M222.5 411h0M220 381.4h0M237.4 361.3h0M260.9 356h0M231.3 374.4h0M244.4 367h0M245.6 379.7h0M218.5 364.3h0M198.6 375.5h0M238.7 357.8h0M262.7 380.2h0M260.8 357.9h0M241.5 415.3h0M211.9 355.4h0M237.5 364.3h0M265.1 414.5h0M225.4 385.1h0M202.8 413.4h0M205.9 356.3h0M251.9 345.5h0M271 367.1h0M239.6 413.9h0M200.4 400.4h0M246.3 345.3h0M241.8 379.5h0M241.8 405.3h0M243.1 371.9h0M210.8 415.5h0M259.9 375.7h0"/>
<path stroke-width="1.2" opacity="0.75" d="M202.7 352.7h0M267.7 359.8h0M254.6 366.8h0M240.5 359.5h0M234.7 367.7h0M224.3 404.4h0M218.6 356.8h0M206 378h0M246.2 414.1h0M201.9 346.4h0M215.1 417h0M221.9 395.3h0M243.6 358.3h0M207.5 381.6h0M218.9 347h0M197.7 395h0M217.6 394.5h0M251.2 355h0M271.1 400.9h0M218.1 369.8h0M199.8 359.8h0M263.3 394.7h0M205.1 398.8h0M253.2 383.1h0M261.4 382h0M248.6 376.8h0M214.1 393.7h0M259.1 400.3h0M206.1 375.9h0M266.1 378.6h0M244.6 401h0M224.1 357.4h0"/>
<path stroke-width="1.2" d="M230.3 364.6h0M200.6 353.9h0M250.9 353.1h0M207.7 355.3h0M248.7 357.9h0M201.7 393.3h0M241.9 399.7h0M201.8 379.7h0M265.5 378.6h0M244.3 365.6h0M261.4 368.3h0"/>
<path stroke-width="1.4" opacity="0.25" d="M252.6 416.1h0M261.9 356.5h0M211.9 381.9h0M264.2 407h0M223.7 367.3h0M259.8 393h0M262.6 404.4h0M219.5 413h0M216.1 351.2h0"/>
<path stroke-width="1.4" opacity="0.5" d="M223.7 358.9h0M225.5 354.7h0M240.6 409.6h0M196.1 385.9h0M261 353.6h0M263.1 390.8h0M205.9 349.8h0M204.4 378.5h0M245 379.9h0M238.3 350.5h0M261.8 393.1h0M216.9 395.7h0M270.1 381.6h0M192.4 414.6h0M270.5 383.6h0M262.3 370.2h0M256.3 375.9h0M259.4 399.4h0M197.3 414.1h0M213.2 349.9h0M245.3 388.7h0M222.8 361.6h0M231.1 361h0M224.6 414.3h0M261.7 353.9h0M195.8 403.5h0M239.1 400.1h0M203.4 361.3h0M224.9 352.8h0M222.1 386h0M213.1 363.2h0M231.6 344.9h0M219 381.8h0M197.4 346.6h0M257.6 347.9h0M192.8 351h0M222.6 344.5h0M242.6 349.1h0"/>
<path stroke-width="1.4" opacity="0.75" d="M192.6 352.7h0M256.5 371h0M238.8 400.3h0M267.3 388.6h0M197.5 354.2h0M250.9 359.1h0M267.4 397h0M192.9 403.7h0M242.2 411h0M260.2 416.8h0M255.1 347.7h0M202.3 358.1h0M199 383.7h0M254 410.9h0M203.6 363.1h0M246.4 373.9h0M245.8 355.8h0M206.3 362.4h0M251.6 352.8h0M258.5 415.4h0M223.3 417.1h0M239.3 381h0M227.3 352.7h0M211.1 352h0M246.1 351.3h0M237.1 381.6h0M259.4 369.8h0M215.5 367.3h0M211.5 349h0M238.2 395.2h0M268.9 364.1h0M205.1 345.3h0M219.3 407.5h0M209.9 380.7h0M231.6 348.3h0M227.9 363.9h0M195.2 397.6h0M201.2 405.5h0M268.1 391.9h0M221.5 364.6h0M253.2 366.5h0M223.2 347.1h0"/>
<path stroke-width="1.4" d="M247 351.5h0M202.1 383.4h0M206.8 414.3h0M257.1 385.5h0"/>
<path stroke-width="1.6" opacity="0.25" d="M230.1 366.1h0M203.8 353h0M208.5 376.5h0M260 409.1h0M219.1 392.8h0M253.3 380.4h0M197.8 345.4h0M221.7 404.5h0M244.1 361.4h0M251.3 379.8h0M242.3 360.8h0M198.9 373.8h0M206.5 359h0M233.2 374.8h0"/>
<path stroke-width="1.6" opacity="0.5" d="M225.5 396.2h0M211.4 389.9h0M215.5 410.8h0M222.5 393.7h0M193.4 402.9h0M194.7 397.6h0M264.5 392.5h0M191.6 350.7h0M254.3 366.4h0M231 354.4h0M212.4 366h0M266.4 406.8h0M217.8 368.1h0M217.9 409.8h0M243.8 391h0M209.2 383.3h0M261.3 415.4h0M257.7 402.7h0M221.6 353.7h0M212.4 380.3h0M266.9 383.6h0M219.3 366.6h0M261.6 359.1h0M268.7 395.2h0M222.4 370.9h0M217.7 372.3h0M219.8 408.5h0M236.9 346.1h0M240.3 369.8h0M211 356.4h0M211.9 401.8h0M239 391.8h0"/>
<path stroke-width="1.6" opacity="0.75" d="M259.7 379.1h0M215.4 357.9h0M264.1 375.6h0M216.6 364.3h0M254.3 387.7h0M203.4 415h0M263.3 373.5h0M227.1 413.8h0M224 395.8h0M258.7 373.7h0M202.6 397.4h0M265.2 415.9h0M257 362.2h0M243.5 405h0M207.7 400.6h0M262.8 396.6h0M268 346.4h0M267.7 396.7h0M211.2 415h0M239.3 381h0M223.3 367.9h0M212.7 395.4h0M261.3 363.9h0M220.2 411.2h0M200 399.8h0M211.3 355.1h0M242.3 412.8h0M248.4 365.8h0M258.7 367.3h0M221.6 362.3h0M244.6 399.7h0M239.6 392.6h0M254.3 395.8h0M255.1 409.7h0M252.7 402.8h0M228.5 363h0M196 401.8h0M213.1 385.4h0"/>
<path stroke-width="1.6" d="M206.6 371.6h0M207 351h0M229.7 347.9h0M269.6 376.6h0M260.1 388.8h0M207.3 384.1h0M267.3 359.4h0M194.8 357.5h0M254.1 411.2h0M231.3 374.5h0M219.7 374.9h0M223.8 410.7h0M261.7 359.7h0M236.1 356.9h0M203.5 375.3h0"/>
<path stroke-width="1.8" opacity="0.25" d="M203.4 394.8h0M250.9 352.5h0M226.8 387.8h0M193 379.2h0M205.8 415h0M259.9 403.4h0M239 395.2h0M241.2 391.8h0M192.1 396.8h0M229.3 371.6h0M240.7 380.8h0M268.5 379.6h0M208.4 361.2h0"/>
<path stroke-width="1.8" opacity="0.5" d="M203.3 398.3h0M209 402.4h0M195.4 413.9h0M230.3 370.1h0M218.4 380.8h0M227.7 356h0M247.1 404.8h0M239.6 407.9h0M254.9 392.6h0M215.5 370.3h0M238.8 397.7h0M268 344.6h0M266.3 347.8h0M223.8 362.6h0M194.9 387.3h0M247.2 353.6h0M251.7 377.5h0M260.6 365.1h0M253.4 398.4h0M258.8 393h0M247.8 392.6h0M221.5 362.5h0M201.1 412.2h0M219.8 415.4h0"/>
<path stroke-width="1.8" opacity="0.75" d="M253.5 361.5h0M224.9 413.2h0M227.8 354.5h0M229.2 350.3h0M253.3 376.5h0M259.5 384.5h0M265.5 399.5h0M271 362.4h0M202.4 354.1h0M210.5 400.1h0M222.4 372.4h0M271.1 416.9h0M240.8 395.2h0M266.3 400.4h0M239.3 398h0M197.1 406.9h0M211.8 355.5h0M256.6 372.6h0M264.3 360.3h0M257.5 388.2h0M226.5 392.5h0M197.1 416.8h0M211.4 368.7h0M256.8 389.7h0M241.5 404.9h0M266 390.4h0M249.3 404.8h0M249.2 365.9h0M219.9 360.1h0M207.5 376.8h0M259.4 382.4h0M195.6 368.1h0M270.8 371h0M258.7 350.6h0M249.4 345.2h0"/>
<path stroke-width="1.8" d="M211.5 407.7h0M220.4 415.5h0M246.1 374.1h0M198.2 394.1h0M199.4 417.1h0M196.5 352.7h0M257.7 358.5h0M250.4 369.3h0M216.2 393.8h0M249.8 378.9h0M219.3 393.9h0M244.3 372.4h0M262 362.6h0"/>
<path stroke-width="2" opacity="0.25" d="M253.7 397.9h0M247.2 371.3h0M263.8 356.8h0M219.2 406.9h0M195.7 366.1h0M220 411.9h0M255.4 374.3h0M210.2 387h0M239.7 368.9h0M235.4 352.8h0M217.5 367.2h0M225.4 387.7h0M247.4 371h0M250.2 379.1h0M262.8 402.3h0M249.1 369.5h0M254.8 390.6h0"/>
<path stroke-width="2" opacity="0.5" d="M249.4 394.9h0M237.8 356.6h0M245.3 382.3h0M254.2 363.8h0M259.1 384.4h0M199.4 403.5h0M211.8 396.1h0M270.6 383.7h0M235.2 361.8h0M239.5 365.2h0M193.3 384.5h0M270.5 415.4h0M240.5 366.9h0M242.4 376.3h0M268.2 368.5h0M243.5 412.7h0M257.7 346.9h0M256.6 388.3h0M216.7 356.3h0M262.7 388.8h0M232 373.3h0M263.3 402.7h0M250.3 357.2h0M241.1 370.8h0M263.7 380h0M197.4 405.3h0M255.2 415.8h0M257.8 404h0M211.9 393.3h0M222.7 389.9h0M255.9 398.4h0M213.8 371.5h0"/>
<path stroke-width="2" opacity="0.75" d="M194 397.9h0M255.4 376.8h0M229.7 394.3h0M256.7 398h0M197.8 351.4h0M248 388.9h0M220 372.8h0M214.6 353.4h0M255 409h0M238.7 390.2h0M207.8 350.1h0M203.9 415.4h0M257.4 383.9h0M196.6 413.5h0M222.8 392.5h0M231 375.3h0M218.6 355.3h0M216.8 391h0M209.2 378.2h0M260.7 377.2h0M261.6 354.2h0M257.2 372.3h0M201.7 393.9h0M262.8 407.7h0M219.7 400.8h0M196.7 358.4h0M215.8 388.5h0M224.1 364.8h0M255.2 349.2h0M195.7 409.1h0M208.2 376h0M214.6 349h0M206.9 373.9h0M200 407.8h0M263.8 378.7h0M199.7 375h0M216.2 408.7h0M220.6 415.5h0M215.7 388.8h0M258.8 388.5h0M207.4 373.6h0M226.1 348.7h0M253.3 360.6h0M252.5 382.8h0"/>
<path stroke-width="2" d="M219.9 359.3h0M228.5 369h0M207.3 390.8h0M200.7 385.4h0M214.4 376.5h0M258.4 354.1h0M258.3 359.7h0M238.3 354.6h0M219.5 388.6h0M209.4 383.1h0M269.2 399.9h0M229 377.7h0"/>
<path stroke-width="2.2" opacity="0.25" d="M226.1 385.7h0M240.3 353.8h0M252.1 397.4h0M227.8 377.5h0M265.3 401.6h0M226.8 371.6h0"/>
<path stroke-width="2.2" opacity="0.5" d="M201 351.7h0M252.5 363.2h0M257.7 366.8h0M195.5 378.4h0M214 414.6h0M267.2 381.3h0M225.9 409.9h0M210.9 344.5h0M233 368.9h0M240.3 405.1h0M197.2 380.7h0M243.6 372.5h0M266.5 378.1h0M208.1 398.2h0M209.8 402.8h0M223.5 403.8h0M240.6 371.8h0M254.7 363.6h0"/>
<path stroke-width="2.2" opacity="0.75" d="M254 398.7h0M197.5 355h0M209.3 348.6h0M242.8 410.1h0M217.6 377.5h0M192.8 365h0M215.4 405.4h0M192.8 410.2h0M212.7 396.8h0M239.2 407.1h0M252.8 413.2h0M239.1 349.8h0M269.9 357.5h0M204.2 402.4h0M217.4 370.8h0M252.3 409h0M220.2 349.6h0M218.1 346.1h0M251.6 344.5h0"/>
<path stroke-width="2.2" d="M258.2 414.4h0M243.1 392.6h0M210.7 394.5h0M267.5 364.2h0M228.5 349.3h0M255.9 353.3h0M241.7 384.7h0"/>
</g>
<text x="194.5" y="351.5" font-size="3.9" fill="#e4e4e4" textLength="16.26" lengthAdjust="spacingAndGlyphs">CD4 high</text>
<rect x="259.5" y="413.3" width="10.8" height="0.8" fill="#d8d8d8"/>
<rect x="262.2" y="415" width="5.5" height="1.1" fill="#bbbbbb"/>
</g>
<g clip-path="url(#mc4)">
<rect x="277" y="344" width="81.9" height="73.7" fill="#07050b"/>
<rect x="277" y="344" width="81.9" height="73.7" filter="url(#fD2)"/>
<g filter="url(#bl2)" stroke="#02020a" stroke-linecap="round" opacity="0.8">
<path d="M279.46 351.37L279.46 406.64" stroke-width="5.5"/>
<path d="M297.48 377.9L322.05 373.48" stroke-width="5"/>
<path d="M322.05 373.48L347.43 366.11" stroke-width="5"/>
<path d="M347.43 362.43L348.25 389.69" stroke-width="5"/>
<path d="M283.55 406.64L297.48 417.7" stroke-width="8"/>
<path d="M349.07 344L354.8 352.84" stroke-width="4"/>
<path d="M297.48 377.9L291.74 389.69" stroke-width="3.5"/>
</g>
<text x="280.4" y="351.5" font-size="3.9" fill="#e4e4e4" textLength="9.1" lengthAdjust="spacingAndGlyphs">DAPI</text>
<rect x="346.6" y="413.3" width="10.8" height="0.8" fill="#d8d8d8"/>
<rect x="349.3" y="415" width="5.5" height="1.1" fill="#bbbbbb"/>
</g>
<g clip-path="url(#mc5)">
<rect x="363" y="344" width="81.8" height="73.7" fill="#07050b"/>
<g stroke="#1a9038" stroke-linecap="round" filter="url(#bl1)" fill="none">
<path stroke-width="1" opacity="0.25" d="M372.2 369.7h0M415.3 388.6h0"/>
<path stroke-width="1" opacity="0.5" d="M413.7 389.3h0"/>
<path stroke-width="1.2" opacity="0.25" d="M412.6 398.2h0M402.8 363.2h0M390.9 412.2h0"/>
<path stroke-width="1.2" opacity="0.5" d="M396.3 368.5h0M377.9 396.3h0M369 348.7h0M405.2 383.5h0"/>
<path stroke-width="1.2" opacity="0.75" d="M393.7 410.9h0M419.6 411.8h0M404.5 364.9h0M370.7 377.8h0"/>
<path stroke-width="1.4" opacity="0.25" d="M374 348.7h0M414.3 374.1h0M393.5 353.8h0M406.8 412.7h0"/>
<path stroke-width="1.4" opacity="0.5" d="M389.4 394.9h0M439.3 406.4h0M429.7 386.9h0"/>
<path stroke-width="1.4" opacity="0.75" d="M386.1 361.5h0"/>
<path stroke-width="1.6" opacity="0.25" d="M435.7 394.6h0M411.3 351.1h0M413.3 415.6h0"/>
<path stroke-width="1.6" opacity="0.5" d="M395.3 351.9h0M377.2 370.4h0"/>
<path stroke-width="1.6" opacity="0.75" d="M397.1 352.7h0M400.4 365.1h0"/>
<path stroke-width="1.8" opacity="0.25" d="M403.5 385h0M398.5 355h0M433.9 396.1h0M403.2 364.1h0"/>
<path stroke-width="1.8" opacity="0.5" d="M442.6 389.4h0M410.3 401.4h0"/>
<path stroke-width="1.8" opacity="0.75" d="M396 355.2h0M399.4 404.3h0M389.7 389.3h0"/>
<path stroke-width="2" opacity="0.25" d="M404.8 359.6h0"/>
<path stroke-width="2" opacity="0.5" d="M394.6 406.3h0"/>
</g>
<text x="366.4" y="351.5" font-size="3.9" fill="#e4e4e4" textLength="23.48" lengthAdjust="spacingAndGlyphs">FAM111B low</text>
<rect x="432.5" y="413.3" width="10.8" height="0.8" fill="#d8d8d8"/>
<rect x="435.2" y="415" width="5.5" height="1.1" fill="#bbbbbb"/>
</g>
<g clip-path="url(#mc6)">
<rect x="447.4" y="344" width="81.5" height="73.7" fill="#07050b"/>
<rect x="447.4" y="344" width="81.5" height="73.7" filter="url(#fRl)"/>
<g filter="url(#bl2)" stroke="#02020a" stroke-linecap="round" opacity="0.8">
<path d="M449.84 351.37L449.84 406.64" stroke-width="5.5"/>
<path d="M467.77 377.9L492.22 373.48" stroke-width="5"/>
<path d="M492.22 373.48L517.49 366.11" stroke-width="5"/>
<path d="M517.49 362.43L518.3 389.69" stroke-width="5"/>
<path d="M453.92 406.64L467.77 417.7" stroke-width="8"/>
<path d="M519.12 344L524.82 352.84" stroke-width="4"/>
<path d="M467.77 377.9L462.07 389.69" stroke-width="3.5"/>
</g>
<g stroke="#c81c24" stroke-linecap="round" filter="url(#bl1)" fill="none">
<path stroke-width="1" opacity="0.5" d="M506.5 401.5h0M486.7 349.4h0"/>
<path stroke-width="1" opacity="0.75" d="M459.1 349.3h0M500.6 383.1h0M456.4 372.8h0M491.7 399.2h0M526.1 400.5h0M455.2 355.3h0"/>
<path stroke-width="1" d="M510.8 391.6h0"/>
<path stroke-width="1.2" opacity="0.25" d="M517.4 357.1h0M468.1 406.5h0M491.6 362.8h0M495.7 381.1h0M468.1 371.5h0"/>
<path stroke-width="1.2" opacity="0.5" d="M479.7 346.1h0M508.4 397.7h0M488.2 387.7h0M489 394.5h0M527.2 364.1h0M477.3 413.5h0M524.2 398.8h0M471.2 363.4h0M505.2 409.4h0"/>
<path stroke-width="1.2" opacity="0.75" d="M478.6 361.3h0M460 397.1h0M517.7 405.6h0M518.3 399.1h0M460.4 368.4h0M503.1 383.2h0M455 382.6h0M456.3 390h0M497.2 394.3h0M524.6 412.1h0M476.1 404h0"/>
<path stroke-width="1.4" opacity="0.25" d="M527.2 355.3h0M522 361.3h0M474.2 405.2h0M513.1 395.8h0M483.8 361.7h0"/>
<path stroke-width="1.4" opacity="0.5" d="M519.4 406h0M522.1 410.4h0M511.9 350.7h0M516.3 401.2h0M516 416.8h0M464.2 366h0M493.6 377.4h0M459.8 351.4h0M524.6 345.8h0M485.7 383.8h0M523.4 393.3h0M493.9 346.3h0M528.1 382.4h0"/>
<path stroke-width="1.4" opacity="0.75" d="M508.2 388.8h0M525.3 362.1h0M520.1 368.2h0M486.1 349.7h0M463.2 357.6h0M512.5 406.5h0M515.8 367.4h0M486.5 369.7h0M482.8 405.3h0M509.9 361.8h0"/>
<path stroke-width="1.4" d="M502.6 374.4h0"/>
<path stroke-width="1.6" opacity="0.25" d="M506.9 353.6h0M523.9 377.2h0M462.8 394h0M512.3 392.6h0"/>
<path stroke-width="1.6" opacity="0.5" d="M494.4 394.7h0M473.5 389.6h0M501.6 374.1h0M470.1 359.9h0M499.3 381.8h0M472.3 402.5h0M490 358.6h0M449.6 411.1h0M508.8 394.7h0"/>
<path stroke-width="1.6" opacity="0.75" d="M457.4 417h0M514.1 346.7h0M479 358h0M503.4 380.1h0M487.7 350.5h0M508.2 393.2h0"/>
<path stroke-width="1.6" d="M481.8 350.9h0M505.2 397.1h0"/>
<path stroke-width="1.8" opacity="0.25" d="M497.9 348.8h0"/>
<path stroke-width="1.8" opacity="0.5" d="M506.5 375.4h0M504.9 346.4h0M528.4 393.2h0M454.9 411.6h0M524.8 411.3h0M523.6 382h0M523.8 416.2h0M518 411.8h0"/>
<path stroke-width="1.8" opacity="0.75" d="M506.8 386.4h0M514.4 348.4h0M469.7 346.2h0M463.6 410.1h0M520.7 362.4h0M516.9 389.7h0M484.7 350.5h0M502.3 360.1h0"/>
<path stroke-width="1.8" d="M512.7 394.6h0"/>
<path stroke-width="2" opacity="0.25" d="M521.4 394.6h0M510.2 357.4h0"/>
<path stroke-width="2" opacity="0.5" d="M520.1 411h0M511.3 402.7h0M480.8 405.3h0M483.9 391.3h0"/>
<path stroke-width="2" opacity="0.75" d="M492.4 380.7h0M486.1 407h0"/>
</g>
<text x="450.8" y="351.5" font-size="3.9" fill="#e4e4e4" textLength="14.74" lengthAdjust="spacingAndGlyphs">CD4 low</text>
<rect x="516.6" y="413.3" width="10.8" height="0.8" fill="#d8d8d8"/>
<rect x="519.3" y="415" width="5.5" height="1.1" fill="#bbbbbb"/>
</g>
<g clip-path="url(#mc7)">
<rect x="18.9" y="421.7" width="80.7" height="73.1" fill="#05060f"/>
<g stroke="#2448a4" stroke-linecap="round" filter="url(#bl1)" fill="none">
<path stroke-width="1.4" opacity="0.25" d="M21.9 437.8h0M34.4 459.9h0M62.7 447.7h0M82.1 489.8h0M47.9 479.2h0M36.9 432.3h0M32.8 429h0M39.3 479.5h0M59.6 487.4h0M44.9 444.4h0M81.3 440.2h0M27.3 448.8h0M37.4 494.1h0M29 433.9h0M98.6 488.3h0M56 444.4h0M76.5 436.8h0M30.4 430.7h0M86.3 447.9h0M35.5 432.8h0M84 457.1h0M29.2 491.8h0M44.2 487.3h0"/>
<path stroke-width="1.4" opacity="0.5" d="M60.2 443.7h0M87.1 443.5h0M55.5 423.2h0M23.9 485h0M45.4 487.2h0M67.3 463.6h0M25.2 429.1h0M84.7 449.5h0M37.9 468.9h0M58.8 435.7h0M92.4 434.2h0M63.9 438h0M23.3 493.9h0M68.1 460.5h0M30.2 467.2h0M30.6 426h0M41.3 485h0M57.4 441.9h0M19.4 452.2h0M49.9 433.2h0M96.3 465.2h0M64.6 446.7h0M43.3 432h0M64 439.4h0M65 446.3h0M54.8 453.6h0M52.8 493.6h0M35.1 469.4h0M23.7 486.4h0M90.8 484h0M89.7 441.2h0M87.2 464.6h0M40.2 455.7h0M93.2 456.9h0M49.3 475.6h0M87.1 487h0M57.5 459.1h0M39.7 440.2h0M71.6 461.8h0M28.7 454.1h0M51.3 425.8h0M67.4 439.4h0M34 455.2h0M87.5 434.4h0M49.3 492.8h0M65.2 427.4h0M93.4 470.7h0M50.9 475.1h0M88 491.7h0M35.2 466.2h0M88.7 485.8h0M67.8 448.7h0M82.1 492.9h0M73.1 472.1h0M55.6 491.4h0M77.4 468.2h0M87.6 442h0M88.8 451.1h0M55.1 453.9h0M28 465.5h0M32.7 483.7h0M80.8 470.6h0M90 440.5h0M28.3 438.7h0M23.1 432.3h0M97.8 474.7h0M64.2 472.6h0M80.1 425.7h0M93.3 452.3h0M37 461.5h0M23.5 439.1h0M93.5 487.2h0M25.8 490.8h0M38.1 485.1h0M70.5 478.9h0M50.2 475.1h0M36.1 477h0M32.6 427.4h0M77.5 444.1h0M84.1 425.2h0M37.3 476.9h0M68.6 425.2h0M89.3 478.4h0M72.7 464h0M84.9 444.5h0M79.8 471.4h0M44.7 462.4h0M93.6 492.1h0M59.2 426.7h0M56.4 445.9h0M38.3 471.7h0M37 438.6h0M81.9 462.5h0"/>
<path stroke-width="1.4" opacity="0.75" d="M23.8 436.2h0M71.8 460.3h0M31.4 465.6h0M98.4 453.6h0M45.4 436.8h0M31.9 470.3h0M94.4 438.5h0M71.5 490h0M71.7 468.9h0M73.4 478.4h0M98.4 488.8h0M98.7 470.7h0M82 431.3h0M92.4 483.6h0M97.2 439.1h0M30.6 491.9h0M58.7 444.3h0M78.7 435.8h0M94.4 444h0M35 479.3h0M77.4 445h0M76.5 446.4h0M46.2 430.2h0M94.9 442.1h0M58.9 445h0M90.8 494h0M97.7 446.1h0M80.2 433.4h0M39.1 493.8h0M73.5 432.4h0M35.9 473.5h0M34.2 442.7h0M40.7 445.2h0M21 493h0M35.4 433.4h0M94 488.4h0M75.3 435.3h0M28.7 446.4h0M53.7 473.4h0M91.3 476.2h0M84.2 430.3h0M64.2 468.9h0M58.5 427.5h0M54.9 488.4h0M50.6 478.6h0M87.8 467h0M28.3 440.7h0M78.8 463.8h0M31.1 476.9h0M83.4 426.3h0M31.9 423.8h0M26 493h0M70.4 441.4h0M66.4 476.4h0M93.7 440.7h0M82.6 471.9h0M27 448h0M93.2 441.9h0M88.4 436.2h0M43.7 432.2h0M87.1 477h0M87.7 439h0M34.2 463.6h0M69.9 442.4h0M27.8 447.5h0M82 481h0M69.1 461.7h0M32 474.6h0M32.7 491.1h0M30.7 440.2h0M43.6 435.1h0M53.6 430.3h0M68.9 469.2h0M29.3 478.3h0M68.5 448.1h0M91.3 469.3h0M29.1 471.5h0M28.4 464.8h0M36.7 429h0"/>
<path stroke-width="1.4" d="M45.2 466.9h0M71.1 435.9h0M85.4 426.7h0M53 476.5h0M71.3 492.1h0M68.2 450.2h0M45.7 473.9h0M44.7 466.1h0M64.7 493.6h0M40.6 452.4h0M54.5 430h0M54.5 427.6h0M53.8 438.4h0M66.9 425.5h0M98.8 474.4h0M76.1 442.3h0M60.8 474.6h0M88.3 427.4h0M47.2 434.5h0M91.7 456.6h0M81 472.3h0M40.6 472.1h0M56.5 484h0"/>
<path stroke-width="1.6" opacity="0.25" d="M23.1 487.8h0M55.9 448.3h0M27.4 429.1h0M54.3 430.5h0M47.8 446.3h0M89.9 476.5h0M59.4 471.8h0M62.5 449.5h0M37.2 432.6h0M82 446.6h0M95.3 484.9h0M87.3 474.5h0M69.1 487.3h0M87.3 455.8h0M72.2 489.7h0M77 439.7h0M73.1 463h0M50.2 476.2h0M31.9 456.3h0M90.7 488.8h0M70.5 467.8h0M22.3 475.4h0M69 454.1h0M80.8 461.3h0M83.4 447.5h0M55.5 423.7h0M91.8 452.8h0M39.4 482.7h0"/>
<path stroke-width="1.6" opacity="0.5" d="M84.9 494.2h0M50.7 427.2h0M73.5 462.2h0M87.3 423.8h0M37.7 442.6h0M81.4 464.7h0M85.6 433.4h0M43.6 480h0M82.8 454.5h0M74.7 433h0M26.9 424.7h0M52.4 447.1h0M38.6 440.9h0M36.9 463.8h0M96.1 494.3h0M79.7 485.1h0M24.7 425.2h0M86.1 458.7h0M69.4 441.6h0M82 442h0M46.7 476.8h0M87.9 450.8h0M70.2 423.4h0M88.7 447h0M32.2 463.6h0M31.2 456.2h0M50.7 493.9h0M74.3 437.3h0M71.9 481.2h0M71.9 429.9h0M68.1 493.5h0M90.2 430.4h0M89.4 483.3h0M91.8 454.5h0M93.6 444.3h0M55.3 480.6h0M42.7 423.1h0M52.1 431.6h0M85.8 432.2h0M97.8 449.2h0M82.4 447.1h0M49.6 462.3h0M89.9 466.7h0M87.2 454.4h0M91.7 482.3h0M44 427.6h0M38.9 454.4h0M39.4 430.7h0M32.6 476.8h0M67.7 482.2h0M36.1 469.1h0M70.7 464.8h0M83.2 462.4h0M59 425h0M41.5 471.6h0M31.7 430.8h0M41.4 424.7h0M40.6 445.7h0M86.4 430.3h0M48.8 444.3h0M85.8 476.7h0M82.8 449.9h0M61 439.3h0M42 427h0M40.2 484.2h0M93.1 454.9h0M30.1 454.2h0M99 463.7h0M41.1 443.7h0M83.2 483h0M24.9 484.5h0M67 455.8h0M92.8 484.4h0M48.1 479.2h0M42.1 429.8h0M89.6 458.2h0M43.5 440h0M79.8 458h0M38.6 454.8h0M82.2 441h0M85.2 457.9h0M34.9 467h0M37.9 422.6h0M42.9 425.5h0M96.1 467.8h0M63.6 444.5h0M47.3 474.1h0M65.9 430.2h0M87.2 437.3h0M62.3 440.2h0M93.8 460.5h0M35.9 425.7h0M55.9 439.7h0M70 454.7h0M98.4 442.6h0"/>
<path stroke-width="1.6" opacity="0.75" d="M39.3 432.8h0M59.7 444.4h0M86.4 426.5h0M86.2 487.2h0M84.7 478.4h0M20.1 474.6h0M96.2 465.3h0M31.1 430.5h0M53.9 444.7h0M87.2 450.5h0M74.2 456.1h0M34.1 479.5h0M65.6 476.4h0M28.3 476h0M87.1 483.5h0M90.2 459.4h0M72.6 481.7h0M57.4 442.5h0M23.3 487.1h0M33.4 490.2h0M97.2 493.7h0M92.9 460.1h0M82.4 437h0M40.6 470.5h0M34.6 464.3h0M20.7 435.6h0M55.9 437.7h0M26.3 422.6h0M71.4 491.8h0M81.2 441h0M31.3 463.6h0M88.1 476h0M23.4 471h0M62.1 431.4h0M96.1 493.6h0M80.6 483.2h0M73.2 483.2h0M80.9 464.3h0M79.1 459.1h0M71.7 490.2h0M92.1 460.5h0M82.8 433.9h0M90.4 464.3h0M47.4 461.9h0M75.5 423.2h0M86.2 451.3h0M21.4 441h0M69.5 433h0M32.8 424.3h0M40.6 424.9h0M92.4 451.6h0M26.8 486.4h0M93.8 435.2h0M71.5 482.4h0M54.8 475h0M51.6 430h0M98.1 474.2h0M23.9 493.1h0M54.2 439.5h0M23.2 491.5h0M86 489.6h0M72.7 449.8h0M84.8 478.7h0M40.7 482.1h0M87.1 493h0M53.8 435.8h0M30.1 456.4h0M49.4 460.7h0M51.1 491.4h0M38 443.8h0M54.3 448.5h0M57.1 451.4h0M68.3 457.3h0M63.8 444.6h0M40.8 440.9h0M54.7 469.1h0M34.7 477.9h0M31.2 440.5h0M60.3 447.1h0M27.6 453h0M58.6 447.5h0M58.2 447.3h0M55.4 431.4h0M84.4 465.6h0M46.1 448.7h0M41.1 449.6h0M35.9 493.8h0M24.4 482.3h0M51.3 428.2h0M27.5 438.5h0M74.7 458.6h0M43.8 460.2h0M70.6 490h0"/>
<path stroke-width="1.6" d="M45.4 470.9h0M70.9 462.8h0M32.6 424.5h0M85.1 440.6h0M72.9 444.3h0M72.1 437.1h0M43.2 428.5h0M92.8 485.8h0M97.3 475.7h0M42.8 432.3h0M36.9 475.2h0M34.2 478.2h0M85.2 444.1h0M75 433h0M30.9 476.2h0M50.5 485.1h0M48 491.5h0M69.2 455h0M80.7 448.7h0M89 474.5h0M54.4 453.6h0M58 430.3h0M93.3 481.3h0M67.3 436.8h0"/>
<path stroke-width="1.8" opacity="0.25" d="M42.6 423.2h0M73 491.8h0M48.2 468.4h0M89.3 488.7h0M34.1 452.9h0M99 433.2h0M87.6 436.9h0M38.7 444.5h0M72.3 432.1h0M95.5 449.4h0M46.1 467.3h0M20.5 478.8h0M39.3 425.6h0M67.8 487h0M91 458.4h0M44.6 430.7h0M55.3 479.1h0M73.4 422.8h0M31.1 429.1h0M48.8 467.4h0M98.3 462.1h0M88.2 489.1h0M86.7 464.2h0M40.8 437.7h0M84.6 459.6h0M51.2 435h0M64.2 433.4h0M97.5 453.2h0M94.9 470.6h0M35.3 433.3h0M29.3 450.4h0"/>
<path stroke-width="1.8" opacity="0.5" d="M36.6 463.7h0M97.7 458.2h0M43.9 475.5h0M19.5 484.5h0M80.8 457.1h0M94.6 453.1h0M70.8 459.3h0M54.7 478.9h0M91 460.8h0M51.7 459.5h0M31.8 477.2h0M70.8 459h0M33.1 474.2h0M70.8 469.6h0M93.2 479.6h0M70.6 487.1h0M76.2 448.8h0M76.2 428.3h0M62.6 486.7h0M27.6 486.8h0M88.7 481.5h0M73.1 484.4h0M69.8 492.6h0M81.3 477.1h0M84.3 485h0M69.8 445.4h0M59.8 425.8h0M34.2 491h0M32.6 493.6h0M40.3 439.7h0M66.6 422.4h0M32.5 462.1h0M42.5 426.5h0M44.4 484.4h0M77.9 445.9h0M85.5 473.9h0M77.3 425.5h0M58 446.3h0M31 423.1h0M33.7 430.2h0M81.9 448.5h0M59.9 442.6h0M73.1 463.5h0M45.4 465.9h0M66.3 480.1h0M52.1 438.5h0M87.6 436.1h0M56.2 469.1h0M94.1 437.6h0M80.5 460h0M86.7 471.8h0M79.5 431.5h0M60.6 446.7h0M58.7 453.2h0M32.8 489.3h0M28.2 423.6h0M33.2 430.7h0M52.8 484.4h0M24.4 477.5h0M46.5 458.5h0M90.2 466.8h0M85.2 465.7h0M50.4 428h0M33.8 442.7h0M86.4 447.1h0M31.2 425.3h0M39.9 437.4h0M69 462.8h0M58.2 453.5h0M26.7 431.4h0M92.4 445.2h0M66.8 446h0M54.5 481h0M33.2 461.3h0M93.1 450.6h0M34.3 430.1h0M54.3 487.8h0M58.5 452.9h0M62.8 445.6h0M97 455.1h0M22.4 445.2h0M22 443.9h0M27.7 463.3h0M51.3 478.5h0M65.5 450.5h0M86.9 446.7h0M92.3 479h0M73.1 477.8h0M69.4 486.9h0M82.9 433.9h0"/>
<path stroke-width="1.8" opacity="0.75" d="M62 445.2h0M55.6 468.7h0M42.4 429.6h0M42.8 465.5h0M83.3 491.2h0M43.3 461.8h0M72.9 448.7h0M84.8 452.7h0M28.6 465.5h0M90 484.4h0M88.3 471.1h0M35.5 465.2h0M44.6 425.7h0M75.3 427.7h0M21.8 445.4h0M46.6 460.5h0M93.4 455.3h0M53 431h0M43.7 462.4h0M75.9 425h0M98.9 470.6h0M33.2 466.9h0M29.6 453.7h0M47.6 483.2h0M25 437.4h0M54.6 471.2h0M70.1 431.4h0M48.9 476.7h0M62.1 429h0M96.3 425.1h0M37.6 459.5h0M23.8 449.6h0M42 492.7h0M87.4 442.9h0M34 468.3h0M46.3 461h0M72.1 423.7h0M35.9 474.5h0M95.3 461.6h0M22.3 424.6h0M69.7 433.6h0M96.7 426.2h0M38.2 425h0M35.4 438.2h0M71.8 471.1h0M27 422.2h0M70.9 484.1h0M45.1 425.4h0M66.5 488.1h0M25.5 485.6h0M82.1 448.6h0M96.9 446.9h0M55.7 455.8h0M89.5 451.8h0M64.1 443.9h0M34.6 443.8h0M43.4 486.8h0M28 439.3h0M72.5 489.9h0M38.7 444h0M78.3 493.2h0M79.8 465.2h0M66.7 464.8h0M22.7 444.2h0M40.7 460.5h0M92.4 423.1h0M74.7 438.4h0M51 439.7h0M33.7 464.6h0M34.4 429.4h0M41.6 482.4h0M87.7 487.8h0M27.6 458.7h0M39.1 425.2h0M65.3 426h0M44.9 434.1h0M72.2 435.8h0"/>
<path stroke-width="1.8" d="M51.1 445.3h0M55.9 427h0M49.8 486.9h0M76.8 456.4h0M94.8 458h0M52.4 432.7h0M37.7 433.8h0M23.4 484.4h0M28.4 439.4h0M77.3 466.1h0M35.9 436.5h0M66.9 428.8h0M25.7 426.7h0M21.2 481.6h0M97.5 456.7h0M89.6 466.8h0M20.9 485.6h0M95.9 456.7h0M28.1 439.1h0M79.6 457.6h0"/>
<path stroke-width="2" opacity="0.25" d="M86.3 462.9h0M27.7 459.3h0M77.9 457h0M59.6 432.4h0M44.5 483.5h0M28.8 430.9h0M22.5 431.2h0M46.9 451.9h0M78.5 427.3h0M54.3 472.4h0M40.2 460.9h0M46.6 457.4h0M70.5 424.1h0M44.3 491h0M23.8 423h0M54.3 454.9h0M84.7 427.4h0M38.9 480.1h0M83.2 489.5h0M91.5 454.5h0M33.5 438.3h0M45.6 423.2h0M80.6 481.2h0M78.1 442.3h0M66.2 486.4h0M98.4 449.3h0M22.2 469.2h0M70.1 447h0M48.5 422.4h0M66.2 483.6h0"/>
<path stroke-width="2" opacity="0.5" d="M48.5 481h0M67.3 437.5h0M67.4 467.8h0M67.1 493.5h0M30.6 478.3h0M86.2 432.6h0M52 447.3h0M20.8 472.3h0M54.2 460.8h0M21.4 451.8h0M30.7 432.9h0M90.9 432.5h0M74 446.4h0M71.1 440.2h0M79.3 449.5h0M28.2 457.4h0M69.7 473h0M97.9 448.4h0M55.3 427.6h0M80.7 429.5h0M47.1 460.4h0M36.5 481.1h0M89.1 432.2h0M65.7 445.3h0M87.4 442.4h0M79.5 444.7h0M80.3 432h0M23.3 426.8h0M30.5 484.8h0M61.9 427.8h0M43.1 482.9h0M23.3 426.4h0M45.7 478.5h0M94.7 431.1h0M81.8 465.1h0M78.2 494.2h0M86.8 454.6h0M75 427.9h0M71.7 448.9h0M27.7 484.7h0M70.7 456h0M97.4 483.9h0M84.2 483h0M46.4 461.4h0M55 437.6h0M30.8 431.1h0M39 431.4h0M23.1 473.5h0M95.6 489.3h0M45.5 478.4h0M97.3 457.4h0M34.8 456.4h0M81.2 427.2h0M70.5 427.1h0M91.6 489h0M35.2 438.4h0M22.9 429.8h0M40.8 427.3h0M41.3 436.4h0M66.1 426.2h0M47.7 432.6h0M86.9 433.4h0M47.7 488.3h0M97.3 491.3h0M48.6 429.4h0M52.8 465.3h0M47.7 440.5h0M68.5 488.3h0M93.4 426.1h0M47.7 472.8h0M42.7 478.8h0M73.9 440.8h0M86.6 467.3h0M56.5 427.3h0M88 477.7h0M76.3 479.6h0M92.4 452.2h0M59 437.8h0M83.7 481.6h0M95.1 452.9h0M27 478.2h0M55.2 484h0M35.7 455.5h0M85.9 456h0M42 465.8h0M52.5 460.6h0M66.1 491.3h0M55.2 440.5h0M36.3 452.3h0M81.5 464h0M58.9 430.5h0M53.5 491.1h0M30.4 466.4h0M32.8 470.7h0M28.9 489.1h0M49.2 483.3h0M37.5 465.4h0M43.8 484.5h0M30.2 450.2h0M47.7 476.5h0M41.1 444.6h0M68.2 431.2h0"/>
<path stroke-width="2" opacity="0.75" d="M27 476.3h0M34.4 456.2h0M39.7 433.9h0M75.3 431.5h0M71.4 475.3h0M37.9 454.5h0M32.4 490.5h0M26.6 459h0M70.6 423.6h0M67.1 493.5h0M91.5 484.9h0M31.8 440.2h0M82.4 483.5h0M87.8 480.7h0M71.7 473.7h0M56.4 455.4h0M37.3 425.7h0M48.2 431h0M71 441.5h0M40.8 439.7h0M88.7 474.7h0M73 445.1h0M83.6 433.9h0M96.4 441.7h0M42.3 446.4h0M83 463.2h0M47.2 437.4h0M81.7 436.9h0M19.4 446.3h0M29.9 486.9h0M83 488.5h0M43.6 454.7h0M23.9 446.5h0M56.2 453.1h0M26.5 452.2h0M85.6 491.8h0M36.9 493.3h0M43.5 429.1h0M81.2 472h0M97 450.2h0M20.5 428.6h0M55.8 483.2h0M81.3 426.6h0M96.6 461.1h0M50.5 427h0M70.3 492.6h0M87.7 424.6h0M49.9 443h0M89.3 465.1h0M86.7 489.2h0M71.1 447.9h0M92.6 422.6h0M87 434h0M50.3 434.8h0M69.2 469.7h0M86.3 440h0M84.5 452.1h0M40 492.4h0M24.7 425.8h0M24.5 484.2h0M27.5 492.1h0M49.2 467.3h0M66.9 480.8h0M36 430.8h0M40.6 439.6h0M51.4 450.8h0M93.2 492.5h0M60.6 452.2h0M96.7 443.7h0M19.4 426.7h0M30.7 490.6h0M39.6 465h0M23.8 435.4h0M96.6 447.8h0M72.9 431.2h0M49.4 459.9h0M37.8 476.9h0M85.9 479.7h0M98.7 493.2h0M40.6 474h0M33 466.2h0M85.5 454h0M58.7 440.2h0M88.6 428.9h0M46 429.1h0M59.6 443.2h0M71.3 470.9h0M80.3 492.9h0M78.5 427.2h0M35.3 440.6h0M54.9 484.8h0M98.7 428.2h0M56 462.8h0M97.1 467.6h0M20.7 422.7h0M58.1 459.5h0M73.7 492.6h0M40.5 457.9h0M32.3 478.5h0M71.1 425.9h0M87 433.5h0M27.7 455.1h0M53 462.9h0M31.5 423.6h0M95.5 490.5h0M54.2 441.6h0M34.6 438.7h0M72.7 442.6h0"/>
<path stroke-width="2" d="M39.2 465.3h0M93.7 476.8h0M69.2 430.5h0M54.1 468.5h0M72.4 422.5h0M79.9 449.7h0M54 491.7h0M88.1 466.4h0M58.6 446.4h0M37.4 428h0M27.5 491.1h0M69.2 466.5h0M92.7 476.5h0M84.3 476.7h0M55.1 451.8h0M56.8 435.9h0M55.9 431.9h0M81.8 456.2h0M44 443h0M91.3 466.7h0M50.4 432h0M68.4 453.9h0M44 483.5h0M84.6 466.2h0M29.1 465h0"/>
<path stroke-width="2.2" opacity="0.25" d="M73 440.4h0M33.1 491.4h0M79.5 430.4h0M47.6 463.7h0M93 445.3h0M24.1 474.5h0M84.4 481.2h0M86.8 477.2h0M31.6 437.7h0M96 487.2h0M69.5 436.4h0M21.2 487.8h0M68.4 443.3h0M80.5 478.8h0M67.7 433.3h0M36.5 474.6h0M52.6 467.7h0M75.3 492.9h0"/>
<path stroke-width="2.2" opacity="0.5" d="M55.4 432.7h0M37.1 427.2h0M88.6 480.8h0M91.1 450.8h0M82.4 482.2h0M74.2 477.5h0M46.4 423.9h0M59.1 439.8h0M44.3 489.8h0M61.7 438.3h0M46 439.3h0M19.6 465.3h0M32.3 469h0M38.8 474.6h0M35.1 447.3h0M88.1 422.4h0M47.4 427.6h0M91 478.3h0M33.3 469.6h0M31.8 439.2h0M69.5 423.4h0M28 451.9h0M82.3 469.5h0M20.9 480.6h0M80.5 492.8h0M76.7 444.8h0M99 477.2h0M73.2 469.8h0M57.3 436.1h0M39.9 481.9h0M30.5 429.5h0M76.9 441.1h0M29.3 453.7h0M73.9 437.2h0M87 490.6h0M97.1 457.6h0M69.7 432.9h0M26.1 478.5h0M32.7 423.3h0M43 435.4h0M66.1 492.3h0M57 452.1h0M71.9 460.8h0M58.7 433.4h0M72.8 490.8h0M89.4 461.9h0M32 454.2h0M65.9 455.1h0M59.7 429.5h0M78.1 442.1h0M37 477.2h0M76.1 449.7h0M28.1 459.5h0M44.5 426.2h0M95.1 490.9h0M78.2 442.4h0M91.6 458.7h0M80.2 488.6h0M91.4 471h0M70.1 469.6h0M47.5 466.6h0M99.1 442.6h0M19.7 436.1h0M33.2 431.4h0M58.5 439.4h0M81.7 447.5h0M80.5 474.8h0M73.3 463.2h0M84.7 466.7h0M56.3 429.4h0M95.8 483.8h0M31.6 471.2h0M35.3 472.3h0M79.7 435.6h0M19.6 426.5h0M83.5 478.2h0M42.9 477.1h0M53.3 462.9h0M87.8 484.2h0M72.8 450.8h0M73.3 428.8h0M90.8 444.7h0M51.5 479.2h0M39.5 477.1h0M82.1 471.1h0M70.2 475.6h0M40.6 456.1h0M83.5 481.8h0M25.2 482.6h0M78.5 433.3h0M84.1 492.2h0M68.1 484.2h0M31 479.1h0M70.1 490.4h0M44.5 475.1h0M91.1 488.9h0M65.6 442.6h0M26.5 490.1h0M94.8 462.2h0M69.4 479.6h0M75 459.7h0M66.7 488h0M23.3 437.7h0M70.9 479.4h0M31.6 460.8h0M81.6 462h0M44.5 457.8h0M68.7 490.7h0M58.2 431h0M97.1 472.7h0M75 441.2h0M44.7 482h0M91.1 466.5h0M24.5 490.8h0M32.2 473h0M56.8 451.9h0M84.6 427.4h0M73.5 484.8h0M96.6 491.4h0"/>
<path stroke-width="2.2" opacity="0.75" d="M54.2 490.4h0M90.5 459.9h0M22.6 435h0M71 485.2h0M41 485.6h0M96.7 489.5h0M30.8 422.6h0M32.5 469.6h0M54.2 461.3h0M73.2 468.2h0M70.2 430.1h0M21 435.9h0M67 432.7h0M21.1 474.7h0M53.9 467.6h0M73.8 490.9h0M53.5 439h0M28.1 493.1h0M71.8 433.5h0M22.2 432.2h0M92.1 490h0M38.5 438.3h0M94 470.5h0M37.2 483h0M26.4 486.1h0M23.3 446.5h0M90.4 472.1h0M71.6 468.4h0M93.8 439.6h0M48.1 446.2h0M97.4 452.4h0M80.4 445.4h0M93.2 436.6h0M48.4 438.9h0M34.7 436.6h0M21.1 471.7h0M86.1 466h0M21.6 444h0M99.1 448.7h0M45.7 488.1h0M87.4 427h0M65.9 450.2h0M33.3 430.6h0M19.5 430.7h0M36.6 436.5h0M56.5 443.6h0M24 475.3h0M53.2 465.8h0M88.8 455.4h0M53.8 477.9h0M31.9 452.5h0M94.7 475.9h0M41.6 462.9h0M88.2 473.4h0M22.1 485.4h0M42.2 461.7h0M63.4 440.8h0M44.6 458.8h0M66.5 477.5h0M79 427.5h0M50.3 427.9h0M73.3 471.5h0M96.3 454.5h0M38.7 431.2h0M52.1 469.1h0M71.1 474.3h0M89.3 466.9h0M55.7 466.9h0M24.1 479.8h0M61.5 486.3h0M89.4 440.8h0M33.3 454.3h0M56 434.3h0M72.5 456.5h0M66.4 465.7h0M94 452.3h0M27.2 429.4h0M93.4 476.1h0M85.5 449.2h0M84.4 472.3h0M42.6 424.5h0M71.5 456.5h0M77.8 429.7h0M48.5 440.9h0M78.8 453.7h0M26.8 431.2h0M91.2 475.6h0M89.3 470.8h0M83.4 430.6h0M56.1 430.7h0M41.2 432.1h0M31.8 459.2h0M89.8 437.8h0M42.7 438.2h0M77 442.4h0M87.1 468.4h0M43.5 487.4h0M98.1 475.2h0M62.4 451.8h0M92.5 432.6h0"/>
<path stroke-width="2.2" d="M39.7 442h0M29.9 493h0M46.8 438.4h0M27.4 447h0M83.3 467.6h0M42.8 457.9h0M86.2 443.5h0M43.9 480.6h0M71.1 472.4h0M33.9 464h0M92.5 449.8h0M93.8 429.7h0M38.2 427.7h0M46.9 480.4h0M94.3 430.4h0M20.1 430.6h0M32.8 477h0M35.3 473h0M57.3 436.8h0M37.3 422.8h0M89.2 437h0M84.5 482.1h0"/>
</g>
<g filter="url(#bl2)" stroke="#02020a" stroke-linecap="round" opacity="0.45">
<path d="M60.86 458.25L60.86 492.61" stroke-width="9"/>
<path d="M76.2 459.71L76.2 489.68" stroke-width="4"/>
<path d="M25.36 440.71L55.21 458.25" stroke-width="3.5"/>
<path d="M22.13 449.48L23.74 467.02" stroke-width="6"/>
<path d="M31 484.57L44.72 491.88" stroke-width="4"/>
<path d="M89.92 425.36L97.99 436.32" stroke-width="3"/>
</g>
<g stroke="#20a040" stroke-linecap="round" filter="url(#bl1)" fill="none">
<path stroke-width="1" opacity="0.5" d="M97.8 483.7h0M42.9 456.9h0M53.1 478.8h0"/>
<path stroke-width="1" opacity="0.75" d="M38.8 458.4h0"/>
<path stroke-width="1.2" opacity="0.25" d="M33.3 493.3h0"/>
<path stroke-width="1.2" opacity="0.5" d="M97.4 426.1h0"/>
<path stroke-width="1.2" opacity="0.75" d="M54 452.1h0"/>
<path stroke-width="1.4" opacity="0.5" d="M96.5 474.9h0M80.1 436.1h0M85.1 481.8h0M28.3 487.4h0M52.9 428.5h0"/>
<path stroke-width="1.4" opacity="0.75" d="M68.5 448.7h0M66.9 493h0"/>
<path stroke-width="1.6" opacity="0.25" d="M93.1 482.1h0"/>
<path stroke-width="1.6" opacity="0.5" d="M37.8 462h0M66.1 448.2h0M82 494.1h0"/>
<path stroke-width="1.6" opacity="0.75" d="M86.1 456.1h0M80.2 469.2h0"/>
</g>
<text x="22.3" y="429.2" font-size="3.9" fill="#e4e4e4" textLength="38.55" lengthAdjust="spacingAndGlyphs">DAPI + FAM111B high</text>
<rect x="87.3" y="490.4" width="10.8" height="0.8" fill="#d8d8d8"/>
<rect x="90" y="492.1" width="5.5" height="1.1" fill="#bbbbbb"/>
</g>
<g clip-path="url(#mc8)">
<rect x="105.1" y="421.7" width="80.7" height="73.1" fill="#05060f"/>
<g stroke="#2448a4" stroke-linecap="round" filter="url(#bl1)" fill="none">
<path stroke-width="1.4" opacity="0.25" d="M108.1 437.8h0M120.6 459.9h0M148.9 447.7h0M168.3 489.8h0M134.1 479.2h0M123.1 432.3h0M119 429h0M125.5 479.5h0M145.8 487.4h0M131.1 444.4h0M167.5 440.2h0M113.5 448.8h0M123.6 494.1h0M115.2 433.9h0M184.8 488.3h0M142.2 444.4h0M162.7 436.8h0M116.6 430.7h0M172.5 447.9h0M121.7 432.8h0M170.2 457.1h0M115.4 491.8h0M130.4 487.3h0"/>
<path stroke-width="1.4" opacity="0.5" d="M146.4 443.7h0M173.3 443.5h0M141.7 423.2h0M110.1 485h0M131.6 487.2h0M153.5 463.6h0M111.4 429.1h0M170.9 449.5h0M124.1 468.9h0M145 435.7h0M178.6 434.2h0M150.1 438h0M109.5 493.9h0M154.3 460.5h0M116.4 467.2h0M116.8 426h0M127.5 485h0M143.6 441.9h0M105.6 452.2h0M136.1 433.2h0M182.5 465.2h0M150.8 446.7h0M129.5 432h0M150.2 439.4h0M151.2 446.3h0M141 453.6h0M139 493.6h0M121.3 469.4h0M109.9 486.4h0M177 484h0M175.9 441.2h0M173.4 464.6h0M126.4 455.7h0M179.4 456.9h0M135.5 475.6h0M173.3 487h0M143.7 459.1h0M125.9 440.2h0M157.8 461.8h0M114.9 454.1h0M137.5 425.8h0M153.6 439.4h0M120.2 455.2h0M173.7 434.4h0M135.5 492.8h0M151.4 427.4h0M179.6 470.7h0M137.1 475.1h0M174.2 491.7h0M121.4 466.2h0M174.9 485.8h0M154 448.7h0M168.3 492.9h0M159.3 472.1h0M141.8 491.4h0M163.6 468.2h0M173.8 442h0M175 451.1h0M141.3 453.9h0M114.2 465.5h0M118.9 483.7h0M167 470.6h0M176.2 440.5h0M114.5 438.7h0M109.3 432.3h0M184 474.7h0M150.4 472.6h0M166.3 425.7h0M179.5 452.3h0M123.2 461.5h0M109.7 439.1h0M179.7 487.2h0M112 490.8h0M124.3 485.1h0M156.7 478.9h0M136.4 475.1h0M122.3 477h0M118.8 427.4h0M163.7 444.1h0M170.3 425.2h0M123.5 476.9h0M154.8 425.2h0M175.5 478.4h0M158.9 464h0M171.1 444.5h0M166 471.4h0M130.9 462.4h0M179.8 492.1h0M145.4 426.7h0M142.6 445.9h0M124.5 471.7h0M123.2 438.6h0M168.1 462.5h0"/>
<path stroke-width="1.4" opacity="0.75" d="M110 436.2h0M158 460.3h0M117.6 465.6h0M184.6 453.6h0M131.6 436.8h0M118.1 470.3h0M180.6 438.5h0M157.7 490h0M157.9 468.9h0M159.6 478.4h0M184.6 488.8h0M184.9 470.7h0M168.2 431.3h0M178.6 483.6h0M183.4 439.1h0M116.8 491.9h0M144.9 444.3h0M164.9 435.8h0M180.6 444h0M121.2 479.3h0M163.6 445h0M162.7 446.4h0M132.4 430.2h0M181.1 442.1h0M145.1 445h0M177 494h0M183.9 446.1h0M166.4 433.4h0M125.3 493.8h0M159.7 432.4h0M122.1 473.5h0M120.4 442.7h0M126.9 445.2h0M107.2 493h0M121.6 433.4h0M180.2 488.4h0M161.5 435.3h0M114.9 446.4h0M139.9 473.4h0M177.5 476.2h0M170.4 430.3h0M150.4 468.9h0M144.7 427.5h0M141.1 488.4h0M136.8 478.6h0M174 467h0M114.5 440.7h0M165 463.8h0M117.3 476.9h0M169.6 426.3h0M118.1 423.8h0M112.2 493h0M156.6 441.4h0M152.6 476.4h0M179.9 440.7h0M168.8 471.9h0M113.2 448h0M179.4 441.9h0M174.6 436.2h0M129.9 432.2h0M173.3 477h0M173.9 439h0M120.4 463.6h0M156.1 442.4h0M114 447.5h0M168.2 481h0M155.3 461.7h0M118.2 474.6h0M118.9 491.1h0M116.9 440.2h0M129.8 435.1h0M139.8 430.3h0M155.1 469.2h0M115.5 478.3h0M154.7 448.1h0M177.5 469.3h0M115.3 471.5h0M114.6 464.8h0M122.9 429h0"/>
<path stroke-width="1.4" d="M131.4 466.9h0M157.3 435.9h0M171.6 426.7h0M139.2 476.5h0M157.5 492.1h0M154.4 450.2h0M131.9 473.9h0M130.9 466.1h0M150.9 493.6h0M126.8 452.4h0M140.7 430h0M140.7 427.6h0M140 438.4h0M153.1 425.5h0M185 474.4h0M162.3 442.3h0M147 474.6h0M174.5 427.4h0M133.4 434.5h0M177.9 456.6h0M167.2 472.3h0M126.8 472.1h0M142.7 484h0"/>
<path stroke-width="1.6" opacity="0.25" d="M109.3 487.8h0M142.1 448.3h0M113.6 429.1h0M140.5 430.5h0M134 446.3h0M176.1 476.5h0M145.6 471.8h0M148.7 449.5h0M123.4 432.6h0M168.2 446.6h0M181.5 484.9h0M173.5 474.5h0M155.3 487.3h0M173.5 455.8h0M158.4 489.7h0M163.2 439.7h0M159.3 463h0M136.4 476.2h0M118.1 456.3h0M176.9 488.8h0M156.7 467.8h0M108.5 475.4h0M155.2 454.1h0M167 461.3h0M169.6 447.5h0M141.7 423.7h0M178 452.8h0M125.6 482.7h0"/>
<path stroke-width="1.6" opacity="0.5" d="M171.1 494.2h0M136.9 427.2h0M159.7 462.2h0M173.5 423.8h0M123.9 442.6h0M167.6 464.7h0M171.8 433.4h0M129.8 480h0M169 454.5h0M160.9 433h0M113.1 424.7h0M138.6 447.1h0M124.8 440.9h0M123.1 463.8h0M182.3 494.3h0M165.9 485.1h0M110.9 425.2h0M172.3 458.7h0M155.6 441.6h0M168.2 442h0M132.9 476.8h0M174.1 450.8h0M156.4 423.4h0M174.9 447h0M118.4 463.6h0M117.4 456.2h0M136.9 493.9h0M160.5 437.3h0M158.1 481.2h0M158.1 429.9h0M154.3 493.5h0M176.4 430.4h0M175.6 483.3h0M178 454.5h0M179.8 444.3h0M141.5 480.6h0M128.9 423.1h0M138.3 431.6h0M172 432.2h0M184 449.2h0M168.6 447.1h0M135.8 462.3h0M176.1 466.7h0M173.4 454.4h0M177.9 482.3h0M130.2 427.6h0M125.1 454.4h0M125.6 430.7h0M118.8 476.8h0M153.9 482.2h0M122.3 469.1h0M156.9 464.8h0M169.4 462.4h0M145.2 425h0M127.7 471.6h0M117.9 430.8h0M127.6 424.7h0M126.8 445.7h0M172.6 430.3h0M135 444.3h0M172 476.7h0M169 449.9h0M147.2 439.3h0M128.2 427h0M126.4 484.2h0M179.3 454.9h0M116.3 454.2h0M185.2 463.7h0M127.3 443.7h0M169.4 483h0M111.1 484.5h0M153.2 455.8h0M179 484.4h0M134.3 479.2h0M128.3 429.8h0M175.8 458.2h0M129.7 440h0M166 458h0M124.8 454.8h0M168.4 441h0M171.4 457.9h0M121.1 467h0M124.1 422.6h0M129.1 425.5h0M182.3 467.8h0M149.8 444.5h0M133.5 474.1h0M152.1 430.2h0M173.4 437.3h0M148.5 440.2h0M180 460.5h0M122.1 425.7h0M142.1 439.7h0M156.2 454.7h0M184.6 442.6h0"/>
<path stroke-width="1.6" opacity="0.75" d="M125.5 432.8h0M145.9 444.4h0M172.6 426.5h0M172.4 487.2h0M170.9 478.4h0M106.3 474.6h0M182.4 465.3h0M117.3 430.5h0M140.1 444.7h0M173.4 450.5h0M160.4 456.1h0M120.3 479.5h0M151.8 476.4h0M114.5 476h0M173.3 483.5h0M176.4 459.4h0M158.8 481.7h0M143.6 442.5h0M109.5 487.1h0M119.6 490.2h0M183.4 493.7h0M179.1 460.1h0M168.6 437h0M126.8 470.5h0M120.8 464.3h0M106.9 435.6h0M142.1 437.7h0M112.5 422.6h0M157.6 491.8h0M167.4 441h0M117.5 463.6h0M174.3 476h0M109.6 471h0M148.3 431.4h0M182.3 493.6h0M166.8 483.2h0M159.4 483.2h0M167.1 464.3h0M165.3 459.1h0M157.9 490.2h0M178.3 460.5h0M169 433.9h0M176.6 464.3h0M133.6 461.9h0M161.7 423.2h0M172.4 451.3h0M107.6 441h0M155.7 433h0M119 424.3h0M126.8 424.9h0M178.6 451.6h0M113 486.4h0M180 435.2h0M157.7 482.4h0M141 475h0M137.8 430h0M184.3 474.2h0M110.1 493.1h0M140.4 439.5h0M109.4 491.5h0M172.2 489.6h0M158.9 449.8h0M171 478.7h0M126.9 482.1h0M173.3 493h0M140 435.8h0M116.3 456.4h0M135.6 460.7h0M137.3 491.4h0M124.2 443.8h0M140.5 448.5h0M143.3 451.4h0M154.5 457.3h0M150 444.6h0M127 440.9h0M140.9 469.1h0M120.9 477.9h0M117.4 440.5h0M146.5 447.1h0M113.8 453h0M144.8 447.5h0M144.4 447.3h0M141.6 431.4h0M170.6 465.6h0M132.3 448.7h0M127.3 449.6h0M122.1 493.8h0M110.6 482.3h0M137.5 428.2h0M113.7 438.5h0M160.9 458.6h0M130 460.2h0M156.8 490h0"/>
<path stroke-width="1.6" d="M131.6 470.9h0M157.1 462.8h0M118.8 424.5h0M171.3 440.6h0M159.1 444.3h0M158.3 437.1h0M129.4 428.5h0M179 485.8h0M183.5 475.7h0M129 432.3h0M123.1 475.2h0M120.4 478.2h0M171.4 444.1h0M161.2 433h0M117.1 476.2h0M136.7 485.1h0M134.2 491.5h0M155.4 455h0M166.9 448.7h0M175.2 474.5h0M140.6 453.6h0M144.2 430.3h0M179.5 481.3h0M153.5 436.8h0"/>
<path stroke-width="1.8" opacity="0.25" d="M128.8 423.2h0M159.2 491.8h0M134.4 468.4h0M175.5 488.7h0M120.3 452.9h0M185.2 433.2h0M173.8 436.9h0M124.9 444.5h0M158.5 432.1h0M181.7 449.4h0M132.3 467.3h0M106.7 478.8h0M125.5 425.6h0M154 487h0M177.2 458.4h0M130.8 430.7h0M141.5 479.1h0M159.6 422.8h0M117.3 429.1h0M135 467.4h0M184.5 462.1h0M174.4 489.1h0M172.9 464.2h0M127 437.7h0M170.8 459.6h0M137.4 435h0M150.4 433.4h0M183.7 453.2h0M181.1 470.6h0M121.5 433.3h0M115.5 450.4h0"/>
<path stroke-width="1.8" opacity="0.5" d="M122.8 463.7h0M183.9 458.2h0M130.1 475.5h0M105.7 484.5h0M167 457.1h0M180.8 453.1h0M157 459.3h0M140.9 478.9h0M177.2 460.8h0M137.9 459.5h0M118 477.2h0M157 459h0M119.3 474.2h0M157 469.6h0M179.4 479.6h0M156.8 487.1h0M162.4 448.8h0M162.4 428.3h0M148.8 486.7h0M113.8 486.8h0M174.9 481.5h0M159.3 484.4h0M156 492.6h0M167.5 477.1h0M170.5 485h0M156 445.4h0M146 425.8h0M120.4 491h0M118.8 493.6h0M126.5 439.7h0M152.8 422.4h0M118.7 462.1h0M128.7 426.5h0M130.6 484.4h0M164.1 445.9h0M171.7 473.9h0M163.5 425.5h0M144.2 446.3h0M117.2 423.1h0M119.9 430.2h0M168.1 448.5h0M146.1 442.6h0M159.3 463.5h0M131.6 465.9h0M152.5 480.1h0M138.3 438.5h0M173.8 436.1h0M142.4 469.1h0M180.3 437.6h0M166.7 460h0M172.9 471.8h0M165.7 431.5h0M146.8 446.7h0M144.9 453.2h0M119 489.3h0M114.4 423.6h0M119.4 430.7h0M139 484.4h0M110.6 477.5h0M132.7 458.5h0M176.4 466.8h0M171.4 465.7h0M136.6 428h0M120 442.7h0M172.6 447.1h0M117.4 425.3h0M126.1 437.4h0M155.2 462.8h0M144.4 453.5h0M112.9 431.4h0M178.6 445.2h0M153 446h0M140.7 481h0M119.4 461.3h0M179.3 450.6h0M120.5 430.1h0M140.5 487.8h0M144.7 452.9h0M149 445.6h0M183.2 455.1h0M108.6 445.2h0M108.2 443.9h0M113.9 463.3h0M137.5 478.5h0M151.7 450.5h0M173.1 446.7h0M178.5 479h0M159.3 477.8h0M155.6 486.9h0M169.1 433.9h0"/>
<path stroke-width="1.8" opacity="0.75" d="M148.2 445.2h0M141.8 468.7h0M128.6 429.6h0M129 465.5h0M169.5 491.2h0M129.5 461.8h0M159.1 448.7h0M171 452.7h0M114.8 465.5h0M176.2 484.4h0M174.5 471.1h0M121.7 465.2h0M130.8 425.7h0M161.5 427.7h0M108 445.4h0M132.8 460.5h0M179.6 455.3h0M139.2 431h0M129.9 462.4h0M162.1 425h0M185.1 470.6h0M119.4 466.9h0M115.8 453.7h0M133.8 483.2h0M111.2 437.4h0M140.8 471.2h0M156.3 431.4h0M135.1 476.7h0M148.3 429h0M182.5 425.1h0M123.8 459.5h0M110 449.6h0M128.2 492.7h0M173.6 442.9h0M120.2 468.3h0M132.5 461h0M158.3 423.7h0M122.1 474.5h0M181.5 461.6h0M108.5 424.6h0M155.9 433.6h0M182.9 426.2h0M124.4 425h0M121.6 438.2h0M158 471.1h0M113.2 422.2h0M157.1 484.1h0M131.3 425.4h0M152.7 488.1h0M111.7 485.6h0M168.3 448.6h0M183.1 446.9h0M141.9 455.8h0M175.7 451.8h0M150.3 443.9h0M120.8 443.8h0M129.6 486.8h0M114.2 439.3h0M158.7 489.9h0M124.9 444h0M164.5 493.2h0M166 465.2h0M152.9 464.8h0M108.9 444.2h0M126.9 460.5h0M178.6 423.1h0M160.9 438.4h0M137.2 439.7h0M119.9 464.6h0M120.6 429.4h0M127.8 482.4h0M173.9 487.8h0M113.8 458.7h0M125.3 425.2h0M151.5 426h0M131.1 434.1h0M158.4 435.8h0"/>
<path stroke-width="1.8" d="M137.3 445.3h0M142.1 427h0M136 486.9h0M163 456.4h0M181 458h0M138.6 432.7h0M123.9 433.8h0M109.6 484.4h0M114.6 439.4h0M163.5 466.1h0M122.1 436.5h0M153.1 428.8h0M111.9 426.7h0M107.4 481.6h0M183.7 456.7h0M175.8 466.8h0M107.1 485.6h0M182.1 456.7h0M114.3 439.1h0M165.8 457.6h0"/>
<path stroke-width="2" opacity="0.25" d="M172.5 462.9h0M113.9 459.3h0M164.1 457h0M145.8 432.4h0M130.7 483.5h0M115 430.9h0M108.7 431.2h0M133.1 451.9h0M164.7 427.3h0M140.5 472.4h0M126.4 460.9h0M132.8 457.4h0M156.7 424.1h0M130.5 491h0M110 423h0M140.5 454.9h0M170.9 427.4h0M125.1 480.1h0M169.4 489.5h0M177.7 454.5h0M119.7 438.3h0M131.8 423.2h0M166.8 481.2h0M164.3 442.3h0M152.4 486.4h0M184.6 449.3h0M108.4 469.2h0M156.3 447h0M134.7 422.4h0M152.4 483.6h0"/>
<path stroke-width="2" opacity="0.5" d="M134.7 481h0M153.5 437.5h0M153.6 467.8h0M153.3 493.5h0M116.8 478.3h0M172.4 432.6h0M138.2 447.3h0M107 472.3h0M140.4 460.8h0M107.6 451.8h0M116.9 432.9h0M177.1 432.5h0M160.2 446.4h0M157.3 440.2h0M165.5 449.5h0M114.4 457.4h0M155.9 473h0M184.1 448.4h0M141.5 427.6h0M166.9 429.5h0M133.3 460.4h0M122.7 481.1h0M175.3 432.2h0M151.9 445.3h0M173.6 442.4h0M165.7 444.7h0M166.5 432h0M109.5 426.8h0M116.7 484.8h0M148.1 427.8h0M129.3 482.9h0M109.5 426.4h0M131.9 478.5h0M180.9 431.1h0M168 465.1h0M164.4 494.2h0M173 454.6h0M161.2 427.9h0M157.9 448.9h0M113.9 484.7h0M156.9 456h0M183.6 483.9h0M170.4 483h0M132.6 461.4h0M141.2 437.6h0M117 431.1h0M125.2 431.4h0M109.3 473.5h0M181.8 489.3h0M131.7 478.4h0M183.5 457.4h0M121 456.4h0M167.4 427.2h0M156.7 427.1h0M177.8 489h0M121.4 438.4h0M109.1 429.8h0M127 427.3h0M127.5 436.4h0M152.3 426.2h0M133.9 432.6h0M173.1 433.4h0M133.9 488.3h0M183.5 491.3h0M134.8 429.4h0M139 465.3h0M133.9 440.5h0M154.7 488.3h0M179.6 426.1h0M133.9 472.8h0M128.9 478.8h0M160.1 440.8h0M172.8 467.3h0M142.7 427.3h0M174.2 477.7h0M162.5 479.6h0M178.6 452.2h0M145.2 437.8h0M169.9 481.6h0M181.3 452.9h0M113.2 478.2h0M141.4 484h0M121.9 455.5h0M172.1 456h0M128.2 465.8h0M138.7 460.6h0M152.3 491.3h0M141.4 440.5h0M122.5 452.3h0M167.7 464h0M145.1 430.5h0M139.7 491.1h0M116.6 466.4h0M119 470.7h0M115.1 489.1h0M135.4 483.3h0M123.7 465.4h0M130 484.5h0M116.4 450.2h0M133.9 476.5h0M127.3 444.6h0M154.4 431.2h0"/>
<path stroke-width="2" opacity="0.75" d="M113.2 476.3h0M120.6 456.2h0M125.9 433.9h0M161.5 431.5h0M157.6 475.3h0M124.1 454.5h0M118.6 490.5h0M112.8 459h0M156.8 423.6h0M153.3 493.5h0M177.7 484.9h0M118 440.2h0M168.6 483.5h0M174 480.7h0M157.9 473.7h0M142.6 455.4h0M123.5 425.7h0M134.4 431h0M157.2 441.5h0M127 439.7h0M174.9 474.7h0M159.2 445.1h0M169.8 433.9h0M182.6 441.7h0M128.5 446.4h0M169.2 463.2h0M133.4 437.4h0M167.9 436.9h0M105.6 446.3h0M116.1 486.9h0M169.2 488.5h0M129.8 454.7h0M110.1 446.5h0M142.4 453.1h0M112.7 452.2h0M171.8 491.8h0M123.1 493.3h0M129.7 429.1h0M167.4 472h0M183.2 450.2h0M106.7 428.6h0M142 483.2h0M167.5 426.6h0M182.8 461.1h0M136.7 427h0M156.5 492.6h0M173.9 424.6h0M136.1 443h0M175.5 465.1h0M172.9 489.2h0M157.3 447.9h0M178.8 422.6h0M173.2 434h0M136.5 434.8h0M155.4 469.7h0M172.5 440h0M170.7 452.1h0M126.2 492.4h0M110.9 425.8h0M110.7 484.2h0M113.7 492.1h0M135.4 467.3h0M153.1 480.8h0M122.2 430.8h0M126.8 439.6h0M137.6 450.8h0M179.4 492.5h0M146.8 452.2h0M182.9 443.7h0M105.6 426.7h0M116.9 490.6h0M125.8 465h0M110 435.4h0M182.8 447.8h0M159.1 431.2h0M135.6 459.9h0M124 476.9h0M172.1 479.7h0M184.9 493.2h0M126.8 474h0M119.2 466.2h0M171.7 454h0M144.9 440.2h0M174.8 428.9h0M132.2 429.1h0M145.8 443.2h0M157.5 470.9h0M166.5 492.9h0M164.7 427.2h0M121.5 440.6h0M141.1 484.8h0M184.9 428.2h0M142.2 462.8h0M183.3 467.6h0M106.9 422.7h0M144.3 459.5h0M159.9 492.6h0M126.7 457.9h0M118.5 478.5h0M157.3 425.9h0M173.2 433.5h0M113.9 455.1h0M139.2 462.9h0M117.7 423.6h0M181.7 490.5h0M140.4 441.6h0M120.8 438.7h0M158.9 442.6h0"/>
<path stroke-width="2" d="M125.4 465.3h0M179.9 476.8h0M155.4 430.5h0M140.3 468.5h0M158.6 422.5h0M166.1 449.7h0M140.2 491.7h0M174.3 466.4h0M144.8 446.4h0M123.6 428h0M113.7 491.1h0M155.4 466.5h0M178.9 476.5h0M170.5 476.7h0M141.3 451.8h0M143 435.9h0M142.1 431.9h0M168 456.2h0M130.2 443h0M177.5 466.7h0M136.6 432h0M154.6 453.9h0M130.2 483.5h0M170.8 466.2h0M115.3 465h0"/>
<path stroke-width="2.2" opacity="0.25" d="M159.2 440.4h0M119.3 491.4h0M165.7 430.4h0M133.8 463.7h0M179.2 445.3h0M110.3 474.5h0M170.6 481.2h0M173 477.2h0M117.8 437.7h0M182.2 487.2h0M155.7 436.4h0M107.4 487.8h0M154.6 443.3h0M166.7 478.8h0M153.9 433.3h0M122.7 474.6h0M138.8 467.7h0M161.5 492.9h0"/>
<path stroke-width="2.2" opacity="0.5" d="M141.6 432.7h0M123.3 427.2h0M174.8 480.8h0M177.3 450.8h0M168.6 482.2h0M160.4 477.5h0M132.6 423.9h0M145.3 439.8h0M130.5 489.8h0M147.9 438.3h0M132.2 439.3h0M105.8 465.3h0M118.5 469h0M125 474.6h0M121.3 447.3h0M174.3 422.4h0M133.6 427.6h0M177.2 478.3h0M119.5 469.6h0M118 439.2h0M155.7 423.4h0M114.2 451.9h0M168.5 469.5h0M107.1 480.6h0M166.7 492.8h0M162.9 444.8h0M185.2 477.2h0M159.4 469.8h0M143.5 436.1h0M126.1 481.9h0M116.7 429.5h0M163.1 441.1h0M115.5 453.7h0M160.1 437.2h0M173.2 490.6h0M183.3 457.6h0M155.9 432.9h0M112.3 478.5h0M118.9 423.3h0M129.2 435.4h0M152.3 492.3h0M143.2 452.1h0M158.1 460.8h0M144.9 433.4h0M159 490.8h0M175.6 461.9h0M118.2 454.2h0M152.1 455.1h0M145.9 429.5h0M164.3 442.1h0M123.2 477.2h0M162.3 449.7h0M114.3 459.5h0M130.7 426.2h0M181.3 490.9h0M164.4 442.4h0M177.8 458.7h0M166.4 488.6h0M177.6 471h0M156.3 469.6h0M133.7 466.6h0M185.3 442.6h0M105.9 436.1h0M119.4 431.4h0M144.7 439.4h0M167.9 447.5h0M166.7 474.8h0M159.5 463.2h0M170.9 466.7h0M142.5 429.4h0M182 483.8h0M117.8 471.2h0M121.5 472.3h0M165.9 435.6h0M105.8 426.5h0M169.7 478.2h0M129.1 477.1h0M139.5 462.9h0M174 484.2h0M159 450.8h0M159.5 428.8h0M177 444.7h0M137.7 479.2h0M125.7 477.1h0M168.3 471.1h0M156.4 475.6h0M126.8 456.1h0M169.7 481.8h0M111.4 482.6h0M164.7 433.3h0M170.3 492.2h0M154.3 484.2h0M117.2 479.1h0M156.3 490.4h0M130.7 475.1h0M177.3 488.9h0M151.8 442.6h0M112.7 490.1h0M181 462.2h0M155.6 479.6h0M161.2 459.7h0M152.9 488h0M109.5 437.7h0M157.1 479.4h0M117.8 460.8h0M167.8 462h0M130.7 457.8h0M154.9 490.7h0M144.4 431h0M183.3 472.7h0M161.2 441.2h0M130.9 482h0M177.3 466.5h0M110.7 490.8h0M118.4 473h0M143 451.9h0M170.8 427.4h0M159.7 484.8h0M182.8 491.4h0"/>
<path stroke-width="2.2" opacity="0.75" d="M140.4 490.4h0M176.7 459.9h0M108.8 435h0M157.2 485.2h0M127.2 485.6h0M182.9 489.5h0M117 422.6h0M118.7 469.6h0M140.4 461.3h0M159.4 468.2h0M156.4 430.1h0M107.2 435.9h0M153.2 432.7h0M107.3 474.7h0M140.1 467.6h0M160 490.9h0M139.7 439h0M114.3 493.1h0M158 433.5h0M108.4 432.2h0M178.3 490h0M124.7 438.3h0M180.2 470.5h0M123.4 483h0M112.6 486.1h0M109.5 446.5h0M176.6 472.1h0M157.8 468.4h0M180 439.6h0M134.3 446.2h0M183.6 452.4h0M166.6 445.4h0M179.4 436.6h0M134.6 438.9h0M120.9 436.6h0M107.3 471.7h0M172.3 466h0M107.8 444h0M185.3 448.7h0M131.9 488.1h0M173.6 427h0M152.1 450.2h0M119.5 430.6h0M105.7 430.7h0M122.8 436.5h0M142.7 443.6h0M110.2 475.3h0M139.4 465.8h0M175 455.4h0M140 477.9h0M118.1 452.5h0M180.9 475.9h0M127.8 462.9h0M174.4 473.4h0M108.3 485.4h0M128.4 461.7h0M149.6 440.8h0M130.8 458.8h0M152.7 477.5h0M165.2 427.5h0M136.5 427.9h0M159.5 471.5h0M182.5 454.5h0M124.9 431.2h0M138.3 469.1h0M157.3 474.3h0M175.5 466.9h0M141.9 466.9h0M110.3 479.8h0M147.7 486.3h0M175.6 440.8h0M119.5 454.3h0M142.2 434.3h0M158.7 456.5h0M152.6 465.7h0M180.2 452.3h0M113.4 429.4h0M179.6 476.1h0M171.7 449.2h0M170.6 472.3h0M128.8 424.5h0M157.7 456.5h0M164 429.7h0M134.7 440.9h0M165 453.7h0M113 431.2h0M177.4 475.6h0M175.5 470.8h0M169.6 430.6h0M142.3 430.7h0M127.4 432.1h0M118 459.2h0M176 437.8h0M128.9 438.2h0M163.2 442.4h0M173.3 468.4h0M129.7 487.4h0M184.3 475.2h0M148.6 451.8h0M178.7 432.6h0"/>
<path stroke-width="2.2" d="M125.9 442h0M116.1 493h0M133 438.4h0M113.6 447h0M169.5 467.6h0M129 457.9h0M172.4 443.5h0M130.1 480.6h0M157.3 472.4h0M120.1 464h0M178.7 449.8h0M180 429.7h0M124.4 427.7h0M133.1 480.4h0M180.5 430.4h0M106.3 430.6h0M119 477h0M121.5 473h0M143.5 436.8h0M123.5 422.8h0M175.4 437h0M170.7 482.1h0"/>
</g>
<g filter="url(#bl2)" stroke="#02020a" stroke-linecap="round" opacity="0.45">
<path d="M147.06 458.25L147.06 492.61" stroke-width="9"/>
<path d="M162.4 459.71L162.4 489.68" stroke-width="4"/>
<path d="M111.56 440.71L141.42 458.25" stroke-width="3.5"/>
<path d="M108.33 449.48L109.94 467.02" stroke-width="6"/>
<path d="M117.2 484.57L130.92 491.88" stroke-width="4"/>
<path d="M176.12 425.36L184.19 436.32" stroke-width="3"/>
</g>
<g stroke="#c82068" stroke-linecap="round" filter="url(#bl1)" fill="none">
<path stroke-width="1" opacity="0.5" d="M156.7 438h0M184 479.6h0M109.4 444.7h0M133.6 449.9h0M152 487.8h0M107.6 423.9h0M149.6 474h0M157 429.5h0M119.7 449.2h0M146.2 445.4h0"/>
<path stroke-width="1" opacity="0.75" d="M148.7 445.3h0M183.3 440.9h0M124 469.7h0M144.2 430.7h0M161.8 457h0M132.1 447.3h0M113.8 437.4h0"/>
<path stroke-width="1" d="M185 428.9h0M132.6 434.4h0M153.5 442h0M169.4 492.2h0M177.6 462.8h0M162.7 435.5h0M116.2 487h0M128.4 431.5h0M119.1 476h0M155.9 477h0"/>
<path stroke-width="1.2" opacity="0.25" d="M180.2 442.2h0M137.8 459.3h0M175.9 434.1h0M176.6 481.6h0"/>
<path stroke-width="1.2" opacity="0.5" d="M137.7 436.5h0M156.3 424.9h0M135.5 442.6h0M162.7 455.9h0M154.6 486.8h0M136.2 436.5h0M110.1 463.2h0M132.9 435.6h0M177.1 468.1h0M167.2 489.5h0M152.3 428.1h0M174.8 473.5h0M130.9 473h0M171.6 475.8h0M184.1 459h0M156.8 448.4h0M127.3 427h0M134 458.8h0M151.4 438.9h0M172.3 430.8h0M174.9 433.6h0M170.3 453.3h0M145.3 451.9h0M158.4 444.5h0M159.6 457.1h0M168.6 428.2h0M132.5 441.8h0M112.6 453h0M173.4 476.7h0M176.7 457.6h0M127.2 427.6h0M174.8 435.5h0M159.3 466h0M155.5 492.4h0M125.9 433h0M151.5 441.8h0M179.1 491.6h0M139.4 462.5h0M145.1 438.6h0M138.6 491.5h0M175.7 431.5h0M116.8 490.5h0M109.8 480.7h0"/>
<path stroke-width="1.2" opacity="0.75" d="M116.7 430.3h0M181.7 437.4h0M168.6 444.3h0M157.4 493.7h0M138.3 481.6h0M152.8 477.5h0M170.7 484.9h0M160.2 491.2h0M159 457.3h0M185 425.7h0M178.1 481h0M106.9 480.9h0M115.9 424.1h0M136.5 488.1h0M116.3 435.7h0M129.1 494.1h0M117.6 440.7h0M176.3 447.7h0M111.7 472.3h0M131.6 471.7h0M160.4 451.3h0M159.8 433.4h0M152.7 435.4h0M120.3 440h0M165.6 430.5h0M137.3 494.2h0M153.3 458.4h0M141.3 430.4h0M125.1 429.6h0M119.9 433.9h0M173.4 447.3h0M165.9 423.2h0M185 444.6h0"/>
<path stroke-width="1.2" d="M154.5 437.1h0M120 455.4h0M144.3 442.1h0M174.2 493.9h0M113 461.1h0M135.9 472.5h0M157.6 435.9h0M121.5 459h0M132.9 424.7h0M114.6 431.6h0M165.2 432.6h0M185.1 478.1h0M164.9 430.7h0M121.7 432.9h0M177.3 472h0M115.7 470.6h0M167.2 460.5h0"/>
<path stroke-width="1.4" opacity="0.25" d="M166.6 493.2h0M144.1 443.6h0M133.1 470.1h0M167.3 457.8h0M137.7 444.8h0M165.3 457.2h0"/>
<path stroke-width="1.4" opacity="0.5" d="M139.5 432.3h0M139.5 473.5h0M136.5 471h0M108.7 474.9h0M175 431.2h0M119.9 427.5h0M178.5 469.8h0M118.4 455.9h0M175.8 470.4h0M168.3 443.9h0M174 486.3h0M126.4 443.5h0M106.4 491.7h0M125.9 459.3h0M178.2 484.2h0M184.5 461h0M180.4 484h0M157.8 468.3h0M111.8 423.1h0M135.7 481.7h0M158.1 438.9h0M171.7 480h0M135.6 431.3h0M180.9 461h0M136.8 439.1h0M173.8 470.3h0M136.4 448.4h0M153.1 477.4h0"/>
<path stroke-width="1.4" opacity="0.75" d="M106.6 430.3h0M173.7 456.5h0M129.4 435.5h0M125.4 467.3h0M107.4 480.1h0M130.6 441.9h0M117.4 492.1h0M177.3 451h0M141.1 491h0M164.9 436.6h0M181.4 474.3h0M138 473h0M172.7 451.2h0M145 432h0M156.2 488.1h0M169.1 425.4h0M116.6 474.7h0M168 488.1h0M131.9 487h0M179.2 493h0M171 439.8h0M157.5 482.2h0M111.3 491.2h0M121.7 477.9h0M176.8 473.8h0M172.5 492.5h0M175.6 436.6h0M182.7 472.5h0M182 424.1h0M160.1 429h0M181.7 474h0M125.2 492.1h0M153.3 458.4h0M151.1 459h0M152.2 472.4h0M182.9 441.6h0"/>
<path stroke-width="1.4" d="M161 429.1h0M170.5 448.4h0M120.6 449.1h0M168.3 465.1h0M181.3 465.9h0M111.5 431.9h0M143.7 425.6h0M183.6 454h0M174.1 466.1h0M121.3 461.5h0M181.3 437h0M116.1 460.7h0M168.1 488.4h0M120.8 491.4h0M129.5 444.8h0M125.5 426.7h0"/>
<path stroke-width="1.6" opacity="0.25" d="M164.9 430.1h0M140.8 465.1h0M107 456.6h0M173.9 480.6h0M153.7 446.4h0"/>
<path stroke-width="1.6" opacity="0.5" d="M117.3 475.6h0M123 479.6h0M163.4 472.2h0M161.2 448.8h0M129.5 488h0M109.4 491h0M177.8 434.4h0M173.1 461.8h0M132.4 458.2h0M117.4 472h0M141.7 433.6h0M125.8 473.3h0M117.8 430.7h0M161.1 482h0M153.6 485.1h0M168.9 469.9h0M129.5 447.8h0M122.5 454h0M105.6 428.3h0M152.8 474.9h0M131.8 445.6h0M180.3 425.5h0M123.2 460.6h0M175.3 492.5h0M137.8 440.1h0M126.4 457.7h0M133.3 444.1h0M119.8 492.1h0M108.9 464.6h0M170.6 465.7h0M156.3 438.3h0M161.2 431.3h0M153 472.5h0M165.7 454.9h0M164.3 434.8h0M174.6 442.6h0"/>
<path stroke-width="1.6" opacity="0.75" d="M178.1 453.1h0M144.3 447.6h0M143.2 428h0M167.3 453.9h0M173.5 461.9h0M185 439.9h0M117.9 492.5h0M116.4 431.8h0M136.4 449.9h0M182 422.3h0M185.1 494h0M154.8 472.5h0M180.3 477.6h0M130.8 468.3h0M153.3 475.3h0M111.1 484.1h0M176.8 484.8h0M125.8 433.1h0M170.6 450h0M137.3 445.4h0M171.5 465.5h0M140.5 469.8h0"/>
<path stroke-width="1.6" d="M167.5 439h0M138.9 490.3h0M141.8 432.1h0M125.5 484.9h0M128.6 431h0M121 428.6h0M179.5 476.7h0M124.5 477.3h0M134.4 492.7h0M160.1 451.5h0M114.7 462.8h0M112.2 471.4h0M113.4 494.2h0M110.5 430.4h0M171.7 436.1h0M164.4 446.7h0M130.2 471.1h0M178.3 437.8h0M108.8 435h0"/>
<path stroke-width="1.8" opacity="0.25" d="M167.7 475.2h0M169.4 451.8h0"/>
<path stroke-width="1.8" opacity="0.5" d="M115 429.3h0M151.8 434.2h0M159.3 459.6h0M133.2 484h0M113.4 480.7h0M109.7 443.7h0M140.1 463.1h0M184.6 461.1h0M171.7 444.4h0M149.2 439.4h0M153.5 442.7h0M134 489.1h0M109.5 455.9h0M128 491.8h0M107.3 461.9h0M181.2 458.7h0M154.5 444.4h0M156.4 453.7h0M124.2 464.3h0M182.2 446h0M139.9 487.1h0M124.9 422.2h0M154.3 431.5h0M147 446.4h0M130.7 433.9h0M176.7 466.1h0M146 450.8h0M177.3 480h0"/>
<path stroke-width="1.8" opacity="0.75" d="M108 475.2h0M169.4 454.3h0M168 475.9h0M143.7 471.6h0M170.7 475.2h0M168.2 441.4h0M111.8 429h0M162 466.2h0M123.3 426.3h0M169 486.1h0M166.5 440.8h0M152.7 467.5h0M121.8 427.8h0M156.8 487.3h0M171.4 461.3h0M184.5 492.5h0M131.6 454.9h0M110.6 490.6h0M136.8 469.8h0M106.8 442.6h0M129.4 482.6h0M132.6 432.9h0M106.8 487.3h0M126.7 474.1h0M174.7 454.7h0M153.2 484.3h0M171.2 449.8h0M115.7 471.2h0M157.5 489.8h0M133.7 478h0M110.7 436h0M171.7 424.6h0M166.8 490.4h0M129.8 465.9h0M153.1 427.5h0M183.9 435.1h0M118.2 479.7h0M169.2 426.8h0"/>
<path stroke-width="1.8" d="M133.9 436.9h0M172.2 491.5h0M134 450.3h0M111.5 432.6h0M157.1 469.9h0M142.5 446.5h0M124.7 471.8h0M181.5 441.7h0M121.3 468.1h0M145 452.8h0M128.4 453.9h0M123.2 455.6h0M175.6 431.8h0M172.4 431.7h0M172.3 437.3h0M152.3 432.3h0M133.5 465.9h0M123.4 460.5h0M138.1 442.3h0M109.7 486.3h0"/>
</g>
<text x="108.5" y="429.2" font-size="3.9" fill="#e4e4e4" textLength="29.81" lengthAdjust="spacingAndGlyphs">DAPI + CD4 high</text>
<rect x="173.5" y="490.4" width="10.8" height="0.8" fill="#d8d8d8"/>
<rect x="176.2" y="492.1" width="5.5" height="1.1" fill="#bbbbbb"/>
</g>
<g clip-path="url(#mc9)">
<rect x="190.9" y="421.7" width="80.9" height="73.1" fill="#07050b"/>
<rect x="190.9" y="421.7" width="80.9" height="73.1" filter="url(#fRh)"/>
<g filter="url(#bl2)" stroke="#02020a" stroke-linecap="round" opacity="0.8">
<path d="M232.97 458.25L232.97 492.61" stroke-width="9"/>
<path d="M248.34 459.71L248.34 489.68" stroke-width="4"/>
<path d="M197.37 440.71L227.31 458.25" stroke-width="3.5"/>
<path d="M194.14 449.48L195.75 467.02" stroke-width="6"/>
<path d="M203.03 484.57L216.79 491.88" stroke-width="4"/>
<path d="M262.09 425.36L270.18 436.32" stroke-width="3"/>
</g>
<g stroke="#d81e2e" stroke-linecap="round" filter="url(#bl1)" fill="none">
<path stroke-width="1" opacity="0.25" d="M193.4 423.9h0M235.5 474h0M209.1 456.6h0"/>
<path stroke-width="1" opacity="0.5" d="M242.6 438h0M270 479.6h0M195.2 444.7h0M219.5 449.9h0M209.9 469.7h0M237.9 487.8h0M242.9 429.5h0M205.5 449.2h0M232.1 445.4h0M213.3 493.7h0M234.3 429h0M263 467.3h0M214.9 439.6h0M227.7 455.1h0M216.6 427.8h0M194.2 435.2h0"/>
<path stroke-width="1" opacity="0.75" d="M269.3 440.9h0M230.1 430.7h0M247.7 457h0M202 487h0M214.2 431.5h0M228.1 457.4h0M212.6 481.8h0M269.8 445.6h0M238.3 427h0M210.3 466.9h0M269.7 438.8h0"/>
<path stroke-width="1" d="M271 428.9h0M239.5 442h0M255.4 492.2h0M263.5 462.8h0M255.3 440.6h0"/>
<path stroke-width="1.2" opacity="0.25" d="M221.4 442.6h0M266.1 442.2h0M223.7 459.3h0M257.6 475.8h0M258.3 430.8h0M254.5 428.2h0M245.7 486.1h0M249.2 452h0M199.1 460.2h0M211.9 462.2h0"/>
<path stroke-width="1.2" opacity="0.5" d="M243.3 493.7h0M242.2 424.9h0M248.7 455.9h0M222.1 436.5h0M218.8 435.6h0M256.7 484.9h0M253.1 489.5h0M271 425.7h0M264.1 481h0M260.8 473.5h0M242.7 448.4h0M213.2 427h0M222.4 488.1h0M219.9 458.8h0M237.3 438.9h0M260.9 433.6h0M231.2 451.9h0M244.4 444.5h0M245.5 457.1h0M218.3 441.8h0M198.4 453h0M238.6 435.4h0M262.7 457.6h0M260.8 435.5h0M241.4 492.4h0M211.7 433h0M237.5 441.8h0M265.1 491.6h0M225.3 462.5h0M202.7 490.5h0M205.8 433.9h0M251.8 423.2h0M271 444.6h0M239.5 491h0M200.3 477.6h0M258.3 485.8h0M246.2 423h0M241.7 456.9h0M241.8 482.5h0M243 449.4h0M210.7 492.6h0M259.8 453.1h0"/>
<path stroke-width="1.2" opacity="0.75" d="M202.5 430.3h0M267.7 437.4h0M254.5 444.3h0M240.5 437.1h0M234.6 445.3h0M224.2 481.6h0M218.5 434.4h0M205.8 455.4h0M246.1 491.2h0M201.7 424.1h0M215 494.1h0M221.7 472.5h0M243.6 435.9h0M207.3 459h0M218.7 424.7h0M197.5 472.3h0M217.5 471.7h0M251.1 432.6h0M271.1 478.1h0M218 447.3h0M199.7 437.4h0M263.3 472h0M205 476h0M253.2 460.5h0M261.3 459.4h0M248.6 454.3h0M214 471h0M259.1 477.6h0M206 453.4h0M266.1 456.1h0M244.5 478.3h0M224 435h0"/>
<path stroke-width="1.2" d="M230.2 442.1h0M200.5 431.6h0M250.8 430.7h0M207.6 432.9h0M248.7 435.5h0M201.5 470.6h0M241.8 477h0M201.6 457.1h0M265.5 456h0M244.2 443.1h0M261.4 445.8h0"/>
<path stroke-width="1.4" opacity="0.25" d="M252.6 493.2h0M261.9 434.1h0M211.7 459.3h0M264.2 484.2h0M223.6 444.8h0M259.7 470.3h0M262.6 481.6h0M219.4 490.2h0M216 428.8h0"/>
<path stroke-width="1.4" opacity="0.5" d="M223.6 436.5h0M225.3 432.3h0M240.5 486.8h0M195.9 463.2h0M261 431.2h0M263.1 468.1h0M205.8 427.5h0M204.2 455.9h0M245 457.3h0M238.2 428.1h0M261.8 470.4h0M216.8 473h0M270.1 459h0M192.2 491.7h0M270.5 461h0M262.3 447.7h0M256.3 453.3h0M259.4 476.7h0M197.1 491.2h0M213.1 427.6h0M245.2 466h0M222.7 439.1h0M231 438.6h0M224.5 491.5h0M261.7 431.5h0M195.6 480.7h0M239 477.4h0M203.3 438.9h0M224.8 430.4h0M222 463.3h0M213 440.8h0M231.5 422.6h0M218.9 459.2h0M197.3 424.3h0M257.5 425.6h0M192.6 428.7h0M222.4 422.2h0M242.5 426.8h0"/>
<path stroke-width="1.4" opacity="0.75" d="M192.4 430.3h0M256.4 448.4h0M238.7 477.5h0M267.3 465.9h0M197.3 431.9h0M250.9 436.6h0M267.4 474.3h0M192.7 480.9h0M242.2 488.1h0M260.2 493.9h0M255.1 425.4h0M202.2 435.7h0M198.9 461.1h0M253.9 488.1h0M203.5 440.7h0M246.3 451.3h0M245.7 433.4h0M206.1 440h0M251.5 430.5h0M258.5 492.5h0M223.2 494.2h0M239.2 458.4h0M227.2 430.4h0M210.9 429.6h0M246.1 429h0M237 459h0M259.3 447.3h0M215.3 444.8h0M211.4 426.7h0M238.1 472.4h0M268.9 441.6h0M204.9 423h0M219.2 484.7h0M231.5 425.9h0M227.8 441.4h0M195 474.8h0M201 482.7h0M268.1 469.2h0M221.4 442.2h0M253.1 444h0M223.1 424.8h0"/>
<path stroke-width="1.4" d="M247 429.1h0M201.9 460.7h0M206.6 491.4h0M257 462.8h0"/>
<path stroke-width="1.6" opacity="0.25" d="M229.9 443.6h0M203.7 430.7h0M208.3 454h0M260 486.3h0M219 470.1h0M253.3 457.8h0M197.7 423.1h0M221.5 481.7h0M244 438.9h0M251.2 457.2h0M242.2 438.3h0M198.7 451.3h0M206.3 436.6h0M233.1 452.3h0"/>
<path stroke-width="1.6" opacity="0.5" d="M225.4 473.5h0M211.3 467.3h0M215.4 488h0M222.4 471h0M193.3 480.1h0M194.5 474.9h0M264.4 469.8h0M191.4 428.3h0M254.3 443.9h0M230.9 432h0M212.3 443.5h0M266.4 484h0M217.7 445.6h0M217.8 487h0M243.8 468.3h0M209 460.6h0M261.2 492.5h0M257.6 480h0M221.4 431.3h0M212.2 457.7h0M266.9 461h0M219.1 444.1h0M261.5 436.6h0M268.7 472.5h0M222.3 448.4h0M217.6 449.7h0M219.7 485.7h0M236.8 423.8h0M240.2 447.3h0M210.9 434h0M211.7 479h0M238.9 469.1h0"/>
<path stroke-width="1.6" opacity="0.75" d="M259.6 456.5h0M215.3 435.5h0M264.1 453.1h0M216.4 441.9h0M254.3 465.1h0M203.3 492.1h0M263.3 451h0M227 491h0M223.9 473h0M258.6 451.2h0M202.4 474.7h0M265.2 493h0M257 439.8h0M243.5 482.2h0M207.6 477.9h0M262.8 473.8h0M268 424.1h0M267.7 474h0M211.1 492.1h0M239.2 458.4h0M223.2 445.4h0M212.6 472.7h0M261.3 441.4h0M220.1 488.3h0M199.8 477h0M211.2 432.7h0M242.2 489.9h0M248.3 443.3h0M258.7 444.8h0M269.8 477.9h0M221.5 439.8h0M244.5 476.9h0M239.5 469.9h0M254.2 473h0M255 486.9h0M252.7 480h0M228.3 440.6h0M195.8 479h0M213 462.7h0"/>
<path stroke-width="1.6" d="M206.4 449.1h0M206.8 428.6h0M229.6 425.6h0M269.6 454h0M260.1 466.1h0M207.2 461.5h0M267.3 437h0M194.6 435h0M254.1 488.4h0M231.2 451.9h0M219.5 452.4h0M223.7 487.8h0M261.7 437.3h0M236 434.5h0M203.3 452.7h0"/>
<path stroke-width="1.8" opacity="0.25" d="M203.3 472h0M250.9 430.1h0M226.7 465.1h0M192.8 456.6h0M205.6 492.1h0M259.9 480.6h0M238.9 472.5h0M241.1 469.1h0M191.9 474h0M229.2 449.1h0M268.5 457h0M208.3 438.8h0"/>
<path stroke-width="1.8" opacity="0.5" d="M203.2 475.6h0M208.8 479.6h0M195.2 491h0M230.2 447.6h0M218.2 458.2h0M227.6 433.6h0M247.1 482h0M239.6 485.1h0M254.9 469.9h0M215.3 447.8h0M238.7 474.9h0M268 422.3h0M266.3 425.5h0M223.7 440.1h0M194.7 464.6h0M247.1 431.3h0M251.7 454.9h0M260.6 442.6h0M253.4 475.6h0M258.7 470.3h0M247.7 469.9h0M221.4 440h0M200.9 489.4h0M219.7 492.5h0"/>
<path stroke-width="1.8" opacity="0.75" d="M253.5 439h0M224.8 490.3h0M227.6 432.1h0M229.1 428h0M253.2 453.9h0M259.5 461.9h0M265.5 476.7h0M271 439.9h0M202.3 431.8h0M210.3 477.3h0M222.2 449.9h0M271.1 494h0M240.7 472.5h0M266.3 477.6h0M239.3 475.3h0M196.9 484.1h0M211.7 433.1h0M256.6 450h0M264.3 437.8h0M257.5 465.5h0M226.4 469.8h0M196.9 493.9h0M211.2 446.2h0M256.8 467h0M241.4 482.1h0M266 467.7h0M249.3 482h0M249.1 443.4h0M219.7 437.7h0M207.3 454.3h0M259.4 459.8h0M195.4 445.6h0M270.8 448.5h0M258.6 428.3h0M249.4 422.8h0"/>
<path stroke-width="1.8" d="M211.3 484.9h0M220.2 492.7h0M246.1 451.5h0M198 471.4h0M199.2 494.2h0M196.3 430.4h0M257.6 436.1h0M250.3 446.7h0M216.1 471.1h0M249.7 456.3h0M219.2 471.2h0M244.2 449.9h0M262 440.1h0"/>
<path stroke-width="2" opacity="0.25" d="M253.6 475.2h0M247.2 448.8h0M263.8 434.4h0M219 484h0M195.6 443.7h0M219.9 489.1h0M255.4 451.8h0M210 464.3h0M239.6 446.4h0M235.3 430.5h0M217.4 444.7h0M225.3 465.1h0M247.3 448.4h0M250.2 456.5h0M262.8 479.6h0M249 447h0M254.8 467.9h0"/>
<path stroke-width="2" opacity="0.5" d="M249.3 472.2h0M237.7 434.2h0M245.2 459.6h0M254.2 441.4h0M259 461.8h0M199.2 480.7h0M211.6 473.3h0M270.6 461.1h0M235.1 439.4h0M239.4 442.7h0M193.1 461.9h0M270.5 492.5h0M240.4 444.4h0M242.4 453.7h0M268.2 446h0M243.5 489.8h0M257.7 424.6h0M256.5 465.7h0M216.6 433.9h0M262.7 466.1h0M231.9 450.8h0M263.3 480h0M250.2 434.8h0M241 448.3h0M263.7 457.4h0M257.8 481.2h0M211.8 470.6h0M222.6 467.2h0M255.9 475.7h0M213.6 449h0"/>
<path stroke-width="2" opacity="0.75" d="M193.8 475.2h0M255.4 454.3h0M229.6 471.6h0M256.6 475.2h0M197.6 429h0M247.9 466.2h0M219.8 450.3h0M214.5 431h0M255 486.1h0M238.6 467.5h0M207.6 427.8h0M203.7 492.5h0M257.4 461.3h0M196.4 490.6h0M222.7 469.8h0M230.9 452.8h0M218.4 432.9h0M216.7 468.3h0M209.1 455.6h0M260.6 454.7h0M261.6 431.8h0M257.1 449.8h0M201.6 471.2h0M262.8 484.8h0M219.6 478h0M196.5 436h0M215.6 465.9h0M224 442.3h0M255.2 426.8h0M195.5 486.3h0M208 453.4h0M214.4 426.7h0M206.7 451.3h0M199.8 485h0M231.2 449.5h0M262.3 488.9h0M263.8 456.1h0M199.6 452.4h0M216 485.9h0M220.4 492.6h0M215.6 466.1h0M258.8 465.8h0M207.2 451.1h0M226 426.3h0M253.3 438.2h0M252.4 460.2h0"/>
<path stroke-width="2" d="M219.8 436.9h0M228.4 446.5h0M207.2 468.1h0M200.5 462.8h0M214.3 453.9h0M258.3 431.7h0M258.2 437.3h0M238.3 432.3h0M219.3 465.9h0M209.3 460.5h0M269.2 477.2h0M228.8 455.1h0"/>
<path stroke-width="2.2" opacity="0.25" d="M226 463.1h0M240.2 431.5h0M252 474.7h0M227.7 455h0M265.3 478.8h0M226.7 449h0"/>
<path stroke-width="2.2" opacity="0.5" d="M200.8 429.3h0M252.4 440.8h0M257.6 444.4h0M195.3 455.9h0M213.8 491.8h0M267.2 458.7h0M225.8 487.1h0M210.8 422.2h0M232.9 446.4h0M240.2 482.3h0M197 458.1h0M243.5 450h0M266.5 455.5h0M207.9 475.5h0M209.7 480.1h0M223.4 481h0M240.5 449.3h0M254.7 441.1h0"/>
<path stroke-width="2.2" opacity="0.75" d="M254 475.9h0M197.3 432.6h0M209.1 426.3h0M242.7 487.3h0M217.4 454.9h0M192.6 442.6h0M215.2 482.6h0M192.6 487.3h0M212.6 474.1h0M239.1 484.3h0M252.8 490.4h0M239 427.5h0M269.9 435.1h0M204 479.7h0M217.3 448.3h0M220.1 427.3h0M217.9 423.8h0M251.5 422.2h0"/>
<path stroke-width="2.2" d="M258.2 491.5h0M243 469.9h0M210.6 471.8h0M267.5 441.7h0M228.4 426.9h0M255.9 430.9h0M241.6 462.1h0"/>
</g>
<g stroke="#22a844" stroke-linecap="round" filter="url(#bl1)" fill="none">
<path stroke-width="1" opacity="0.25" d="M270 483.7h0M224.3 471.2h0M263.2 491.9h0"/>
<path stroke-width="1" opacity="0.5" d="M236 449.8h0M265.9 434.1h0M248.6 450.8h0M227.7 490.2h0"/>
<path stroke-width="1" opacity="0.75" d="M249.6 456.7h0M208.6 452h0M265.5 464.7h0M233.5 422.9h0"/>
<path stroke-width="1.2" opacity="0.25" d="M255.7 436.1h0M249.8 424.4h0M229.5 422.8h0M270.1 454.9h0M216.7 440h0"/>
<path stroke-width="1.2" opacity="0.5" d="M214.9 456.9h0M225.1 478.8h0M197.4 493.1h0M215.6 431.9h0M223.5 459h0M259.6 430.7h0"/>
<path stroke-width="1.2" opacity="0.75" d="M210.9 458.4h0M226.1 452.1h0M239.9 422.6h0M217.6 425.7h0M202.7 481.7h0M228.3 426.3h0M235.4 485.1h0M219.6 465.6h0"/>
<path stroke-width="1.4" opacity="0.25" d="M205.4 493.3h0M227.6 476.1h0M209.8 451.6h0M193.4 429.5h0"/>
<path stroke-width="1.4" opacity="0.5" d="M269.6 426.1h0M223.6 484h0M205.2 437.3h0M252.5 445.8h0M205.2 475.8h0"/>
<path stroke-width="1.4" opacity="0.75" d="M256.6 428.8h0M200.1 457.6h0M269.9 423.1h0M209.6 425.7h0"/>
<path stroke-width="1.6" opacity="0.25" d="M200.4 487.4h0M262.6 482.7h0M258.5 493.6h0"/>
<path stroke-width="1.6" opacity="0.5" d="M268.7 474.9h0M225 428.5h0M236.8 468.6h0M242.2 433.3h0M226 450.8h0M209 438h0M246.8 448.9h0M221 476h0"/>
<path stroke-width="1.6" opacity="0.75" d="M239 493h0M268 423h0M215.4 428.2h0M215.4 466.3h0M203.6 481.1h0M267.6 436h0"/>
<path stroke-width="1.8" opacity="0.25" d="M265.3 482.1h0M226.2 474.9h0M205 476.2h0M213.2 423h0M259.6 488.4h0M222.5 485.1h0"/>
<path stroke-width="1.8" opacity="0.5" d="M252.3 436.1h0M257.3 481.8h0M235.6 451.7h0M252.8 433.7h0M207.8 490.1h0M199.6 463.9h0M209.7 477.6h0M244.4 438.7h0M213.9 474h0"/>
<path stroke-width="1.8" opacity="0.75" d="M240.6 448.7h0M268.1 442.6h0M253.7 428.2h0M244.8 476.5h0M201.1 434.9h0M264.2 481h0M210.8 423.8h0"/>
<path stroke-width="2" opacity="0.25" d="M251.8 422.4h0M198.2 427h0"/>
<path stroke-width="2" opacity="0.5" d="M209.9 462h0M238.2 448.2h0M254.2 494.1h0M219.9 479.5h0M241.3 476.9h0M211.7 493h0"/>
<path stroke-width="2" opacity="0.75" d="M258.3 456.1h0M252.4 469.2h0M213.7 478.6h0M239.6 459.2h0M266.5 437.8h0"/>
</g>
<text x="194.3" y="429.2" font-size="3.9" fill="#e4e4e4" textLength="45.7" lengthAdjust="spacingAndGlyphs">FAM111B high + CD4 high</text>
<rect x="259.5" y="490.4" width="10.8" height="0.8" fill="#d8d8d8"/>
<rect x="262.2" y="492.1" width="5.5" height="1.1" fill="#bbbbbb"/>
</g>
<g clip-path="url(#mc10)">
<rect x="275.6" y="421.7" width="82.4" height="73.1" fill="#07050b"/>
<rect x="275.6" y="421.7" width="82.4" height="73.1" filter="url(#fD2)"/>
<g filter="url(#bl2)" stroke="#02020a" stroke-linecap="round" opacity="0.8">
<path d="M278.07 429.01L278.07 483.84" stroke-width="5.5"/>
<path d="M296.2 455.33L320.92 450.94" stroke-width="5"/>
<path d="M320.92 450.94L346.46 443.63" stroke-width="5"/>
<path d="M346.46 439.98L347.29 467.02" stroke-width="5"/>
<path d="M282.19 483.84L296.2 494.8" stroke-width="8"/>
<path d="M348.11 421.7L353.88 430.47" stroke-width="4"/>
<path d="M296.2 455.33L290.43 467.02" stroke-width="3.5"/>
</g>
<g stroke="#20a040" stroke-linecap="round" filter="url(#bl1)" fill="none">
<path stroke-width="1" opacity="0.5" d="M284.9 447.2h0"/>
<path stroke-width="1.2" opacity="0.25" d="M286.7 426.4h0"/>
<path stroke-width="1.2" opacity="0.5" d="M302.2 472.2h0M309.1 446h0M290.6 473.6h0"/>
<path stroke-width="1.4" opacity="0.5" d="M316.4 462.3h0M348.9 471.9h0M311.4 432.6h0M355.8 466.8h0"/>
<path stroke-width="1.6" opacity="0.5" d="M307.5 483.5h0"/>
</g>
<text x="279" y="429.2" font-size="3.9" fill="#e4e4e4" textLength="37.03" lengthAdjust="spacingAndGlyphs">DAPI + FAM111B low</text>
<rect x="345.7" y="490.4" width="10.8" height="0.8" fill="#d8d8d8"/>
<rect x="348.4" y="492.1" width="5.5" height="1.1" fill="#bbbbbb"/>
</g>
<g clip-path="url(#mc11)">
<rect x="362" y="421.7" width="82.3" height="73.1" fill="#07050b"/>
<rect x="362" y="421.7" width="82.3" height="73.1" filter="url(#fD2)"/>
<g filter="url(#bl2)" stroke="#02020a" stroke-linecap="round" opacity="0.8">
<path d="M364.47 429.01L364.47 483.84" stroke-width="5.5"/>
<path d="M382.57 455.33L407.26 450.94" stroke-width="5"/>
<path d="M407.26 450.94L432.78 443.63" stroke-width="5"/>
<path d="M432.78 439.98L433.6 467.02" stroke-width="5"/>
<path d="M368.58 483.84L382.57 494.8" stroke-width="8"/>
<path d="M434.42 421.7L440.19 430.47" stroke-width="4"/>
<path d="M382.57 455.33L376.81 467.02" stroke-width="3.5"/>
</g>
<g stroke="#b81c58" stroke-linecap="round" filter="url(#bl1)" fill="none">
<path stroke-width="1" opacity="0.75" d="M373.8 426.9h0M433.6 476.4h0M421.7 478.7h0M415.8 460.5h0M371.1 450.2h0"/>
<path stroke-width="1.2" opacity="0.5" d="M434.7 483.2h0M423.6 475h0M437.5 487.5h0M403.2 465h0M427.1 428.3h0M432.7 434.7h0M431.6 478.4h0"/>
<path stroke-width="1.2" opacity="0.75" d="M393.5 438.8h0M374.7 474.3h0M433 482.8h0M394.6 423.8h0M375.1 445.9h0M431 444.9h0M418.3 460.6h0"/>
<path stroke-width="1.4" opacity="0.5" d="M409.5 472h0M388.3 466.9h0"/>
<path stroke-width="1.4" opacity="0.75" d="M423.4 466.1h0M440.7 439.6h0M435.5 445.7h0M372.1 494.1h0M429.3 424.4h0M401.1 427.4h0M393.9 435.6h0M418.6 457.5h0M377.9 435.2h0M427.8 483.7h0"/>
<path stroke-width="1.4" d="M417.8 451.8h0"/>
<path stroke-width="1.6" opacity="0.5" d="M413 426.5h0M422 431.2h0M384.9 437.5h0M414.4 459.2h0M387.2 479.7h0M420.1 424.1h0M443.8 470.5h0M405 436.1h0"/>
<path stroke-width="1.6" opacity="0.75" d="M422 463.8h0M416.8 451.6h0M421.7 452.9h0M429.7 426.1h0M384.5 423.9h0M436 439.9h0"/>
<path stroke-width="1.8" opacity="0.5" d="M436.7 471.9h0M435.4 488.1h0"/>
<path stroke-width="1.8" opacity="0.75" d="M407.4 458.1h0M378.3 487.3h0"/>
</g>
<text x="365.4" y="429.2" font-size="3.9" fill="#e4e4e4" textLength="28.28" lengthAdjust="spacingAndGlyphs">DAPI + CD4 low</text>
<rect x="432" y="490.4" width="10.8" height="0.8" fill="#d8d8d8"/>
<rect x="434.7" y="492.1" width="5.5" height="1.1" fill="#bbbbbb"/>
</g>
<g clip-path="url(#mc12)">
<rect x="448.1" y="421.7" width="80.8" height="73.1" fill="#07050b"/>
<rect x="448.1" y="421.7" width="80.8" height="73.1" filter="url(#fRl)"/>
<g filter="url(#bl2)" stroke="#02020a" stroke-linecap="round" opacity="0.8">
<path d="M450.52 429.01L450.52 483.84" stroke-width="5.5"/>
<path d="M468.3 455.33L492.54 450.94" stroke-width="5"/>
<path d="M492.54 450.94L517.59 443.63" stroke-width="5"/>
<path d="M517.59 439.98L518.4 467.02" stroke-width="5"/>
<path d="M454.56 483.84L468.3 494.8" stroke-width="8"/>
<path d="M519.2 421.7L524.86 430.47" stroke-width="4"/>
<path d="M468.3 455.33L462.64 467.02" stroke-width="3.5"/>
</g>
<g stroke="#c81c24" stroke-linecap="round" filter="url(#bl1)" fill="none">
<path stroke-width="1" opacity="0.5" d="M506.7 478.7h0M487.1 427.1h0"/>
<path stroke-width="1" opacity="0.75" d="M459.7 426.9h0M500.9 460.5h0M457.1 450.2h0M492.1 476.5h0M526.2 477.7h0M455.8 432.9h0"/>
<path stroke-width="1" d="M511 468.9h0"/>
<path stroke-width="1.2" opacity="0.25" d="M517.5 434.7h0M468.6 483.7h0M491.9 440.4h0M496 458.5h0M468.6 449h0"/>
<path stroke-width="1.2" opacity="0.5" d="M480.1 423.8h0M508.5 475h0M488.5 465h0M489.4 471.7h0M527.2 441.6h0M477.7 490.7h0M524.2 476.1h0M471.7 441h0M505.4 486.5h0"/>
<path stroke-width="1.2" opacity="0.75" d="M479 438.8h0M460.6 474.3h0M517.8 482.8h0M518.4 476.4h0M461 445.9h0M503.3 460.6h0M455.6 460h0M457 467.4h0M497.4 471.6h0M524.6 489.3h0M476.5 481.2h0"/>
<path stroke-width="1.4" opacity="0.25" d="M527.2 432.9h0M522.1 438.8h0M474.7 482.4h0M513.3 473.1h0M484.2 439.2h0"/>
<path stroke-width="1.4" opacity="0.5" d="M519.4 483.2h0M522.2 487.5h0M512 428.3h0M516.4 478.4h0M516.1 493.9h0M464.8 443.6h0M493.9 454.8h0M460.4 429.1h0M524.6 423.5h0M486.1 461.2h0M523.5 470.6h0M494.2 424h0M528.1 459.8h0"/>
<path stroke-width="1.4" opacity="0.75" d="M508.4 466.1h0M525.3 439.6h0M520.2 445.7h0M486.4 427.4h0M463.7 435.2h0M512.7 483.7h0M515.9 444.9h0M486.9 447.2h0M483.2 482.5h0M510 439.4h0"/>
<path stroke-width="1.4" d="M502.9 451.8h0"/>
<path stroke-width="1.6" opacity="0.25" d="M507 431.2h0M524 454.7h0M463.4 471.3h0M512.4 469.9h0"/>
<path stroke-width="1.6" opacity="0.5" d="M494.7 472h0M474 466.9h0M501.9 451.6h0M470.6 437.5h0M499.5 459.2h0M472.8 479.7h0M490.3 436.1h0M450.3 488.3h0M509 472h0"/>
<path stroke-width="1.6" opacity="0.75" d="M458.1 494.1h0M514.2 424.4h0M479.4 435.6h0M503.6 457.5h0M488 428.1h0M508.4 470.5h0"/>
<path stroke-width="1.6" d="M482.2 428.6h0M505.4 474.4h0"/>
<path stroke-width="1.8" opacity="0.25" d="M498.1 426.5h0"/>
<path stroke-width="1.8" opacity="0.5" d="M506.7 452.9h0M505.1 424.1h0M528.4 470.5h0M455.5 488.7h0M524.9 488.5h0M523.7 459.3h0M523.9 493.3h0M518.1 489h0"/>
<path stroke-width="1.8" opacity="0.75" d="M507 463.8h0M514.5 426.1h0M470.2 423.9h0M464.2 487.3h0M520.7 439.9h0M517 467h0M485.1 428.1h0M502.6 437.7h0"/>
<path stroke-width="1.8" d="M512.8 471.9h0"/>
<path stroke-width="2" opacity="0.25" d="M521.5 471.9h0M510.4 435h0"/>
<path stroke-width="2" opacity="0.5" d="M520.1 488.1h0M511.5 479.9h0M481.2 482.5h0M484.3 468.6h0"/>
<path stroke-width="2" opacity="0.75" d="M492.7 458.1h0M486.5 484.2h0"/>
</g>
<g stroke="#1a9038" stroke-linecap="round" filter="url(#bl1)" fill="none">
<path stroke-width="1" opacity="0.25" d="M457.2 447.2h0M499.8 465.9h0"/>
<path stroke-width="1" opacity="0.5" d="M498.2 466.7h0"/>
<path stroke-width="1.2" opacity="0.25" d="M497.1 475.4h0M487.4 440.7h0M475.7 489.3h0"/>
<path stroke-width="1.2" opacity="0.5" d="M481 446h0M462.9 473.6h0M454 426.4h0M489.8 460.9h0"/>
<path stroke-width="1.2" opacity="0.75" d="M478.4 488h0M504.1 489h0M489 442.4h0M455.7 455.2h0"/>
<path stroke-width="1.4" opacity="0.25" d="M459 426.4h0M498.8 451.6h0M478.2 431.4h0M491.4 489.8h0"/>
<path stroke-width="1.4" opacity="0.5" d="M474.2 472.2h0M523.5 483.6h0M514 464.2h0"/>
<path stroke-width="1.4" opacity="0.75" d="M470.9 439h0"/>
<path stroke-width="1.6" opacity="0.25" d="M519.9 471.9h0M495.8 428.7h0M497.8 492.7h0"/>
<path stroke-width="1.6" opacity="0.5" d="M480 429.6h0M462.2 447.9h0"/>
<path stroke-width="1.6" opacity="0.75" d="M481.8 430.4h0M485.1 442.7h0"/>
<path stroke-width="1.8" opacity="0.25" d="M488.1 462.3h0M483.2 432.6h0M518.1 473.4h0M487.8 441.6h0"/>
<path stroke-width="1.8" opacity="0.5" d="M526.7 466.8h0M494.8 478.6h0"/>
<path stroke-width="1.8" opacity="0.75" d="M480.7 432.8h0M484.1 481.5h0M474.5 466.6h0"/>
<path stroke-width="2" opacity="0.25" d="M489.4 437.2h0"/>
<path stroke-width="2" opacity="0.5" d="M479.3 483.5h0"/>
</g>
<text x="451.5" y="429.2" font-size="3.9" fill="#e4e4e4" textLength="42.66" lengthAdjust="spacingAndGlyphs">FAM111B low + CD4 low</text>
<rect x="516.6" y="490.4" width="10.8" height="0.8" fill="#d8d8d8"/>
<rect x="519.3" y="492.1" width="5.5" height="1.1" fill="#bbbbbb"/>
</g>
<text x="7.5" y="342.5" font-size="4.2" fill="#444" stroke="#444" stroke-width="0.04" textLength="3.5" lengthAdjust="spacingAndGlyphs">M</text>
<text x="12.6" y="382" font-size="4" fill="#111" text-anchor="middle" stroke="#111" stroke-width="0.04" font-weight="bold" textLength="28.9" lengthAdjust="spacingAndGlyphs" transform="rotate(-90 12.6 382)">Ovarian cancer</text>
<text x="12.6" y="458.3" font-size="4" fill="#111" text-anchor="middle" stroke="#111" stroke-width="0.04" font-weight="bold" textLength="27.78" lengthAdjust="spacingAndGlyphs" transform="rotate(-90 12.6 458.3)">Co-expression</text>
<path d="M27 511V591.5H95" fill="none" stroke="#444" stroke-width="0.5"/>
<path d="M27 589.4h-1.2" stroke="#444" stroke-width="0.4"/>
<text x="25" y="590.7" font-size="3.8" fill="#222" text-anchor="end" stroke="#222" stroke-width="0.04" textLength="5.28" lengthAdjust="spacingAndGlyphs">0.0</text>
<path d="M27 570.2h-1.2" stroke="#444" stroke-width="0.4"/>
<text x="25" y="571.5" font-size="3.8" fill="#222" text-anchor="end" stroke="#222" stroke-width="0.04" textLength="5.28" lengthAdjust="spacingAndGlyphs">0.1</text>
<path d="M27 551h-1.2" stroke="#444" stroke-width="0.4"/>
<text x="25" y="552.3" font-size="3.8" fill="#222" text-anchor="end" stroke="#222" stroke-width="0.04" textLength="5.28" lengthAdjust="spacingAndGlyphs">0.2</text>
<path d="M27 531.8h-1.2" stroke="#444" stroke-width="0.4"/>
<text x="25" y="533.1" font-size="3.8" fill="#222" text-anchor="end" stroke="#222" stroke-width="0.04" textLength="5.28" lengthAdjust="spacingAndGlyphs">0.3</text>
<path d="M27 512.6h-1.2" stroke="#444" stroke-width="0.4"/>
<text x="25" y="513.9" font-size="3.8" fill="#222" text-anchor="end" stroke="#222" stroke-width="0.04" textLength="5.28" lengthAdjust="spacingAndGlyphs">0.4</text>
<path d="M48 591.5v1.2" stroke="#444" stroke-width="0.4"/>
<path d="M83 591.5v1.2" stroke="#444" stroke-width="0.4"/>
<text x="48" y="598.6" font-size="3.9" fill="#222" text-anchor="middle" stroke="#222" stroke-width="0.04" textLength="6.72" lengthAdjust="spacingAndGlyphs">Th1</text>
<text x="83" y="598.6" font-size="3.9" fill="#222" text-anchor="middle" stroke="#222" stroke-width="0.04" textLength="6.72" lengthAdjust="spacingAndGlyphs">Th2</text>
<text x="62" y="604.6" font-size="3.9" fill="#222" text-anchor="middle" stroke="#222" stroke-width="0.04" textLength="20.34" lengthAdjust="spacingAndGlyphs">CD4+ T cell</text>
<text x="11.2" y="551" font-size="3.9" fill="#222" text-anchor="middle" stroke="#222" stroke-width="0.04" textLength="24.71" lengthAdjust="spacingAndGlyphs" transform="rotate(-90 11.2 551)">Immune score</text>
<text x="61" y="510.2" font-size="4.2" fill="#222" text-anchor="middle" stroke="#222" stroke-width="0.04" textLength="11.67" lengthAdjust="spacingAndGlyphs">TCGA</text>
<text x="8" y="505" font-size="4.2" fill="#444" text-anchor="middle" stroke="#444" stroke-width="0.04" textLength="3.03" lengthAdjust="spacingAndGlyphs">N</text>
<path d="M48 516.5H83" stroke="#888" stroke-width="0.5"/>
<text x="65.5" y="516.2" font-size="3.2" fill="#444" text-anchor="middle" stroke="#444" stroke-width="0.04" textLength="3.74" lengthAdjust="spacingAndGlyphs">***</text>
<text x="96" y="518.8" font-size="3.8" fill="#222" stroke="#222" stroke-width="0.04" textLength="10.67" lengthAdjust="spacingAndGlyphs">n=376</text>
<path stroke="#3ab0d0" stroke-width="1.8" stroke-linecap="round" d="M52 587.1h0M47.7 585h0M49.6 586.5h0M52.4 587h0M51.9 585.4h0M52.2 588.3h0M51.5 588.2h0M44.3 586.8h0M48.7 585.5h0M50.5 587.2h0M51 579.2h0M52.3 573.3h0M51.5 586.7h0M43.1 588.7h0M43.3 588h0M52.3 588.3h0M53.5 574.3h0M44.5 581h0M46.6 588.5h0M47.9 588.7h0M46.2 577.9h0M54 587h0M42.5 575.5h0M45.5 588.3h0M52.3 586.6h0M51.1 570.8h0M51.2 582.3h0M42.1 586.5h0M43.2 576.4h0M47.7 581.4h0M45 586.7h0M42.1 585.9h0M48 584.7h0M54 587.3h0M45.1 583.1h0M49.5 587.3h0M45.2 584.8h0M42.7 586h0M43.6 581.1h0M50.2 583.6h0M43.9 583.8h0M47.5 581.7h0M44.2 585.5h0M44.9 580.8h0M52.4 571.8h0M53.1 578.6h0M54.2 578.3h0M51.1 587.3h0M46.8 581.5h0M51.1 581.8h0M50.6 588.2h0M43.6 580.5h0M51.5 584.6h0M48.8 581.8h0M42.5 584.6h0M49.7 587.8h0M43.8 583.9h0M48.2 588.2h0M53.6 580.6h0M47.4 588.6h0M52.3 586.8h0M46.8 589.4h0M42.8 572.3h0M42.2 585.6h0M51.8 578h0M49.7 570.5h0M50.1 578.5h0M48.6 586.6h0M50.7 581.6h0M51.3 581.1h0M47.6 588.4h0M46.6 575.3h0M48.7 582h0M49.4 587.9h0M50.1 583.2h0M49.8 585h0M44.4 577.6h0M44.6 589.3h0M48.3 583.3h0M45.6 578.3h0M50.3 582.2h0M43.9 586.7h0M48.3 587.4h0M50.4 582.7h0M50.3 573.2h0M47.7 578.5h0M46.6 571.4h0M51.1 580.7h0M47.2 575.9h0M42.1 575.7h0M45.9 580.3h0M49.2 576.2h0M43.6 582.3h0M47.9 586h0M46.2 587.2h0M51.6 585.1h0M47.1 586.6h0M47.2 582.6h0M49.7 585.2h0M49.4 582.3h0M42.1 586.3h0M45.2 588.2h0M52.6 581.7h0M52.6 580.6h0M50 588.4h0M52.1 588.6h0M45.2 585.5h0M48.6 588.3h0M50.5 585.8h0M44.8 580.5h0M46.9 583.1h0M46.4 587.3h0M51.6 583.9h0M45.9 574.4h0M51 589.3h0M53.8 588.8h0M51.4 587.5h0M42.9 585.3h0M51.1 583.7h0M47.8 584.8h0M51.3 587.7h0M45.9 584.8h0M47.8 573h0M44.1 589.1h0M42 588.4h0M47.6 587.7h0M45.3 584.5h0M43 572.1h0M43.5 580h0M51.3 585.2h0M51.2 570.9h0M50.4 587.1h0M42 578.9h0M47.3 588.4h0M41.9 588.7h0M54 585.3h0M50.1 584.9h0M42.2 579.8h0M51.8 583.3h0M53.2 586.8h0M53.2 572.6h0M48.5 577.3h0M43.1 581.3h0M42.1 581.4h0M43.2 588.1h0M48.3 582.4h0M51.9 582h0M51.4 582.9h0M46.5 584.5h0M49.5 584.9h0M47.1 588.7h0M51.7 581.6h0M53.2 578.1h0M53.7 589.4h0M43.5 585.5h0M51.4 589.1h0M45.1 589.3h0M53 585.2h0M47.5 581.1h0M46.3 586.8h0M43.3 580.2h0M48.4 570.2h0M43 577h0M44.5 588.8h0M47.1 588h0M42.2 583.6h0M45.3 588.7h0M53 585.3h0M47.7 576.1h0M51.5 585.7h0M52.8 583.9h0M44.7 583.5h0M48.7 578.1h0M53.5 588.1h0M53.7 582.8h0M49.5 581.3h0M50.9 588.1h0M48.1 589h0M47.5 582.7h0M53.8 579h0M52.3 589h0M50.3 574.4h0M47.2 587.2h0M43.1 587.8h0M45.5 587.8h0M51.6 588.3h0M43.4 581.9h0M42.6 580.8h0M47 578h0M51.6 585.6h0M48 583.5h0M43.5 578.7h0M43.9 587.4h0M49.9 581.3h0M50.3 581h0M49.8 588.4h0M51.2 576.1h0M47.7 582.8h0M42.3 579.9h0M43 588.2h0M43.9 589.2h0M45.6 587h0M49.4 588.7h0M43.2 588.8h0M53.5 585.5h0M50.5 586h0M47.3 586h0M43.6 582.9h0M47.6 588.2h0M47.4 588.4h0M48.1 588.8h0M48.3 579.3h0M53.6 585.5h0M48.3 588.2h0M46.1 586h0M52.8 587.5h0M46.4 583.5h0M50.3 586.4h0M44.7 578h0M47.2 579.4h0M53.9 587.2h0M42.4 585.2h0M41.8 580.5h0M52.6 588h0M46.5 588h0M43.9 583.9h0M47.9 581.7h0M49.9 579.7h0M52.3 575.7h0M44.3 589h0M53 540.8h0"/>
<path stroke="#e8442e" stroke-width="1.8" stroke-linecap="round" d="M79 574.6h0M80.3 583.7h0M82.9 581.8h0M87.7 560.4h0M79 562.7h0M85.5 584.1h0M79.7 581.2h0M83.9 552.5h0M77.1 579.1h0M81.7 567.2h0M83.8 556h0M78.8 570.6h0M77 574.6h0M86.3 566.4h0M81.6 573.6h0M84.2 583.1h0M87.2 578.3h0M81 572.5h0M84.6 556.1h0M87.9 544.9h0M79.7 563.3h0M77.5 557.7h0M79.4 565h0M82.1 576.4h0M77.4 585.3h0M82 586.6h0M85.1 589.2h0M78.3 545.1h0M88.6 528.6h0M84.3 580.4h0M80.8 526.9h0M86.1 579.2h0M77.8 574h0M88.9 558.6h0M78.1 580.7h0M88.4 555.5h0M89.1 587.3h0M86.3 544.9h0M88 578.6h0M80.3 582.7h0M79.6 579.3h0M78.3 585.5h0M86.3 582.1h0M83 577.7h0M78.7 556.1h0M80.7 567h0M77.2 555h0M79.1 573.7h0M78.5 585.3h0M84.8 557h0M87.4 567.1h0M84.3 585.5h0M81.8 575h0M88.8 546.2h0M84.3 585.1h0M79.9 579.7h0M88.1 558.4h0M79.9 568.8h0M78.2 546.1h0M86.2 567.1h0M80.5 574.9h0M80 526.8h0M88.6 549.4h0M88.3 578h0M88.6 580.6h0M84.3 527.3h0M82.6 557.2h0M87.3 576h0M77.4 578.5h0M78.9 548.4h0M81.5 584.9h0M87 577.3h0M86.3 579.5h0M77.8 583.6h0M84.9 587.2h0M84.9 573.1h0M80.1 580.3h0M87.1 575.1h0M84 559.9h0M78.4 572.7h0M87.5 563.4h0M87.9 576.5h0M87.3 584.5h0M83.9 582.5h0M89 572h0M84.1 589.4h0M83.8 583.1h0M80.7 578.1h0M80.7 567.3h0M84.5 528.8h0M84.2 587h0M76.8 575.4h0M83.1 571.6h0M77.5 582.8h0M80 587.3h0M87.3 567.6h0M78.3 572.2h0M85.5 570h0M87.7 583h0M78.3 582.5h0M81.3 562.7h0M87.7 561.4h0M84.7 546.4h0M78.6 589.4h0M85.3 557.8h0M88.1 584.6h0M86.6 572.9h0M84.5 575.1h0M88.9 587.2h0M77.9 576h0M78.5 570.3h0M83 562h0M85.6 575.1h0M84.2 583.1h0M78.7 582.2h0M87.9 567.3h0M77.7 573.1h0M79.4 576.2h0M86.5 582.8h0M83.1 559.8h0M82 584.3h0M88.2 579.2h0M79.8 556.4h0M87.7 565.9h0M78.8 580.5h0M80.8 573.8h0M78.1 574.1h0M84.5 588.3h0M89.2 586h0M84.8 549h0M86.1 577.3h0M80.8 577.7h0M79 585.1h0M86.2 566h0M78.6 562h0M84.3 565.4h0M87 530.5h0M77.7 567.3h0M76.9 570.2h0M85.7 572.2h0M78.9 582.5h0M77.4 562.4h0M82 585h0M77.4 541.7h0M83.4 551.7h0M85.7 564.8h0M79.9 566.9h0M79.6 531h0M84.6 581.7h0M87.4 553.5h0M89 579.6h0M84.1 583.4h0M86.1 587.5h0M80.3 580h0M77.6 571.1h0M84.7 580.4h0M80.5 568.9h0M83.2 543.4h0M78.9 546.1h0M78.7 553.2h0M85.9 556.9h0M81.7 567h0M78.3 549.6h0M80.7 587.5h0M78.3 583.4h0M80.8 539.9h0M82.8 547.5h0M80.5 555.5h0M78.1 564.1h0M82.9 587.6h0M78 558.7h0M84 584.4h0M79 546.4h0M81.6 586.7h0M80.2 587.7h0M88.9 576.9h0M78.8 568.6h0M82.9 528.3h0M85.5 555.6h0M81.2 562.3h0M84.8 582.1h0M86.9 571.5h0M88.4 562.7h0M79.4 584.2h0M83.4 579.3h0M86.8 579.2h0M80 541.6h0M82.7 551.2h0M84.8 577.6h0M78.5 557h0M83.4 579.3h0M81.7 583.3h0M80.5 563.8h0M84.2 588.5h0M79 582.2h0M84 556.2h0M81.2 586.1h0M83.7 561.3h0M87.2 564.5h0M85.8 552.1h0M77.4 572.5h0M88 579.6h0M87.2 587h0M82.6 589.3h0M85.4 559.9h0M85.5 545.9h0M79.4 528.8h0M83.3 577h0M78.8 574.9h0M84.2 586.9h0M86.3 568.7h0M80.4 588.4h0M81.7 558.8h0M79.7 568.3h0M84 576.8h0M80.4 562.1h0M78.8 559.2h0M86 580.5h0M77.3 537.4h0M88.2 587.2h0M82.4 584.6h0M85.2 576.4h0M84.8 584h0M82.8 576h0M77.1 587.3h0M83.3 564.9h0M81.4 572.7h0M83.3 558.2h0M82.6 550.9h0M82.7 563.6h0M83.4 575.5h0M78.7 551.9h0M80.8 571.5h0M80.1 566.6h0M84.1 577.4h0M79.5 540.8h0M89.1 567.1h0M77.1 583.1h0M78 568.2h0M81.4 572.8h0M88.1 547.5h0M86.6 580.5h0M80 556.3h0M87.5 578.9h0M82.2 585.2h0M85.9 558.9h0M84.5 576.8h0M84 585h0M84.7 555.7h0M81 575.4h0M86.5 563.4h0M86.3 568.5h0M83.8 538.9h0M79.5 560.1h0M86.7 567.2h0M87.7 571.7h0M78.5 562.3h0M78.9 582.8h0M77.9 582.3h0M87.1 563.9h0M84.6 564.6h0M87.4 582.5h0M88.3 564.8h0M87.4 565.1h0M87.3 578.3h0M81.8 554.5h0M83.5 581.4h0M86.9 579.6h0M80.1 568.7h0M83.8 587h0M77.3 577h0M87.1 582.8h0M82.6 587.4h0M84 549.7h0M81.9 585h0M80.3 582.4h0M88.5 585.2h0M86.6 549.7h0M87.5 582.9h0M84.5 555h0M80.5 578.4h0M88.6 587.2h0M83.7 558.4h0M77.1 549.1h0M87.8 582.2h0M78.2 549.4h0M87.1 576.7h0M87.4 567.5h0M87.9 556.3h0M85.6 569.4h0M77.2 587.3h0M86.2 576h0M79.9 581.2h0M79.8 587h0M86.2 583.8h0M83.2 566.4h0M88.1 581h0M85.7 580.9h0M85 584.7h0M80.4 573.9h0M80.9 565.4h0M88 563.7h0M81 576.5h0M78.6 573.8h0M81.5 559.5h0M88.3 564.6h0M77.3 560.4h0M87.8 560.3h0M84.2 584.4h0M77.5 557.9h0M83.1 563.2h0M85.6 585.7h0M86.7 586.6h0M77.6 584.8h0M79.5 546.1h0M86.7 580.5h0M87.8 570.6h0M81.4 578.9h0M79 578.2h0M78.7 558.9h0M85.8 564.6h0M79.2 586.9h0M84.4 574.9h0M79.6 568.8h0M79 589.3h0M78.2 574.1h0M84.4 588.9h0M81.1 566.6h0M77.3 554.5h0M80.8 557.8h0M82.3 577.2h0M84.5 580h0M82.4 560.1h0M79.3 586.2h0M83.1 575.4h0M84.1 574.4h0M80.5 566.8h0M85.7 576.8h0M82 579.5h0M82.4 584.8h0M87.7 583.7h0M78.2 560h0M80 569.5h0M77.3 545h0M82.5 549.7h0M80.1 563.3h0M87.6 575.8h0M87.3 578.6h0M78.3 579.8h0M78 546.7h0M84.6 558.7h0M78.9 546.1h0M76.9 558.4h0M77.1 577.1h0M84.6 562h0M85.7 571.8h0M79.1 581.5h0M85.5 565.5h0M84.7 558.8h0M82.2 564.1h0M83.3 566.7h0M78 553.4h0M87.3 567.9h0M84.8 587.2h0M80.5 547.4h0M80.4 585.6h0M87.5 553.8h0M77.7 558.9h0M80.8 562.3h0M89 583.3h0M84.7 575.1h0M84 545.8h0M85.6 586.4h0M78.5 573h0M86.6 556.2h0M85.4 588.8h0M79.6 569.8h0M82.8 568.8h0M87.3 561.2h0M82 530.6h0M86.5 519.1h0M89 520.3h0M80.5 527h0"/>
<text x="112.6" y="505" font-size="4.2" fill="#444" text-anchor="middle" stroke="#444" stroke-width="0.04" textLength="3.27" lengthAdjust="spacingAndGlyphs">O</text>
<path d="M136 512V591H208" fill="none" stroke="#555" stroke-width="0.45"/>
<path d="M136 587.4h-1.2" stroke="#444" stroke-width="0.4"/>
<text x="134" y="588.75" font-size="3.9" fill="#222" text-anchor="end" stroke="#222" stroke-width="0.04" textLength="7.59" lengthAdjust="spacingAndGlyphs">0.00</text>
<path d="M136 563h-1.2" stroke="#444" stroke-width="0.4"/>
<text x="134" y="564.35" font-size="3.9" fill="#222" text-anchor="end" stroke="#222" stroke-width="0.04" textLength="7.59" lengthAdjust="spacingAndGlyphs">0.02</text>
<path d="M136 538h-1.2" stroke="#444" stroke-width="0.4"/>
<text x="134" y="539.35" font-size="3.9" fill="#222" text-anchor="end" stroke="#222" stroke-width="0.04" textLength="7.59" lengthAdjust="spacingAndGlyphs">0.04</text>
<path d="M136 513h-1.2" stroke="#444" stroke-width="0.4"/>
<text x="134" y="514.35" font-size="3.9" fill="#222" text-anchor="end" stroke="#222" stroke-width="0.04" textLength="7.59" lengthAdjust="spacingAndGlyphs">0.06</text>
<path d="M138 591v1.2" stroke="#444" stroke-width="0.4"/>
<text x="138" y="597.9" font-size="3.9" fill="#222" text-anchor="middle" stroke="#222" stroke-width="0.04" textLength="7.59" lengthAdjust="spacingAndGlyphs">0.00</text>
<path d="M157.4 591v1.2" stroke="#444" stroke-width="0.4"/>
<text x="157.4" y="597.9" font-size="3.9" fill="#222" text-anchor="middle" stroke="#222" stroke-width="0.04" textLength="7.59" lengthAdjust="spacingAndGlyphs">0.05</text>
<path d="M177.4 591v1.2" stroke="#444" stroke-width="0.4"/>
<text x="177.4" y="597.9" font-size="3.9" fill="#222" text-anchor="middle" stroke="#222" stroke-width="0.04" textLength="7.59" lengthAdjust="spacingAndGlyphs">0.10</text>
<path d="M196.6 591v1.2" stroke="#444" stroke-width="0.4"/>
<text x="196.6" y="597.9" font-size="3.9" fill="#222" text-anchor="middle" stroke="#222" stroke-width="0.04" textLength="7.59" lengthAdjust="spacingAndGlyphs">0.15</text>
<text x="166" y="509.8" font-size="4.2" fill="#222" text-anchor="middle" stroke="#222" stroke-width="0.04" textLength="8.87" lengthAdjust="spacingAndGlyphs">Area</text>
<text x="166" y="604.6" font-size="4" fill="#222" text-anchor="middle" stroke="#222" stroke-width="0.04" textLength="8" lengthAdjust="spacingAndGlyphs">CD4</text>
<text x="116" y="552" font-size="4.2" fill="#222" text-anchor="middle" stroke="#222" stroke-width="0.04" textLength="17.82" lengthAdjust="spacingAndGlyphs" transform="rotate(-90 116 552)">FAM111B</text>
<path d="M140 582.5L205 550L205 566Z" fill="#cdd0d4" opacity="0.5"/>
<path d="M140 584L205 556" stroke="#a8c8d8" stroke-width="0.6"/>
<path stroke="#4ab4d4" stroke-width="1.7" stroke-linecap="round" d="M206 513.4h0M163 536.6h0M139 541h0M177.4 548.6h0M156 553h0M138.6 559h0M140 561h0M140 572h0M137.4 575h0M174 577.4h0M181 578.6h0M158 585h0M162 587.4h0M170.6 587.4h0M191 587.4h0M143 587h0M138.8 589h0M137.1 587.5h0M148.7 585.8h0M144.2 588h0M137.5 587h0M146.1 587.3h0M146.4 586.1h0M140.1 585.9h0M143.6 589.2h0M144.7 588.6h0M142 588.5h0M138.3 586.7h0M145.8 588.4h0M142.5 585.9h0M140.5 586.3h0M140.7 588.7h0M139.6 589h0M148.4 585.7h0M141.9 587.5h0M137.3 587.2h0M148.8 585.9h0M144.8 586h0M144.5 589.1h0M139.6 585.5h0M138.1 587.7h0M137.2 585.8h0M143.5 589.2h0M142.5 587.1h0M145.3 585.9h0M144.5 586.2h0M144.9 589.3h0M137.7 587.7h0M144.9 586.1h0M140.5 589.5h0M150 586h0M146.2 589.3h0M140.1 587.9h0M137.6 587h0M145.8 587.9h0M139.3 579.9h0M138 587.6h0M138.8 583.5h0M138.2 588.9h0M138.7 579.2h0M139.4 582.3h0M138.3 581.1h0M138.3 582.2h0"/>
<text x="180" y="518.8" font-size="4" fill="#222" stroke="#222" stroke-width="0.04" textLength="18.45" lengthAdjust="spacingAndGlyphs">Spearman</text>
<text x="180" y="525.4" font-size="4" fill="#222" stroke="#222" stroke-width="0.04" textLength="15.23" lengthAdjust="spacingAndGlyphs">R=0.187</text>
<text x="180" y="533.4" font-size="4" fill="#222" stroke="#222" stroke-width="0.04" textLength="15.01" lengthAdjust="spacingAndGlyphs">P=0.037</text>
<text x="180" y="539.6" font-size="4" fill="#222" stroke="#222" stroke-width="0.04" textLength="11.23" lengthAdjust="spacingAndGlyphs">n=125</text>
<path d="M240.6 512.6V592H312" fill="none" stroke="#555" stroke-width="0.45"/>
<path d="M240.6 514h-1.2" stroke="#444" stroke-width="0.4"/>
<text x="238.6" y="515.35" font-size="3.9" fill="#222" text-anchor="end" stroke="#222" stroke-width="0.04" textLength="8.68" lengthAdjust="spacingAndGlyphs">1200</text>
<path d="M240.6 532.6h-1.2" stroke="#444" stroke-width="0.4"/>
<text x="238.6" y="533.95" font-size="3.9" fill="#222" text-anchor="end" stroke="#222" stroke-width="0.04" textLength="6.51" lengthAdjust="spacingAndGlyphs">900</text>
<path d="M240.6 551.4h-1.2" stroke="#444" stroke-width="0.4"/>
<text x="238.6" y="552.75" font-size="3.9" fill="#222" text-anchor="end" stroke="#222" stroke-width="0.04" textLength="6.51" lengthAdjust="spacingAndGlyphs">600</text>
<path d="M240.6 570h-1.2" stroke="#444" stroke-width="0.4"/>
<text x="238.6" y="571.35" font-size="3.9" fill="#222" text-anchor="end" stroke="#222" stroke-width="0.04" textLength="6.51" lengthAdjust="spacingAndGlyphs">300</text>
<path d="M240.6 588.4h-1.2" stroke="#444" stroke-width="0.4"/>
<text x="238.6" y="589.75" font-size="3.9" fill="#222" text-anchor="end" stroke="#222" stroke-width="0.04" textLength="2.17" lengthAdjust="spacingAndGlyphs">0</text>
<path d="M241.6 592v1.2" stroke="#444" stroke-width="0.4"/>
<text x="241.6" y="598.9" font-size="3.9" fill="#222" text-anchor="middle" stroke="#222" stroke-width="0.04" textLength="2.17" lengthAdjust="spacingAndGlyphs">0</text>
<path d="M257.4 592v1.2" stroke="#444" stroke-width="0.4"/>
<text x="257.4" y="598.9" font-size="3.9" fill="#222" text-anchor="middle" stroke="#222" stroke-width="0.04" textLength="8.68" lengthAdjust="spacingAndGlyphs">1000</text>
<path d="M273 592v1.2" stroke="#444" stroke-width="0.4"/>
<text x="273" y="598.9" font-size="3.9" fill="#222" text-anchor="middle" stroke="#222" stroke-width="0.04" textLength="8.68" lengthAdjust="spacingAndGlyphs">2000</text>
<path d="M289 592v1.2" stroke="#444" stroke-width="0.4"/>
<text x="289" y="598.9" font-size="3.9" fill="#222" text-anchor="middle" stroke="#222" stroke-width="0.04" textLength="8.68" lengthAdjust="spacingAndGlyphs">3000</text>
<path d="M305.4 592v1.2" stroke="#444" stroke-width="0.4"/>
<text x="305.4" y="598.9" font-size="3.9" fill="#222" text-anchor="middle" stroke="#222" stroke-width="0.04" textLength="8.68" lengthAdjust="spacingAndGlyphs">4000</text>
<text x="274" y="509.8" font-size="4.2" fill="#222" text-anchor="middle" stroke="#222" stroke-width="0.04" textLength="18.68" lengthAdjust="spacingAndGlyphs">Cell count</text>
<text x="274" y="604.6" font-size="4" fill="#222" text-anchor="middle" stroke="#222" stroke-width="0.04" textLength="8" lengthAdjust="spacingAndGlyphs">CD4</text>
<text x="220" y="552" font-size="4.2" fill="#222" text-anchor="middle" stroke="#222" stroke-width="0.04" textLength="17.82" lengthAdjust="spacingAndGlyphs" transform="rotate(-90 220 552)">FAM111B</text>
<path d="M242 586.5L309 542L309 563Z" fill="#cdd0d4" opacity="0.5"/>
<path d="M242 588L309 552" stroke="#a8c8d8" stroke-width="0.6"/>
<path stroke="#4ab4d4" stroke-width="1.7" stroke-linecap="round" d="M266 514h0M310 529.4h0M283.4 532.6h0M243.4 534h0M259.4 554h0M244.6 553h0M243 556h0M244.6 572h0M243 575h0M279 578h0M283 579h0M265 588h0M281 588h0M292 588h0M243.3 588h0M243.6 588.6h0M242 588.6h0M258.1 587.5h0M256 586.5h0M256.6 587.2h0M246.2 589.4h0M249.7 587h0M259.1 587h0M255.2 586.2h0M258.8 586.5h0M242.5 589.4h0M245 589.3h0M261.7 587.9h0M241.7 585.7h0M245.8 587.1h0M254 589.4h0M248.8 586.1h0M253 586h0M243.3 587.7h0M255.8 585.8h0M250.8 588.3h0M257.2 587h0M259.7 586.2h0M256.2 588.6h0M259.5 587.5h0M243.5 585.7h0M252.3 586.2h0M254.4 585.8h0M257.5 586.4h0M241.8 586.2h0M250.9 587.7h0M249.5 586.2h0M251.4 589.3h0M252.5 589.3h0M242.1 589.5h0M259.7 587.7h0M252.2 587.6h0M260.1 585.8h0M254.7 587.7h0M242.3 586.2h0M243.3 580h0M243.2 583.5h0M242.7 585.4h0M241.6 585h0M242.4 587.8h0M242.1 587.2h0M243.3 585.2h0"/>
<text x="284" y="518.8" font-size="4" fill="#222" stroke="#222" stroke-width="0.04" textLength="18.45" lengthAdjust="spacingAndGlyphs">Spearman</text>
<text x="284" y="525.4" font-size="4" fill="#222" stroke="#222" stroke-width="0.04" textLength="15.23" lengthAdjust="spacingAndGlyphs">R=0.331</text>
<text x="284" y="533.4" font-size="4" fill="#222" stroke="#222" stroke-width="0.04" textLength="15.01" lengthAdjust="spacingAndGlyphs">P&lt;0.001</text>
<text x="284" y="539.6" font-size="4" fill="#222" stroke="#222" stroke-width="0.04" textLength="11.23" lengthAdjust="spacingAndGlyphs">n=125</text>
<path d="M346.6 512V591H417" fill="none" stroke="#555" stroke-width="0.45"/>
<path d="M346.6 525h-1.2" stroke="#444" stroke-width="0.4"/>
<text x="344.6" y="526.35" font-size="3.9" fill="#222" text-anchor="end" stroke="#222" stroke-width="0.04" textLength="9.76" lengthAdjust="spacingAndGlyphs">0.075</text>
<path d="M346.6 546h-1.2" stroke="#444" stroke-width="0.4"/>
<text x="344.6" y="547.35" font-size="3.9" fill="#222" text-anchor="end" stroke="#222" stroke-width="0.04" textLength="9.76" lengthAdjust="spacingAndGlyphs">0.050</text>
<path d="M346.6 567.4h-1.2" stroke="#444" stroke-width="0.4"/>
<text x="344.6" y="568.75" font-size="3.9" fill="#222" text-anchor="end" stroke="#222" stroke-width="0.04" textLength="9.76" lengthAdjust="spacingAndGlyphs">0.025</text>
<path d="M346.6 588h-1.2" stroke="#444" stroke-width="0.4"/>
<text x="344.6" y="589.35" font-size="3.9" fill="#222" text-anchor="end" stroke="#222" stroke-width="0.04" textLength="9.76" lengthAdjust="spacingAndGlyphs">0.000</text>
<path d="M348 591v1.2" stroke="#444" stroke-width="0.4"/>
<text x="348" y="597.9" font-size="3.9" fill="#222" text-anchor="middle" stroke="#222" stroke-width="0.04" textLength="5.42" lengthAdjust="spacingAndGlyphs">0.0</text>
<path d="M366.6 591v1.2" stroke="#444" stroke-width="0.4"/>
<text x="366.6" y="597.9" font-size="3.9" fill="#222" text-anchor="middle" stroke="#222" stroke-width="0.04" textLength="5.42" lengthAdjust="spacingAndGlyphs">0.1</text>
<path d="M384.6 591v1.2" stroke="#444" stroke-width="0.4"/>
<text x="384.6" y="597.9" font-size="3.9" fill="#222" text-anchor="middle" stroke="#222" stroke-width="0.04" textLength="5.42" lengthAdjust="spacingAndGlyphs">0.2</text>
<path d="M403 591v1.2" stroke="#444" stroke-width="0.4"/>
<text x="403" y="597.9" font-size="3.9" fill="#222" text-anchor="middle" stroke="#222" stroke-width="0.04" textLength="5.42" lengthAdjust="spacingAndGlyphs">0.3</text>
<text x="379" y="509.8" font-size="4.2" fill="#222" text-anchor="middle" stroke="#222" stroke-width="0.04" textLength="9.8" lengthAdjust="spacingAndGlyphs">Ratio</text>
<text x="379" y="604.6" font-size="4" fill="#222" text-anchor="middle" stroke="#222" stroke-width="0.04" textLength="8" lengthAdjust="spacingAndGlyphs">CD4</text>
<text x="327" y="552" font-size="4.2" fill="#222" text-anchor="middle" stroke="#222" stroke-width="0.04" textLength="17.82" lengthAdjust="spacingAndGlyphs" transform="rotate(-90 327 552)">FAM111B</text>
<path d="M348 585.5L414 547.4L414 570Z" fill="#cdd0d4" opacity="0.5"/>
<path d="M348 587L414 559" stroke="#a8c8d8" stroke-width="0.6"/>
<path stroke="#4ab4d4" stroke-width="1.7" stroke-linecap="round" d="M369.4 514h0M414.6 521.4h0M350 533h0M382.6 534.6h0M349.4 542.6h0M366.6 546h0M350.6 551h0M352 559h0M351.4 566h0M349.4 572h0M350 581h0M378.6 578.6h0M390.6 577h0M376 583h0M366 581.4h0M360 583h0M377 588h0M386 588h0M408 588h0M367.3 585.2h0M361.1 587.8h0M362.9 586.8h0M349.5 585.9h0M361.4 585.8h0M349.4 586.6h0M358.3 587.4h0M348.6 588.5h0M355.3 588.5h0M348.2 589.3h0M361 589.4h0M369.7 588.7h0M350.3 586.6h0M353.1 588.5h0M352.2 586h0M350.4 585.5h0M368.6 589.4h0M356.2 588.3h0M358.3 587.3h0M356.1 587.9h0M353.2 586.2h0M359.4 585.9h0M357.7 589.2h0M348.5 585.5h0M365.6 585.3h0M353.5 588.8h0M361.3 586h0M349.3 586.2h0M354.6 588.6h0M369.5 588.5h0M367.8 589.2h0M367.3 589.1h0M369.3 585.4h0M355 586.1h0M361.3 587.2h0M355.6 588.8h0M356.8 585.9h0M354.1 587.1h0M361.4 587.6h0M357.7 585.8h0M349.2 581.6h0M348.5 584h0M348.6 585.8h0M350 579.5h0M349.9 581.7h0M349.3 584.7h0M350.3 587.7h0M350.2 580.3h0"/>
<text x="389" y="518.8" font-size="4" fill="#222" stroke="#222" stroke-width="0.04" textLength="18.45" lengthAdjust="spacingAndGlyphs">Spearman</text>
<text x="389" y="525.4" font-size="4" fill="#222" stroke="#222" stroke-width="0.04" textLength="15.23" lengthAdjust="spacingAndGlyphs">R=0.193</text>
<text x="389" y="533.4" font-size="4" fill="#222" stroke="#222" stroke-width="0.04" textLength="15.01" lengthAdjust="spacingAndGlyphs">P=0.031</text>
<text x="389" y="539.6" font-size="4" fill="#222" stroke="#222" stroke-width="0.04" textLength="11.23" lengthAdjust="spacingAndGlyphs">n=125</text>
<path d="M447.4 512V591H522" fill="none" stroke="#555" stroke-width="0.45"/>
<path d="M447.4 525h-1.2" stroke="#444" stroke-width="0.4"/>
<text x="445.4" y="526.35" font-size="3.9" fill="#222" text-anchor="end" stroke="#222" stroke-width="0.04" textLength="4.34" lengthAdjust="spacingAndGlyphs">20</text>
<path d="M447.4 541h-1.2" stroke="#444" stroke-width="0.4"/>
<text x="445.4" y="542.35" font-size="3.9" fill="#222" text-anchor="end" stroke="#222" stroke-width="0.04" textLength="4.34" lengthAdjust="spacingAndGlyphs">15</text>
<path d="M447.4 557h-1.2" stroke="#444" stroke-width="0.4"/>
<text x="445.4" y="558.35" font-size="3.9" fill="#222" text-anchor="end" stroke="#222" stroke-width="0.04" textLength="4.34" lengthAdjust="spacingAndGlyphs">10</text>
<path d="M447.4 573h-1.2" stroke="#444" stroke-width="0.4"/>
<text x="445.4" y="574.35" font-size="3.9" fill="#222" text-anchor="end" stroke="#222" stroke-width="0.04" textLength="2.17" lengthAdjust="spacingAndGlyphs">5</text>
<path d="M447.4 589h-1.2" stroke="#444" stroke-width="0.4"/>
<text x="445.4" y="590.35" font-size="3.9" fill="#222" text-anchor="end" stroke="#222" stroke-width="0.04" textLength="2.17" lengthAdjust="spacingAndGlyphs">0</text>
<path d="M450 591v1.2" stroke="#444" stroke-width="0.4"/>
<text x="450" y="597.9" font-size="3.9" fill="#222" text-anchor="middle" stroke="#222" stroke-width="0.04" textLength="2.17" lengthAdjust="spacingAndGlyphs">0</text>
<path d="M467.6 591v1.2" stroke="#444" stroke-width="0.4"/>
<text x="467.6" y="597.9" font-size="3.9" fill="#222" text-anchor="middle" stroke="#222" stroke-width="0.04" textLength="4.34" lengthAdjust="spacingAndGlyphs">25</text>
<path d="M485.4 591v1.2" stroke="#444" stroke-width="0.4"/>
<text x="485.4" y="597.9" font-size="3.9" fill="#222" text-anchor="middle" stroke="#222" stroke-width="0.04" textLength="4.34" lengthAdjust="spacingAndGlyphs">50</text>
<path d="M503.4 591v1.2" stroke="#444" stroke-width="0.4"/>
<text x="503.4" y="597.9" font-size="3.9" fill="#222" text-anchor="middle" stroke="#222" stroke-width="0.04" textLength="4.34" lengthAdjust="spacingAndGlyphs">75</text>
<path d="M519.4 591v1.2" stroke="#444" stroke-width="0.4"/>
<text x="519.4" y="597.9" font-size="3.9" fill="#222" text-anchor="middle" stroke="#222" stroke-width="0.04" textLength="6.51" lengthAdjust="spacingAndGlyphs">100</text>
<text x="483" y="509.8" font-size="4.2" fill="#222" text-anchor="middle" stroke="#222" stroke-width="0.04" textLength="14.47" lengthAdjust="spacingAndGlyphs">H score</text>
<text x="483" y="604.6" font-size="4" fill="#222" text-anchor="middle" stroke="#222" stroke-width="0.04" textLength="8" lengthAdjust="spacingAndGlyphs">CD4</text>
<text x="431" y="552" font-size="4.2" fill="#222" text-anchor="middle" stroke="#222" stroke-width="0.04" textLength="17.82" lengthAdjust="spacingAndGlyphs" transform="rotate(-90 431 552)">FAM111B</text>
<path d="M450 581.5L520 552L520 580Z" fill="#cdd0d4" opacity="0.5"/>
<path d="M450 583L520 565" stroke="#a8c8d8" stroke-width="0.6"/>
<path stroke="#4ab4d4" stroke-width="1.7" stroke-linecap="round" d="M449.4 514.6h0M453.4 520h0M465 539.4h0M520.6 553h0M471 555h0M449.4 552.6h0M449.4 560h0M460.6 561.4h0M450.6 564.6h0M449.4 569.4h0M452 572h0M464.6 570h0M461.4 579h0M480.6 581.4h0M470 582h0M456 583h0M471 588.6h0M505 588.6h0M454.5 585.3h0M448.2 586.9h0M453.6 589.1h0M451.9 588.8h0M454.2 583.7h0M456.6 585h0M454.4 583.5h0M448.1 589.4h0M448.5 584h0M450 583.7h0M457.9 590h0M455.8 585.8h0M458.7 586.5h0M449.6 587.8h0M452.3 584.9h0M451.8 585.7h0M450.2 587.3h0M458.4 587h0M448.1 587.8h0M448.2 586.4h0M458.4 587.7h0M458.9 588.3h0M451.3 584h0M453.4 587.8h0M450.8 585.3h0M457 585.4h0M455.2 586.8h0M459.1 583.2h0M450.2 588.4h0M456 583.7h0M449.6 584.5h0M454.5 589.3h0M450.6 584.4h0M456.2 586h0M458.2 590h0M450.8 584.9h0M449.5 573.1h0M450.4 579.2h0M449.4 583.4h0M450.9 582h0M450.8 589.4h0M448.3 578.4h0M450.7 585.8h0M450.9 575.4h0M449.6 588.8h0M449.6 584.1h0M450.9 575.1h0"/>
<text x="496" y="518.8" font-size="4" fill="#222" stroke="#222" stroke-width="0.04" textLength="18.45" lengthAdjust="spacingAndGlyphs">Spearman</text>
<text x="496" y="525.4" font-size="4" fill="#222" stroke="#222" stroke-width="0.04" textLength="15.23" lengthAdjust="spacingAndGlyphs">R=0.246</text>
<text x="496" y="533.4" font-size="4" fill="#222" stroke="#222" stroke-width="0.04" textLength="15.01" lengthAdjust="spacingAndGlyphs">P=0.006</text>
<text x="496" y="539.6" font-size="4" fill="#222" stroke="#222" stroke-width="0.04" textLength="11.23" lengthAdjust="spacingAndGlyphs">n=125</text>
</svg></body></html>
